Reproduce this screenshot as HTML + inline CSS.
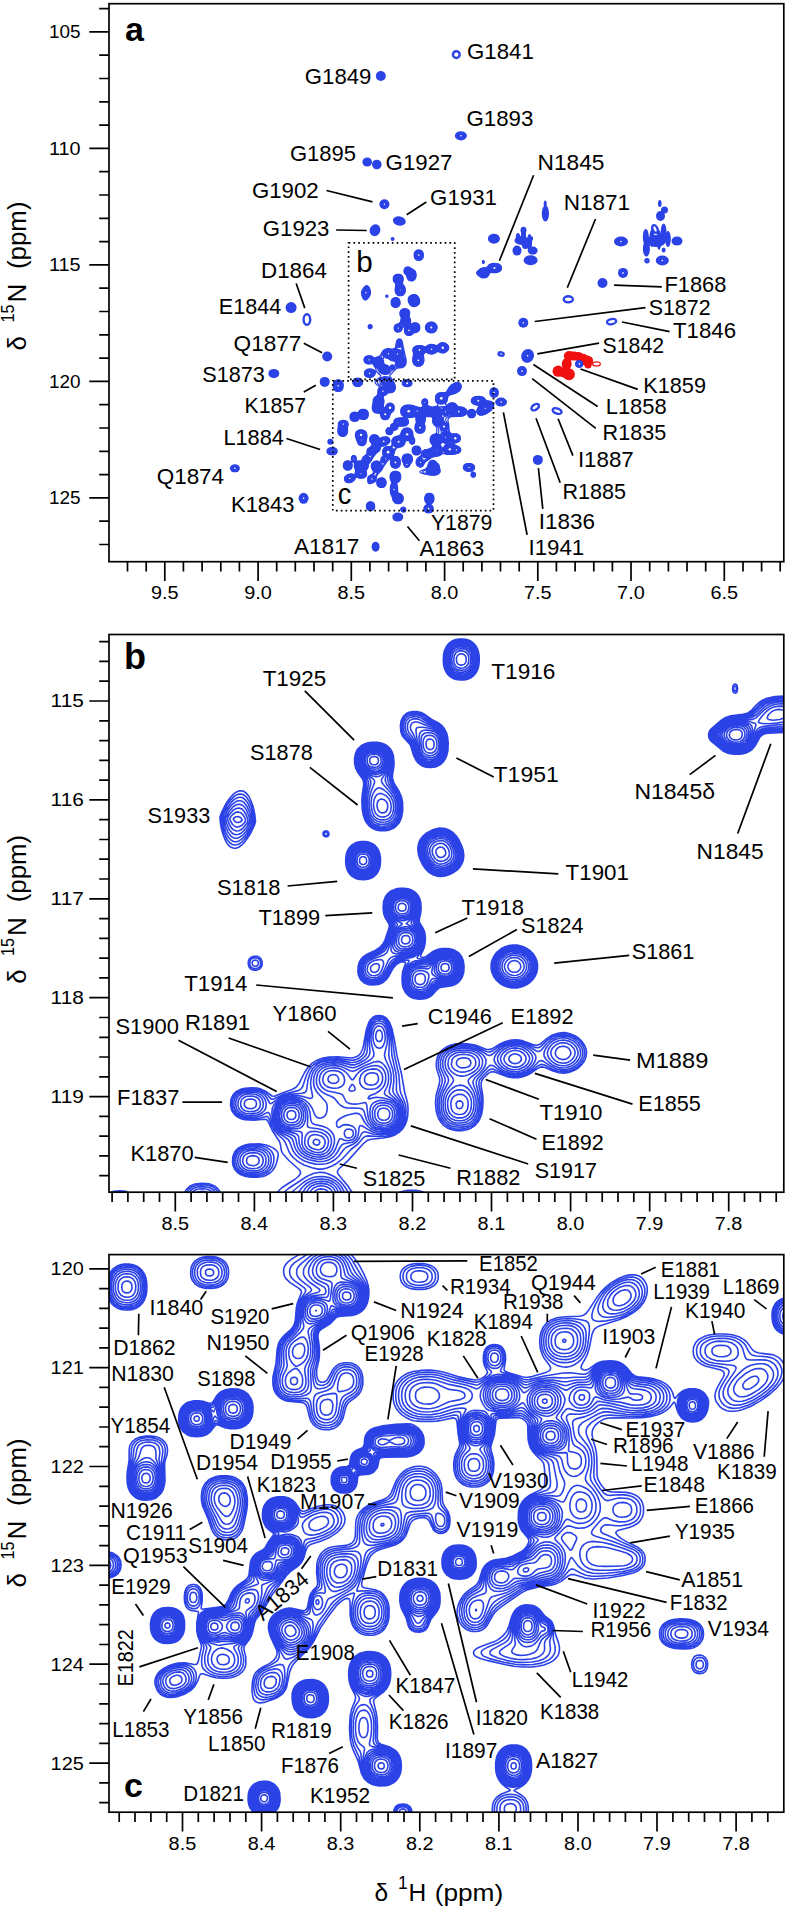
<!DOCTYPE html><html><head><meta charset="utf-8"><title>HSQC</title><style>html,body{margin:0;padding:0;background:#fff}svg{display:block}text{font-family:"Liberation Sans",Arial,sans-serif;fill:#000}.l{font-size:22px}.t{font-size:18.7px}.k{stroke:#000;stroke-width:1.7;fill:none}.ax{font-size:26px}</style></head><body>
<svg width="786" height="1906" viewBox="0 0 786 1906">
<rect width="786" height="1906" fill="#fff"/>
<defs>
<clipPath id="cpa"><rect x="109.0" y="3.7" width="674.8" height="558.0"/></clipPath>
<clipPath id="cpb"><rect x="109.0" y="634.5" width="674.8" height="557.7"/></clipPath>
<clipPath id="cpc"><rect x="109.0" y="1254.6" width="674.8" height="557.6000000000001"/></clipPath>
</defs>
<g clip-path="url(#cpb)"><path fill="none" stroke="#2b42e6" stroke-width="1.6" stroke-linejoin="round" d="M455 639.8l4-0.7 4-0.1 4 0.6 3 1.2 2.7 1.7 2.1 2 2 3 1.3 3 1 5 0.2 5-0.5 5-1.1 4-1.5 3-2.4 3-2.8 2.2-3 1.4-4 0.8-4 0.1-4-0.5-3-1.1-3-1.8-2.2-2.1-2-3-1.3-3-0.9-4-0.3-5 0.3-5 0.9-4 1.9-4 2.4-3 3.2-2.4zM735 684.1l1 0.2 1 1.1 0.6 3.1-0.6 3.4-1 1-1 0.2-1-0.3-1-1.3-0.4-3 0.6-3 0.8-1.1zM406 713.8l3-1.5 4-0.7 4 0 4 0.9 3 1.5 7.7 5.5 7.3 3.8 3 2.4 2.3 2.8 2.1 4 1.3 5 0.5 6-0.3 7-1.2 5-1.2 3-2.5 3.7-3 2.6-3 1.6-3 0.8-4 0.3-4-0.3-3-0.9-2-1.1-3-2.4-1.9-2.3-2.5-5-2.6-8.8-1-2.2-7-7.9-1.2-2.1-1-3-0.4-6 0.8-5 2-4zM785 732.5l-16 0.6-3 0.4-3 1-3 2.3-4.6 8.7-3.4 4-3 2.1-3 1.4-4 1-3 0.3-5 0-4-0.5-3-0.9-4-1.9-11.6-9.5-2.2-3-0.6-3 0.1-2 0.6-2 1.7-2.5 10-8.6 4-2.6 6-2.1 12-1.4 5-1.3 3.4-2.5 4.6-5.2 3.1-2.8 3.9-2.5 4-1.7 8-1.8 10-0.5M368 742.8l4-0.5 5 0.1 4 0.6 3 1 3 1.7 3 2.8 1.9 3 1.5 4 0.7 8-0.4 4-1.2 7 0 4 1.5 4.6 5.1 8.4 2.2 5 1.3 6 0.1 8-1.2 7-1.2 3-1.7 3-2.6 2.8-2 1.6-5 2.2-4 0.6-5 0-4-0.8-4-1.8-3-2.3-2.6-3.3-1.6-3-1.4-4-1.1-6-0.4-8 0.3-6 1.5-11-0.2-3-1.2-3-4.5-6-2-4-1.2-5 0-5 0.9-5 1.3-3 1.4-2 3.8-3.3 3-1.5zM242 790.8l2 0.7 2.6 2 2.3 3 1.5 3 2 5 1.4 5 1.1 6 0.6 6-1.2 4-2.8 6-2.9 5-3.6 5.1-3 3.2-3 2.2-3 1.2-2 0.1-3-1-2-1.6-2-2.5-2-3.7-1.6-4-1.8-6-1.1-6-0.6-6 1.6-5 3-6 2.9-5 2.9-4 2.7-2.9 3-2.4 3-1.3zM440 828.1l5 0.5 4 1.4 3.9 2.5 3 3 2.8 4 2.9 6 1.6 5 0.6 5-0.4 4-0.9 3-2.1 4-2.7 3-3.7 2.7-5 2.5-4 1.3-4 0.5-4-0.4-4-1.3-4-2.5-3-2.8-3.5-5-2.4-5-1.6-5-0.7-5 0.4-4 1.1-4 1.7-3 2.5-3 3.5-2.8 5-2.6 4-1.3zM324 831.4l2-0.6 2.1 0.7 0.9 2-0.4 2-0.6 0.7-1 0.5-2 0-1.6-1.2-0.4-2 0.2-1zM355 843.1l3-1 3-0.5 5 0 3 0.6 3 1.2 3 2.1 1.8 2 1.8 3 1.1 3 0.8 5-0.1 5-0.6 4-1.6 4-2.1 3-2.1 2-3 1.7-3 1-4 0.4-4-0.1-3-0.6-3-1.3-2.9-2.1-1.8-2-1.8-3-1.3-4-0.5-4 0.1-5 0.7-4 1.1-3 1.8-3 2.6-2.6zM396 888.9l4-0.6 4 0 4 0.5 3 1 3 1.6 2 1.7 2 2.4 1.6 3 1.2 4 0.3 6-0.5 5-1.4 6 0 2 0.8 2 2.6 4 1.5 3 0.8 3 0.5 4-0.1 4-0.6 4-1.2 4-2.9 6 0 1 0.4 0.4 2 0.6 3-0.8 7-5.2 5-2.2 4-0.7 6 0 3 0.4 3 1 4 2.4 2 2 1.6 2.1 1.7 4 0.8 6-0.4 6-1.6 5-2.9 4-3.2 2.5-4 1.7-10 1.4-3 1-1.8 1.4-5.5 6-2.7 1.7-3 1.2-3 0.6-4 0.1-3-0.3-3-0.7-2-0.9-2.7-1.7-2-2-1.4-2-1.5-3-0.9-3-0.5-7 0.7-7 2.8-8 0-1-0.5-0.6-2-0.3-2 0.4-2 0.8-2.6 1.7-3.4 3.9-4.5 8.1-2.1 3-3.4 2.9-4 1.8-3 0.6-4 0.2-3-0.3-3-0.9-2.4-1.3-2.2-2-1.5-2-1.3-3-0.7-4 0.3-5 1-4 1.8-3.3 2-2.2 3-2.2 9.2-4.3 4.5-3 3.3-3.7 2-3.8 4-12.1 0.4-2.4-0.6-2-3.7-6-1.4-4-0.6-6 0.5-6 1.9-5 2.5-3.2 3-2.4zM505 946.8l4-1.2 4-0.6 4 0.1 5 1.1 4 1.7 4 2.7 2.9 2.9 2.6 4 1.2 3 0.8 4 0 4-0.8 4-1.2 3-2.6 4-3 3-3.9 2.6-4 1.7-5 1.1-5 0-4-0.7-4-1.4-4-2.3-3.4-3-2.9-4-1.8-4-0.8-4 0.1-5 1.1-4 2-4 2.7-3.4 4-3.3zM251 957.2l3-1 3 0.1 2 0.7 1.8 1.5 1.3 3 0 3-0.5 2-1.6 2.2-3 1.4-3 0.1-3-1-1.7-1.7-1-3 0-3 0.7-2.1zM584.7 1045.5l1.5 4 0.4 3-0.5 4-1.5 4-2.6 3.9-3.2 3.1-3.8 2.6-5 2-6 1.1-5-0.4-6-1.7-8-3.6-3-0.6-2 0.4-2 0.9-7 4.8-4 2.2-5 1.7-4 0.7-5 0.1-5-0.8-14-5.2-3 0.2-3 1.7-4.9 4.9-1.2 2-0.7 2-0.2 3 1.7 10 0.3 6-0.4 7-1.1 6-2 5-1.9 3-2.7 3-3.9 2.7-4 1.6-5 0.8-5 0-5-0.8-4-1.5-4-2.7-2.9-3.1-2.5-4-1.2-3-1.1-4-0.6-5-0.2-5 0.8-7 2.9-10 0.6-4-0.4-3-2.8-9-0.3-3 0.1-4 1.2-5 2.2-4 3.2-3.2 4-2.6 4-1.6 5-1.2 5-0.4 6 0.2 8 1.4 11 4.1 3 0.4 3-0.7 8-4.9 5-2.3 5-1.4 5-0.5 4 0.3 4 0.8 11 4 3 0.4 3-1 7-5.9 5-3.1 6-2.1 5-0.6 4 0.3 3 0.8 6 2.6 3 2.2 2.2 2zM234.4 1152.5l1.4-2 2.2-2.1 2-1.3 3-1.4 3-0.9 4-0.7 9-0.2 7 1.1 4 1.4 3 1.5 2.2 1.6 2 2 0.9 2 0.1 2-1.5 7-1.5 4-2.6 4-2.6 2.5-4 2.4-4 1.3-5 0.6-6-0.1-6-0.9-4-1.5-3.5-2.3-2.7-3-1.8-4-0.5-4 0.4-5zM108.6 1193.5l2.4-1.3 3-0.9 6-0.6 6 0.7 4.8 2.1M184.2 1193.5l2.1-4 3.7-3.4 5-2.1 7-0.8 7 0.6 5 1.9 2 1.3 2 1.9 1.8 2.6 0.8 2M277.1 1193.5l1.9-3 3.1-3 12.6-8 3.7-3 2.1-3-0.1-2-1.4-2-10.1-9-6.2-7-1.4-3-0.9-6-0.9-3-7.2-11-4.2-9-1.1-1.5-1-0.6-2-0.2-10 1-9-0.6-3-0.7-3-1.2-3-1.9-2-1.9-2.2-3.4-1.2-5 0.2-5 0.9-3 1-2 1.5-2 1.8-1.7 4-2.2 5-1.4 7-0.5 5 0.4 4 1 4.9 2.4 6.1 4.5 1 0.3 2-0.2 8-3.3 9.1-3.3 3.9-2.2 3-3.6 5.6-11.2 3.3-5 4.1-4.1 5-3.2 6-2.1 6-1 9-0.3 13 1.2 3-0.4 3-1.1 2-1.4 1.5-1.6 2-4 1-4 2.9-16 2.4-7 1.9-3 2.3-2.2 3-1.5 3-0.3 4 0.6 2 1 2 1.7 2.6 3.7 2.3 6 2.4 11 2.7 16.4 4.4 17.6 3.1 18 3.1 12 0.5 6-0.5 7-1.1 5-1.7 4-2.7 4-3.1 2.9-4 2.5-5 1.8-7 1.3-12 1.2-4 1.4-4 3.4-15 16.6-9.7 8.9-0.9 2 0 1 1 2 9.1 11 5.4 8M398 1193.5l3-1.6 3-0.9 4-0.7 4-0.1 4 0.1 4 0.7 3 1 2.9 1.5M455 640.9l4-0.8 4 0 3 0.4 3 1 3 1.8 2 1.9 1.6 2.3 1.4 3 0.9 3 0.5 5-0.2 5-0.8 4-1.2 3-2.2 3.3-3 2.6-3 1.5-3 0.8-4 0.2-4-0.3-3-0.9-3-1.7-2-1.8-2-2.7-1.4-3-1-4-0.4-5 0.4-5 1-4 1.4-3 2.3-3 2.7-2.2zM735 686l1 0.5 0.5 2-0.3 2-1.2 0.7-1-0.7-0.3-2 0.3-1.7zM407 715l3-1.4 3-0.5 4 0 4 1 3 1.6 6.8 4.8 8.2 4.1 2.3 1.9 2.5 3 1.9 4 1.2 5 0.4 6-0.4 6-1.2 5-1.4 3-2.3 3.2-3 2.5-3 1.4-3 0.6-4 0.2-3-0.4-3-1-2-1.1-2-1.6-2.3-2.8-2.4-5-2.3-8.2-1-2.5-1.6-2.3-4.7-5-1.3-2-1.1-3-0.5-5 0.6-5 1.9-4zM785 731.1l-16 0.8-4 0.7-2.7 0.9-1.6 1-1.7 1.8-4.6 9.2-3.4 3.8-2 1.4-3 1.4-3 0.9-4 0.5-5 0-4-0.6-3-0.9-4-2-11.2-9.5-1.4-2-0.7-3 0.4-3 1.7-3 9.2-8.1 4-2.7 3-1.3 3-0.8 14-1.6 4-1.1 3.5-2.4 7.9-8 3.6-2.3 3-1.4 3-1 5-1 10-0.5M367 743.8l4-0.7 5-0.1 5 0.8 3 1.1 3 1.8 2.8 2.8 1.7 3 1 3 0.6 4 0.1 5-0.5 4-1.6 7 0 4 1.5 4 5.6 9 2.1 5 1.1 6 0.1 7-1 6-1.2 3-1.7 3-1.7 2-2.9 2.3-2 1.1-3 1-4 0.4-4-0.1-4-0.8-3-1.3-3-2.3-2.7-3.3-1.6-3-1.3-4-1-6-0.3-7 0.4-6 1.6-11-0.1-3-1.3-3-4.9-6-2.2-4-1.1-4-0.2-5 0.3-3 0.7-3 2.2-4 3.5-3.4 2-1.1zM241 794l2 0.5 2 1.2 2 2.1 2.3 3.7 1.7 4 1.5 5 1.3 6 0.5 5-1 3-2.9 6-3 5-3.1 4-2.3 2.3-3 2.2-3 1-2 0-2-0.7-2.4-1.8-2.4-3-1.6-3-1.5-4-1.5-5-1-5-0.5-5 1.4-4 3-6 2.5-4 3-3.9 3-3 2-1.4 3-1.1zM440 829.3l4 0.3 4 1.2 4 2.4 2.5 2.3 3 4 3 6 1.3 4 0.8 5-0.2 4-1.2 4-1.6 3-2.6 3-3 2.4-5 2.5-4 1.4-4 0.5-4-0.4-4-1.4-3-1.8-3.4-3.2-2.8-4-2.9-6-1.5-5-0.4-4 0.3-4 0.9-3 1.5-3 2.4-3 2.9-2.4 4-2.2 5-1.9zM325 832.3l1-0.2 1.2 0.4 0.5 1-0.1 1-0.6 0.7-1.2 0.3-0.8-0.3-0.6-0.7-0.1-1zM357 843.1l4-0.7 4 0 3 0.4 3 1 2.8 1.7 2 2 1.5 2 1.4 3 0.9 4 0.2 4-0.2 4-0.9 4-1.3 3-2.3 3-2.1 1.7-3 1.6-4 0.9-3 0.2-3-0.2-4-1-3-1.6-2-1.7-2.2-2.9-1.3-3-0.9-4-0.2-4 0.2-4 1-4 1.4-3 2.3-3 2.7-2zM395 890l4-0.8 5-0.1 4 0.6 3 1 3 1.7 2.2 2.1 2.1 3 1.2 3 0.7 4 0.1 5-0.5 4-1.7 6-0.1 2 0.7 2 2.8 4 2 4 0.9 4 0.1 4-0.3 4-1 4-1.9 4-3.7 5-0.5 1 0.7 1 3.2 0.6 4-0.4 2-1.1 5-4.3 4-2.4 5-1.4 6-0.2 5 0.8 3 1.3 2 1.2 2 1.8 1.6 2.1 1.9 4 0.8 6-0.4 6-1.2 4-2.7 4.1-3 2.5-4 1.8-4 0.8-7 0.6-3 1.1-7 7.3-2 1.3-3 1.3-3 0.6-4 0.2-3-0.3-3-0.8-3-1.6-2-1.6-1.9-2.3-1.1-2-1.2-3-0.6-3-0.1-8 0.4-3 1.3-4 4.2-7 0-1-1-0.4-3-0.2-3.8 0.6-2.6 1-2.6 1.7-2 1.9-2 2.7-4.2 7.7-2 3-2.8 2.5-4 2-3 0.6-4 0.2-5-0.9-2.6-1.4-2.2-2-1.4-2-1.3-3-0.4-4 0.2-4 1.1-4 1.8-3 3.8-3.4 9.6-4.6 4.4-2.8 3-3 2.4-4.2 4.8-14 0.3-2-0.5-2-4.4-7-1.1-3-0.6-5 0.3-6 1.2-4 2.6-4 3-2.6zM507 947.3l4-0.9 4-0.3 4 0.5 4 1.2 4 2 3 2.4 2.9 3.3 1.7 3 1.1 3 0.7 4-0.3 4-1.1 4-1.5 3-2.5 3.3-3 2.7-4 2.3-4 1.4-4 0.6-4 0-5-1.1-4-1.7-4-2.8-2.5-2.7-2.5-4-1.4-4-0.4-4 0.4-4 1.4-4 2.5-4 2.5-2.7 4-2.8zM251 959.4l2-1.3 2-0.3 2 0.2 2 1 1.1 1.5 0.5 3-0.3 2-1.3 1.9-2 1-2 0.2-2-0.3-2-1.3-0.9-1.5-0.3-2 0.1-2zM388 1022.5l2.2 5 1.6 7 2.7 21 4.3 19 1.3 16 0.9 3 3.8 9 0.8 3 0.5 4-0.4 8-0.9 4-1.2 3-1.8 3-1.7 2-4.1 3.3-5 2.1-5 1.1-8 0.5-10-0.6-3 0.6-2 1.6-5 5.9-7.1 5.5-8.2 9-5.7 4.7-5 2.8-5 2-5 1.1-4 0-6-1.3-8-2.8-6-3.4-4.8-4.1-2.5-3-1.8-3-4-10-1.6-2-6.3-5.8-3.3-4.2-2.1-4-2.6-6.9-1-1.4-1-0.7-1-0.1-7 1.8-5 0.6-5-0.1-4-0.5-3-0.8-3-1.3-3-2.2-1.9-2.4-1-2-0.8-3-0.1-4 0.4-3 1.3-3 1.4-2 2.2-2 2.5-1.4 4-1.4 4-0.5 5-0.1 5 0.7 3 0.9 3 1.6 2.8 2.2 4.2 4.4 2 0.3 11-5 13-3.3 3.3-1.4 1.1-1 1.3-2 4-12 2.6-5 2.3-3 2.2-2 5.2-3.2 5-1.7 6-0.9 9-0.1 13 1.6 4-0.6 3-1.4 3.3-2.7 1.3-2 0.8-2 0.7-3 1.3-12 1.3-7 1.6-5 2.4-4 2.3-2.1 2-0.9 2-0.4 3 0.1 2 0.6 2 1.2zM582.8 1045.5l1.5 4 0.5 3-0.5 4-1.7 4-2.6 3.6-3 2.8-4 2.4-4 1.5-6 0.8-5-0.6-5-1.6-9-4.6-3-0.4-3 1.3-7 5.6-5 2.8-6 1.9-5 0.5-4-0.3-5-1.3-12-5.5-2-0.4-2 0.5-3 2.2-4.7 4.8-2.4 3-0.9 2-0.1 4 1.8 8 0.7 5-0.2 9-0.8 5-1.3 4-2.1 4-2.4 3-3.6 2.8-5 2-5 0.7-6-0.3-4-1-4.3-2.2-3.4-3-2.8-4-1.6-4-1-4-0.5-5 0-5 1.1-7 3.4-10 0.4-3-0.4-3-3.2-9-0.4-3 0.1-4 0.8-4 2.1-4 2.9-3 3.8-2.5 5-1.9 4-0.8 5-0.3 6 0.2 4 0.6 4 1.1 11 4.8 3 0.3 3-1.3 7-5 4-2.1 5-1.7 6-0.8 4 0.3 4 0.9 4 1.4 8 3.7 3 0.4 3-1.4 6.1-5.9 4.9-3.4 5-2 6-0.9 6 0.8 5 2 5 3.7 2 2.2zM236.3 1152.5l1.7-2.1 3-2.2 3-1.4 3-0.8 5-0.6 5-0.1 4 0.4 4 1.1 3 1.5 2 1.4 1.7 1.8 1.6 3 0.5 2 0.1 3-0.3 3-0.8 3-1.6 3-2.6 3-3 2-3.6 1.5-4 0.8-5 0.1-5-0.4-4-1-3-1.3-3-2.3-2-2.4-1.3-3-0.6-3 0.1-4 0.6-3zM112.2 1193.5l3.8-1 4-0.2 4 0.3 3.3 0.9M186.2 1193.5l1-2 1.5-2 3.3-2.5 5-1.8 5-0.4 6 0.5 5 1.8 3.1 2.4 1.5 2 1 2M283.5 1193.5l2.5-3 2.4-2 17.6-11.5 4-2.1 4-1.6 6-1.1 4 0.4 4 1.1 5 2.3 3 1.8 4 3.3 3 3.4 2.9 4 2.9 5M402.7 1193.5l4.3-1.1 5-0.4 5 0.4 4.2 1.1M456 641.8l3-0.5 4 0 3 0.4 3 1.1 2.7 1.7 1.9 2 1.4 2 1.3 3 0.8 4 0.3 4-0.3 4-0.8 4-1.3 3-2.3 3-2.7 2.2-3 1.3-3 0.7-4 0.1-3-0.4-3-1-3-1.9-2-2-1.4-2-1.3-3-0.9-4-0.2-5 0.4-4 1.1-4 1.6-3 1.7-2.1 3-2.3zM408 716.4l3-1.3 3-0.4 4 0.2 3 0.9 8.7 5.7 8.3 3.8 2.8 2.2 2.2 2.8 1.7 3.2 1.3 5 0.4 5-0.3 6-0.8 4-1.6 4-2.1 3-2.6 2.3-3 1.5-3 0.8-4 0.1-3-0.4-3-1.1-2-1.2-2-1.8-1.7-2.2-2-4-3.3-11.5-1.5-2.5-5.2-6-1.6-4-0.3-5 0.7-4 1.6-3zM785 729.7l-16 1-4 0.6-3 0.9-2 1.3-1.8 2-3.7 8-1.5 2.4-2 2.2-2 1.5-3 1.6-3 0.9-4 0.6-5 0-4-0.6-3-1-3-1.5-3-2.2-7.9-6.9-1.4-2-0.8-3 0.4-3 1.8-3 8.9-7.8 4-2.6 3-1.2 4-0.9 12-0.9 4-0.8 3.5-1.8 8.1-8 5.4-3.6 4-1.5 5-1.2 5-0.5 5 0M368 744.4l4-0.6 5 0.1 4 0.7 3 1.2 2.6 1.7 2.1 2 1.9 3 1.1 3 0.6 4 0 5-0.6 4-2 7-0.2 4 1.5 4.4 5.6 8.6 1.9 4 1.5 6 0.2 7-0.9 6-1.1 3-1.7 3-3.5 3.5-2 1.2-3 1.1-4 0.5-4-0.1-4-0.9-3-1.5-2.2-1.8-2.4-3-1.6-3-1.3-4-0.9-7-0.2-6 0.4-5 1.8-11 0-3-1.3-3-5.4-6-2.4-4-1.1-4-0.3-5 0.3-3 0.8-3 2.3-4 3.5-3 3-1.5zM241 797.3l2 0.7 2 1.5 2 2.4 1.5 2.6 3 8 1 5 0.5 4-1.6 4-2.1 4-2.6 4-2.7 3.4-2 1.9-3 2.1-2 0.7-2 0.1-2-0.5-2-1.2-2-2-2-3.2-1.5-3.3-1.5-5-1.6-9 1.1-3 2.5-4.8 5-7.1 3-2.9 2-1.3 3-1.1zM439 830.7l4 0 4 1 3 1.5 3 2.5 3.1 3.8 2.3 4 2 5 1 5-0.1 4-0.6 3-1.3 3-2.4 3.3-3 2.6-3 1.8-5 2-4 0.8-4-0.2-3-0.7-4-2.1-3-2.7-2.9-3.8-2.6-5-1.7-5-0.6-4 0.2-4 0.7-3 1.5-3 2.3-3 3.1-2.6 3-1.7 4-1.6zM357 844l3-0.7 4-0.2 3 0.3 3 0.9 3 1.6 1.7 1.6 1.6 2 1.5 3 0.9 3 0.3 4-0.2 5-0.6 3-1.2 3-2 2.9-2 1.8-3 1.7-3 0.8-4 0.4-4-0.4-3-0.9-3-1.7-1.7-1.6-1.5-2-1.5-3-1-4-0.2-4 0.3-4 1-4 1.5-3 2.1-2.5 2-1.6zM411 891.6l3 1.9 2.7 3 1.6 3 0.8 3 0.5 4-0.3 5-0.6 3-1.8 5-0.2 2 0.6 2 4.3 6 1.7 5 0.3 4-0.2 4-0.6 3-1.1 3-1.7 2.9-2 2.4-4 3-3 1-6.4 0.7-4.5 1-2.5 1-2.6 1.7-2 2-2 2.8-5.2 9.5-1.8 2.1-2.4 1.9-3.6 1.5-3 0.5-4 0-4-1.1-2-1.1-1.9-1.8-1.4-2-0.8-2-0.6-3 0-3 0.4-3 1.1-3 2-3 2.2-2 3-1.7 9.2-4.3 2.8-1.9 2.2-2.1 2.8-4.6 3.3-10.4 2.4-6 0-2-0.4-1-4.3-6-1.9-5-0.4-4 0.1-4 0.5-3 1-3 1.7-2.7 2-2.1 3-2 3-1.1 4-0.7 4 0 3 0.4zM509 947.9l4-0.5 4 0.1 3 0.5 4 1.5 3 1.8 3 2.6 2.7 3.6 1.3 3 0.8 3 0.2 4-0.6 4-1.2 3-1.9 3-2.8 3-3.5 2.4-3 1.4-4 1.1-4 0.3-4-0.4-4-1.2-4-2.1-3-2.5-2.4-3-2-4-1-4 0-4 1-4 1.4-3 2.1-3 3.3-3 3.6-2.1zM458.8 955.5l2 3 1.1 3 0.6 4-0.1 5-0.8 4-1.4 3-2.2 2.9-2 1.7-2 1.1-3 1.1-3 0.6-8 0.6-2 0.6-2 1.3-3.3 4.1-2.7 2.6-3 1.6-3 0.9-5 0.3-5-0.8-4-2.1-3.3-3.5-1.5-3-1-4-0.3-5 0.5-5 0.8-3 1.8-3.5 2-2.5 3-2.5 3-1.1 7-0.3 3-0.5 2-1 7-6.2 4-1.9 3-0.7 6-0.2 5 0.9 4 1.9zM253 960.8l2-0.7 2 0.4 1 1 0.3 1-0.2 2-0.6 1-1.5 0.7-1 0.1-2.1-0.8-0.8-2 0-1zM387 1023.7l1.7 3.8 1.4 6 0.9 7 0.9 15 4.1 18 0.5 6-0.1 11 1 3 5.3 9 1.2 4 0.6 4-0.4 7-0.6 3-1.1 3-1.7 3-1.6 2-4.1 3.2-3 1.4-3 0.9-8 0.8-7-0.6-9-2.4-2 0.4-1.3 1.3-2.6 5-2.2 3-2.9 2.2-8.1 3.8-2.1 2-5.3 7-4.5 3.8-4 2.2-4 1.2-5 0.6-5-0.2-6-1.2-6-2.2-4-2.3-4-3.5-3.1-4.4-2.9-8-1.8-3-9.2-6.4-4.1-4.6-2.5-5-2.4-8.6-1-1.9-1-0.5-1 0.1-5.5 2.9-4.5 1.4-4 0.4-5-0.1-4-0.7-4-1.6-3-2.3-1.6-2.1-1.2-3-0.3-3 0.1-3 0.8-3 1.2-2.2 2-2.2 3-1.9 3-1 4-0.6 5-0.1 4 0.6 3 0.9 2.7 1.5 2.3 2 1.6 2 2.7 5 0.7 0.9 1 0.2 1-0.4 7-5.1 5-2.4 6-1.4 12-1 2.9-0.8 1.1-1.1 0.7-1.9 1.2-9 2-7 2.8-5 3-3 2.3-1.7 3-1.5 4-1.2 3-0.6 5-0.3 5 0.1 5 0.6 7 1.5 3 0.1 4-0.8 4-2 3.9-3.2 1.3-2 0.7-2 0.4-3 0.4-11 0.7-6 1.5-6 2.1-4 3-2.7 2-0.7 3-0.2 2 0.4 2 1 1.4 1.2zM581.1 1046.5l1.5 4 0.2 3-0.5 3-1.8 4-2.4 3-3.1 2.6-4 2.2-4 1.2-5 0.4-6-1.2-5-2.4-8-5.2-2-0.5-2 0.7-7.1 7.2-4.9 3.4-6 2.4-4 0.7-3 0.1-5-0.8-4-1.4-4.8-2.4-7.2-4.8-2-0.5-1 0.2-2 1.7-9.4 10.4-1.5 2-0.8 2 0 3 3.1 12 0.4 8-0.5 5-1.2 5-1.8 4-2.3 3-3 2.6-4 2-5 1-6-0.1-4-0.9-4-1.9-3.2-2.7-2.8-4-1.6-4-0.9-4-0.4-5 0.2-5 1.2-6 4.1-10 0.6-3-0.5-3-3.8-9-0.5-3 0.1-4 0.9-4 1.5-3 2.9-3 3.2-2.1 4-1.6 5-1 6-0.2 6 0.4 7 2 4 1.9 6 3.8 2 0.8 1 0 2-0.9 8-7 4-2.4 6-2.1 6-0.6 4 0.5 5 1.6 4 1.9 7 4.3 2 0.7 1 0 2-1.1 5.7-6.9 4.7-4 5.6-2.7 3-0.7 3-0.2 3 0.2 3 0.7 5 2.2 4.3 3.5zM237.7 1153.5l1.6-2 1.7-1.4 3-1.6 3-1 4-0.6 5-0.1 4 0.5 3 0.9 4.1 2.3 2 2 1.2 2 0.6 2 0.3 3-0.2 3-0.8 3-1.6 3-1.9 2-2.7 1.8-3 1.2-4 0.8-5 0.1-4-0.4-4-1.1-3-1.6-2-1.7-1.6-2.1-0.9-2-0.6-3 0-4 0.7-3zM188.5 1193.5l2.2-3 3.3-2.3 4-1.3 4-0.3 5 0.4 4 1.3 3.1 2.2 2.1 3M291 1193.5l2.7-3 9.7-8 3.6-2.4 4-1.9 3-0.9 3-0.6 4-0.1 4 0.2 4 0.8 4 1.6 3 1.9 2.8 2.4 2.5 3 3.8 7M457 642.9l3-0.4 4 0.1 3 0.7 2 0.8 2 1.4 1.9 2 1.3 2 1.2 3 0.8 4 0 5-0.5 4-1 3-1.7 2.9-2 2.1-2 1.4-3 1.1-3 0.5-4 0-3-0.6-2-0.8-2.4-1.6-1.9-2-1.3-2-1.2-3-0.8-4-0.1-4 0.4-4 0.8-3 1.5-3 2-2.4 3-2.2zM409 718.1l2-1 3-0.5 3 0.1 3 0.7 8.4 5.1 8.6 3.7 3 2.2 2 2.4 1.9 3.7 1.1 4 0.4 5-0.3 6-0.9 4-1.8 4-2.4 3-2 1.5-2 1-3 0.8-4 0.1-3-0.4-2-0.7-2.3-1.3-2.3-2-1.4-1.9-2.3-5.1-2.7-10.6-2-3.4-4-4.7-1.4-3.3-0.4-4 0.5-4 1.3-2.5zM785 728.1l-17.8 1.4-3.2 0.6-3 1-2 1.4-1.6 2-3.9 9-2.5 3.3-2 1.7-3 1.7-3 1-3 0.5-4 0.2-4-0.3-3-0.7-4-1.7-3-2.1-7.5-6.6-1.9-3-0.4-2 0.4-3 1.9-3 7.5-6.7 4-2.7 3-1.3 4-0.9 14-0.9 3-0.5 3.8-2 8.3-8 2.9-2.1 3-1.6 4-1.4 4-0.8 9-0.4M368 745.2l3-0.5 5-0.1 4 0.6 3 1 3 1.9 2 2 1.6 2.4 1.1 3 0.7 4 0 5-0.8 4-2.8 8-0.3 2 0.2 2 1.6 4 5.5 8 2.5 5 1.3 5 0.2 7-1 6-1.3 3-1.2 2-3.3 3.2-2 1.1-3 1-3 0.4-4-0.2-3-0.6-3-1.4-2-1.6-2.5-2.9-1.5-3-1.2-4-0.9-7-0.1-5 0.6-6 2.1-10 0-3-1.4-3-6-6-2.6-4-1.2-4-0.3-5 0.8-5 2.1-4 1.8-2 2.3-1.7zM240 800.7l2 0.5 2 1.3 3.1 4 2.9 7 1.2 5 0.3 3-3.5 7-2.1 3-2.9 3.3-4 2.8-2 0.6-2 0.1-2-0.7-2-1.4-3-4.1-2.6-6.6-1-4-0.5-4 3.5-7 4.6-5.9 4-3 2-0.8zM439 832l4 0 3 0.7 3 1.4 3.1 2.4 2.9 3.5 2.5 4.5 1.9 5 0.7 4 0 3-0.8 4-1.4 3-1.9 2.4-3 2.6-3 1.7-4 1.7-4 0.8-3-0.1-4-0.9-3-1.6-3.1-2.6-3-4-2.5-5-1.4-4-0.6-4 0.3-4 0.8-3 1.6-3 1.7-2 3.2-2.7 3-1.6 3-1.3zM357 844.9l3-0.7 3-0.2 3 0.1 3 0.7 3 1.5 2 1.7 1.3 1.5 1.6 3 0.9 3 0.5 4-0.1 4-0.8 4-1.3 3-1.4 2-2.2 2-2.5 1.5-3 0.9-3 0.3-4-0.2-3-0.7-2-0.9-2.5-1.9-1.7-2-1.6-3-0.9-3-0.4-4 0.3-5 0.7-3 1.3-3 1.8-2.3 2-1.7zM410 892.1l3 1.7 2.6 2.7 1.8 3 0.9 3 0.4 4-0.3 5-0.7 3-2.5 7 0.5 2 4.7 6 1 2 0.9 3 0.3 4-0.2 4-0.6 3-1.2 3-2.6 3.6-4 3-3 1.1-12 2.3-2.6 1-2.4 1.6-2 2-2 2.8-5.1 9.6-1.9 2.2-2 1.6-3 1.3-4 0.6-4-0.3-3-1.1-3-2.5-1.9-3.8-0.4-5 0.4-3 0.7-2 1.9-3 2.3-2 3-1.8 9.3-4.2 3-2 2-2 1.7-2.7 1-2.3 3.3-11 2.8-6 0.2-2-0.5-1-3.8-4.6-1.5-2.4-1.7-5-0.2-7 0.6-3 1.1-3 1.7-2.6 2-1.9 2-1.3 3-1.2 3-0.6 5-0.1 3 0.3zM504 951.3l3-1.4 4-1 4-0.3 3 0.3 3 0.8 3 1.3 3 2 2.6 2.5 2.1 3 1.2 3 0.7 3 0 4-0.7 3-1.2 3-2.1 3-2.6 2.5-3 2-4 1.6-4 0.7-4 0-3-0.6-4-1.5-3-1.9-3-2.8-2-3-1.6-4-0.5-4 0.3-3 1.2-4 1.8-3 2.8-3zM458.5 956.5l1.8 3 1.1 4 0.3 4-0.3 4-0.7 3-1.5 3-1.6 2-2.6 2.2-3 1.4-3 0.8-9.5 0.6-2.5 0.6-1.8 1.4-4.1 5-2.1 1.8-3 1.5-3 0.8-5 0.1-4-0.9-4-2.3-2.5-3-1.4-3-0.8-3-0.3-5 0.3-4 0.8-3 1.4-3 2.5-3 2-1.6 4-1.5 8-0.6 2-0.6 2-1.3 6-5.9 3-1.7 4-1.1 6-0.3 5 1 4 2.1zM383 1021.9l2 1.8 1.7 2.8 1.1 3 0.9 5 0.6 7-0.5 14 0.8 4 3.2 10 0.9 6 0.1 6-0.9 7 0.1 3 0.8 2 4.9 6 1.9 3 1.3 3 0.7 3 0.3 4-0.3 5-0.9 4-1.4 3-3.2 4-4.1 2.7-5 1.6-6 0.5-5-0.3-4-1.1-4-1.8-7-4.4-2-0.1-1 1.9-0.4 5-0.7 3-0.7 2-1.3 2-1.9 1.7-2 1-8 1.6-2 0.9-1.5 1.8-2.8 5-2 3-2.7 2.7-3 2-3 1.3-3 0.7-3 0.3-4-0.1-8-1.7-6-2.7-4-3.2-2.6-3.3-1.8-4-1.6-6-1.1-2-2.6-2-5.3-2.3-4-2.5-2.4-2.2-2.3-3-2.1-5-1.3-8 0.3-5 1.4-3 2.3-3 4.1-3.4 4-1.9 4-1 5-0.6 5 0 4 0.6 8 2.2 1 0 1-0.5 0.6-1.4-0.1-1-1.6-8-0.3-4 0.4-4 0.8-4 1.6-4 2.1-3 2.5-2.3 3-1.8 3-1.2 3-0.8 8-0.5 6 0.5 10 2.5 3 0 5-1.6 6.7-3.8 2.9-3 1.2-3 0.1-3-0.6-8 0-5 1-7 1.2-4 1.8-3 2.7-2 2-0.6 2 0zM550.7 1042.5l2.3-1.7 3-1.5 3-1 3-0.5 3 0.1 3 0.6 5 2.2 2.4 1.8 1.9 2 1.4 2 1.4 3 0.5 3-0.1 2-0.9 3-1 2-2.4 3-3.2 2.6-3 1.5-4 1.2-3 0.2-4-0.5-4-1.3-3-1.6-2.8-2.1-3-3-1.9-3-0.4-2 0.5-3 1.3-3 2.1-3zM494.8 1056.5l1.8-3 1.7-2 2.7-2.4 3-2 6-2.4 6-0.6 4 0.5 3 0.9 4 1.9 3 2 2.5 2.1 2.5 3 0.8 2 0.1 2-1 3-1.9 3-2.7 3-2.5 2-2.8 1.6-4 1.6-4 0.7-3 0.1-4-0.6-4-1.3-3-1.5-3.7-2.6-3-3-1.8-3-0.4-2zM467 1048.3l4 0.6 4 1.1 3.3 1.5 3 2 2.2 2 2 3 0.5 2-0.2 3-1 3-1.8 3-2.5 3-6.2 6-1.3 3 0.3 3 3.5 9 1.1 6 0.2 4-0.4 5-0.8 4-1.1 3-1.8 3-1.6 2-2.4 2-2 1.1-5 1.4-7 0.1-5-1.5-2-1.1-2.5-2-2.9-4-1.2-3-0.8-3-0.6-8 0.7-6 1.7-5 4.3-8 0.9-3-0.6-3-3.4-6-1.3-3-0.7-4 0.3-4 0.8-3 1.3-2.3 2-2.2 3-2.1 3-1.3 4-1 5-0.4zM236.8 1098.5l1.3-2 1.9-1.7 2-1.2 3-1 3-0.5 4-0.1 3 0.3 3 0.8 4 2.3 2.6 3.1 0.8 2 0.7 3 0 3-0.5 2-1.1 2-2.1 2-2.4 1.5-3 1.1-6 0.6-4-0.2-3-0.7-2-0.7-2.5-1.6-1.9-2-1.1-2-0.5-2-0.3-3 0.4-3zM240.9 1152.5l2.1-1.6 2-1 5-1.2 7-0.1 3 0.6 3 1.2 3 2.2 1.4 1.9 0.9 2 0.4 2 0 3-0.6 3-0.9 2-1.5 2-2.5 2-2.2 1.1-3 0.8-4 0.4-4-0.2-3-0.5-3-1.1-2.4-1.5-1.6-1.6-1.4-2.4-0.6-2-0.2-3 0.3-3 1.2-3zM191.4 1193.5l1.7-2 2.9-1.7 3-0.8 3-0.3 4 0.3 3 0.9 2.6 1.6 1.8 2M297.6 1193.5l4.5-6 3.2-3 2.7-2 3-1.6 3-1.1 3-0.6 4-0.2 4 0.2 3 0.6 3 1 3 1.7 2.5 2 1.8 2 1.9 3 1.7 4M456 644.5l3-0.6 3-0.1 3 0.3 2 0.6 2 1 2.2 1.8 1.6 2 1.4 3 0.7 3 0.2 4-0.2 4-0.7 3-1.4 3-1.6 2-2.2 1.8-2 1-3 0.8-3 0.2-3-0.3-3-0.9-2-1.2-2-1.8-1.7-2.6-0.9-2-0.7-3-0.2-4 0.2-4 0.7-3 1.4-3 1.6-2 1.6-1.4zM410 720.4l2-1.1 2-0.4 3 0 2 0.5 7.5 4.1 9.5 3.6 3 2.1 2 2.3 1.7 3 1.2 4 0.5 5-0.2 5-0.8 4-1.2 3-2 3-2.2 1.9-2 1.2-3 0.8-3 0.2-3-0.3-4-1.5-2-1.5-1.6-1.8-1.7-3-1.1-3-2.6-11.2-1.4-2.8-3.8-5-1.2-3-0.2-3 0.4-3 1.1-2zM785 726.3l-19 1.8-3 0.5-3 1.2-2 1.6-1 1.3-4.1 9.8-2.9 3.9-4 2.8-3 1.1-3 0.5-4 0.2-4-0.3-3-0.8-4-1.8-3-2.2-6-5.4-1.6-2-0.8-3 0.4-3 2-3 7-6.3 4-2.5 4-1.5 3-0.5 6-0.4 8 0 4-0.8 4-2.4 8-7.7 5-3.1 3-1.1 4-0.9 4-0.4 5 0M369 745.9l4-0.4 4 0.1 3 0.5 3 1.1 3 2.1 1.9 2.2 1.5 3 0.6 2 0.5 5-0.2 4-1.1 4-3.7 8-0.3 3 1.6 4 6.7 9 2.1 4 1.4 5 0.3 6-0.9 6-1.8 4-1.6 2-2 1.7-4 1.7-3 0.4-4-0.1-3-0.8-2-1-2-1.5-2.1-2.4-1.6-3-0.9-3-1-7 0-6 0.9-6 2.4-9 0.1-3-0.7-2-0.7-1-6.4-5.4-2.9-3.6-1.7-4-0.5-5 0.6-5 1.8-4 1.7-2 2-1.6 2-1.1zM240 804.3l3 1.4 1.8 1.8 1.4 2 2.5 6 1 4 0.1 2-2.8 5.2-4 4.8-2 1.7-2 1-3 0.6-2-0.5-2-1.3-2.8-3.5-2.5-6-1-4-0.1-2 3.4-6 4-4.6 2-1.4 2-1zM440 833.3l3 0.1 3 0.8 3 1.5 3.2 2.8 2.3 3 2.5 5 1.3 4 0.6 4-0.3 3-0.8 3-1.6 3-2.2 2.4-3 2.2-4 1.9-3 1-3 0.3-3-0.2-3-0.9-3-1.8-3-2.8-2.2-3.1-2.5-5-0.9-3-0.6-4 0.1-3 0.7-3 1.6-3 1.8-2.2 3-2.4 3-1.6 4-1.5zM357 845.9l3-0.8 3-0.2 3 0.2 3 0.7 2 1 2 1.4 1.9 2.3 1.1 2 0.7 2 0.7 4 0 4-0.6 4-1.2 3-1.3 2-2 2-2.3 1.5-2 0.7-3 0.5-4 0-3-0.6-3-1.3-2-1.5-1.8-2.3-1.1-2-0.9-3-0.4-3 0-4 0.6-4 1.3-3 1.3-2 2-1.9zM410 893.1l3 1.9 2.2 2.5 1.6 3 0.7 3 0.3 5-0.5 4-0.9 3-2.6 5-0.4 2 1.2 2 4.5 5 1.1 2 1 3 0.4 3-0.1 4-0.5 3-1.1 3-1.2 2-1.7 2-4 2.7-3 1-12.8 2.3-4.2 2-2 1.9-1.5 2.1-5.7 11-1.8 2.1-2 1.5-3 1.2-3 0.4-3-0.2-3-1-1.5-1-1.5-1.7-1.5-3.3-0.2-5 1.2-4 1.5-2.2 3-2.4 12-5.4 4-3 1.4-2 1.3-3 3.7-13 3.7-7-0.4-2-5.5-6-2-4-0.7-4-0.1-4 0.5-3 1-3 1.9-3 2.1-2 2.1-1.3 3-1.1 3-0.4 4 0 3 0.4zM506 951.9l3-1.2 3-0.6 4-0.1 3 0.6 3 1 3 1.7 2.6 2.2 1.7 2 1.7 3 0.9 3 0.3 3-0.3 3-0.9 3-1.7 3-1.7 2-2.6 2.2-3 1.7-4 1.3-3 0.3-4-0.3-4-1.1-3-1.6-3-2.5-1.7-2-1.7-3-0.9-3-0.3-4 0.5-3 1.2-3 2-3 2.9-2.8zM458 957.4l1.7 3.1 0.8 3 0.3 4-0.3 4-0.8 3-1.6 3-1.8 2-2.3 1.7-2 0.9-3 0.8-11 0.6-2 0.6-1.8 1.4-3 4-2.2 2.2-3 1.7-3 0.9-5 0.1-4-1-3.2-1.9-2.5-3-1.3-3-0.7-3 0.1-7 0.7-3 1.3-3 1.6-2.1 2-1.7 4-1.8 8-0.7 2.8-0.7 2.2-1.8 5-5.5 3-1.8 4-1.3 6-0.3 4 0.8 4 1.9zM382 1023.8l2 1.7 1.2 2 1.1 3 0.9 5 0.2 4-0.3 4-2.4 10-0.2 2 1.1 4 4.1 9 1.4 6 0 7-1.9 9 0.1 2 1.2 2 5.5 4.8 2 2.4 2.1 3.8 1.1 4 0.2 4-0.3 4-1 4-1.4 3-1.7 2.1-2 1.8-2 1.3-3 1.2-6 0.9-6-0.3-5-1.6-2.5-1.4-2.4-2-3.3-4-3.8-7-2-1.6-2-0.5-3 0-7 1.8-5.3 2.3-4.1 3-1.1 2 0.2 3 0.4 1 1.2 1 0.7 0 4-2.5 2-0.4 4 0.3 4 1.6 2 2 1 3-0.4 4-1.6 3-2 1.4-4 0.8-3-0.3-4-1.6-1 0-1 1-3.3 8.7-2.2 4-3.5 3.6-4 2.1-5 1-5-0.2-6-1.4-5-2.2-3.8-2.9-2.9-4-1.1-3-1.5-7-1.2-2-2.5-1.5-6-1.9-4-1.9-3-2.3-2.6-3.4-2-5-0.8-6 0.4-5 1.7-4 2.3-3 2-1.7 5-2.5 3-0.7 4-0.4 4 0 3 0.5 3 0.9 3 1.5 4 3.4 3.3 5 2.7 6.7 2 2.3 2 0.6 2-0.1 1.6-0.5 1.7-1 1.6-2 0.7-2 0.7-4-0.2-3-0.5-2-1-2-8.4-9-2.8-5-0.8-4 0-4 0.8-4 1.6-4 1.5-2 2.5-2.2 3-1.7 4-1.3 6-0.6 6 0.3 4 0.9 7 2.5 3 0.3 2-0.3 3-1.2 9.5-4.7 3.2-2 2-2 0.7-1 0.5-2-0.1-2-2.2-8-0.6-4 0.1-5 1.1-6 1.8-3.8 2-1.8 3-0.7zM554 1042.8l5-2.3 5-0.5 5 1.1 4 2.4 2.1 2 1.4 2 1.5 4 0.1 2-0.4 2-2 4-1.7 2-3 2.2-3 1.3-3 0.7-3 0.1-3-0.5-3-1.1-3-1.8-2.2-1.9-2.3-3-1-3-0.1-2 0.9-3 1.1-2 2.5-3zM497.9 1056.5l2.4-4 2.1-2 2.6-1.8 5-2.2 3-0.6 3-0.1 3 0.4 3 0.9 3.1 1.4 2.9 2 2.1 2 1.5 2 0.8 2 0.3 2-0.3 2-1.5 3-2.5 3-2.4 1.9-3 1.7-3 1-3 0.6-3 0.1-4-0.7-3-1.1-3-1.6-2.5-1.9-1.9-2-1.7-3-0.4-3zM467 1050.1l4 0.6 3 0.9 3 1.5 2 1.5 1.8 1.9 1.5 3 0.3 2-0.2 3-1 3-2.2 3-3.2 3-5.4 4-1.9 2-0.4 1-0.1 1 0.6 2 3.8 6 1.5 3 1.7 6 0.4 4-0.3 5-0.8 4-1.1 3-1.1 2-1.9 2.4-4 2.8-5 1.3-6-0.1-3-0.7-2-1-3.5-2.7-2.6-4-1.5-5-0.4-8 1.2-6 2.3-5 6.2-8 0.8-2-0.1-1-1-2-4.4-5.4-2.1-3.6-0.7-3 0-4 0.7-3 1.1-2.1 2-2.3 3-2 3-1.1 4-0.8zM238.7 1099.5l2.4-3 1.9-1.2 2-0.8 3-0.6 3-0.1 5.1 0.7 3.9 2 2.4 3 0.9 4-0.4 4-1.9 3-2 1.6-2 0.9-5 0.9-4-0.1-3-0.6-3.5-1.7-1.5-1.4-1.1-1.6-0.7-2-0.3-2 0.2-3zM241.2 1155.5l2.8-2.9 4-1.7 3-0.5 4 0 5 1 3.4 2.1 2.1 3 0.6 4-0.7 4-1.1 2-2 2-2.3 1.3-2 0.7-3 0.4-4 0-5-1.1-3.5-2.3-1.9-3-0.5-2-0.1-3 0.4-2zM195.5 1193.5l2.5-1.5 4-0.6 4 0.4 3.3 1.7M302.3 1193.5l2.9-5 1.8-2 3-2.4 5-2.2 6-0.7 4 0.2 3 0.7 3 1.2 1.9 1.2 2.3 2 1.5 2 2.2 5M457 645.7l5-0.5 3 0.4 2 0.6 2 1.2 2 2 2.1 4.1 0.6 3 0.2 4-0.3 3-0.8 3-1 2-1.8 2.2-2 1.5-2 1-5 0.6-3-0.3-2-0.6-2-1-2-1.8-1.7-2.6-0.8-2-0.6-3-0.2-4 0.3-3 0.8-3 1.2-2.2 2-2.4 2-1.4zM412 723.2l1.1-0.7 1.9-0.5 2 0 2 0.5 6 2.6 10 3.2 3 1.9 2.1 2.3 1.7 3 1.1 4 0.3 4-0.2 5-0.6 3-1.4 3.5-1.7 2.5-2.3 1.9-4 1.5-3 0.3-3-0.3-4-1.7-3-3.1-1.4-2.6-1-3-2.6-12.5-1-2.5-3.3-6-0.3-2 0.2-2zM785 724.2l-21 2.2-3 0.6-2 0.9-1.8 1.6-1.2 1.8-3.3 9.2-2.4 4-2 2-2.3 1.6-5 1.6-4 0.3-4-0.2-3-0.6-3-1.1-4-2.7-5.5-4.9-2.1-3-0.4-2 0.4-3 2.1-3 6.5-5.8 4-2.4 4-1.3 5-0.6 5-0.1 8 0.5 3-0.4 3-1.5 8.7-8.4 5.3-3.4 3-1.2 4-0.9 4-0.2 4 0.2M369 746.8l3-0.4 4 0 3 0.4 3 1 2.7 1.7 2 2 1.2 2 1.1 3 0.5 6-0.8 5-1.8 4-4.9 7-0.6 2 0.6 2 1.3 2 7.7 8.8 2.7 4.2 1.6 5 0.3 6-0.8 5-1.9 4-2.9 2.9-4 1.6-5 0.3-4-1.1-3-2-2.7-3.7-1.1-3-0.6-3-0.5-5 0-4 0.6-4 1-4 3.9-10-0.2-2-1.6-2-6.8-4.4-3.1-2.6-2.2-3-1.5-4-0.3-3 0.2-4 0.7-3 1-2 1.5-2 1.7-1.4 2-1.2zM239 808l3 1.1 2.3 2.4 2.2 4 1.5 5-0.2 1-1.1 2-3.7 4.6-2 1.6-2 1-3 0.3-3-1.4-2-2.2-2.1-3.9-1.5-5 0.2-1 1.8-3 3.6-4.1 3-1.9zM439 834.9l4 0.1 3 0.8 3 1.7 2 1.8 2.4 3.2 2.1 4 1.1 3 0.8 4-0.1 3-0.7 3-1 2-1.6 2.3-2 1.8-3 1.9-4 1.6-3 0.6-3 0-3-0.8-3-1.5-2.2-1.9-2.4-3-1.7-3-1.6-4-0.8-4 0-3 0.6-3 1.4-3 1.6-2 2.1-1.8 3-1.8 3-1.2zM357 846.9l2-0.6 3-0.4 3 0 3 0.6 2 0.8 2 1.3 1.8 1.9 1.2 2 1.1 3 0.5 3 0 4-0.5 3-1 3-1.2 2-1.9 2-2 1.4-2 0.8-3 0.6-6-0.4-3-1.1-1.8-1.3-1.9-2-1.2-2-1-3-0.5-3 0-4 0.8-4 1.3-3 1.3-1.7 2-1.8zM410 894.2l3 2.2 1.7 2.1 1 2 0.9 3 0.2 5-0.5 4-1.6 4-3.3 5-0.3 1 0.2 1 0.8 1 3.9 3.2 1.7 1.8 2.1 4 0.6 3 0.1 4-0.4 3-0.9 3-1.2 2-1.7 2-2.3 1.8-2 1-4 1.1-13 1.7-4 1.4-1.2 1-1.5 2-4.7 11-1.2 2-1.8 2-2.6 1.7-3 0.7-3-0.1-3-0.9-2.6-2.4-1.2-3-0.1-4 0.9-3.1 1.3-1.9 2.7-2.2 4-1.8 10-3.6 2.9-2.4 1.7-4 2.7-12 0.9-3 1.5-3 3.6-5 0.2-1-0.4-1-6.1-5.3-1.3-1.7-1.5-3-0.8-4 0-4 0.4-3 1.2-3 1.2-2 1.8-1.8 2-1.4 3-1.2 3-0.5 4 0 3 0.5zM513 951.5l3 0.1 3 0.5 3 1.2 3 1.9 2 1.9 1.7 2.4 1.3 3 0.5 3-0.1 3-0.8 3-1.5 3-1.7 2-2.3 2-2.1 1.2-3 1.2-3 0.5-3 0.1-3-0.5-3-1.1-3-1.8-2-1.8-2.1-2.8-1.3-3-0.5-3 0.1-3 0.8-3 1.5-3 1.5-1.8 2-1.8 3-1.8 3-1.1zM457.6 958.5l1.4 3 0.7 3 0.1 4-0.3 3-0.9 3-1 2-1.6 1.9-2 1.6-3 1.4-3 0.7-11 0.1-2 0.5-2 1.8-2.8 4-2 2-2.2 1.4-3 0.9-4 0.3-4-0.8-3.2-1.8-2.5-3-0.9-2-0.8-3-0.2-4 0.3-3 0.7-3 1-2 1.6-2.1 2-1.6 4-1.5 8-0.5 2-0.5 2-1.5 3.2-4.3 2.8-2.8 3-1.7 3-0.9 6-0.3 4 0.8 4 2.1zM379 1026l2.3 0.5 2 2 1.4 4 0.6 5-0.4 4-1.5 4-1.4 1.8-1 0.6-2 0.4-2-0.7-2-2.1-1.6-4-0.5-4 0.5-5 1.4-4 2.2-2.1zM553 1047.5l3-2.7 4-1.8 3-0.4 4 0.6 4 2.2 2.8 3.1 0.9 2 0.4 2-0.5 3-1 2-1.6 2-2 1.6-2 1.1-2 0.7-3 0.3-4.1-0.7-2.9-1.4-2-1.5-1.7-2.1-1-2-0.5-2 0.2-2 0.7-2zM501 1056.5l1-2 1.6-2 3.4-2.5 5-1.9 5-0.2 5 1.4 2.2 1.2 2.5 2 2.2 3 0.6 2 0.1 2-0.6 2-1.1 2-1.8 2-2.1 1.6-5 2.2-5 0.4-3-0.5-3-1-2.8-1.7-2.2-2-1.5-2-0.8-2-0.2-2zM448.5 1059.5l1-2 1.5-1.8 4-2.4 3-0.9 3-0.4 7 0.2 5 1.4 2 1 2.2 1.9 1.4 2 0.7 2 0 4-0.6 2-1.7 2.6-2 1.9-3 2-4 1.9-3 0.9-2 0.3-3 0-3-0.8-3-1.7-2.6-2.1-1.7-2-1.1-2-0.7-3zM319.8 1070.5l3.2-2.6 3-1.3 4-0.8 5-0.2 4 0.5 3 0.8 8 3.8 3 0.6 3-1 9-4.9 9-3.4 4-0.6 2 0.5 2 1.1 2.6 2.5 2 3 1.2 3 0.8 4 0 4-0.5 4-1 3-2.4 5-0.3 2 0.6 1 1.2 1 5.8 3.2 3 2.3 2.8 3.5 1.6 4 0.5 4-0.3 5-1 4-1.6 2.8-2 2.2-2 1.5-2 1-3 0.9-7 0.4-5-1-4-2.1-3.6-3.7-2-4-2.4-8.4-1-1.5-1-0.7-3-0.7-12-0.3-3-0.7-3.3-1.7-2.1-2-3.9-5-2.7-1.7-6-2.5-3-1.7-3-2.5-2-2.6-1.5-4-0.1-4 1-5 0.9-2zM460 1085.1l3 0.4 3 1.5 2 1.5 2.6 3 1.7 3 1 3 0.6 3 0.1 4-0.4 4-0.8 3-1.3 3-1.5 2.1-2.2 1.9-2.8 1.5-3 0.7-4 0.1-3-0.5-3-1.2-2-1.5-1.9-2.1-1.6-3-0.9-3-0.5-7 0.6-4 1-3 1.3-2.5 1.9-2.5 2.1-2 3-2 2-0.8zM241.7 1099.5l2.3-2.1 3-1.1 5-0.3 4 0.9 2.3 1.6 1.8 3 0.3 3-0.7 3-1.6 2-1.1 0.8-3 1.1-5 0.3-4-0.9-2-1.3-1-1-1.1-2-0.3-4zM280 1102.6l3-2 3-1.1 3-0.6 5-0.3 4 0.6 3 1 2.3 1.3 2.3 2 2.2 3 1.3 3 0.8 3 1 8 1.1 2.5 1 0.8 1.8 0.7 7.2 1.6 5 1.9 4 3.2 2.3 3.3 1.2 4-0.2 5-2.1 6-3 4-2.2 1.6-2 1-5 1-3-0.1-4-0.8-6-2.2-4-3-2.4-3.5-1.3-4-0.7-7-1.4-2-2.2-1.1-10-2.5-3-1.5-2.3-1.9-2.3-3-1.3-3-0.8-4-0.2-4 0.3-3 1-3 1.6-2.7zM346 1129.7l1-0.5 2-0.1 2 0.4 1.4 1 0.7 1 0.3 2-0.4 2-1 1.4-2 1-2 0.1-1.7-0.5-1.1-1-0.8-2-0.1-2 0.7-1.8zM243.3 1157.5l1.2-2 1.2-1 3.3-1.5 5-0.4 4 0.7 3 1.7 1.7 2.5 0.5 3-0.5 3-1.1 2-1 1-1.6 1.1-2 0.7-5 0.4-4-0.7-2.8-1.5-1.6-2-0.9-3 0.1-2zM306 1193.5l2-4 1.7-2 2.3-1.8 4-1.7 5-0.6 6 0.7 4 1.9 1.7 1.5 1.6 2 1.7 4M457 647.4l2-0.5 3-0.1 4 0.8 3 1.9 1.6 2 1 2 0.9 5-0.1 3-0.5 3-0.8 2-1.2 2-1.9 1.8-2 1.1-4 0.8-3-0.1-2-0.5-3.4-2.1-1.6-2-1-2-0.9-5 0.1-3 0.5-3 0.8-2 1.5-2.4 2-1.7zM755.5 723.5l0.4 1-0.1 1-4.4 15-1.7 3-1.7 1.9-4 2.4-4 1-4 0.2-4-0.4-3-0.8-3-1.5-3.7-2.8-4.1-4-1.2-2-0.4-2 0.1-2 1.5-3 5.8-5.5 5-3.1 5-1.2 8-0.3 6.8 1.1zM785 721.6l-8 1.5-8 0.6-7.4-0.2-3.1-1 0-1 1-2 3-4 3.8-4 3.7-2.8 3-1.4 4-0.9 4-0.3 4 0.4M417 727.8l2-0.6 4 0.1 5 0.7 5 1.2 4 2.1 2.8 3.2 1.3 3 0.7 3 0.2 4-0.3 4-0.6 3-1.4 3-1.7 2.2-2 1.5-2 0.9-2 0.4-5-0.3-3.7-1.7-2.6-3-1.5-3-0.8-3-2.3-16-0.1-3 0.3-1zM367 748.5l3-0.9 3-0.3 4 0.2 3 0.6 2 0.8 2.3 1.6 1.8 2 1.1 2 0.9 3 0.4 4-0.2 3-0.8 3-1.5 2.9-2 2.5-2 1.8-2 1.2-2 0.6-2 0.1-3-0.6-3-1.1-5-2.9-2-2-1.7-2.5-1.1-3-0.3-3 0.1-3 0.6-3 0.8-2 1.6-2.2 2-1.7zM378 788l1-0.2 2 0.4 3 1.8 3 2.5 4 4.6 2 4.4 0.5 3 0.1 3-0.2 3-0.8 3-1 2-1.6 2-2 1.4-2 0.7-5 0.3-2-0.4-2-0.9-2-1.6-1.2-1.5-1.8-4.2-1-7.8 0.7-6 1-3 1.5-3 1.8-2.3zM238 811.9l3 0.9 1.8 1.7 1.9 3 1 3-1.7 2.7-2 2-3 1.6-2 0.3-2-0.6-2.4-2-1.9-3-1-3 1.3-2.2 2-2.1 3-1.9zM441 836.5l3 0.4 2 0.7 2.9 1.9 2 2 2 3 1.8 4 0.8 3 0.3 3-0.3 3-0.7 2-1.1 2-1.8 2-2.7 2-3.2 1.5-3 0.9-3 0.2-3-0.6-2-0.8-3-2.2-1.7-2-1.9-3-1.7-4-0.7-3-0.2-3 0.5-3 0.8-2 1.3-2 1.6-1.7 3-2 3-1.4 2-0.6zM358 847.6l2-0.5 3-0.2 3 0.2 2 0.5 2 0.9 2 1.5 2.4 3.5 1.2 5 0 4-0.4 3-0.7 2-1.5 2.5-2 2-2 1.2-2 0.7-3 0.4-3-0.1-3-0.6-2-1-2-1.6-2.3-3.5-0.9-3-0.3-3 0.2-4 0.7-3 0.9-2 1.7-2.3 2-1.6zM398 893.9l6-0.3 4 0.9 2 0.9 2 1.5 2.6 3.6 0.9 3 0.3 3-0.1 4-0.8 3-1.5 3-1.4 1.8-5.7 5.2 1.4 1 5.3 2.5 3 2.5 1.5 2 1 2 0.8 4 0 4-0.7 3-1.4 3-1.6 2-1.6 1.3-3 1.5-3 0.8-6 0.8-6-0.1-3-0.8-1.5-1.5-0.6-3 0.5-7 1.1-5 1-3 2.5-4 3-2.8 2.9-2.2 0.2-1-7.1-3.4-2-1.5-2-2.1-1.2-2-1-3-0.4-3 0.1-4 1.1-4 2-3 3.4-2.5zM508 954.5l5-1.3 3 0.1 3 0.6 3 1.3 1.9 1.3 3.1 3.6 1.6 4.4 0.1 3-0.3 2-1.2 3-1.2 1.8-2 2.1-2 1.4-3 1.3-3 0.6-3 0.1-3-0.6-3-1.2-2-1.3-2-1.9-1.6-2.3-0.9-2-0.6-3 0-2 0.6-3 1.5-3 1.6-2 2.4-1.9zM456.3 958.5l1.2 2 1 3 0.3 3-0.1 4-0.8 3-1 2-1.5 2-2.4 1.9-3 1.3-3 0.5-5 0.1-6-0.6-2 0.3-1.7 1.5-2.5 4-1.8 2.2-2 1.4-3 1.1-4 0.3-4-0.9-3-2-1.5-2.1-0.9-2-0.7-3 0.2-6 0.5-2 1.4-2.7 3-2.8 4-1.3 8-0.1 2-0.5 2-2 2.8-4.6 2.2-2.4 3-2 3-1 5-0.3 4 0.5 4 2zM382 960l1.4 1.5 0.2 3-1.5 5-2.1 3.6-2 1.7-3 0.9-3.1-0.2-1.9-0.8-1-0.8-1.5-2.4-0.3-3 0.7-3 1.4-2 2.7-1.9 4-1.5 4-0.6zM379 1030.2l1 0.2 1.3 1.1 0.8 2 0.4 3-0.5 2.8-0.7 1.2-1.3 0.9-1 0.2-1-0.3-1.1-0.8-0.9-1.8-0.3-2.2 0.3-2.8 0.8-2.2 1.2-1.1zM557.3 1048.5l1.7-1.3 3-1 3 0.2 2 0.8 2 1.4 1.7 2.9 0.2 2-0.7 2-2.2 2.5-3 1.4-3 0.2-3-1-2.5-2.1-1.3-3 0.6-3zM505 1055.5l2-2.3 3-1.8 4-1.1 3 0.1 3.5 1.1 3.1 2 2.2 3 0.4 3-1.3 3-1.9 2-1.4 1-2.2 1-2.4 0.6-4 0-4.4-1.6-1.6-1.1-1.8-1.9-1-2-0.3-2zM452.2 1059.5l1.4-2 1.2-1 3.2-1.5 5-0.7 5 0.4 4 1.4 2.7 2.4 1.1 3-0.1 3-0.8 2-0.9 1.2-2 1.7-2 1.2-5 1.4-3 0.1-3-0.4-4-1.7-2.5-2.5-0.9-2-0.2-2zM322 1072l3-2.4 4-1.4 5-0.4 5 0.6 3 1.2 3 1.9 3 3 3 4.4 1 0.9 1-0.1 3.7-5.2 2.9-3 2.6-2 2.8-1.5 5-1.7 5-0.8 3 0.3 3 1.4 1.5 1.3 1.5 1.9 1.6 4.1 0.2 5-1.1 5-1.8 3-2.9 3-4 2.7-5.6 2.3-1.4 1-0.6 1-0.2 1 0.8 0.4 7-1.7 6 0.5 7 1.8 3 1.5 2 1.5 1.7 2 1.2 2 0.8 2 0.6 3 0 4-0.4 3-1 3-1.2 2-1.7 1.8-2 1.5-3 1.3-3 0.6-4 0.1-3-0.4-3-0.9-2-1.1-3.1-2.9-2.1-4-0.9-4-1.1-10-0.8-2.6-1-0.4-6 1.2-4 0.4-3-0.1-3-0.6-1.9-0.9-1.1-1-3-6-1-1.1-2.3-0.9-11.7-2.5-3-1.3-2.8-2.2-2-3-0.9-4 0.7-5zM352 1084.5l-2 2.5-0.9 2.5 0.3 1 1.6 0.7 3-0.4 1.2-1.3-0.2-1.5-1-2.1-1-1.2zM457 1090.1l2-0.3 3 0.1 2 0.6 2 1.1 2 1.7 1.5 2.2 1 2 0.8 3 0.2 3-0.3 4-0.7 3-0.9 2-1.6 2.3-2 1.6-4 1.5-5 0-4-1.5-3-2.9-1.1-2-0.9-3-0.4-4 0.1-3 0.7-3 0.8-2 1.3-2 1.9-2 2.6-1.7zM244.8 1101.5l1.2-1.3 2-1 3-0.2 2 0.3 2 1 1 1.2 0.5 2-0.2 2-1.3 1.9-2 1-2 0.3-3-0.3-2-0.9-1.5-2-0.2-2zM281 1103.7l2-1.4 3-1.3 3-0.7 4-0.2 3 0.3 3 0.8 2.5 1.3 2.4 2 2 3 1.4 4 0.5 6-0.4 8 0.6 1.4 2 0.9 8 0.9 5 1.4 4.2 2.4 2 2 1.3 2 0.9 3 0 4-1.6 5-2.2 3-1.6 1.4-2 1-4 1-5-0.4-6.1-2-1.9-1.1-2.2-1.9-1.5-2-0.9-2-0.6-3 0.4-8-0.5-2-1.8-1-7.9-0.7-5-0.9-3-1.2-3.1-2.2-1.7-2-1.6-3-0.8-3-0.2-4 0.2-3 0.8-3 1.4-2.5zM246.9 1158.5l1.1-1.4 2-1 3-0.5 3 0.5 2 1.3 0.8 1.1 0.4 2-0.3 2-0.9 1.4-2 1.3-3 0.5-3-0.4-2-1.1-1.2-1.7-0.3-2zM309.6 1193.5l1.4-3 3-2.8 3-1.3 4-0.6 4 0.4 4 1.7 2.6 2.6 1.3 3M458 649l4-0.4 2 0.3 2 0.7 2.4 1.9 1.7 3 0.5 2 0.3 3-0.3 3-0.5 2-0.9 2-1.2 1.4-3 1.9-4 0.6-4-0.8-2.8-2.1-1.7-3-0.8-5 0.8-5 0.9-2 1.6-1.8zM785 717.6l-5.2 1.9-6.8 0.8-4.5-0.8-1-1-0.2-1 0.7-2 1.6-2 2.4-2 2-1.1 3-0.8 2-0.2 3 0.3 3 1M750.4 724.5l1.5 2 0.6 3-0.2 3-1.4 6-1.3 3-1.6 2.2-2.1 1.8-2.9 1.5-3 0.7-4 0.2-4-0.4-3-0.9-3-1.6-3-2.4-3-3.1-1.3-2-0.5-3 1-3 1.6-2 3.2-3.1 2-1.6 3-1.7 5-1.3 7-0.3 5.3 1zM422 730.9l2-0.7 3-0.2 6 1.1 2 0.9 1.9 1.5 2.2 3 1.4 5-0.2 7-0.8 3-1 2-1.5 1.8-2 1.5-2 0.7-2 0.3-4-0.4-3-1.5-1.4-1.4-1.3-2-1.1-3-0.6-3-0.6-9 0.7-4 1.3-1.9zM367 749.7l2-0.8 3-0.5 6 0.3 4 1.5 2 1.6 1.4 1.7 1 2 0.7 3 0.2 4-0.5 3-1.8 4-2 2.2-2 1.4-2 0.9-3 0.4-5-0.7-2-0.8-3-1.7-1.9-1.7-1.5-2-0.9-2-0.6-3-0.1-3 0.4-3 0.8-2 1.3-2 1.5-1.5zM379 793.6l3 0 4 2.1 3 3.1 1.7 3.7 0.5 5-0.4 3-0.6 2-2.2 2.9-3 1.5-4 0.1-3-1.2-2.3-2.3-1.6-4-0.6-5 0.6-5 1.9-3.8 1.2-1.2zM233.4 818.5l2.6-1.8 2.1-0.2 1.9 0.7 1 0.9 1 1.4 0 1-2 1.5-2 0.5-1 0-2-1-1.6-2zM440 838.4l3 0.2 2 0.6 2 1.1 2 1.7 1.9 2.5 1.6 3 1 3 0.5 3-0.2 3-0.6 2-2.2 3.3-2 1.6-3 1.6-3 1-2 0.2-3-0.3-2-0.7-2-1.3-2-2-1.7-2.4-1.8-4-1-5 0.7-4 1-2 1.7-2 4.1-2.7 3-1.1zM358 848.8l4-0.8 5 0.4 2 0.8 1.9 1.3 2.3 3 0.8 2 0.6 3-0.3 6-1.5 4-1.8 2.1-2 1.4-4 1.2-3 0-3-0.5-2-0.8-1.9-1.4-2.2-3-0.8-2-0.5-3 0-4 0.6-3 0.8-2 1.3-2 1.7-1.6zM396 895.7l4-1 6 0.3 4 1.7 2 1.8 1.3 2 0.8 2 0.6 3 0 3-0.4 3-1.1 3-1.2 1.8-2 2-2 1.3-4 1.2-3-0.1-3-0.7-2-0.8-2.5-1.7-1.8-2-1.1-2-0.7-2-0.4-3 0-3 0.6-3 0.8-2 1.3-2 1.8-1.6zM401 927.6l4-0.9 3 0.2 2 0.5 4 2.1 1.9 2 1.1 2 0.7 2 0.4 3-0.1 3-0.7 3-1 2-1.3 1.7-2 1.7-2 1-6 1.3-6 0-3-0.9-1.1-0.8-1.5-2-0.6-2-0.1-3 0.7-5 0.7-3 1.4-3 1.5-2 2-1.7zM455.6 959.5l1.1 2 0.8 3 0 6-0.8 3-1.1 2-1.6 1.8-1.7 1.2-3.3 1.3-5 0.4-3-0.2-6-1.4-2-0.1-1 0.5-1 1.2-2 4.3-2 2.7-2 1.4-3 1-3 0.1-3-0.6-2.5-1.6-1.6-2-1.3-4-0.2-3 0.4-3 1.2-3 1-1.3 2-1.6 2-0.8 2-0.4 3-0.1 5 0.6 2-0.4 1.1-1 2.9-6 2-2.8 3-2.3 3-1.1 5-0.4 4 0.6 3 1.4zM508 956.7l4-1.4 3-0.2 2 0.3 3 1 1.9 1.1 2.9 3 1.7 4 0 4-1.7 4-2.8 2.9-2 1.2-3 1-2 0.3-3-0.2-3-0.9-2-1.1-3-2.9-1.3-2.3-0.6-2-0.2-2 0.5-3 0.8-2 1.3-2zM377 963.6l1.7 0.9 0.6 1 0 2-1.2 3-1.1 1.1-2 0.8-2-0.2-1-0.4-1-1.1-0.4-1.2 0-2 0.4-1 2.2-2 1.8-0.7zM509 1057.5l1-1.5 2-1.4 2-0.6 2 0 2 0.5 2 1.3 1.2 1.7 0.2 2-1.1 2-1.3 1.1-2.2 0.9-2.8 0.1-2-0.6-2.1-1.5-1.1-2zM456.4 1062.5l0.7-2 1.9-1.8 3-0.8 3-0.1 3 0.7 1.5 1 1.2 2 0.2 2-0.9 2-2 1.5-3 0.8-3 0.1-2-0.4-2-1.1-1.4-1.9zM364 1071.8l4-2 5-0.9 4 0.4 3 1.8 2 2.9 0.7 3.5-0.2 3-0.5 2-1.8 3-3.2 2.5-2 0.7-3 0.6-5-0.1-2-0.6-2-1.2-1.8-1.9-1.1-2-0.4-2 0-2 1.1-4 1.3-2zM324.2 1074.5l1.8-2 2-1.1 2-0.6 5-0.2 4 0.9 3 2 1.9 3 0.8 4-0.7 3-1 1.6-1.5 1.4-3.5 1.5-5 0.2-5-1.1-3-2-1.7-2.6-0.5-2 0.1-2 0.4-2zM457 1094.6l4-0.3 3 1 2.5 2.2 1.4 3 0.4 4-0.9 5-2.1 3-1.3 1-2 0.8-4 0.2-3-1-2.3-2-1.4-3-0.5-5 0.8-4 1.2-2 1.2-1.3zM374 1102.5l4-1.8 3-0.3 3 0.1 5 1.2 2 0.9 2.3 1.9 1.6 2 0.9 2 0.8 3 0.1 3-0.8 5-0.9 2-2 2.5-2 1.4-2 0.9-3 0.7-3 0.2-5-0.8-2-1-2.5-1.9-1.5-2-1.3-3-0.6-3-0.2-4 0.3-3 0.8-2.5 1-1.7zM282.5 1104.5l2.5-1.5 2-0.7 6-0.6 3 0.3 2 0.6 2 1.1 2.2 1.8 1.5 2 1 2 0.7 3 0.3 4-0.2 3-0.8 3-0.9 2-1.8 2.3-2 1.2-3 0.8-6 0.1-3-0.5-3-1-2-1.2-1.9-1.7-1.4-2-1.1-3-0.5-6 0.5-3 0.7-2 1.2-2zM307.4 1133.5l1.6-1.2 2-0.7 4-0.3 6 1.2 4 2.1 2.5 2.9 0.8 2 0.3 2-0.7 4-0.8 2-1.3 2-1.8 1.5-2 1-4 0.6-3-0.4-3-0.9-4-2.2-2.2-2.6-0.8-2-0.4-2 0.6-5 0.8-2.1zM313.7 1193.5l1.2-2 1.1-1.1 2-1 3-0.5 3 0.3 2 0.7 1.9 1.6 1.2 2M458 651.4l2-0.5 2-0.1 2.8 0.7 2.2 1.7 1.3 2.3 0.6 4-0.6 4-1.9 3-2.4 1.3-3 0.4-3-0.6-2-1.3-1.7-2.8-0.6-4 0.6-4 1.7-2.8zM720.5 732.5l3-4 4.5-3.5 4-1.6 4-0.6 6 0.1 4.8 1.6 1.4 1 1.6 2 0.9 3-0.2 3-0.7 4-1.2 3-1.3 2-2.2 2-2.1 1.1-5 1.1-4 0-3-0.6-3-1.3-3-2.1-3.2-3.2-1.3-2-0.5-2zM425 733l3-0.5 5 0.8 3 2 2.1 3.2 0.9 5-0.1 3-0.5 3-0.9 2-1.4 2-3.1 1.9-4 0.3-3-0.9-2.6-2.3-1.5-3-0.9-6 0.1-5 0.5-2 1.2-2zM368 750.6l4-1 6 0.2 4 1.9 2.6 2.8 1.3 4 0.2 3-0.3 3-1.8 3.9-3 2.8-2 0.9-3 0.6-5-0.6-4-1.8-3-2.9-1.6-3.9-0.2-3 0.3-3 0.6-2 1.1-2 1.8-1.8zM380 799.3l2-0.2 2 0.6 2 1.5 1.4 2.3 0.4 3-0.5 3-1.3 2.3-2 1-2 0.1-2-0.6-1.7-1.8-0.8-2-0.5-3 0.4-3 1.1-2zM439 840.7l4 0.1 2 0.7 2 1.4 1.5 1.6 1.5 2.4 1.2 2.6 0.7 3-0.3 4-1.6 3.2-3 2.5-3 1.3-2 0.5-2 0.1-2-0.4-2-1-1.6-1.2-2.9-4-1.8-5 0.2-4 1.3-3 2.8-2.7 3-1.5zM359 849.7l4-0.6 4 0.6 3.2 1.8 2.2 3 1.1 4 0.1 3-0.4 3-0.7 2-1.2 2-1.3 1.4-2 1.2-4 0.9-3-0.1-2-0.5-3-1.7-2.3-3.2-0.7-2-0.4-3 0.1-3 0.7-3 0.9-2 1.7-2zM395 897.7l4-1.6 3-0.3 3 0.3 4 1.5 2.9 2.9 1.5 4 0.2 3-0.3 3-1.6 4-2.7 2.8-2 1.1-2 0.6-5 0-4-1.4-2-1.4-1.5-1.7-1-2-0.6-2-0.3-3 0.2-3 1.5-4zM400 930l2-0.9 2-0.5 5 0.2 3.7 1.7 2.3 2.4 1.2 2.6 0.4 2-0.2 5-0.7 2-1.2 2-2.5 2.3-4 1.5-6 0.5-4-1-2.4-2.3-0.9-2-0.3-2 0.7-6 0.6-2 1.3-2.6zM438 957.8l4-1.5 5-0.2 4 1.1 3 2.3 1.3 2 0.8 2 0.4 5-0.4 3-0.8 2-2.3 3-2 1.3-3 1-6 0.1-5-1.5-4.3-2.9-0.6-1-0.4-2 1.5-7 2-4zM512 957.6l4-0.1 3 1 3 2.3 1.2 1.7 0.7 2 0.3 2-0.3 2-1.4 3-2.5 2.4-3 1.4-4 0.2-4-1.3-2.9-2.7-1.4-3-0.3-2 0.3-2 1.4-3 2.9-2.7zM416 971.5l3-0.9 4 0.1 2.4 0.8 1.8 1 1.6 2 0 3-1.3 5-1.5 2.6-2 1.6-3 0.8-4-0.4-2-1.1-1.8-2.5-0.8-3 0.2-4 1.2-3zM365.7 1075.5l2.3-1.8 2-0.7 3-0.3 3 0.8 1.3 1 1 2 0.2 3-0.5 2-1.6 2-2.4 1.3-3 0.3-3.3-0.6-1.7-1-0.8-1-0.7-2 0.2-3zM328.3 1077.5l0.7-1.2 2-1.3 2-0.3 2 0.1 1.6 0.7 1.1 1 0.9 2 0 2-0.6 1.2-2 1.3-2 0.4-3-0.4-2-1.2-0.8-1.3-0.2-1zM458 1101.2l2-0.3 1 0.2 1.5 1.4 0.4 1-0.1 2-0.8 2-1 0.8-1 0.3-2-0.3-1-0.8-0.5-1-0.4-3 0.9-1.6zM285 1104.8l4-1.3 3-0.2 3 0.3 4 1.6 2.4 2.3 1.2 2 0.6 2 0.4 6-1 4-1.1 2-1.5 1.5-2 1.2-2 0.6-3 0.4-3-0.2-3-0.6-2-0.9-2-1.5-1.3-1.5-1.1-2-0.6-2-0.3-3 0.2-3 0.8-3 1.2-2zM376 1104.5l2-1 2-0.6 5 0 4 1 2 1.2 1.4 1.4 1.3 2 0.7 2 0.4 5-0.9 4-1.2 2-1.7 1.7-2 1.1-2 0.7-5 0.3-4-1-2-1.3-1.5-1.5-1.2-2-0.6-2-0.4-6 1.1-4zM311 1135.5l3-1 3 0.2 4 1.2 2.3 1.6 1.4 2 0.5 3-0.8 3-1.4 2.2-1 0.9-2 0.9-3 0.2-4.6-1.2-2.8-2-1.3-2-0.4-3 1.1-3.8zM459 654.3l2-0.5 2 0.2 2 1.3 0.7 1.2 0.5 2-0.1 3-1 2-1.1 1-2 0.6-2 0-2-1-1.1-1.6-0.5-2 0.1-3 1-2zM723 731.5l3.6-4 4.4-2.5 4-0.9 6 0.1 4 1.3 1.4 1 1.6 2 0.9 3-0.4 5-1 3-1.2 2-1.3 1.3-2 1.3-4 1.2-6-0.1-3-0.9-2-1-2.4-1.8-1.9-2-1.3-2-0.5-2 0.1-2zM427 735.5l3-0.2 3 0.8 2 1.5 1.5 2.9 0.5 4-0.5 4-1.8 3-2.7 1.5-3 0.1-2-0.6-2.2-2-1.3-3-0.5-4 0.4-4 1.6-2.8zM367 752.7l3-1.5 5-0.5 4 0.8 3.1 2 1.9 3 0.5 2 0.2 3-0.8 4-2 3-1.9 1.4-2 0.8-4 0.3-3-0.4-2-0.8-3-2.1-1.9-3.2-0.5-2 0-3 1-4zM440 843.2l3 0.3 3.1 2 2.5 4 0.9 4-0.6 3-1.9 2.5-3 1.7-3 0.7-3-0.5-3-2.4-2.2-4-0.7-3 0.5-3 1.4-2.3 3-2.1zM361 850.6l4 0 3 1 2.3 1.9 1.5 3 0.5 5-0.7 4-2.1 3-1.5 1.1-2 0.8-4 0.3-3-0.7-3-2.2-1.7-3.3-0.4-5 0.8-4 2.3-3.1 2-1.2zM397 898.2l4-1 4 0.2 3 1.2 1.2 0.9 1.7 2 0.8 2 0.4 2-0.2 5-1.2 3-2.7 2.7-3 1.2-5 0.1-2-0.5-2-1-2.4-2.5-1-2-0.5-2 0.1-5 0.6-2 1.2-2zM409 930.7l2 0.8 1.4 1 2 3 0.5 2 0.1 3-0.4 2-0.8 2-1.6 2-1.2 0.9-3 1.2-5 0.4-3-0.7-2.3-1.8-1.3-3 0-4 1.1-4 2.1-3 2.4-1.5 3-0.6zM440 958.3l4-0.9 4 0.2 3 1.2 2.7 2.7 1 2 0.4 2-0.2 5-1.2 3-2.7 2.7-2 0.9-2 0.4-5 0-4-1.5-2.7-2.5-0.9-2-0.2-2 0.7-5 0.8-2 1.3-2zM509 963.1l1.8-1.6 2.2-0.8 2-0.1 2.8 0.9 2.1 2 0.8 2 0 2-0.8 2-1.9 1.9-2 0.8-3 0.1-2-0.7-2-1.7-1.1-2.4 0-2zM419 973.6l2-0.1 2 0.5 1.7 1.5 0.6 2-0.1 3-0.8 2-1.4 1.4-2 0.7-2 0-2-0.8-1.2-1.3-0.7-2 0-3 0.8-2 1.1-1.1zM285 1107.1l3-1.5 5-0.4 3 0.7 3 2 1.2 1.6 0.9 2 0.5 4-0.6 4-1 2-1 1.2-3 1.9-4 0.5-3-0.2-2-0.6-3-2-1.3-1.8-0.8-2-0.3-5 0.4-2 0.8-2zM378 1106.5l3-1.2 4 0 3.8 1.2 2.2 1.9 1.4 3.1 0.2 4-0.7 3-0.9 1.5-1.5 1.5-1.5 0.9-2 0.6-4 0.1-3-0.9-2.2-1.7-1.7-3-0.4-5 0.4-2 0.9-2zM314 1140.1l1-0.7 2.2 0.1 1.8 0.9 0.7 1.1 0.1 1-0.8 1.8-1 0.6-1 0.2-2-0.4-1-0.7-0.8-1.5 0.1-1zM724.5 732.5l2.5-3.3 2-1.6 2-1 4-1 5 0.1 2 0.5 2 0.9 2 2.1 0.9 2.3 0 4-1.2 4-2.7 2.8-2 1-2 0.5-5 0.1-4.4-1.4-3.7-3-1.7-3-0.2-2zM428 739.4l2-0.4 1.9 0.5 1.1 0.9 0.7 1.1 0.4 2-0.1 3-1 1.9-1 0.8-1 0.3-2-0.1-1-0.4-1.3-1.5-0.6-2-0.1-3 0.8-2zM368 753.9l3-1.4 4-0.3 3 0.6 2.8 1.7 1.8 3 0.5 3-0.6 4-1.5 2.4-3 1.9-4 0.5-4-0.8-2.9-2-1.7-3-0.3-4 0.8-3zM440 847.1l2 0.1 2 1.3 1.2 2 0.6 2-0.3 2-0.5 1-2 1.5-2 0.6-2-0.5-1-0.6-1.4-2-0.7-2 0-2 0.5-1 1.6-1.6zM360 852.5l3-0.5 3.2 0.5 2.8 1.9 1.3 2.1 0.6 4-0.5 4-1.4 2.3-1 1-2 1-3 0.4-3-0.5-2.1-1.2-1-1-1.1-2-0.5-4 0.6-4 1.1-1.9 1-1zM397 900l3-1.1 4-0.1 3 1.1 2 1.7 1.4 2.9 0.2 4-0.7 3-0.9 1.5-1.5 1.5-1.5 0.8-2 0.6-4-0.1-3-1.1-2-2-1.3-3.2-0.1-4 1-3zM409 932.9l2 1.3 1.5 2.3 0.4 4-0.9 3-1.9 2-2.2 1-3.9 0.4-3-0.9-1.6-1.5-0.9-3 0.2-3 1.1-3 2-2 2.2-0.9 3-0.1zM439.5 960.5l2.5-1.2 4-0.4 3 0.7 2.7 1.9 1.6 3 0.3 4-0.6 3-2 2.7-3 1.6-4 0.3-3.1-0.6-3-2-1.6-3-0.1-4 0.8-3 1-1.6zM288 1108l3-0.5 3 0.2 2 0.8 2 2 1.1 3-0.1 4-1 2.4-2 1.9-3 1-4-0.3-2.3-1-1.9-2-1-3 0.3-4 1.6-3zM380 1109.1l2-0.8 3 0 2 0.7 1.8 1.5 0.9 2 0 3-0.6 2-1.1 1.4-2 1.1-3 0.3-2-0.4-2-1.5-1-1.9-0.3-3 0.9-3zM727.5 731.5l2.5-2.4 3-1.4 4-0.5 4 0.7 2.4 1.6 1.2 2 0.4 3-0.6 3-1.4 2.3-3 1.9-4 0.6-4-0.6-3-1.7-2-2.5-0.6-3zM369 755.5l2-1.1 3-0.5 3 0.4 2.1 1.2 1.5 2 0.6 3-0.4 3-1.3 2-2.5 1.5-3 0.4-3-0.5-2.2-1.4-1.3-2-0.5-3 0.5-3zM360 854.6l2-0.6 3 0.1 2 1 1.2 1.4 1 3-0.1 3-1.1 2.6-2 1.6-2 0.5-3-0.2-2-1.1-1.2-1.4-0.8-3 0.2-3 0.8-2.1zM398 901.7l2-0.9 3-0.1 2 0.4 2.2 1.4 1.2 2 0.4 3-0.6 3-1.4 2-1.8 1.1-3 0.4-3-0.5-2-1.4-1.3-2.6-0.3-3 0.9-3zM404 935.7l3-0.2 2 1 0.6 1 0.4 3-0.9 2-1.1 0.8-2 0.6-2-0.1-1-0.5-1-1.1-0.5-1.7 0.2-2 1.1-2zM441 961.8l2-0.8 3-0.2 2 0.5 2 1.2 1.3 2 0.5 3-0.5 3-1.3 2-2 1.2-3 0.5-3-0.4-2.1-1.3-0.9-1.2-0.7-1.8 0-3 1-3zM288 1111.9l1-0.7 2-0.6 2 0.2 1.4 0.7 0.9 1 0.6 2-0.1 2-1.2 2-1.6 0.9-2 0.1-2-0.5-1-0.8-0.9-1.7 0-3zM740 730.3l1 0.7 1 1.4 0.3 2.1-0.7 3-1.6 1.6-3 0.9-3-0.1-2-0.7-1.9-1.7-0.8-2 0.2-2 1.2-2 1.3-1 2-0.8 2-0.2 2 0.1zM371 757.3l1-0.6 2-0.3 2 0.3 1.4 0.8 0.7 1 0.4 2-0.3 2-0.6 1-1.6 1.1-2 0.2-2-0.3-1.4-1-0.7-1-0.3-2 0.4-2zM361 857.2l1-0.4 2-0.1 1.6 0.8 0.7 1 0.4 3-0.7 1.8-1 0.8-1 0.4-2 0-1-0.5-1-1.1-0.5-1.4 0.1-2 0.4-1.2zM400 903.8l1-0.4 2 0 2.2 1.1 0.6 1 0.3 2-0.5 2-0.9 1-2.7 0.8-2-0.5-1-0.8-0.8-1.5 0-2 0.8-2zM442.2 964.5l0.8-0.6 2-0.4 2 0.4 1 0.6 0.7 1 0.4 2-0.4 2-0.7 1-1 0.6-2 0.4-2-0.4-1-0.6-0.6-1-0.4-2 0.4-2z"/></g>
<g clip-path="url(#cpc)"><path fill="none" stroke="#2b42e6" stroke-width="1.6" stroke-linejoin="round" d="M349.7 1252.6l5.7 7 4.1 6 4.2 8 3 7 1.5 5 0.7 5-0.2 6-1 5-1.5 4-1.9 3-2.3 2.4-3 2.1-3 1.4-4 1-11 0.6-3 0.5-2 1.2-6 6.1-8 4.8-2 1.7-1 1.2-0.8 2-0.3 3 1.5 11 0 8-0.6 5-2.1 9-0.1 5 0.8 4 1.6 2.7 2 1 3-0.2 2-1.1 1.4-1.4 5.4-10 2.2-2.6 2-1.7 3-1.5 4-1 4-0.1 4 0.6 3 1.2 2 1.3 2 2 1.9 2.8 1.1 3 0.7 3 0.2 5-0.2 4-1.5 5-2.2 3.5-3 2.9-6.5 4.6-2.5 3-1.3 3-2.5 10-1.3 3-1.9 3-3 3-3 1.8-4 1.2-4 0.2-4-0.3-3-0.9-3-1.7-3-2.8-1.7-2.5-1.4-3-2.9-11.6-1-2.1-1-1.1-2-1-2-0.4-13-1.1-3-0.8-3-1.4-3.5-2.5-2.6-3-1.9-4-0.9-4-0.3-5 0.2-4 3-13 1.1-14 1.1-5 1.2-3 2-3 2.6-2.9 6.8-6.1 2.2-2.9 1-1.8 1.3-4.3 1.1-13 0.8-4 4.3-11-0.3-2-1.8-2-9.2-6-4.3-4-1.2-2-0.7-2-0.4-3 0.2-3 0.7-2 1.1-2 2.7-3 3.7-2.7 10.2-6.3M195 1261.1l2-1.5 3-1.6 3-0.9 4-0.5 5 0 4 0.5 3 0.9 3.2 1.6 2.5 2 1.6 2 1.1 2 0.9 3 0.3 3-0.2 4-0.7 3-1.6 3-2.1 2.4-3 2.1-3 1.3-4 0.9-5 0.2-5-0.4-4-1.1-3-1.6-2.3-1.8-2.3-3-1.2-3-0.5-3 0-4 0.7-4 1.5-3zM401.1 1271.6l1.2-2 1.9-2 2.8-1.8 3-1.2 4-0.8 4-0.3 5 0.1 4 0.6 5 1.9 2.3 1.5 1.9 2 1.2 2 0.6 2 0.3 3-0.3 3-1.2 3-1.6 2-2.6 2-3.6 1.6-4 0.9-4 0.4-5-0.1-4-0.5-3-0.9-3-1.4-2.6-2-1.6-2-0.9-2-0.6-3 0-3zM639 1276l3 1.9 2.4 2.7 1.7 3 0.9 3 0.3 4-0.5 4-1.2 4-2 4-3.1 4-3.1 3-4.4 3.2-5 3.1-9 3.9-19 5.9-3 1.4-2 1.5-1.5 2-1.5 3.8-2.6 13.2-1.8 6-1.8 4-4.5 8-0.2 2 0.4 1 1.3 1 1.2 0.4 3-0.1 2-1.1 7-5 4-1.8 3-0.8 7-0.5 4 0.3 3 0.6 4 1.5 3 1.9 2.8 2.6 5.2 6.3 3 2 3 0.8 10 1.1 6 1.1 6 1.9 5 2.6 2.8 2.2 2.7 3 2.1 4 1.4 4.7 1 1.2 4.3-4.9 2.4-2 2.3-1.4 5-1.4 6 0 5 1.3 2.5 1.5 2.3 2 2.7 4 0.9 3 0.2 2-0.9 7-2 5-1.4 2-2.3 2.4-2 1.3-3 1.1-4 0.5-5-0.5-3-1.1-2.5-1.7-1.9-2-2-3-1.3-3-2.3-7.6-1-0.9-3.6 4.5-3.4 3.3-5 3.1-5 2-7 1.6-8 1-11 0.4-17-0.4-7 0.7-4 1.3-5 3-3 3-2 3.3-0.8 2.7-0.1 3 0.6 4 2.9 10 0.9 5 0.4 6 0.1 16 1.1 4 2.9 5.2 4 4.7 2 1.3 2 0.7 3 0.4 14 0.5 4 0.7 4 1.3 3 1.6 2 1.7 2 2.3 1.4 2.6 1.2 5-0.2 6-1.2 4-2.7 4-2.5 2.2-4 2.2-4 1.5-11.2 3.1-1.5 1-0.5 1 0.3 1 1.6 2 3.7 3 4.9 3 11.7 5.7 4 3.3 2 3 1 3 0.1 4-0.9 4-2.2 3.3-4 3-5 2-10 2.6-15 2.5-15 1-8-0.9-11-3.5-3-0.1-3 1.5-7 5.4-5 2.5-5 1.2-11.4 1.5-11.8 3-6 3-18.9 13-5.2 4-2.7 2.7-2 2.7-6 10.6-2 2.3-2 1.6-3 1.4-4 0.6-4-0.1-4-1.2-3-1.7-3.1-2.9-2.6-4-1.5-4-0.7-4 0.1-4 0.9-4 1.5-4 2.2-4 3.2-4 3-2.7 7-4.9 2.4-2.4 1.7-3 3.3-11 1.8-3 2.8-3 3-2 4-1.5 12-1.8 5.4-1.7 10.6-5.3 3-2.7 2.1-3 1.5-3 0.3-2-0.2-1-1.2-2-5.1-6-1.8-3-1.2-3-0.8-3-0.4-4 0.4-8 0.8-3 1.2-3 1.8-3 2.6-2.9 5-3.7 11-5.4 1.3-1 1.6-2 0.7-2 0.3-4-0.4-12-0.6-4-0.7-2-1.4-2-5.8-5.5-3-3.3-2.1-3.2-1.3-3-1.1-4-0.4-3-0.4-13-0.5-2-1.2-2.1-2-1.7-2-1.2-3.5-1-19.5 0.7-2 0.9-1 1.4-1.6 14-3.6 12 0.1 3 2.3 8 0.7 6-0.5 8-0.8 3-1.3 3-2 3-2.3 2.3-3 2-4 1.5-4 0.6-5-0.1-4-0.7-4-1.7-3.8-2.9-2.4-3-1.8-4-1.1-5-0.1-7 0.7-5 1.3-4 3.4-7 0.6-3-1.7-10-1.1-11.5-1-3-1-0.8-2-0.4-11 2.4-5 0.8-6 0.3-10 0-7-0.6-3-0.9-4-1.8-5-3.3-3-2.7-2.7-3.5-1.9-4-1.2-5-0.1-6 0.7-5 1.5-4 1.8-3 2.6-3 2.3-2 3.1-2 3.9-1.8 4-1.3 9-1.3 8-0.1 7 0.7 7 1.5 13.8 4.3 8.9 2 8.3 1.4 3-0.2 2-0.7 2.8-1.5 2.7-2 1.7-2 0.3-1-0.5-2-2.5-5-1.1-4 0-6 0.8-4 1.5-3 1.8-2 2.5-1.4 3-0.7 4 0.2 3 1 2.4 1.9 1.9 3 1.1 4 0.2 5-1.6 10 0.4 1 1.2 1 2.4 1 14 4.2 4 0.7 6.1-0.9 13.6-4 3.7-2 0.9-1 0.3-2-1-2-5.2-7-2.2-4-1.9-6-0.6-6 0.3-6 1.2-5 1.8-4 3-3.9 2-1.8 3-1.9 6-2.2 8-1.1 14-0.5 3-0.5 2-0.8 2-1.4 2-2.4 8.8-13.5 4.6-6 4.6-4.7 5-4 8-4.7 7-2.6 4-0.7 3-0.1 3 0.3zM107 1283.7l0.5-4.1 1.2-4 2.1-4 2.6-3 3.6-2.5 3-1.2 4-0.8 5-0.1 4 0.7 4 1.5 3 2.1 2.2 2.3 2 3 1.6 4 0.8 4 0.3 5-0.2 5-0.7 4-1.4 4-1.8 3-2.8 3.1-3 2.1-3 1.3-4 0.8-5 0.1-4-0.6-4-1.5-3-2-2.3-2.3-2.5-4-1.6-5-0.6-4.3M785 1334.2l-3-0.7-3-1.5-2-1.6-1.6-1.8-1.7-3-1-3-0.7-6 0.1-4 0.5-3 1.1-3 1.7-3 1.8-2 2.8-1.9 2-0.9 3-0.6M785 1374l-1.2 3.6-1.5 3-2.7 4-2.6 3-7 6.4-10 7.1-9 5.1-9 3.5-4 1-4 0.5-4 0-3-0.5-4-1.6-3.2-2.5-3.7-5-1.1-4 0-3 1-4 1.8-4 5.7-10 0.7-2-0.2-2-1-1.3-2-1.2-15-3.9-4-1.7-3-1.9-2.3-2-2.1-3-1.1-3-0.3-4 0.5-4 2-4 3.3-3.3 5-2.7 5-1.6 7-1 9 0 7 0.7 7 2.1 5 2.8 3.2 3 5.1 7 2.7 2.1 4 1.3 13 1.6 3 1 3 1.5 2 1.6 2 2.2 2 3.4 1 2.7M251 1398.6l1.4 4 0.6 4-0.2 6-0.8 4-1.8 4-2.2 2.8-3 2.4-3 1.6-3 0.9-3 0.4-6 0-5-1-6-2.5-2-0.4-1 0.2-1 0.8-4.5 5.8-3.5 2.8-5 1.9-5 0.4-6-0.5-4-1.5-4-3-2.7-4.1-1-3-0.6-4 0.1-5 0.8-4 1.3-3 2.1-2.8 2-1.8 3-1.8 5-1.3 6-0.2 4 0.6 6 1.9 2 0.2 1-0.5 1-1.1 3.8-6.2 3.2-3.2 2-1.2 3-1.3 6-1.1 7 0.3 3 0.8 3 1.3 4 3zM421.3 1431.6l1.6 3 0.9 3 0.3 4-0.2 3-0.6 2-1.5 3-1.7 2-2.1 1.7-5 2.4-6 1.2-22 0.3-4 0.5-1.3 0.9-0.7 1.1-1.1 5.9-1.2 3-2.7 3.2-2 1.3-3 1.1-9 0.7-1.6 0.7-0.8 2-0.5 5-0.7 3-1.7 3-2.7 2.5-2 1.1-3 0.8-6 0-4-1.4-2-1.4-1.4-1.6-1.9-4-0.5-3 0.2-5 1.4-4 2.2-2.7 3-2 3-0.8 6-0.6 2.1-0.9 0.7-2 0.8-6 1.2-3 1.5-2 1.7-1.5 2-1.2 5-2 1.5-1.3 0.7-2 0.5-6 0.8-3 1.8-3 2.7-2.6 4-2 9-2.1 13-1.7 11-0.5 4 0.4 3 1.1 4 2.7zM146 1436.1l5 0 4 0.5 4 1.2 3 1.6 2.5 2.2 1.9 3 0.9 3 0.2 3-0.4 4-2.1 6.7-0.4 2.3 0.4 17-0.7 5-1.2 4-1.6 3-1.5 1.9-4 3.4-5 1.9-5 0.4-4-0.2-4-1.1-3-1.7-3-2.7-2.1-2.9-1.7-4-0.9-4-0.3-6 0.3-6 1.8-11 0.1-11 0.4-3 0.7-2 2-3 3.7-2.9 4-1.6zM431 1469.9l4 3.5 2.6 3.2 1.8 3 1.6 4 0.9 5 0.5 11 0.4 3 1.3 3 4 6 1.6 5 0.3 4-0.3 4-0.8 3-1 2-1.9 2.2-2 1.1-3 0.5-3-0.3-2.9-1.5-1.8-2-4.2-9-2.1-2-3-0.9-3 0.1-4 0.6-3 1.2-2 1.5-1.7 2.5-4 11-1.7 3-1.7 2-3.4 3-4.5 2.4-15 4.4-3 1.3-3.1 1.9-2.9 2.9-1.9 3.1-2.1 5.1-2 6.3-3.2 12.6-0.2 2 0.5 2 1.9 1.2 11 1.9 5 2 2.5 1.9 1.9 2 2 3 1.3 3 0.9 3 0.5 4-0.1 8-0.6 4-0.9 3-2.8 5-1.8 2-2.9 2.2-3 1.4-4 1-4 0.1-4-0.4-4-1.2-3-1.8-2-1.8-2-2.5-1.7-3-1-3-1.1-6-0.2-14-0.5-2-0.5-0.8-1-0.4-2 0.2-2.2 1-3.1 2-3.7 3.5-8 10.3-8.4 12.2-7 14-3.3 5-4.3 4.8-10.4 10.2-3.1 4-1.6 3-1.1 3-3.1 15-1.2 3-1.9 3-2.6 2.6-3 2-4 1.9-10 3.3-4 0.5-2-0.2-2.4-1.1-1.6-1.7-1-2.2-1-6.1 0-4 0.5-6 1.4-6 1.8-3 3.1-3 3.2-2.1 7.3-3.9 4.2-3 2.5-3 1-3 0.1-2-0.6-3-6-13-1.8-6-0.3-4 0.4-3 0.9-3 1.6-3 2.7-3 3-2.2 5-2.7 4-1.2 3-0.4 3 0.1 11 2.5 2-0.3 1-0.7 1-1.4 0.6-1.7 1.7-9 1.4-4 2.1-3 4-4 0.7-2 0.1-3-1-9 0.2-8 0.8-4 1.1-3 1.7-3 1.6-2.1 3-2.7 4-2 4-1 13-1.4 4-1.3 2.4-1.5 1.6-2 1.3-4 0.4-13 0.5-4 1.5-4 1.9-3 3.7-4 4.7-3.3 5-2.3 10.2-3.4 2.8-1.4 2.3-1.6 1.7-1.8 1.3-2.2 4-10 2.1-4 2.9-4 3.7-3.4 3-1.9 3-1.4 3-1 4-0.6 4 0 4 0.7 3 1.1zM215 1476.9l5-1 7-0.1 5 0.8 4 1.5 3.9 2.5 2.9 3 1.8 3 1.5 4 1.2 7 0.1 7-0.9 7-3.1 15-1.9 5-2.5 3.5-3 2.6-4 1.8-5 0.5-5-0.6-4-1.8-3-2.7-1.7-2.3-1.6-3-3.7-11-5.5-13-1-5-0.1-5 0.6-5 1.3-4 1.8-3 2.9-3.1 3-2zM340 1508.7l3 3.9 1.3 3 0.7 3-0.4 4-1.3 3-1.4 2-5 5-6.9 4.6-8 3.6-11 3.4-3 2-1.8 3.4-2.7 9-2.2 4-3.3 3.6-7.7 5.4-3 3-15.3 20.3-9.5 16.7-6.5 7.7-1.4 3.3-1.9 9-1.3 4-2.1 4-4.6 6-0.8 2 0.1 2 1.7 7 0.2 7-0.6 3-0.7 2-2.6 3.6-3 2.4-4 2-4 1.1-5 0.6-5 0-5-0.5-5-1.3-8-2.8-2 0.1-1 0.9-2.6 6.9-2.9 5-4 4-5.5 3.3-8 2.8-3 0.6-4 0.2-3-0.3-3-0.9-2-1-2.2-1.7-1.7-2-1.6-3-1.3-4-0.3-3 0.4-3 1.2-3 2-3 2.1-2 3.4-2.5 4-2 5-1.8 5-1.3 7-0.3 9 1.8 2 0 1.3-0.9 1.2-3 3-14-0.6-3-3.2-8-0.9-5 0-8 1.7-10-0.5-1.1-7-1.1-2-0.8-2-1.7-1-1.5-1.3-3.8-0.4-5 0.4-5 1.4-4 1.5-2 1.2-1 3.2-1.1 3 0 2 0.7 2.8 2.4 1.6 3 0.8 4 0 6-1 7 0 1 0.8 0.6 19-2.3 3-1.2 2-1.7 2-3.3 3.5-8.1 2.5-3.7 4-3.7 8-5.6 2-2.3 1-2.8 1.4-11.9 0.9-3 1.7-3 3-3.1 7.1-3.9 1.9-1.7 3.5-6.3 5.1-7-0.1-1-0.8-1-4.7-3.6-2.2-2.4-2.1-4-0.9-3-0.4-5 0.5-5 1.3-4 2.7-4 3.1-2.5 4-1.6 4-0.7 6 0 5 1.3 4 2.4 3 3.1 4 6 2 1.6 1 0.2 2-0.4 7-2.8 6-2 8-1.5 4 0.1 4 0.7 3 1.2zM449 1547.3l3-1.4 3-0.7 4-0.2 4 0.2 3 0.8 3 1.4 2 1.5 2.4 2.7 1.5 3 0.8 3 0.5 5-0.2 4-0.4 2-1.2 3-2.2 3-2.2 1.8-3 1.6-3 0.8-4 0.3-4-0.1-3-0.6-3-1.2-3-2-2.2-2.6-1.6-3-0.9-3-0.3-4 0.3-5 0.8-3 1.5-3 2.4-2.8zM107 1551.4l6 1.7 4 2.5 1.8 2 1.2 2 0.7 2 0.3 3-0.2 3-0.5 2-0.9 2-1.5 2-1.9 1.6-3 1.7-6 1.7M422 1578.4l4 0.5 4 1.4 3.7 2.3 2.8 3 1.7 3 1.4 4 0.5 5-0.1 5-0.7 4-1.2 3-1.8 3-5.6 7-2.8 7-1.2 2-2.2 2-2.5 1.1-3 0.5-3-0.2-2-0.4-2.1-1-1.9-1.7-1.5-2.3-2.5-9-4.5-9-1-3-0.7-5 0.1-5 0.7-4 1.6-4 2.1-3 2.7-2.6 3-1.7 4-1.4 4-0.5zM559.5 1647.6l-0.2 4-0.9 3-1.9 3-3.5 3.3-4 2.2-5 1.9-6 1.3-6 0.6-9 0.1-9-0.7-8-1.5-17-3.9-8-2.2-4-1.6-2.2-1.5-0.8-1-0.5-2 0.7-2 2.4-2 4.3-2 13.6-5 3.6-2 4-3 2.9-3 2-3 2-4.8 2.7-9.2 1.9-4 1.3-2 2.1-2.3 3-2 3-1 3-0.4 6 0.4 3 1 2 1.1 3 2.5 5 6.3 4.8 3.4 1.9 2 1.8 4 2.4 10 2.6 7zM161 1608.4l3-0.7 5-0.2 4 0.5 3 1 2.9 1.6 2.1 1.8 1.6 2.2 0.9 2 0.9 4 0.2 4-0.1 4-0.8 4-1.3 3-2.1 3-2.3 2.1-3 1.6-4 1-4 0.2-4-0.3-3-0.9-3-1.7-2-1.7-1.8-2.3-1.5-3-1-4-0.2-4 0.2-4 0.9-4 1.5-3 2.4-3 2.5-1.9zM660.3 1628.6l1.8-3 1.9-2 3-2 4-1.6 4-0.8 5-0.4 6 0.2 4 0.6 4 1.1 3 1.5 2 1.4 2 2.1 1.2 1.9 1 3 0.3 4-0.4 3-1.1 3-2.1 3-2.9 2.5-4 1.9-4 0.7-5 0.2-6-0.2-5-0.6-4-1.2-2.7-1.3-2.7-2-1.8-2-1.6-3-0.6-3 0-4zM365 1651.9l5-0.4 5 0.5 4 1.1 3 1.6 3 2.4 2.7 3.5 1.8 4 0.9 4 0.3 5-0.3 5-0.8 4-1.2 3-1.8 3-2.6 2.9-9.4 7.1-0.7 1-0.4 2 2.7 11 0.8 5 0.5 8-0.2 13 0.7 3 1 1.3 2 1.3 9 2.9 5 3 2.4 2.5 1.9 3 1.1 3 0.7 3 0.2 5-0.3 4-0.7 3-1.8 4-2.5 3.2-3 2.3-4 1.8-3 0.7-7 0.3-6-1.1-5-2.5-3.8-3.7-2.7-5-3.5-13-5.4-12-1.3-4-1-5-0.8-11 0.6-12 1.4-7 3.6-9 0.6-3-0.8-3-4.1-8-1.5-5-0.7-7 0.5-7 0.8-3 1.3-3 1.8-2.9 2-2.1 2-1.6 3-1.7zM697 1655.3l3-0.2 3 0.7 2.4 1.8 1.8 3 0.5 4-0.6 4-1.8 3-2.3 1.5-4 0.5-3-0.7-2-1.4-1.7-2.9-0.5-2-0.1-3 0.8-4 1.5-2.5 1-0.9zM304 1680.3l3-0.6 5-0.1 3 0.3 3 0.9 3 1.5 2 1.5 1.6 1.8 1.9 3 1.1 3 0.8 5-0.1 5-0.7 4-1.1 3-1.8 3-2.7 2.6-3 1.8-3 1.1-4 0.5-5-0.2-3-0.6-4-1.7-2-1.5-2.6-3-1.6-3-1.1-4-0.6-5 0.1-5 1-4 1.6-3 2.8-3 2.4-1.7zM255.9 1813.6l-1.9-1.2-2-1.8-1.5-2-1.4-3-0.7-3-0.3-3 0.1-4 0.4-3 1.1-3 1.1-2 3.2-3.5 4-2 3-0.6 3-0.2 3 0.1 3 0.6 4 2 3.4 3.6 1.1 2 1.1 3 0.5 7-0.3 3-0.7 3-1.4 3-1.5 2-3.9 3M393.9 1813.6l0.1-4 1.6-3 1.4-1.2 2-0.9 4-0.5 4 0.6 3 2 1.6 3 0.1 4M492.8 1813.6l-0.5-4 0.4-5 0.9-3 1.9-3 2.5-2.4 3-1.9 9.2-3.7-0.4-1-3.8-2.3-4-3.4-2.7-3.3-2-4-1.2-4-0.5-5 0.1-5 0.8-5 1.1-3 1.7-3 3.7-3.7 3-1.7 2-0.7 3-0.5 6 0.1 3 0.7 3 1.3 2.1 1.5 2 2 2 3 1.3 3 0.7 3 0.5 5-0.2 6-1.1 5-1.9 4-2.4 3.2-3 2.7-4 2.4-3.9 1.7-1.1 1 8 4.9 2.3 2.1 1.7 2.2 1.4 2.8 0.7 3 0.2 4-0.5 4M345.2 1252.6l3.8 3.7 3.4 4.3 13 22 1.4 4 0.8 5-0.2 5-0.8 5-1.1 3-1.8 3-1.7 2-3 2.4-3 1.4-4 1.1-4 0.5-8 0.1-3 0.5-2 1.4-3.9 4.6-2.1 1.8-8.9 5.2-2 2-1 2-0.5 3 1.3 12 0 8-0.7 5-2.3 9-0.3 3 0.2 4 1.2 5.3 1 1.7 1 1 3 0.9 3-0.4 3-1.5 1.9-2 4.9-10 1.4-2 2-2 2.8-1.7 3-1 3-0.3 4 0.2 3 0.9 2 1.1 2 1.6 1.7 2.2 1.4 3 0.8 3 0.2 7-1.1 5-2.2 4-2.8 2.7-7 4.7-2.3 2.6-1.7 4-2.4 10-1.2 3-2 3-2.4 2.3-3 1.7-3 0.9-4 0.3-4-0.4-3-1.1-3-1.9-2.5-2.8-2.4-5-2.3-11-0.8-2.1-1-1.4-2-1.1-1.9-0.4-10.1-0.2-4-0.5-3-0.7-3-1.2-3.3-2.4-2.5-3-1.9-4-0.8-4 0.1-8 3.1-13 0.8-13 0.9-5 1.2-3 1.9-3 2.5-2.8 7-6.6 3-4.4 1.3-4.2 1.1-13 1-5 1.7-4 5-7 0.6-2-0.2-1-1.5-2-9-6.4-3.6-3.6-1.1-2-0.5-2-0.2-3 0.4-2 1.6-3 3-3 15.2-10M195.2 1263.6l2.1-2 2.7-1.7 3-1.1 3-0.5 4-0.2 4 0.3 3 0.6 3 1.3 2 1.3 2 2 1.3 2 1 3 0.3 6-0.6 3-0.9 2-2.1 2.9-2 1.6-3 1.5-3 0.8-4 0.5-5-0.2-4-0.8-2.9-1.3-2.8-2-1.6-2-1.1-2-0.9-3-0.2-4 0.4-3 1.1-3zM123 1265.8l4-0.2 4 0.3 3 0.7 3 1.4 3 2.4 1.8 2.2 1.7 3 1.3 4 0.7 5-0.1 6-0.6 4-1.4 4-1.7 3-2.8 3-2.9 1.9-4 1.4-4 0.5-4-0.1-4-0.9-3-1.3-3-2.3-2.5-3.2-1.5-3-1.2-4-0.5-5 0.2-6 0.7-4 1.6-4 2.2-3.3 3-2.7 3-1.7zM403.6 1272.6l1.1-2 2-2 4.3-2.2 6-1 4 0 4 0.4 3 0.8 2.3 1 1.7 1.2 1.8 1.8 1.1 2 0.6 2-0.1 4-0.6 2-1.1 2-2.2 2-2.5 1.4-3 1-3 0.5-5 0.1-4-0.3-5.3-1.7-1.7-1-2.1-2-1.2-2-0.5-2-0.2-3zM642 1282.3l1.8 3.3 0.9 3 0.2 4-0.8 4-1.5 4-1.9 3-2.6 3-3.5 3-4.6 3.2-5 2.7-5 2-6 1.7-8 1.7-6 0.5-4-0.3-1.7-0.5-1.4-1-1-2 0-3 1.3-5 2.2-5 3.4-6 3.4-5 3.8-4.3 4.2-3.7 4.8-3.2 5-2.7 5-1.8 4-0.8 4 0 4 1.1 2.4 1.4zM586 1321l2.2 1.6 1.1 3 0.1 5-0.8 8-1 7-1.3 5-2.3 4.9-3 4.1-3 2.8-4 2.6-4 1.5-4 0.6-4-0.3-5-1.4-4-2.1-4-3.1-3.1-3.6-2.3-4-1.3-4-0.7-5 0.1-5 0.8-5 1.6-4 2.9-4.2 3-2.5 3-1.8 4-1.4 4-0.7 7-0.5 6 0.2 7 1zM785 1332.6l-3-0.7-2-1-2-1.5-2-2.4-1.3-2.4-1-3-0.5-6 0.8-6 1.1-3 1.2-2 1.7-1.8 2-1.5 2-1 3-0.7M697.5 1345.6l2-3 2.5-2.2 4-2.1 5-1.5 6-0.8 8 0 6 0.7 5 1.4 4 2 3.2 2.5 2.4 3 3.4 6.5 1.3 1.5 1.7 1.3 4 1.1 10 0.7 4 0.7 3.5 1.2 3.1 2 3.3 4 1.7 4 0.3 4-1.2 5-3.4 6-5.4 6-6.9 5.7-10 6.4-7 3.5-8 2.6-4 0.5-3 0.1-5-1-3.4-1.8-2.9-3-2.2-4-0.6-4 0.3-3 1-3 2-4 6.1-10 0.7-2-0.1-2-0.9-1.1-2-1.2-3-0.9-14-2.7-4-1.5-4-2.5-2.8-3.1-1.3-3-0.4-5zM664.3 1385.6l3 3 1.7 3 1 4 0 4-0.7 3-1.6 3-2.8 3-3.9 2.7-4 1.8-4 1.2-5 1-6 0.7-13 0.3-19-1.3-6 0.6-3 1-3 1.4-6.8 4.6-3.6 4-1 2-0.4 2-0.1 2 0.7 3 5.1 11 1.9 7 0.6 8-0.6 12 0.3 4 1.9 4.8 4 6.1 4 4.7 3 1.8 3 0.4 8-0.6 6 0.1 5 0.7 4 1.4 2.6 1.6 2.4 2.4 1.5 2.6 0.9 3 0.2 5-0.9 4-2.4 4-3.3 2.7-5 2.1-8 1.3-5 0-8-1-3 0.2-2 1.1-1.6 1.6-0.8 2 0.3 2 2.3 2 8.8 3.7 13 6.3 9 3.8 5.1 3.2 2.5 3 1.2 4-0.2 5-0.8 2-1.4 2-2.4 2.1-3 1.6-9 2.6-13 2.3-15 1.1-6-0.1-6-1-5-1.9-7-3.9-2-0.4-1 0.1-2 1.4-4.5 5.1-3.1 3-2.4 1.7-3 1.6-4 1.2-10 1.5-12.7 3-5.3 1.8-4 2.2-18.1 12-5.9 4.6-4 4.8-6 10.9-2.4 2.7-2.6 1.7-3 1-5 0.2-4-0.9-3.2-2-2-2-1.5-2-2-5-0.8-4-0.1-3 1-6 2.2-5 3.4-4.6 3-2.7 7.2-4.7 2.8-2.9 1.4-3.1 3-11 2.2-4 2.4-2.4 4-2.3 5-1.4 8-0.9 4-0.8 12-5.4 3-1.8 2-1.9 4.3-6.1 0.9-3-0.7-2-6.7-7-1.9-3-1.3-3-0.8-3-0.5-4 0-4 0.5-4 0.8-3 1.9-4 2.3-3 2.2-2 2-1.4 4-2.1 13-4.5 1.7-1 1.8-2 0.8-2 0.2-4-1.7-17-0.8-2-1.5-2-7.5-5.2-3-2.4-2.9-3.4-1.8-3-1.4-4-0.7-4 0.1-15-0.7-2-1.6-2-4-3-2-0.8-2-0.4-11 1-10 0.3-2.4 0.9-1 2-1.1 15-1.1 4-2.9 7-0.5 2 0.3 3 2.5 8 0.5 5-0.4 7-0.7 3-1.3 3-1.9 2.8-2 2.1-3 1.9-3 1.1-4 0.7-5-0.1-4-0.8-3-1.3-3.2-2.4-2.5-3-1.8-4-1-5 0-6 0.7-5 1.5-4 3.2-6 0.5-2-0.2-3-1.8-7-0.5-4-0.5-13-0.4-2.2-1-1.1-3-0.3-16 3.7-6 0.6-8 0-5-0.4-5-0.9-4-1.3-4-2-4-3.1-2.7-3-2.2-4-1.1-4-0.4-6 0.6-5 1.4-4 2.6-4 1.8-2 3-2.3 6-3 7-1.7 9-0.6 6 0.3 6 0.9 18.7 5.4 15.3 3.3 3 0.4 3-0.6 3-1.5 6.6-4.6 2.3-2 0.6-1-0.1-1-4.4-4.7-1.6-3.3-0.8-4 0.2-5 1.2-3.8 2-2.6 3-1.7 4-0.5 3 0.5 3 1.8 1.7 2.3 1.2 3 0.4 4-0.3 4-1 3.7-2.2 4.3-0.3 1 0.4 1 1.6 1 10.5 2.8 11 4.1 2 0.3 3-0.2 14-3.4 20-3.2 8-0.2 11 1.4 3 0 3-1.2 6.5-6.4 4.5-2.9 5-1.6 7-0.4 4 0.4 3 0.8 5 2.5 3.5 3.2 5.4 7 2.1 1.6 3 0.9 11 1.2 6 1.3 6 2.3zM688 1389.9l3-0.3 4 0.1 2 0.4 3 1.1 2 1.4 2 2 2.3 4 0.6 3 0.1 3-0.3 4-1.1 4-1.7 3-1.7 2-2.2 1.7-2 0.9-3 0.7-3 0.1-3-0.3-3-0.9-2.1-1.2-2.2-2-2-3-1.2-3-0.9-4-0.2-3 0.2-3 0.9-3 1.9-3 2-2 2.6-1.6zM250.4 1399.6l1 3 0.6 4-0.1 5-0.7 4-1.6 4-1.6 2.3-3 2.7-3 1.7-3 1-3 0.4-7-0.1-5-1.3-6-3-2-0.3-1 0.7-4.7 6.9-3.3 2.8-4 1.7-6 0.8-6-0.6-4-1.6-2-1.3-1.8-1.8-2.4-4-1.1-4-0.2-3 0.1-4 0.9-4 1.4-3 2.1-2.6 2-1.7 3-1.6 5-1.1 6 0.1 5 1.1 5 2.1 2 0.2 1.4-1.5 3.9-7 2.7-2.9 2-1.4 3-1.4 3-0.8 3-0.3 7 0.3 5 1.7 4 2.8 1.7 2zM420.4 1432.6l1.1 2 0.9 3 0.4 4-0.3 3-1.1 3-1.3 2-2 2-2.1 1.5-5 2.1-5 0.9-22 0.3-4 0.6-1 0.7-0.9 1.9-0.7 5-1 3-1.2 2-2 2-2.2 1.3-3 0.9-9 0.4-1.3 0.4-0.7 1.2-0.5 6.8-0.8 3-1.7 2.8-2 1.9-2 1.1-3 0.9-6 0-4-1.5-2-1.6-1.3-1.6-1.3-3-0.6-4 0.5-5 1.3-3 2.4-2.7 3-1.6 3-0.7 6-0.4 2-0.8 0.5-1.8 0.8-7 1.3-3 1.4-1.7 2-1.7 2-1 4.6-1.6 1.5-1 0.9-2 0.3-6 1.1-4 1.9-3 2.7-2.3 5-2.1 7-1.4 12-1.5 10-0.3 5 0.7 4 1.4 3.7 2.5zM147 1437.8l4 0 4 0.6 3 1 3 1.7 2 2 1.5 2.5 0.7 3 0.1 3-0.3 3-1.9 8 0.9 11 0.1 5-0.5 6-1.2 4-1.5 3-1.4 2-3.5 3-3 1.5-2 0.5-6 0.5-4-0.5-4-1.4-3-2.1-2.2-2.5-2.2-4-1-3-0.6-4-0.1-6 0.7-6 2.2-10 0.7-11 1.2-4 2.3-2.8 3-2.1 4-1.4zM431 1472.6l3 2.7 2 2.5 1.7 2.8 1.5 4 0.9 5 0.3 12 0.6 3 1 2 4.8 6 1.5 4 0.3 3-0.1 4-0.5 2.2-1 2.3-2 2.3-2 0.9-3 0.3-3-0.8-1.6-1.2-1.5-2-3.9-9.4-1-1.2-2-1.1-3-0.3-5 0.3-4 0.7-3 1.2-2 1.8-1.2 2-3.1 10-1.3 3-2 3-2.4 2.5-3 2.2-4 1.8-12.6 3.5-5.4 2-3.4 2-2.1 2-1.5 2.3-1.6 3.7-5.2 18-4.5 13 0.3 0.5 11-0.4 5 0.5 3 0.7 4 2 2 1.7 2 2.4 1.5 2.6 1.4 4 0.6 4 0.2 5-0.4 4-0.9 4-1.2 3-1.9 3-1.9 2-2.4 1.7-3 1.3-3 0.7-4 0.2-4-0.4-3-1-3-1.7-2.9-2.8-1.9-3-1.5-4-0.8-4-0.3-6 0.3-5 0.6-4 2-8-0.5-0.6-3 0.6-7 3.1-5 3.5-4.5 4.4-3.5 4.4-9 12.6-4 6.6-5.3 12.4-3.7 5.6-5 5.2-11.8 10.2-2.4 3-1 2-0.9 3-1.3 10-1.3 6-1.6 4-1.7 2.4-2 2-3 2-3 1.4-5 1.6-6 0.9-3-0.5-2-1-1.9-1.8-1.1-1.9-1.2-5.1 0-4 0.4-4 0.7-3 1.2-3 2-3 2.9-2.5 3-1.8 7.4-3.7 4.7-3 1.9-2 1.3-3 0-3-0.9-3-6.9-14-1.7-6-0.3-4 0.5-3 1-3 1.9-3 3-3 3.1-2.1 4-2 4-1.1 3-0.2 3 0.3 11 3.1 2-0.3 1-0.6 1-1.3 0.6-1.8 1.2-9 1.5-5 1.7-2.5 5.5-4.5 0.9-2 0.1-3-1.3-10 0.2-7 1.5-6 1.5-3 1.6-2.1 3-2.7 4-2 4-1.1 15-2 3.3-1.1 2.7-1.9 1.4-2.1 0.8-3 0.5-12 0.7-6 1.2-4 1.7-3 3.7-4.2 5-3.4 5-2.1 10.5-3.3 2.5-1.2 2.6-1.8 1.4-1.7 1.3-2.3 3.1-9 1.9-4 2.7-4 4-3.7 3-1.9 3-1.3 3-0.7 4-0.4 4 0.2 3 0.7 3 1.2zM217 1477.9l5-0.6 5 0.1 4 0.6 4 1.4 3.6 2.2 2.9 3 1.8 3 1.4 4 1.1 7 0 7-1.1 7-2.8 13-1.9 4.7-2.3 3.3-2.7 2.2-4 1.6-5 0.4-4-0.7-3.1-1.5-3.3-3-2.8-5-3.1-9-4.5-10-1.6-5-0.6-5 0.2-5 0.8-4 1.2-3 2-3 2.8-2.6 3-1.7zM336.6 1509.6l2.1 2 1.3 2 1.6 5-0.3 4-0.7 2-1.9 3-4.7 4.4-6 3.6-8 3.4-11 3.1-2 1.3-1 1.4-0.7 1.8-2.5 11-2.1 4-3.7 4.1-7.8 4.9-2.2 1.9-5.2 7.1-7.1 8-5.7 8.5-6.9 13.5-7.1 8.7-1.3 3.3-1.9 10-1.3 4-2.4 4-5.7 6-1 2 0.1 2 1.9 7 0.3 5-0.9 5-2.4 4-2.4 2.1-4 2.2-4 1.1-5 0.5-5 0-5-0.8-5-1.8-3.8-2.3-2.9-3-1.1-2-0.4-2-0.2-3 0.3-5 1.9-8 0-2-0.5-2-3.8-7-1.8-6-0.2-8 1.1-6 1.3-3 1.1-1.7 3-2.1 6-1.6 12-1.3 3-1.2 2-1.6 2-3 3.4-8.5 2.6-3.8 4-3.7 8-5.1 2.3-2.4 1-3 0.2-8 0.7-5 1-3 1-2 1.6-2 2.2-1.9 8-4.4 1.4-1.7 3.8-7 5.4-6 0.1-1-0.9-1-4.8-3-3-2.8-1.6-2.2-1.3-3-0.8-4 0-6 0.9-4 2.1-4 2.7-2.8 4-2.2 5-1.1 5 0 3 0.4 3 1 4 2.6 3.4 4.1 3.6 6.8 1 1.1 1 0.4 2-0.2 12-4.9 8-1.8 4-0.2 3 0.4 3 0.9zM449 1548.2l3-1.5 3-0.8 4-0.2 4 0.2 3 0.8 3 1.5 3.5 3.4 1.6 3 0.9 3 0.4 4-0.1 4-0.6 3-1.3 3-1.5 2-1.9 1.8-3 1.7-3 0.9-4 0.4-4-0.2-4-0.9-2-0.9-2.5-1.8-1.9-2-1.6-3-0.9-3-0.4-4 0.2-4 0.6-3 1.4-3 2.1-2.8zM107 1552.5l5 1.5 4 2.6 1.7 2 1 2 0.7 4-0.4 4-0.8 2-1.4 2-1.8 1.7-2.2 1.3-2.8 1.1-3 0.8M422 1579.3l4 0.6 4 1.4 3 1.9 2.3 2.4 1.9 3 1.4 4 0.5 4 0 5-0.6 4-1.6 4-2.1 3-5.1 6-1.5 3-1.5 4-1.2 2-1.5 1.5-2 1-2 0.5-3 0.1-2-0.3-2-0.9-2-1.7-1.3-2.2-2.7-8.8-3.9-7.2-1.5-4-0.8-5 0.1-5 0.7-4 1.2-3 1.9-3 2.3-2.4 3-1.9 3-1.2 4-0.7zM192 1586.5l3 0 2 0.8 1 0.8 1.7 2.5 1.1 4 0 6-1 4-1.8 2.8-1 0.7-2 0.5-3-0.1-3-1.3-2-2.6-1.2-4 0-6 1.1-4 2.1-2.8zM551.6 1623.6l1.1 3 0.5 3 0.2 10 1.7 7 0.1 4-0.8 3-1.8 3-3.3 3-3.8 2-5.5 1.8-7 1.1-9 0.4-9-0.6-11-2-14.5-3.7-5.1-2-1.6-1-1.5-2 0.1-2 1.7-2 3.8-2 12.1-5.2 4.4-2.8 2.6-2.4 1.8-2.6 1.2-3.2 2.6-10.8 2.1-6 1.9-3 1.4-1.7 2-1.6 2-1.1 4-1.1 4 0 4 0.6 3 1.3 3.2 2.6 4.8 6.3 5.4 3.7zM161 1609.2l3-0.7 3-0.2 4 0.2 3 0.7 3 1.3 2 1.4 1.6 1.7 1.8 3 0.9 3 0.5 4-0.2 5-0.8 4-1.3 3-1.5 2.1-2 1.9-3 1.8-3 0.9-4 0.4-4-0.2-3-0.7-3-1.5-2-1.6-1.8-2.1-1.6-3-1.1-4-0.3-4 0.3-4 1-4 1.6-3 1.9-2.3 2-1.6zM661.8 1629.6l1.6-3 1.8-2 2.8-1.9 3-1.3 4-1 4-0.4 5 0 4 0.4 6 1.8 3 1.8 2 1.8 1.3 1.8 1.2 3 0.3 3-0.3 3-0.9 3-2.1 3-2.5 2.1-3 1.5-3 0.9-4 0.5-6 0-5-0.4-4-1-3-1.3-2.1-1.3-2.1-2-1.3-2-1-3-0.2-4zM365 1652.9l4-0.3 5 0.3 4 1 3 1.4 3 2.3 2.5 3 1.9 4 1 4 0.4 5-0.3 5-1 4-1.8 4-2.3 3-2.4 2.2-3 2.1-6.9 3.7-1.3 1-0.8 1-0.2 1 0.4 2 3.5 8 1.4 6 0.7 9-0.3 14 0.8 3 0.7 1 2 1.2 10 2.9 3 1.4 2 1.4 2 1.9 1.7 2.2 1.4 3 0.9 3 0.4 4-0.2 5-0.9 4-1.9 4-2.4 2.8-3 2.2-3 1.4-4 0.8-7 0.1-5-1.1-3-1.4-2-1.3-3.2-3.5-1.7-3-1.5-4-2.7-14-5.2-11-1.9-8-0.6-6 0-7 0.3-5 0.7-5 2.3-7 1.5-2.8 2.9-4.2 0.6-2-0.8-2-5.6-8-2.3-5-1.2-7 0.3-8 0.7-3 1.2-3 3.2-4.6 4-3 3-1.3zM697 1657.8l2-0.4 3 0.3 2 1.3 1.6 2.6 0.3 3-0.4 3-1.5 2.5-2 1.2-3 0.3-2-0.5-2-1.4-1.1-2.1-0.5-3 0.4-3 1.2-2.3zM193.8 1668.6l1.8 3 0.7 3 0 3-0.6 3-1.1 3-2 3-1.9 2-2.7 2.2-4 2.2-5 1.8-4 1-4 0.4-4-0.5-3-1.1-2.9-2-1.7-2-1.5-3-1-3-0.3-3 0.2-2 0.9-3 1.3-2.2 2.5-2.8 2.6-2 2.9-1.6 5-2.1 4-1.1 5-0.7 4 0.3 3 0.7 3.3 1.5zM303 1681.5l3-0.8 4-0.4 3 0.2 4 0.7 2 0.8 3 2 2 2.1 1.7 2.5 1.1 3 0.8 4 0.1 5-0.6 4-1 3-1.7 3-2.4 2.6-3 2-3 1-4 0.6-4 0-4-0.8-3-1.3-2.9-2.1-1.7-2-1.7-3-1-3-0.6-4-0.1-5 0.6-4 1.1-3 2.1-3 3.2-2.7zM510 1746.1l4-0.3 4 0.4 3 0.9 3 1.8 2 1.8 2.1 2.9 1.4 3 1 4 0.3 5-0.3 5-0.8 4-1.2 3-2.5 3.7-3 2.8-4 2.1-3 0.8-4 0.1-3-0.5-3-1.2-3-2.1-2.5-2.7-1.8-3-1.2-3-0.8-4-0.3-5 0.4-5 0.9-4 1.4-3 2.2-3 2.7-2.3 3-1.5zM257.6 1813.6l-2.6-1.3-2-1.7-1.7-2-1.1-2-1-3-0.4-3 0-4 0.8-5 1.4-3 3-3.6 4-2.2 3-0.7 3-0.1 3 0.1 3 0.7 4 2.1 1.8 1.7 1.4 2 1.4 3 0.9 5-0.1 4-1 5-1.5 3-1.7 2-2.2 1.8-2.4 1.2M395.3 1813.6l0-3 1.3-3 2.4-1.7 4-0.7 2 0.2 2 0.6 2 1.6 1.3 3 0 3M495 1813.6l-0.6-4 0.3-4 0.9-3 1.8-3 2.6-2.3 3-1.6 4-1.1 4-0.3 4 0.4 3 1 3 1.8 2.2 2.1 1.9 3 0.8 3 0.3 4-0.6 4M340.4 1252.6l4.4 3 3.6 4 2.4 4 4.5 9 6 7 2.6 4 1.6 4 0.8 4 0 4-0.6 5-1 3-1.6 3-2.1 2.5-3 2.3-3 1.4-4 0.9-5 0.4-7-0.2-3 0.6-2 1.7-2.6 3.4-2.4 2.5-3 2.1-6.6 3.4-1.4 1-1.7 2-0.9 2-0.4 3 1.4 12 0 7-0.8 5-2.3 8-0.6 3 0 4 0.5 6 1.2 5 1.6 2.4 2 0.7 2 0 3-0.4 3-0.9 2.9-1.8 1.8-2 1.3-2.4 3.1-7.6 2.9-3.8 2-1.4 2-0.9 3-0.6 3 0 3 0.5 2 0.8 2 1.3 1.8 2.1 1.1 2 0.9 3 0.4 3-0.1 4-1 4-2.3 4-2.8 2.4-6.1 3.6-2.9 3.1-1.6 3.9-2.5 11-1.3 3-1.3 2-2.3 2.2-3 1.7-3 0.8-3 0.2-4-0.5-3-1.2-2-1.5-2.3-2.7-2.2-5-1.9-12-0.6-2-1-1.4-1-0.7-2-0.3-8 0.6-6-0.1-4-0.6-3-1-3.9-2.5-2.6-3-1.7-4-0.7-4 0.1-7 3.2-12 0.7-14 0.5-3 0.9-3 2.9-5 8.3-8 3-4 1.3-2.9 0.5-2.1 1-14 1.5-6 1.7-3 1.5-2 2.8-2.6 4.6-3.4 0.7-1 0.2-1-1.2-2-9-7-2.9-3-1.2-2-0.6-2 0.2-4 1.5-3 2.9-3 8.8-7.3 5.8-3.7M197 1264.8l2-2 2-1.2 5-1.5 7 0 3 0.6 2.2 0.9 1.8 1.1 2.1 1.9 1.3 2 0.7 2 0.4 3 0 3-1.2 4-1.4 2-1.9 1.7-2 1.2-3 1-4 0.6-4-0.1-3-0.5-3-1.1-2-1.2-2-2-1.5-2.6-0.6-2-0.3-3 0.3-3 0.9-3zM121 1268.1l4-0.8 4 0.1 3 0.4 3 1.1 2.7 1.7 2 2 2 3 1.2 3 0.9 4 0.2 6-0.4 4-1.1 4-1.5 3-2.4 3-2.6 1.9-3 1.4-4 0.7-4 0-3-0.4-3-1-3-1.9-2-2-1.8-2.7-1.3-3-0.9-4-0.2-5 0.4-5 1-4 1.4-3 2.4-3 3-2.3zM406.5 1274.6l0.7-2 0.8-1.2 2-1.7 2-1 5-1 6 0.1 4 1.1 3 1.9 1.8 2.8 0.4 4-0.4 2-1.2 2-1.6 1.4-2 1.1-5 1.2-6-0.1-5-1.4-3-2.2-1.5-3zM639.1 1283.6l1.9 3 1 3 0.3 3-0.3 3-0.9 3-1.5 3-2.3 3-3.3 3.1-5 3.5-4 2.2-5 1.9-5 1.3-6 0.7-4-0.1-3-0.8-2.3-1.8-1.2-2-0.6-3 0.4-3 1.4-4 1.9-4 2.5-4 3.3-4 3.6-3.2 3-2.2 5-2.9 4-1.7 4-1 4-0.1 3 0.6 3 1.5zM580 1323.1l3 2.4 1.5 2.1 1.2 3 0.5 4-0.5 8-0.9 5-1.5 4-2.5 4-2.8 2.8-3 2-4 1.5-3 0.6-5 0.1-4-0.5-4-1.3-4-2.5-2.8-2.7-2.1-3-1.6-4-0.7-4-0.1-5 0.7-5 1.5-4 1.9-3 2.2-2.2 3-2 4-1.6 4-0.8 6-0.4 5 0.2 5 1.1zM785 1331l-3-0.8-2-1.2-3-3.1-1.8-4.3-0.6-6 0.2-3 0.6-3 2-4 1.6-1.7 2-1.4 4-1.4M701.6 1345.6l1.5-2 2.9-2.2 4-1.8 4-0.9 5-0.4 7 0.1 5 0.8 4 1.4 3.3 2 2.9 3 1.5 3 2.3 8.1 1 1.9 1 0.8 3 0.6 11-0.2 5 0.3 4 1.1 3.8 2.4 2.3 3 1.7 4 0.2 4-1.1 4-1.6 3-2.1 3-4.8 5-6.4 5-9 5.6-7 3.1-6 1.6-5 0.3-3-0.5-2-0.7-3-2.1-2.5-3.3-1.2-3-0.2-4 0.8-3 1.8-4 9.6-14 0.7-2 0-1-0.4-1-1.6-0.9-2-0.4-18-2-4-1-4-1.8-3.5-2.9-1.7-3-0.4-2 0-3 0.3-2zM492 1348l4-0.1 2.4 0.7 2.4 2 1.4 3 0.6 5-0.7 4-0.8 2-1.3 1.7-1 0.9-2 1.1-4 0.1-3-1.3-2.3-2.5-1.2-3-0.4-5 0.8-4 2.1-3zM661.8 1386.6l2.9 3 1.5 3 0.7 3-0.1 4-0.8 3-1.7 3-3.2 3-3.1 1.9-4 1.6-5 1.3-5 0.7-7 0.4-11-0.2-18-2.4-3 0-3 0.5-4 1.6-15.6 8.6-2.9 3-1 3 0.2 4 1.1 3 8.2 10.5 1.8 3.5 1.2 4 0.6 4 0.2 5-0.4 5-1.1 8 0.4 4 1.5 3 9.8 14.2 3 3.2 2 0.6 2-0.2 6-1.7 4-0.7 6 0.2 4 0.7 3 1.4 2.7 2.3 1.2 2 0.9 3 0 4-0.7 3-1.9 3-2.5 2-2.7 1.2-3 0.8-7 0.3-5-1-7-3-2-0.1-1 0.2-2 1.3-2 1.8-6.5 7.5-1.8 3-0.1 2 1.4 1.4 3.3 1.6 16.7 4.8 19 7.5 4 2.2 1.8 1.5 1.2 1.6 1.2 3.4-0.2 4.4-0.6 1.6-1.3 2-2.1 1.7-3 1.6-5 1.5-6 1.3-15 1.5-9 0.3-5-0.2-6-1.4-5-2.5-4.2-3.8-5.8-8-1 0.1-1 1.6-3.3 8.3-2.1 4-3 4-3.6 3.1-3 1.6-3 1-12.7 2.3-13.3 3.4-4.5 1.6-10.5 6.7-10.7 6.3-5.2 4-2.1 2.2-2 2.9-5.6 10.9-1.5 2-2.3 2-3.6 1.6-4 0.3-4-0.8-3-1.8-2-2.2-1.3-2.1-1.6-5-0.5-6 1.2-6 1.9-4 3.3-4 3-2.4 7-4.2 2.3-2.4 1.6-4 2.4-11 1.4-3 1.3-1.8 3-2.6 3-1.5 5-1.3 11-1.4 14.5-6.4 3.7-3 6.1-8 0.8-2-0.8-2-7.9-7-2.2-3-1.4-3-1.1-4-0.3-3 0.1-5 0.7-4 1.5-4 2-3 2.3-2.4 3-2.1 4-1.9 3-0.9 15-2.8 2.2-0.9 1.8-1.8 1.1-3.2 0-4-3.7-19-0.8-2-1.8-2-11.8-6.1-3.4-2.9-2.9-4-1.6-4-0.8-5 0-5 0.9-8-0.1-2-1.1-2.5-3-3.1-4-2.9-3-0.9-3 0.2-9 1.5-12 0.3-2 0.7-1 1.7 0.2 10-0.7 7-1.1 4-4 8-0.5 2 0.2 2 2.6 7 0.8 5-0.2 7-1.5 5-1.8 3-2 2.2-3 1.9-3 1.1-4 0.5-4-0.1-3-0.6-3-1.3-3-2.2-2.6-3.5-1.5-4-0.6-4 0-6 0.8-4 1.7-4 3-5 0.5-2-0.3-3-2.5-8-0.7-5-0.2-7 1.3-9-0.5-2-1.4-0.8-1-0.2-3 0.2-15 4.2-5 0.8-5 0.3-7-0.1-5-0.5-5-1.3-4-1.7-4-2.7-3-3.1-1.8-3.1-1.3-4-0.4-5 0.4-5 1.3-4 2.6-4 4.2-3.7 5-2.5 6-1.6 7-0.6 7 0.2 6 0.8 16 4.7 22 5.1 2-0.3 2-0.9 7-5.1 4-2.4 3-1.2 4-0.8 7 0.6 6 1.2 5 1.8 7 3.6 3 0.7 3-0.4 10-2.7 9-1.3 6-0.2 11 0.4 10-0.8 10 0 2-0.5 2-1.4 5.4-6.7 2.2-2 2.4-1.6 5-1.9 6-0.5 6 0.7 3 0.9 3 1.7 4 3.7 5 7.1 3 2.3 3 0.8 10 1.1 5 1 6 2.3zM688 1390.9l3-0.4 3 0.1 3 0.5 2 0.7 2 1.3 2 2 1.6 2.5 0.8 2 0.5 3 0 4-0.4 3-0.9 3-1.1 2-1.6 2-1.9 1.6-2 1.1-2 0.6-3 0.3-3-0.2-3-0.7-2-1-2.1-1.7-1.6-2-1.4-3-0.8-3-0.4-4 0.2-3 0.7-3 1.6-3 1.8-2 2-1.5zM249.2 1399.6l1.1 3 0.6 4 0 5-0.8 4-1.2 3-2.1 3-2.8 2.4-3 1.5-3 0.9-3 0.4-7-0.4-5-1.7-6-3.9-1-0.3-1 0.3-3.6 6.8-3.5 4-1.9 1.3-3 1.3-3 0.7-3 0.2-6-0.7-4-1.7-3.5-3.1-2.1-4-0.8-3-0.3-4 0.4-4 0.7-3 1.6-3 1.6-2 2.4-1.9 3-1.4 5-0.9 6 0.3 5 1.5 6 3.3 1-0.2 1-1.2 3.2-7.5 2.8-3.4 2-1.6 3-1.5 3-0.9 3-0.4 6 0.2 5 1.5 2 1.1 2.4 2zM419.5 1433.6l1 2 0.7 3 0.2 3-0.4 3-0.6 2-1.2 2-1.8 2-2.4 1.7-4 1.8-5 1-24 0.6-3 0.6-1 0.8-0.6 1.5-0.8 6-0.6 2-1 2-2 2.2-2 1.3-3 1-4 0.3-6-0.2-1.4 0.4-0.5 1-0.2 7-0.6 3-1.6 3-2 2-3.7 1.7-3 0.4-3-0.1-4-1.1-2-1.4-1.4-1.5-1.5-3-0.6-4 0.3-4 0.5-2 1.1-2 2.6-2.6 3-1.3 3-0.5 7-0.2 1-0.4 0.4-2 0.3-6 1.2-4 1.4-2 2.7-2.1 6-2.1 2-1.1 0.8-1.7 0.4-7 0.7-3 2.1-3.4 3-2.5 4-1.7 9-1.7 11-1.1 8-0.1 5 0.7 4 1.3 3.8 2.5zM147 1439.7l6 0.3 4 1.2 3.3 2.4 1.8 3 0.6 3 0.1 3-1.5 9 1.6 11 0.2 7-0.4 4-1 4-1.4 3-2.3 2.9-3 2.4-3 1.3-3 0.7-4 0.1-4-0.5-3-1.1-3-1.9-2.6-2.9-1.7-3-1.3-4-0.5-4 0-5 0.8-6 3.2-11 0.9-9 1.2-4 2-2.5 3-2 3-0.9zM430 1474.7l2.2 1.9 2.4 3 1.7 3 1.1 3 0.8 6-0.2 12 0.4 3 1.3 2 5.3 4.8 1.5 3.2 0.5 3-0.1 3-0.7 3-1.2 2-2 1.4-2 0.4-2-0.1-2-1-1.6-1.7-1-2-2.7-9-0.7-1-2-1.2-4-0.2-10 1-4 0.9-2 1.2-1.1 1.3-1 2-2.5 10-1.1 3-2.4 4-2.9 2.9-3 1.9-4 1.7-13.5 3.5-6.1 2-2.4 1.1-2.3 1.9-1.7 3.6-2.5 11.4-2.8 10-2 5-2.7 4.5-4 3.8-9.6 5.7-4.4 3-3.5 3-2.7 3-6.1 9-6.8 9-1.9 4.3-2.7 8.7-1.7 4-2.3 4-3.3 3.9-7 6-6 3.8-5 1.8-2 0-1-0.5-1-1-8.3-15-3-6-1.2-3-0.8-4 0.1-4 1.1-4 1.7-3 2.4-2.6 4-2.7 4-1.9 4-0.9 3-0.1 3 0.4 11 4 2 0 2-1 1-2.2 0.5-10 0.8-4 0.7-2 2-2.7 6.2-3.3 1-1 0.5-1 0.1-3-1.7-11 0-6 1.1-6 1.4-3 1.4-2.1 2-2 2-1.5 4-1.7 4-0.9 16-2 4-1.3 2-1.5 1-1.6 0.6-2.4 0-13 0.7-7 1.2-4 2.1-4 3.4-3.6 5-3.1 5-1.9 11.9-3.4 3.7-2 1.4-1.6 1-1.8 2.9-9.6 2.2-5 2.8-4 3.1-2.9 3-1.8 3-1.1 3-0.6 3-0.2 4 0.3 3 0.8zM217 1479.7l4-0.7 5 0 4 0.5 4 1.3 3 1.8 3 3 1.8 3 1.4 4 1 6 0 6-0.8 6-2.9 13-1.4 4-2.1 3.4-3 2.6-3 1.3-4 0.4-4-0.4-3-1.4-3-2.7-2.4-4.2-3.3-9-4.7-10-1.3-4-0.5-4 0.1-5 0.7-4 1.1-3 2.1-3 2.2-2.1 3-1.8zM334 1511.6l2.6 3 1.2 3 0.4 2-0.1 2-0.5 2-2.5 4-2.1 2.1-3 2.1-7 3.5-7 2.3-9 1.6-2 1-1 2.4-0.7 7-1 6-1.1 3-1.7 3-3.5 3.5-7.9 4.5-2.1 1.6-5.4 7.4-8.1 8-2.9 4-2.6 4.8-5.5 12.2-2.5 3.7-4 4.4-1.7 2.9-2.4 13-1.9 5-3 3.9-6.5 5.1-0.8 1-0.4 2 2.4 7 0.5 4-0.5 5-1.9 4-1.9 2-3.1 2-3.8 1.3-4 0.6-5 0-4-0.5-4-1.3-3.6-2.1-2-2-1.4-2-1.2-4-0.1-6 2-8 0-2-1.1-2-3.1-4-1.9-3-1.3-3-0.7-3-0.3-7 1.1-6 1.3-3 1.3-1.7 2-1.6 2-1.1 5-1.2 12-1.1 3.3-1.3 2.4-2 1.8-3 3.1-8 2.6-4 3.8-3.4 9-5.3 2.2-2.3 0.7-3-0.5-7 0.4-5 0.9-4 1.6-3 1.7-2 2-1.5 6-2.9 2-1.4 1-1.2 2.4-5 2-3 2.6-2.7 4.4-3.3 0.5-1-0.9-1-6-2.8-3.1-2.2-2.5-3-1.4-3-0.9-4 0-6 1.3-5 1.9-3 1.7-1.8 2-1.4 3-1.4 5-0.8 4 0.1 5 1.1 3.9 2.2 2.8 3 1.8 3 2.5 6.8 1 1.8 1 0.9 1 0.2 2-0.6 9-4.6 8-2.4 4-0.5 3 0.1 3 0.7zM567 1532.5l-2 0.9-2 1.7-1.1 1.5-0.4 2 1.5 2.9 7 8.4 1 0.2 1-1 4.5-9.5 0.2-2-1.2-2-3.1-2-2.6-1zM451 1547.9l3-1 3-0.5 4 0.1 3 0.4 3 1 2 1.2 3.3 3.5 1.4 3 0.7 3 0.1 7-0.7 3-1.5 3-3.3 3.4-2 1.2-4 1.2-4 0.2-4-0.3-3-0.8-2-1-2.5-1.9-1.6-2-1.5-3-0.8-3-0.2-4 0.4-4 0.9-3 1.7-3 2-2zM107 1553.8l4 1.3 3.8 2.5 2.1 3 0.8 4-0.5 4-0.9 2-1.3 1.6-3.3 2.4-4.7 1.6M422 1580.3l4 0.6 3 1 3 1.8 2.8 2.9 1.8 3 1 3 0.6 4-0.1 5-0.7 4-1.8 4-2.2 3-5.4 6-4 8-1 1-2 1-4 0.4-3-0.9-2.4-2.5-3.2-9-5-9-1-3-0.5-3 0-6 0.8-4 1.2-3 2.1-3 2-1.9 3-1.8 3-1 4-0.6zM192 1588.9l3 0.1 2 1.2 1.5 2.4 0.7 3-0.2 5-1 2.9-2 2-2 0.6-3-0.5-1.4-1-1.4-2-0.7-3-0.1-4 0.7-3 1.9-2.7zM362 1593.8l3-0.7 4-0.2 4 0.4 3 0.8 2.9 1.5 2.1 1.7 1.8 2.3 1.6 3 1.1 4 0.4 4-0.2 6-0.8 4-1.2 3-2.1 3-2.6 2.4-3 1.5-3 0.8-4 0.2-3-0.3-3-0.9-3-1.6-2-1.8-1.7-2.3-1.4-3-1.1-4-0.4-4 0.1-5 0.8-5 1-3 1.7-3 2-2.1zM550.5 1623.6l1.1 3 0.4 5-0.3 3-2.1 7 0.8 7-0.1 2-1 3-1.4 2-2.2 2-2.7 1.6-5 1.8-6 1-8 0.5-8-0.4-9-1.5-9-2.5-6.1-2.5-1.2-1-0.7-1 0-2 1.9-2 12.1-6.5 2.3-1.5 2-2 1.7-3.5 2.5-14.5 1.5-5 1.5-3 1.5-2 2-1.9 2-1.2 3-1 4-0.3 4 0.4 3 1.2 3.7 2.8 5.3 6.9 4.8 3.1zM161 1610.2l3-0.8 3-0.2 4 0.2 3 0.7 2 0.9 2.3 1.6 1.8 2 1.2 2 1.1 3 0.5 4-0.1 5-0.6 3-0.7 2-1.7 3-2 2-2.8 1.8-3 1-3 0.4-4-0.1-3-0.5-3-1.3-2-1.4-1.8-1.9-1.7-3-1-3-0.4-4 0.2-5 0.7-3 1.4-3 1.6-2.1 2-1.7zM663.8 1629.6l1-2 1.8-2 2.4-1.7 3-1.3 3-0.8 4-0.5 5 0 4 0.5 5.5 1.8 2.5 1.7 1.4 1.3 1.3 2 0.8 2 0.3 3-0.2 3-1.1 3-1.5 2-2 1.7-3 1.6-3 0.8-4 0.6-6 0-4-0.5-3-0.8-3-1.3-2-1.4-2-2.1-1.3-2.6-0.5-2 0-3zM374 1654l4 1 3 1.6 3 2.5 2.4 3.5 1.3 3 0.9 4 0.1 6-0.4 4-0.9 3-2 4-2.4 2.9-3 2.4-4 2.1-6 1.9-3 0.5-3-0.3-4-1.9-3-2.6-2.4-3-2.2-4-1.2-4-0.6-4 0-5 0.8-5 1.1-3 1.7-3 1.8-2.1 3-2.3 3-1.4 3-0.8 4-0.3zM698 1660.6l3-0.1 1 0.6 1.1 1.5 0.3 2-0.3 2-1.1 1.5-1 0.5-2 0.1-1-0.2-1-0.8-0.7-1.1-0.3-2 0.3-2 0.7-1.2zM283 1665.3l1 1.7 0.6 2.6 0.3 8-1.5 8-1.2 3-1.3 2-1.9 2-3 2-3 1.3-4 1.1-3 0.4-3-0.3-2-0.6-2-1.3-1.4-1.6-1-2-0.9-5 0.9-7 1.1-3 1.3-2.1 2-2.1 3-2.1 9-3.9 4-1.4 3-0.6 2 0.3zM190 1668.6l1.8 2 1.1 2 0.9 3 0.1 3-0.5 3-1.4 3-1.5 2-2.5 2.3-4 2.5-4 1.6-4 1.2-4 0.5-3-0.2-3.2-0.9-2.8-1.7-2-2.2-1.1-2.1-1.1-3-0.4-3 0.2-2 1.5-4 1.6-2 2.3-2.1 3-1.9 3-1.4 4-1.4 4-0.9 4-0.2 3 0.5 3 1.1zM302 1682.8l3-1.1 3-0.5 4 0 4 0.6 3 1.2 2 1.2 2 1.9 1.7 2.5 1 2 1 4 0.2 5-0.4 4-0.8 3-1.6 3-2.1 2.5-3 2.1-3 1.2-3 0.5-4 0.1-4-0.6-3-1.1-2-1.2-2-1.8-1.9-2.7-1.3-3-0.8-4-0.2-5 0.5-4 1-3 1.9-3 2-2zM361 1705.1l3-0.5 3 0.9 3 3.2 2 4.2 1.2 4.7 0.6 5 0.1 8-0.7 10 0.7 3 0.8 1 1.7 1 10.6 2.5 5 2.2 3.7 3.3 1.4 2 1.4 3 0.8 4 0.2 4-0.4 4-0.8 3-1.4 3-1.9 2.4-3 2.5-3 1.4-4 1-4 0.2-4-0.3-4-1-3-1.5-3-2.6-2.3-3.1-1.3-3-0.8-3-0.8-5-0.9-11-0.9-2.4-3-4.6-2-4.4-1.3-5.6-0.6-6 0.3-10 1.4-7 2.3-5 1.9-2.2zM509 1747.3l3-0.4 4 0 3 0.6 3 1.3 2 1.3 2.3 2.5 1.8 3 1.3 4 0.5 4 0 5-0.6 4-0.9 3-1.6 3-2.8 3.3-3 2-3 1.2-3 0.4-4 0-3-0.7-3-1.5-2.2-1.7-2.4-3-1.6-3-0.9-3-0.6-4 0.1-6 0.7-4 1-3 1.8-3 2.1-2.3 3-2zM260.4 1813.6l-2.4-0.6-3-1.6-2-1.8-1.5-2-0.9-2-0.9-3-0.3-3 0.1-4 1.2-5 1.8-3 1.5-1.6 3-2 2-0.7 5-0.6 5 0.5 3 1.3 2 1.3 1.7 1.8 1.3 2 1.6 5 0 7-1 4-1 2-1.6 2.2-2 1.7-3 1.6-2.2 0.5M397 1813.6l0-3 0.9-2 2.1-1.4 3-0.5 3 0.6 1.7 1.3 0.9 2 0 3M497.6 1813.6l-0.7-3 0.1-4 0.8-3 1.2-2 2-2.1 3-1.6 3-0.8 4-0.3 3 0.3 3 0.9 2.7 1.6 1.9 2 1.2 2 0.8 3 0.1 4-0.7 3M332.6 1252.6l3.4 0.7 3 1.2 3 1.8 2.5 2.3 3.3 5 3.1 8 1.2 2 1.8 2 5.1 4.3 3.1 3.7 1.6 3 1.1 4 0.3 5-0.6 5-1 3-1.7 3-1.8 2-3 2.1-3 1.3-4 0.9-5 0.2-7-0.5-3 0.6-1.6 1.4-2.7 4-2.8 3-3.9 2.5-6 2.8-3.1 2.7-1 2-0.5 3 1.3 13-0.2 8-0.7 4-2.7 8-0.6 3 0.8 16-0.5 4-0.8 1.6-1 1.1-3 1.7-5 1.5-6 0.5-6-0.5-3-1-2-1-3.2-2.9-1.3-2-1.1-3-0.6-4 0.2-5 0.8-4 2.7-9 0.2-11 0.4-5 1.2-4 1.8-3 2.5-3 7.3-7 2.1-2.8 1.1-2.2 1-4 0.1-9 0.6-6 1.2-4 1.6-3 2.4-2.6 3-2.2 4-1.7 5.2-1.5 2.1-1 0.6-1-0.3-1-0.9-1-8.7-6.1-3.2-2.9-1.7-2-1.5-3-0.2-2 0.3-3 0.7-2 3.4-5 5.2-5.2 5-3.1 3-1.1 2.9-0.6M198.7 1266.6l1.3-1.5 2-1.4 4-1.4 6-0.2 3 0.6 2 0.8 3 2.5 1 1.6 0.8 2 0.2 4-0.3 2-0.8 2-1.4 2-1.5 1.3-4 1.6-6 0.4-3-0.4-2.5-0.9-1.7-1-1.8-1.8-1.5-3.2-0.2-5 0.4-2zM121 1270l3-0.7 4-0.1 3 0.4 3 0.9 2 1.2 2.2 1.9 1.5 2 1.4 3 1 4 0.3 4-0.2 4-0.8 4-1.3 3-2.1 3-2 1.7-3 1.6-3 0.7-4 0.2-3-0.3-3-0.9-2-1.1-2.2-1.9-1.6-2-1.5-3-0.8-3-0.5-4 0.1-5 0.8-4 1.2-3 2.1-3 2.4-2.1zM411.1 1274.6l1.4-2 2.5-1.3 3-0.6 4 0.2 3 1 2 1.7 0.7 2 0 2-0.8 2-1 1-1.9 1-4 0.7-4-0.3-2-0.7-2.3-1.7-0.8-2zM636.4 1285.6l1.4 2 1.2 3 0.4 3-0.4 3-1.1 3-1.2 2-2.5 3-2.3 2-3.9 2.7-4 2.1-4 1.4-4 0.9-4 0.2-3.1-0.3-2.6-1-2.1-2-1-2-0.4-2 0.2-3 0.9-3 1.9-4 2.1-3 2.7-3 2.4-2.1 7-4.2 4-1.5 3-0.6 3 0.1 2 0.4 2 0.9zM553 1326l3-1.6 4-1.1 5-0.5 4 0.1 6 1.3 3 1.5 2.2 1.9 2 3 1 3 0.4 4-0.3 5-0.7 4-1.1 3-1.7 3-2.8 3.1-3 1.9-4 1.5-4 0.5-4-0.1-4-0.7-3-1.1-3-1.9-2.2-2.2-2-3-1.4-4-0.5-4 0.2-5 0.9-4 1.5-3 2.4-3zM785 1329.3l-2-0.6-2-1.1-2.9-3-1.6-4-0.4-5 0.6-5 2-4 1.3-1.4 2-1.3 3-1.1M705.3 1348.6l0.8-2 1.8-2 4.1-2.2 3-0.8 4-0.5 8 0.4 5 1.5 3.7 2.6 1.4 2 0.7 2 0.4 3-0.1 2-0.8 2-1.3 1.6-2 1.3-2 0.8-3 0.6-4 0.3-9-0.6-5-1.5-3.8-2.5-1.8-3-0.4-2zM492 1350.3l3-0.3 2.5 0.6 1.5 1.1 1.5 2.9 0.4 4-0.6 3-1.3 2.3-2 1.4-2 0.4-3-0.4-2-1.3-1.5-2.4-0.6-3 0.4-4 1.7-3zM659.1 1387.6l2.8 3 1.4 3 0.4 3-0.3 4-1.3 3-1.5 2-2.6 2.2-4 2.1-4 1.3-5 0.9-12 0.6-10-0.9-15-3.2-6-0.2-3 1-6 3.7-4 2-5 1.8-8 2-1.6 0.7-1.1 1-0.7 2 0.1 2 1.3 9.3 1 3.8 2 3.3 6 4.8 2 2.1 2 3.1 1.3 3.6 0.7 5-0.2 6-0.9 4-2.3 7-0.2 3 1.5 3 5.1 5.4 3 3.9 2.2 3.7 1.7 4 1.1 4 0.4 4-0.5 4-1.5 4-1.8 3-2.6 3.2-3 2.8-3 1.9-4 1.4-5 0.4-3-0.4-6-1.8-3 0-3 2.1-7.2 7.4-1.6 2-0.3 1 0.3 1 5.8 5.9 2.1 3.1 1.7 4 0.6 4-0.5 7-1.4 5-2.2 4-3.3 3.6-3 2-3 1.2-11.2 2.2-8.8 2.5-8 1.7-4.7 1.8-9.3 5.8-12 5.9-4 2.9-2 2.3-2 3.1-5.7 12-1.4 2-1.9 1.7-3 1.5-3 0.4-3-0.3-3-1.4-2.6-2.9-1.1-2-0.9-3-0.5-6 0.8-5 1.8-4 2.5-3.1 3-2.3 8-4.2 2.4-2.4 1.1-3 0.9-8 1-5 1.2-3 1.4-2 3-2.6 3-1.5 4-0.9 9-0.8 3-0.6 14.6-6.6 3.9-3 9.5-11 0.1-1-0.7-1-7.4-4.7-3-2.5-2.3-2.8-2-4-1-5 0-6 1.1-5 2-4 2.2-2.6 2-1.7 3-1.8 4-1.5 9-1.3 5-0.1 7 0.6 3-0.7 2-2.4 1.8-4.5 0.9-4-0.3-3-4.5-10-2.1-9-1.4-3-2.6-2-8.8-2.9-4-1.7-4-2.9-2.8-3.5-1.8-4-0.9-5 0.1-6 1.5-8-0.4-3-1.7-2.4-6-5.5-2-1.4-2-0.6-2 0.1-10 2.5-5 0.3-10-0.1-2 0.3-0.9 0.8-0.1 2 1.2 9-0.1 5-0.6 4-1.7 5-4.7 7-0.8 2 0.2 2 2.7 6 1.3 5 0 6-1 5-1.6 3-1.9 2.2-2 1.5-3 1.3-3 0.5-4 0-3-0.5-3-1.2-3-2.4-2.3-3.4-1.2-4-0.3-4 0.1-4 0.9-4 1.8-3.6 3.1-4.4 0.8-2-0.3-2-2.7-6-1.4-4-0.8-8 0.1-4 0.7-4 1.5-4 3-6-0.5-1-3.5-0.6-6 0.6-5 1.2-11 3.5-8 1.3-5 0.1-6-0.3-4-0.7-4-1.3-4-2.1-3-2.5-2.4-3.2-1.2-3-0.8-5 0.3-5 1.2-4 1.9-3 3-3 5-2.8 6-1.7 7-0.5 6 0.2 6 1 13 3.9 16 3.6 9 3.5 1 0 2-0.8 5.6-5.4 4.4-3.3 4-2 5-1.1 7 0.2 7 1.4 4 1.8 7 4.4 2 0.8 3-0.3 10-3.4 8-1 7 0 10 1.6 4 0.1 9-1.8 9-0.2 3-0.7 2-1.7 4.4-6.8 3.6-3.6 3-1.7 3-1.1 6-0.6 6 0.7 3 1 3 1.8 3.5 3.5 5.2 8 2.3 2 3.4 1 8.6 0.9 5 0.9 5 1.7zM770.8 1367.6l1.9 3 0.7 2 0.1 3-0.7 3-1.4 3-3 4-3 3-3.8 3-5.6 3.8-5 2.8-5 2-4 1-4 0.3-3-0.5-2.9-1.4-2-2-1.8-3-0.5-3 0.3-3 1.2-3 2.4-4 3.3-4.1 5-5.1 4-3.5 3-1.9 4-1.8 4-1 4-0.5 4 0 3 0.7 2.6 1.2zM352 1370.7l2 1.5 1 1.3 1 2.1 0.6 2 0.1 6-0.7 2.7-1 2.1-3 3.1-7 3.7-1.8 1.4-1.2 1.4-1.5 3.6-2.5 12.5-1.6 3.5-1.6 2-2.8 2.1-4 1.1-4-0.1-4-1.4-2-1.5-1.8-2.2-1-2-0.9-3-0.7-6-0.1-5 0.5-3.9 0.9-2.1 1.1-1.2 2-1.2 9-2.7 4-2.2 1.5-1.7 1.1-2 3.8-10 1.6-2.1 2-1.6 2-1 3-0.4 3 0.1zM688 1392l5-0.5 3 0.3 2 0.7 2 1.1 2 1.9 1.4 2.1 0.8 2 0.6 3 0.1 3-0.2 3-0.8 3-1.5 3-1.4 1.6-2 1.5-2 0.9-2 0.5-3 0.2-3-0.4-2-0.6-2-1.1-2-1.9-1.2-1.7-1.3-3-0.5-3-0.2-4 1-5 1-2 1.7-2 2.5-1.8zM248.4 1400.6l1 3 0.5 4-0.1 4-0.8 4-1.4 3-1.6 2.2-2 1.8-3 1.7-3 1-3 0.4-4 0-4-0.7-3-1.1-3-1.9-6-5.8-1 0.8-2.7 8.6-1.8 3-1.5 1.7-2 1.5-3 1.4-3 0.7-3 0.2-5-0.4-4-1.5-3.2-2.6-2.4-4-0.9-3-0.2-4 0.3-4 0.8-3 1.1-2 1.5-2 2-1.7 3-1.6 3-0.8 3-0.2 4 0.2 3 0.6 4 1.9 2.2 1.6 3.8 3.8 1 0.2 1-2.3 2.1-7.7 1.5-3 1.4-1.8 2-1.8 3-1.7 3-1 3-0.4 6 0.2 5 1.6 3.8 2.9zM417.8 1433.6l1.9 4 0.3 3-0.2 3-0.5 2-1 2-3.3 3.3-4 2-6 1.4-24 0.5-3 0.6-1 0.8-0.5 1.4-0.5 6-0.8 3-1.2 2.1-2 1.9-3 1.5-4 0.6-4-0.1-6-0.9-0.3 0.9 0.6 7-0.5 4-1.3 3-2.5 2.6-2 1-2 0.6-5 0.1-4-1.3-2-1.5-1.2-1.5-1.2-3-0.4-4 0.6-4 1.2-2.5 2.5-2.5 3.5-1.4 5-0.4 6.2 0.8 0.6-1-0.5-5 0.1-4 1.4-4 1.6-2 1.6-1.2 3-1.4 5-1.3 1.5-1.1 0.5-2 0-6 0.5-3 1.5-3 3-2.9 4-1.8 8-1.6 11-1.1 8-0.1 5 0.7 4 1.2 3 1.8zM149 1442l4 0.5 2.8 1.1 2.2 1.8 1.2 2.2 0.7 5-0.8 6 0 2 2.7 12 0.3 4-0.2 5-0.7 4-1.1 3-1.9 3-2 2-2.2 1.5-3 1.1-3 0.5-4 0-4-0.8-3-1.4-2.3-1.9-2.3-3-1.3-3-0.9-4-0.3-5 0.2-4 1.3-6 4-10 1.4-8 1.1-3 1.6-2 2.5-1.5 3-0.9zM430.7 1478.6l1.7 2 1.8 3 1.1 3 0.6 4 0.1 5-0.5 5-1 4-1.5 3-2 1.4-4 1.2-5 0.7-12 1-3 1-1 0.9-1 1.9-2.5 12.9-1.4 4-2.8 4-4.3 3.3-6 2.3-14 2.9-3 0.3-3-0.2-3-1.5-1.5-2.1-1.1-4-0.7-5 0-5 0.6-5 1-4 1.4-3 2.3-3 3.7-3 4.3-2.1 5-1.5 13-2.6 2-0.8 1-0.8 1-1.4 0.7-1.8 2.1-10 1.8-5 1.4-2.4 2-2.5 4-3 5-1.8 3-0.2 4 0.1 5 1.5 2.3 1.3zM218 1481.3l4-0.5 5 0.1 4 0.8 3 1.3 3 2.2 2 2.4 1.5 3 1 3 0.9 6-0.1 6-1 6-2.8 11-1.5 3.8-2 2.9-2 1.7-3 1.2-4 0.3-3-0.6-2.4-1.3-2.1-2-2.3-4-3.2-8-4.4-9-1.3-4-0.7-4 0.1-4 0.6-4 1.2-3 1.5-2.4 2-2 3-1.8zM270 1502.1l2-1.3 3-1.2 3-0.5 6 0.1 3 0.7 3 1.4 1.7 1.3 1.9 2 1.8 3 1.9 6 0.9 5 0.2 3-0.5 2-1.2 2-2.7 2.5-3 1.9-3 1.3-3 0.7-5-0.6-4-0.9-3-1.2-3-1.9-2.6-2.8-1.6-3-0.7-3-0.3-4 0.3-4 0.8-3 1.7-3zM613.5 1506.6l0.7-1 1.8-1.6 3-1.3 4-0.3 4 0.7 2.6 1.5 1.5 2 0.6 3-0.4 3-1.3 2.1-3.1 1.9-4.9 0.7-4-0.6-3-1.8-1.6-2.3-0.5-3zM332.4 1515.6l1.6 4 0.1 2-0.5 2-1 2-1.8 2-4.2 3-7.6 3.3-4 0.9-3 0.3-3-0.2-2-0.6-2-1.2-1.1-1.5-1.6-5 0.4-3 1.3-2 1.8-2 4.2-3.1 3-1.5 4-1.5 4-1 3-0.3 3 0.2 2 0.6 2 1.1zM437 1513.5l2-0.2 3 1.2 1.3 1.1 1.1 2 0.4 3-0.4 3-1.3 2-1.1 0.7-2 0.2-1-0.3-1-0.6-1.4-2-0.8-3-0.3-3 0.5-3zM298 1536.9l2.5 2.7 0.8 2 0.6 3 0.1 4-0.3 4-0.6 3-1.1 3-2 3.2-3 2.7-3 1.8-5.1 2.3-1.9 1.4-6 8.1-3 2.7-6.6 4.8-2.3 3-7 18-2.1 3.3-5 5.6-1 2.1-1.6 12-0.7 3-1.3 3-2 3-2.4 2.2-2 1.3-6.9 3.5-1 1-0.2 1 0.2 1 2.9 5 1.2 4-0.1 5-0.5 2-0.9 2-1.7 2-2 1.5-3 1.3-3 0.6-4 0.2-4-0.3-3-0.8-3-1.4-2.4-2.1-1.4-2-0.9-2-0.5-3 0.2-5 2.7-7-0.1-2-1.8-2-3.8-3.1-2.5-2.9-1.7-3-1.3-4-0.4-4 0.3-5 0.7-3 1.3-3 2.6-2.9 3-1.7 5-1.2 12-0.8 3.6-1.4 2.6-2 1.8-3 2.8-8 2.6-4 3.6-3.1 9.7-4.9 2.5-2 0.6-1 0.2-2-1.4-7-0.2-4 0.4-4 1.3-4 1.9-2.7 2-1.8 7.4-3.5 1.6-1.3 1.2-1.7 2.9-6 2.9-3.4 5-3.1 3-1.1 4-0.8 3 0 4 0.7 3 1zM580 1551.6l0.9-3 1.1-2 2-2.2 3-1.8 3-0.9 3-0.3 10 1.1 10 2.4 12 4 7 2.9 2.6 1.8 1.7 2 0.7 2 0 3-1.2 3-2.1 2-3.7 1.7-5 1.4-6 0.9-10 0.6-10 0.1-5-0.4-4-0.9-3-1.4-2.7-2-1.7-2-1.2-2-1-3-0.6-4zM451 1548.8l2-0.8 3-0.7 4-0.2 3 0.4 3 0.9 2 1 3.3 3.2 1.6 3 0.8 3 0 7-0.8 3-1 2-1.4 2-2.5 2.1-3 1.4-3 0.6-4 0.2-3-0.4-2-0.5-3-1.4-2-1.6-1.8-2.4-1.3-3-0.6-3-0.1-4 0.3-3 1-3 1.2-2 1.8-2zM358 1552.1l1.6 1.5 1 2 0.5 3-0.1 4-0.8 5-1.7 7-1.6 4-2.2 4-2.7 3.3-4 3.2-5 2.8-9 4.6-5 2.1-1 0.7-1 1.9-2.2 6.4-2.8 4.4-2 1.8-2 1-2 0.3-1-0.4-1-1.1-1-2.1-1.2-4.9-0.1-5 0.5-3 0.8-2 1.5-2 2.5-1.4 3-0.5 4 0.6 1-0.7 0.2-1-0.2-4-2.4-10-0.6-6 0.5-7 1-3 1.5-2.8 1.9-2.2 2.1-1.6 3-1.5 3-0.8 7-1 8-0.5 5 0.1zM107 1555.3l3.6 1.3 2.7 2 1.9 3 0.5 3-0.2 3-1.5 3-3 2.6-4 1.5M422 1581.3l4 0.6 3 1.2 3 2 2.3 2.5 1.6 3 0.9 3 0.4 4-0.1 4-0.9 4-1.9 4-2.3 2.8-5.4 5.2-1.3 2-2.5 5-0.9 1-1.9 1-3 0.2-2-0.7-1.5-1.5-3.3-8-5.6-9-1.5-5-0.2-7 0.6-3 1.1-3 1.9-3 2.5-2.3 2-1.2 3-1.2 4-0.6zM193 1592.3l2 0.4 0.9 0.9 0.9 3 0 2-0.5 2-1.3 1.5-1 0.4-2-0.2-1-0.7-0.6-1-0.6-2 0.4-4 0.8-1.4 1-0.7zM364 1595.9l3-0.6 3 0 3 0.3 3 0.9 2 1.1 2.2 2 1.4 2 1.4 3 0.7 3 0.4 4-0.2 4-0.8 4-1.3 3-1.8 2.6-2 1.7-3 1.6-3 0.6-4 0.1-3-0.5-2-0.8-2.1-1.3-2-2-1.4-2-1.2-3-0.8-4-0.2-4 0.3-4 0.6-3 1.2-3 1.6-2.3 2-1.9zM536 1610.7l2.9 2.9 4.1 5.7 5 3.1 1 1 1.2 2.2 0.5 2 0.2 3-0.5 3-1.4 2.8-2.9 3.2-1.2 2-0.4 2 0.1 6-0.6 2-1.2 2-2.8 2.4-4 1.9-5 1.1-7 0.6-6-0.1-7-1.1-6.3-1.8-3.8-2-1-1-0.4-1 0.1-1 0.7-1 2.3-2 6.4-4.2 1.8-1.8 1-2 0.5-3 0.3-9 1-7 1.5-5 2.5-4 3.4-2.8 2-0.8 3-0.6 3 0 3 0.4zM161 1611.2l3-0.9 3-0.2 3 0.1 3 0.6 4 2 1.9 1.8 1.3 2 1.2 3 0.6 3 0.1 4-0.5 4-1.1 3-1.1 2-1.8 2-2.6 1.8-3 1.1-3 0.4-4-0.1-3-0.6-2-0.8-2.6-1.8-1.8-2-1.1-2-1.1-3-0.4-3 0.1-5 0.5-3 1.3-3 1.4-2 2.1-2zM290 1611.6l3 0.3 3 0.8 10 4.9 5.3 2 1.4 2 0.4 4-0.4 5-1.1 5-2.1 5-2.5 3.6-4 4.1-5 3.6-4 2-4 0.7-3-0.5-2-1.2-3-3.1-3-4.1-2.6-4.1-3-6-1.2-4-0.4-4 0.4-3 1.1-3 1.7-2.7 2-2.1 3-2.1 4-2 3-0.9zM665.7 1630.6l0.9-2 1.7-2 1.7-1.3 3-1.4 6-1.1 8 0.4 5 1.6 2 1.2 1.7 1.6 1.2 2 0.6 2 0.1 4-1 3-1.4 2-2.2 1.8-2 1-3 0.9-4 0.5-8-0.4-3-0.7-2.4-1.1-1.6-1-2-2-1.1-2-0.5-2-0.1-3zM364 1655.4l4-0.6 4 0.1 3 0.4 4 1.5 3 2 2.5 2.8 1.6 3 1 3 0.6 4-0.2 6-0.9 4-1.3 3-2.3 3.2-3 2.6-3 1.7-4 1.3-4 0.7-3 0-3-0.7-3-1.4-3-2.5-2-2.6-1.8-3.3-0.9-3-0.6-4 0-5 0.6-4 1.4-4 1.9-3 2.4-2.3 3-1.8zM188.6 1670.6l1.5 2 0.8 2 0.7 3 0 2-0.8 3-1 2-1.7 2-2.1 1.8-3 1.7-4 1.6-4 1.1-3 0.2-3-0.3-2-0.6-2.4-1.5-1.9-2-1.1-2-0.9-3-0.1-4 0.6-2 1.1-2 1.8-2 1.9-1.6 6-2.9 4-1.2 3-0.4 5 0.4 3 1.4zM279 1669.7l1.2 0.9 1.4 2 0.7 2 0.4 3-0.2 3-0.8 4-1.2 3-1.3 2-2.1 2-2.1 1.3-5 1.6-3 0.4-2-0.2-2-0.6-2-1.2-1.3-1.3-1.1-2-0.7-4 0.8-6 2.1-4 3.3-3 2.9-1.5 3-1.1 5-1.1 2 0.1zM303 1683.3l3-0.9 3-0.4 4 0.1 3 0.6 3 1.3 2 1.4 2 2.1 1.3 2.1 1.2 3 0.5 3 0.1 4-0.4 4-0.9 3-1.7 3-1.8 2-2.3 1.6-3 1.3-3 0.6-4 0.1-3-0.4-3-1-3-1.8-2-2-1.5-2.4-1.2-3-0.6-4-0.1-4 0.6-4 1.1-3 1.7-2.5 2-2zM361 1710.7l3-0.6 2 0.5 1 0.7 2 2.4 1.5 3.9 0.9 5 0.2 6-0.4 6-1.8 9 0.1 1 0.6 1 2 1 12.9 2.1 5 1.7 2.1 1.2 2.3 2 1.5 2 1.5 3 0.7 3 0.4 4-0.3 4-0.6 3-1.4 3-2.2 2.9-2 1.7-3 1.6-3 0.9-4 0.4-4-0.2-4-0.9-3-1.4-2.6-2-2.4-3-1.4-3-1.2-5-0.4-6 0.3-5 1.3-8-0.6-1.4-4-3.1-2-2.7-1.7-4.8-0.8-6 0-7 1-6 1.6-4 1.6-2zM509 1748.4l3-0.5 4 0.1 3 0.6 3 1.4 2.1 1.6 1.9 2.3 1.5 2.7 0.9 3 0.6 4-0.1 5-0.6 4-1 3-1.7 3-1.8 2-2.8 2-3 1.2-3 0.4-4 0-3-0.8-2-0.9-2-1.3-2.4-2.6-1.7-3-1-3-0.7-4 0-5 0.6-4 0.9-3 1.7-3 1.7-2 2.9-2.1zM259 1784.1l3-0.6 3 0 5 0.9 2 0.9 2 1.6 1.5 1.7 1.5 3 0.8 3 0.3 3-0.2 4-0.7 3-1.4 3-1.7 2-2.1 1.7-2 0.9-3 0.8-3 0.2-3-0.2-3-0.8-2-1.1-2-1.6-1.6-1.9-1-2-0.9-3-0.4-4 0.3-4 0.8-3 1.5-3 1.3-1.5 2-1.6zM399.6 1813.6l-0.3-2 0.7-1.7 1-0.7 2-0.3 2 0.5 1 1.1 0.3 1.1-0.3 2M500.9 1813.6l-0.7-2-0.3-3 0.4-3 1-2 1.7-1.9 2-1.2 2-0.6 3-0.3 3 0.2 2.7 0.8 2.3 1.5 1.3 1.5 1 2 0.4 3-0.3 3-0.7 2M336 1255.6l4 2.1 2.2 1.9 1.6 2 2 4 2.2 7.4 1.7 2.6 8.3 5.8 3.6 4.2 1.6 4 0.6 4-0.2 5-1 4-1.6 3-2 2.3-3 2.1-3 1.2-6 0.8-4-0.1-7-0.8-2 0.4-1.2 1.1-3.7 6-2.1 2.2-3 2-8.4 3.8-2.4 2-1.3 2-0.6 3 0.2 4 1.4 9-0.1 7-0.9 5-3.1 8-0.7 3 0.5 14-0.3 3-0.6 2-1.2 2-1.5 1.5-2 1.3-3 1.1-6 0.5-3-0.2-3-0.7-3-1.5-3-3-1.4-3-0.7-4 0-4 0.5-3 3-8 0.6-2.6-0.4-11.4 0.3-4 0.7-3 1.4-3 1.4-2 9.2-9 2.3-3 1.1-2 0.9-4-0.4-9 0.3-5 0.8-4 2-4 3.4-3.3 4-1.9 4-0.9 9-1 1.3-0.9 0.7-2-0.7-3-1.3-1.5-9-5.1-2.8-2.4-1.7-2-1.2-2-0.8-3 0.1-2 0.6-3 2-4 2.2-3 3.5-3 3.1-1.6 4-1.2 4-0.3 4 0.2zM201.2 1268.6l1.8-2.1 3-1.4 5-0.4 3.6 0.9 2.4 1.7 1.4 2.3 0.5 3-0.5 3-1.4 2.2-3 1.9-2 0.4-3 0.2-4-0.7-3-2-1.2-2-0.4-4zM122 1271.9l3-0.5 3-0.1 3 0.4 2 0.7 2 1.1 2 1.9 1.6 2.2 0.9 2 0.7 3 0.4 4-0.2 4-0.7 3-1.3 3-1.4 2-2 1.9-3 1.5-3 0.6-3 0.1-3-0.4-2.2-0.7-1.8-1-2.2-2-1.4-2-1.3-3-0.7-3-0.2-4 0.4-4 0.7-3 1.6-3 1.6-2 2.5-1.8zM633 1287.7l1.5 1.9 0.9 2 0.5 2-0.2 3-1.7 4-3.8 4-3.2 2.3-3 1.6-3 1.1-3 0.6-5-0.2-2-0.7-2-1.7-1.1-2-0.4-2 0.5-4 2.7-5 3.3-3.5 6-3.9 5-1.6 4 0 2 0.7zM556 1327.1l3-1.1 3-0.5 7-0.1 3 0.7 3 1.3 2 1.6 1.4 1.6 1.6 3 0.6 3 0.1 4-0.4 4-0.9 3-1.4 2.8-1.9 2.2-2.1 1.7-3 1.4-3 0.8-3 0.2-4-0.2-3-0.7-3-1.3-2.4-1.9-1.7-2-1.6-3-0.7-3-0.2-4 0.4-4 0.9-3 1.9-3 2-2zM785 1327.2l-3-1.3-2.3-2.3-1.6-4-0.3-4 0.5-4 1.3-3 2.4-2.5 3-1.3M712 1349.6l1.1-2 2.9-1.7 4-0.6 5 0.2 3.1 1.1 1.9 1.7 0.9 2.3-0.1 2-1.2 2-2.6 1.5-4 0.7-5-0.3-2.9-0.9-2.1-1.5-1-1.9zM493 1353.3l2-0.2 1 0.3 1 0.6 1 1.6 0.2 2-0.2 2-1 1.7-1 0.7-1 0.2-2-0.2-1-0.5-1.2-1.9-0.2-2 0.3-2 1.1-1.7zM660.2 1397.6l-0.8 4-1.1 2-2 2-4.3 2.5-6 1.8-9 0.7-8-0.3-7-1.2-13.5-3.5-7.5-0.9-3 0.9-6 4.8-5 2.4-7 1.4-10-0.1-1.6 0.5-1.3 1-0.5 1-0.2 2 3.8 10 1.8 11.9 1 3.1 2 2.3 5 2.9 3 2.7 1.8 3.1 0.9 4 0.1 4-0.4 3-1 3-1.4 2.5-2 2.3-2 1.5-2 1-3 0.6-2-0.3-2-0.8-2-1.3-2.4-2.5-2.1-4-1.8-8-1.1-2-1.1-1-2.3-1-9.2-1.8-5-1.5-4-2.3-3-3-2.3-4.4-1-6 0.3-6 2.2-8 0-2-1.1-2-10.1-10-1-0.6-2-0.4-9 3.4-7 1.2-8-0.3-8-1.6-2-1-1-0.9-2.7-3.8-2-4-0.9-3-0.1-2 0.3-3 0.7-2 1.5-3 2.3-3 2-2 2.9-2.1 3-1.5 3-0.9 3-0.4 5 0 4 0.5 3 0.8 5 2.3 7 5.9 2 0.7 2-0.3 6-2.9 4-1.5 4-0.8 4-0.4 4-0.1 4 0.4 4 0.9 7 2.3 3 0 7-2.4 3-0.7 9-0.2 3-0.7 2-2 4.2-7.9 2.8-3.1 3-2 3-1.2 3-0.5 3-0.1 6 0.6 3 1.2 3 1.9 3.6 4.2 4.4 7.8 2.6 2.2 3.4 1 12 1.5 4 1.3 3 1.6 3 2.6 1.3 2 0.7 2zM766 1371.6l1.2 2 0.6 2 0 2-0.5 2-0.9 2-2.1 3-5.6 5-7.7 4.7-4 1.6-3 0.8-3 0.1-2-0.3-2-1-1.9-1.9-1.1-2-0.4-2 0.2-2 1.1-3 1.9-3 2.6-3 6.6-5.4 6-3.3 3-1 3-0.4 3 0.1 2 0.6 2 1.3zM351 1374.2l1.9 2.4 0.8 3-0.2 4-1.5 3.3-3 2.3-4 1.5-5 0.9-1 0-1-0.7-0.5-2.3 0.4-5 1.3-5 1.5-3 2.3-1.9 2-0.7 3 0zM405.2 1394.6l0.6-4 1.3-3 2.4-3 2.5-1.9 3-1.5 4-1.2 4-0.6 5-0.1 8 0.9 13 4.2 11.1 2.2 5.9 1.6 2.8 1.4 2.1 2 1.1 2 0.3 2-0.3 2-1 2-2 2-3 1.5-15 3.2-14 4.6-5 0.9-5 0.2-5-0.3-4-0.7-4-1.4-3.3-2-3-3-1.6-3-0.7-3zM689 1392.8l5-0.2 4 1 2 1.3 1.6 1.7 1.9 4 0.4 3 0 3-0.4 3-0.6 2-1 2-1.9 2.2-2 1.4-2 0.7-5 0.4-4-1.1-2-1.3-1.3-1.3-2.2-4-0.6-3-0.1-3 0.8-5 0.9-2 1.5-2 2-1.6zM224 1395.1l3-1.3 3-0.6 4-0.1 3 0.2 3 0.9 2 0.9 2 1.5 1.9 2 1.7 3 0.8 3 0.3 3-0.1 4-0.6 3-1.2 3-1.8 2.5-2 1.7-3 1.6-3 0.9-7 0.1-3-0.6-3-1.3-2.7-1.9-1.8-2-1.8-3-0.9-3 0-3 0.4-4 0.8-3 1.4-3 1.6-2.1zM335.6 1393.6l0.9 1 0.2 1 0.3 7-0.9 8-1.3 4-1.8 2.5-3 2-2 0.5-3 0-3.4-1-1.6-1.1-1.6-1.9-1.5-4-0.5-7 0.5-3 0.8-2 2.3-2.8 3-1.5 8-1.7 3-0.2zM189 1405.8l3-1.1 3-0.4 4 0 3 0.5 3 1.2 2 1.3 2.3 2.3 1.4 2 0.8 2 0.4 2-0.2 4-1.2 5-1.6 3-1.7 2-2.2 1.7-2 0.9-3 0.8-4 0.2-3-0.3-3-0.9-2-1-2-1.6-1.5-1.8-1.4-3-0.7-3-0.2-4 0.4-3 0.9-3 1.2-2 1.7-2zM480 1410.5l4 0.6 2 1.1 2.5 3.4 1.3 3 1 4 0.4 5-0.3 5-1 4-1.9 3.8-3 3.6-4.1 3.6-0.7 1-0.2 1 0.4 1 3.6 5 1.8 4 0.5 3 0 4-1 5-2.3 3.7-3 2.2-4 1.1-4 0.1-4-1.1-2.9-2-2.2-3-1.2-4-0.2-6 1.3-5 1.8-3 5.1-5 0.3-1-0.7-2-4.3-5.6-2-4.4-1.1-5-0.1-7 0.8-4 1.2-3 2-3 2.2-2 2-1.2 2-0.6 3-0.4zM417.4 1435.6l1.1 4 0 3-0.4 2-0.9 2-1.5 2-3.7 2.7-4 1.4-4 0.7-24 0.4-3 0.4-1 0.6-0.5 0.8-0.2 7-1 4-2.3 3-3 1.7-5 0.7-5-0.7-3-1.3-1.9-2.4-0.8-3-0.2-3 0.4-3 0.7-2 1.4-2 2.4-1.9 2-0.8 6-1.3 1.8-1 0.5-2-0.3-7 0.6-3 0.9-2 1.5-1.8 3-2.1 5-1.6 7-1.1 10-0.9 8 0.1 4 0.7 4 1.5 3.2 2.2zM149 1445.3l2.4 0.3 2.1 1 1 1 1 2 0.5 3-0.1 6 3.5 9 1.3 5 0.3 4-0.2 5-0.5 3-1.1 3-1.8 3-2 2-2.4 1.5-3 1.1-6 0.2-3-0.5-3-1.3-2-1.5-2.1-2.5-1.6-3-0.8-3-0.4-4 0-5 0.5-3 1.2-4 1.5-3 4.3-7 2.9-9 0.6-1 1.9-1.5 2-0.7zM338 1471.2l2-1 2-0.4 5 0 4 1.2 1.8 1.6 1 2 0.5 2 0.1 5-1.2 4-2.2 2.6-2 1.2-2 0.6-5 0.1-3-0.9-2-1.3-1.2-1.3-1.1-2-0.5-2-0.1-5 0.5-2 1-2zM411 1477.8l3-0.9 3-0.4 3 0.2 3 0.5 2 0.8 2.6 1.6 2.2 2 1.4 2 1.3 3 0.7 3 0.2 4-0.3 4-0.7 3-0.9 2-1.5 2-2 1.6-3 1.3-3 0.6-8 0.4-4-0.4-4-1.1-2-1.1-1.1-1.3-0.9-3-0.3-4 0.4-6 0.8-4 1.2-3 2-3 2-2zM219 1483.3l4-0.5 4 0.1 3 0.7 3 1.3 2.3 1.7 1.7 2 1.6 3 0.9 3 0.9 6-0.2 5-1.2 6-2.3 8-1.5 4-1.2 2.1-2 1.9-3 1.2-3 0.2-2-0.4-2-1.1-2-1.9-1.8-3-2.6-6-4.7-9-1.7-5-0.4-3 0.1-4 0.5-3 1.1-3 1.5-2.3 2-1.8 2-1.2zM593.9 1496.6l1.2 3 0.8 4 0.1 4-0.5 4-1.1 3-1.8 3-2.6 2.7-3 1.8-4 1.2-5 0.1-4-1.2-5-2.6-2-0.4-1 0.5-1 1.1-4.2 6.8-3.8 4.3-3 2.3-3 1.7-3 1-2 0.3-3-0.1-4-0.8-4-1.4-3-1.4-3-2.1-1.9-1.8-1.5-2-1.5-3-1-4-0.3-4 0.3-4 1-4 1.6-3 2.3-2.7 3-2.3 3-1.4 6-1.4 8-0.3 5 1 8 3.3 2 0.2 1-0.6 1-1.4 3.4-7.4 2.6-3.9 3-2.5 3-0.9 4 0.7 6 2.8 4 3.4zM270 1503.2l2-1.4 3-1.3 3-0.6 3-0.1 3 0.2 3 0.8 2 0.9 2.5 1.9 1.7 2 1.6 3 1 3 0.6 4-0.1 5-1.1 3-1.4 2-1.8 1.7-3 1.8-3 0.9-3 0.3-4-0.2-4-0.9-3-1.5-2-1.5-1.5-1.6-1.7-3-0.9-3-0.3-4 0.2-3 0.7-3 1.5-3zM399 1509l1.2 1.6 0.8 3 0.4 4-0.2 5-0.7 5-0.9 3-1.6 3-2 2.3-3 2.2-4 1.8-4 1.1-7 1.2-4 0.2-3-0.4-2-0.8-2-1.6-1.4-2-1.1-3-0.6-4 0.1-4 0.7-5 0.9-3 1.7-3 1.7-2 3-2.4 3-1.6 4-1.3 5-1 5-0.4 4 0.2 4 0.8zM327.7 1518.6l0.9 3-0.4 2-2.2 2.8-3.6 2.2-4.4 1.6-4 0.4-3-1-1.6-2-0.5-3 0.7-2 1.5-2 2.9-2 4-1.6 4-0.7 3 0.3 1.8 1zM297 1539.1l1.4 1.5 1.2 2 1 4-0.2 7-1.6 5-2.1 3-2.7 2.3-3 1.6-5.4 2.1-1.5 1-1.1 1.2-3.8 5.8-3.2 3.1-4 2.4-9 3.3-1.3 1.2 0.2 8-1.8 8-1.1 3-1.6 3-5.4 6-1.2 2-0.5 2-0.4 8-0.6 5-1.5 4-2 3-2.8 2.5-5 2.3-5 1.1-9 1-4 0.8-3-0.3-6-1.8-3-1.4-3-2.2-2-2.2-1.6-2.8-0.9-3-0.4-3 0-4 0.5-3 1-3 2-3 3.4-2.5 3-1 5-0.5 8-0.1 3-0.6 3-1.3 2.9-2 1.1-1.3 1-2.2 2.3-7.5 1.7-2.9 2-2.2 2-1.4 3-1.6 11.9-3.9 1.5-1-0.3-2-3.5-7-1.1-5 0-4 0.5-3 1.2-3 1.4-2 3.4-2.6 5.8-2.4 1.5-1 1.7-2 3.3-7 2.7-2.8 3-1.9 5-1.5 6-0.3 5 1.2zM559 1547.6l2 3 1.4 4 0.4 4-0.2 4-0.8 4-1.1 3-1.9 3-2.8 2.7-2 1.2-3 1.2-9 1.8-11 3.3-11 2.4-3 1.4-6 3.8-4 2-5 1.7-10 2.7-1.3 0.8-1.2 2-5.1 15-1.5 3-1.9 2.5-3 1.9-4 0.5-3-1-2.1-1.9-1.6-3-1-5 0.1-4 1.2-4 2.4-3.5 3-2.4 4-1.8 7-2.1 1.6-1.2 0.7-2-0.6-10 0.7-6 0.9-3 1-2 2.7-3 3-1.7 3-0.9 11-0.9 2.5-0.5 7.5-3.8 7-2.7 3.9-2.5 5.1-5.6 3-2.6 3-1.8 3-1.2 4-0.6 4 0.6 4 1.8zM586.6 1553.6l0.6-2 1.4-2 1.4-1.2 2-1 5-0.8 7 0.4 5 1 12 3.2 6 2.1 4 2.4 1.3 1.9 0.3 2-0.6 2-2 1.9-3 1.4-3 0.8-8 0.6-11 0.1-8-0.4-5-1.4-3-2.2-1.3-1.8-0.8-2-0.4-3zM451 1549.8l2-1 3-0.7 6 0 3 0.7 2 1 3.3 2.8 1.3 2 1 3 0.4 3 0 4-0.6 3-0.9 2-1.5 2.2-2 1.8-2 1.2-3 0.9-3 0.4-4-0.2-3-0.7-2-1-2.2-1.6-1.6-2-1.1-2-0.9-3-0.2-3 0.2-4 0.4-2 1.4-3 1.6-2zM354 1555.1l1.9 1.5 1.3 2 0.9 3 0.1 3-0.5 4-1.1 5-1.5 4-1.6 3-2.4 3-2.1 1.9-6 3.6-7 2.3-3 0-1.7-0.8-1.9-2-1.7-3-2-5-1.2-5-0.3-4 0.3-5 0.7-3 1.5-3 1.6-2 2.7-2 5-1.8 6-0.9 5-0.1 4 0.3zM107 1557l3 1.4 1.5 1.2 1.3 2 0.7 3-0.4 3-1 2-2.1 2-3 1.4M423 1582.5l3 0.6 3 1.2 3 2.3 1.6 2 1.5 3 0.7 3 0.1 7-1.3 5-2.6 4-8.1 7-3.9 4.9-2 0.7-1-0.2-1-0.8-3.4-5.6-4.6-5.6-2.2-3.4-1.6-5-0.2-7 0.6-3 1.2-3 2.2-3 2-1.6 2-1.2 3-1 4-0.5zM318 1595.5l2 0.5 1.5 1.6 0.7 2 0.4 3-0.5 3-0.9 2-1.2 1.3-2 0.8-2-0.5-1.6-1.6-0.9-2-0.4-3 0.5-3 0.8-2 1.6-1.5zM365 1598.5l2-0.5 3-0.1 3 0.3 2 0.7 2 1.2 1.6 1.5 2.3 4 0.7 3 0.3 3-0.2 4-0.7 3-1.3 3-1.6 2-2.1 1.6-2 0.9-5 0.5-3-0.4-2-0.7-2-1.3-1.6-1.6-2-4-0.7-3-0.2-4 0.2-3 0.7-3 0.8-2 1.8-2.5 2-1.6zM532 1610.1l2 0.8 2.4 1.7 1.8 2 3.8 5.8 1.6 1.2 3.4 1.8 1.3 1.2 0.9 2 0.4 2 0 2-0.4 2-1.2 2-4.2 3-2 2-1.6 3-3 7-1.2 1.6-1.9 1.4-4.1 1.7-5 1-5 0.1-4.3-0.8-2.3-1-1.2-1-0.5-1 0.5-2 2.7-4 0.4-2-1.5-13 0.5-7 1.2-5 1.4-3 1.4-2 1.7-1.7 2-1.2 4-1.1 3 0zM161 1612.2l5-1.1 3 0 3 0.4 2 0.7 2.3 1.4 2.1 2 1.2 2 1.1 3 0.4 3 0 4-0.5 3-1.7 4-1.9 2.2-2 1.5-2 0.9-3 0.6-4 0.1-3-0.4-4-1.9-2-1.9-1.5-2.1-1.1-3-0.5-3 0-4 0.4-3 1.1-3 1.3-2 2-2zM288 1613l4 0 3 0.8 3 1.3 4.1 2.5 4 3 2.1 2 1.6 3 0.7 3-0.1 4-0.9 4-1.3 3-2.2 3.5-3 3.1-4 2.9-4 2-3 0.7-3-0.1-2-0.6-3-2-3-3-3.2-4.5-2.6-5-1.5-4-0.6-3 0.4-5 1.2-3 1.4-2 2.9-2.7 3-1.9 3-1.3zM668.3 1630.6l2.1-3 3.6-2.1 5-1 7 0.3 4 1.2 2 1.1 1.6 1.5 1.4 3 0.1 4-0.6 2-1.4 2-2.1 1.6-2 0.9-5 1-7-0.3-3-0.7-2-1-2.9-2.5-0.9-2-0.4-2zM215 1650.8l3-2.1 3-0.8 2 0.2 4 1.2 4 2.5 2.4 2.8 1.1 3 0.2 2-0.3 3-1.4 3-3 2.4-2 0.7-3 0.5-3 0-3-0.4-2-0.7-2.4-1.5-2.3-3-0.6-2-0.3-3 0.9-4 1.1-2zM363 1657l3-0.8 4-0.2 4 0.3 3 0.9 3 1.6 2 1.6 1.8 2.2 1.5 3 1 4 0.3 4-0.2 4-1 4-1.5 3-1.9 2.5-3 2.4-3 1.6-4 1-4 0.3-3-0.3-3-0.9-3-1.9-1.8-1.7-1.5-2-1.5-3-0.9-3-0.5-4 0.1-5 0.8-4 1.3-3 2.2-3 2.8-2.2zM186 1671.7l2.1 2.9 0.9 3 0.1 2-0.3 2-1 2-2.8 3.1-3 1.9-3 1.2-3 0.9-3 0.4-3-0.3-2-0.7-2-1.3-1.1-1.2-1.8-4-0.3-2 0.1-2 1.3-3 2.9-3 4.9-2.6 6-1.5 4 0.2 2 0.7zM277 1673.3l2.1 2.3 0.7 2 0.2 2-0.9 5-0.8 2-1.3 1.9-3 2.2-4 1.2-4 0-3-1.5-1-1-1-1.8-0.5-3 0.5-4 0.8-2 1.2-1.9 3-2.4 4-1.5 4-0.4zM303 1684.3l5-1.3 4-0.1 3 0.5 3 1.1 2 1.2 1.9 1.9 1.4 2 1.3 3 0.5 3 0.2 4-0.5 4-1 3-1.1 2-1.7 2-3 2.1-5 1.5-4 0.1-3-0.4-3-1.1-2-1.2-2-1.8-1.5-2.2-1.3-3-0.6-3-0.1-4 0.4-4 1-3 1.9-3 2.1-2zM363 1717.5l2 0.3 1.7 1.8 1 3 0.4 3-0.1 5-0.9 4-1.1 1.9-1 0.8-1 0.3-2-0.4-1.6-1.6-1.1-3-0.4-3 0.1-5 0.9-4 1.1-2zM369 1750.7l2-1 3-0.6 4 0 6 0.6 3 0.7 3 1.2 2 1.3 2 2 1.7 2.7 1.1 3 0.5 3 0 4-0.4 3-0.9 3-1.8 3-1.9 2-2.3 1.5-3 1.2-4 0.7-4-0.1-3-0.4-3-1.1-2.9-1.8-2-2-1.8-3-1.1-3-0.7-4-0.1-5 0.3-3 0.9-3 1.4-2.8zM509 1749.6l3-0.5 4 0 3 0.7 2 0.9 2 1.4 2 2.2 1.3 2.3 1.1 3 0.5 3 0.1 5-0.5 4-0.9 3-1.7 3-1.9 2.2-2 1.4-3 1.3-3 0.5-4-0.1-3-0.8-2-1-2-1.5-1.8-2-1.6-3-0.7-2-0.7-4 0-4 0.4-4 0.8-3 1.6-3 2-2.3 2-1.5zM258 1785.3l5-1 3 0 3 0.6 2 0.8 2 1.4 1.5 1.5 1.3 2 1 3 0.5 3-0.1 4-0.5 3-1.9 4-1.8 1.9-2 1.4-3 1.1-2 0.3-3 0-3-0.4-2-0.6-2.7-1.7-1.9-2-1.2-2-0.9-3-0.4-3 0.1-4 0.6-3 0.8-2 1.6-2.3 2-1.8zM507 1813.6l-1.4-1-1.1-2-0.2-2 0.4-2 0.6-1 1.7-1.4 3-0.6 2 0.1 2 0.7 1 0.8 0.9 1.4 0.4 2-0.2 2-1.1 2-1.4 1M335 1257.7l4 2.2 1.7 1.7 1.3 1.9 1.2 3.1 1.8 8 1.2 2 1.8 1.3 8 4.1 3 2.6 1.4 2 1.4 3 0.7 4 0 4-0.8 4-1.5 3-2.2 2.6-3 2-3 1.1-3 0.5-4 0.1-4-0.5-6-1.3-2 0.3-1.3 1.2-2.8 6-2.9 3.3-4 2.5-8.5 3.2-1.9 1-2.5 2-0.9 2 0 2 2.3 12 0.3 7-0.5 4-0.8 3-4.2 8-0.5 2-0.1 2 1.3 9-0.1 4-0.7 3-1 2-1.2 1.3-2 1.4-2 0.8-5 0.6-5-0.8-2.6-1.3-2.1-2-1.4-3-0.6-3 0.1-4 0.6-3 3.5-7 0.8-3-1.3-10 0.2-6 1.2-4 1.9-3 2.7-2.8 8.1-7.2 3.3-4 0.4-3-1.6-8-0.3-4 0.4-5 1.2-4 2.5-3.6 2-1.6 2-1 3-0.9 3-0.4 10 0.4 1-0.4 1-1.1 0.7-2.4 0.2-5-0.9-3-2-1.7-8-3.7-2.9-2.6-1.4-2-0.8-2-0.3-2 0-2 0.7-3 1.4-3 1.5-2 2.2-2 2.6-1.5 3-1 3-0.4 4 0.1zM205.9 1270.6l1.1-1 1-0.4 2-0.2 2 0.5 1.2 1.1 0.4 1 0 2-0.6 1.1-1.2 0.9-1.8 0.4-2.6-0.4-1.3-1-0.5-1 0-2zM122 1274.6l2-0.6 3-0.3 3 0.3 2 0.6 3 2.1 1.5 1.9 1 2 0.7 3 0.2 3-0.1 3-0.6 3-0.8 2-1.3 2-1.6 1.6-2 1.2-2 0.6-3 0.3-3-0.3-2-0.6-3-1.9-1.6-1.9-1-2-0.8-3-0.2-3 0-3 0.6-3 2-4 2-1.9zM629 1291l1.8 2.6 0.3 3-1.1 3-2 2.2-4 2.7-4 1.2-3-0.1-2-0.9-1-1.1-0.9-2 0.1-3 1.5-3 2.3-2.4 4-2.4 3-0.9 3 0.1zM785 1324.8l-2.2-1.2-1.7-2-1.1-3-0.1-3 0.3-3 0.8-2 1.6-2 2.4-1.4M556 1330.5l2-1.1 3-0.9 6-0.3 3 0.5 2 0.8 3 2.3 1.3 1.8 0.8 2 0.5 3 0 3-0.4 3-0.7 2-1.1 2-1.8 2-2.6 1.7-2 0.7-3 0.5-3 0-3-0.4-2-0.6-2-1.1-2-1.8-1.3-2-1.1-3-0.3-3 0.1-3 0.7-3 0.9-1.9zM656.2 1396.6l-0.5 4-1.2 2-1.5 1.5-4 2.3-6 1.5-8 0.4-6-0.5-17.2-4.2-12.8-2.4-2 0.4-6 6.1-2 1.4-3 1.2-3 0.6-4 0.2-4-0.6-6-1.9-2 0.3-1 0.6-3.5 4.1-1.3 3 0.5 2 4.9 7 1.8 5 0.8 9-0.7 11 0.5 0.8 5 0.8 4 1.5 2 1.9 1 2 0.4 2-0.2 4-1.2 2.7-1.3 1.3-1.7 1-3 0.5-3-0.8-1-0.7-1.5-2-0.9-3-0.4-9-0.6-1-11.6 0.3-8-0.9-3-0.8-3-1.5-2-1.5-2-2.2-1.5-2.4-1-3-0.5-6 0.6-5 3.1-8 0-2-1.6-2-4.1-3.3-2.7-2.7-5.3-8-1-0.7-1 0.1-7 4.8-3 1.4-3 0.9-6 0.6-7-0.5-5-1.6-2-1.3-1.9-1.7-1.5-2-1.4-3-0.9-5 0.2-3 0.8-3 1.5-3 2.2-2.6 3-2.3 3-1.5 3-0.8 3-0.3 7 0.3 3 0.7 3.4 1.5 3.9 3 5.7 7.6 1 0.5 2-0.7 5-4 4-2.2 4-1.3 5-0.7 5 0 5 0.9 4 1.5 6 3.4 2 0.5 1-0.1 6-3.5 4-1.6 4-0.4 7 0.2 2-0.5 1-0.7 1-1.5 3.5-8.4 3.1-4 2.4-1.7 3-1.4 3-0.6 3-0.2 4 0.3 3 0.8 3 1.5 1.7 1.3 2.6 3 4.7 9.5 2 2.2 3 1.3 11 1.4 5.1 1.6 1.9 1 2.3 2 1.2 2zM758 1377.5l0.8 2.1-0.3 2-1.5 2.2-3.3 2.8-3.7 2.1-3 0.7-2-0.3-1.7-1.5-0.5-2 0.6-2 1.6-2.2 3.5-2.8 2.5-1.4 3-1 2 0 1 0.4zM409.5 1394.6l0.5-3 0.8-2 1.4-2 2.2-2 2.6-1.4 3-1 4-0.5 4-0.1 4 0.3 4 0.9 13 5.6 9 1.1 3 0.8 3 1.7 0.9 1.6 0.1 1-0.2 1-0.8 1.1-3.7 1.9-11.3 2.1-10 4.7-4 1.4-4 0.7-4 0.2-4-0.3-4-0.7-2.8-1.1-2.2-1.3-2-1.9-1.7-2.8-0.7-3zM690 1393.7l5 0.1 3 1.1 2.9 2.7 1.7 4 0.2 6-1 4-1.2 2-1.6 1.7-2 1.2-2 0.6-5 0-3-1-2.8-2.5-1.9-4-0.4-3 0-3 0.5-3 0.8-2 1.4-2 1.4-1.3 2-1zM225 1396.1l2-0.9 3-0.7 4-0.2 3 0.4 2 0.5 2.9 1.4 3.1 3 1.1 2 1 3 0.4 3-0.2 4-0.6 3-0.9 2-1.8 2.6-2 1.7-2 1.1-3 1-3 0.3-4-0.2-3-0.7-2-0.8-2.7-2-1.7-2-1.6-3-0.6-3 0-4 0.4-3 1-3 1.2-2 1.8-2zM328 1399.3l2 0.4 2 1.9 0.9 3-0.4 5-1.1 3-1.4 1.5-2 0.9-3 0.1-1.5-0.5-1.4-1-1.3-2-0.6-3 0.2-4 0.7-2 1.9-2.1 2-0.8zM189 1407l2-0.9 3-0.7 6 0.1 3 0.8 2 1 1.7 1.3 1.8 2 1.1 2 0.8 3-0.2 6-0.9 3-1 2-1.6 2-1.7 1.4-2 1.1-3 0.8-6 0.1-3-0.7-2-0.9-3.1-2.8-1.3-2-1-3-0.3-3 0.2-4 0.8-3 1-2 1.7-2zM474 1412.5l4-0.1 3 0.4 2 0.6 2 1.2 2 2 1.2 2 1.2 3 0.5 3 0.2 4-0.3 4-0.8 3-1.3 3-1.7 2.3-2 1.9-3 1.8-3 0.9-3 0.1-2-0.3-3-1.3-2-1.6-2-2.4-1.4-2.4-1.1-3-0.5-3-0.2-4 0.4-4 1.7-5 2.1-2.9 2-1.6 2-0.9zM415.7 1435.6l0.9 2 0.3 2 0 3-0.5 2-1.7 3-1.7 1.5-2 1.3-4 1.4-4 0.6-28 0.4-1.3 0.8 0.7 6-0.3 5-1.4 3-1.7 1.6-2 1.1-2 0.6-3 0.2-3-0.2-2-0.6-2-1.1-2.1-2.6-0.8-3 0-3 0.6-3 1.3-2.1 2-1.8 2-0.9 9-1.4 1.2-0.8-1.2-7 0.4-5 1.6-3.2 3-2.5 4-1.5 6-1.1 11-1.1 8 0.1 4 0.6 4 1.4 3 2.1zM471 1454.1l4-0.4 3 0.7 3 2.3 1.3 1.9 0.8 2 0.5 5-0.3 3-0.7 2-2.2 3-1.4 1-2 0.8-4 0.3-2-0.3-2-0.7-2.6-2.1-1.6-3-0.6-5 0.3-3 0.6-2 1.9-3 2-1.6zM148 1457.7l2 0.6 3 2.4 2 2.2 2.3 3.7 1.3 3 0.9 4 0.3 4-0.2 4-0.6 3-1.2 3-1.3 2-2 2-2.5 1.5-2 0.6-3 0.4-3 0-3-0.7-2-0.8-2-1.4-2.2-2.6-1.5-3-0.8-3-0.3-4 0.2-4 0.8-4 1.2-3 1.6-2.7 2-2.4 3-2.5 3-1.7 2-0.6zM339 1471.6l2-0.8 2-0.3 4 0.2 3 1 2.1 1.9 1.3 3 0.2 5-0.5 2-0.9 2-2.2 2.3-3 1.2-5 0.1-3-1-2.8-2.6-0.9-2-0.5-2 0.1-4 0.6-2 1.1-2zM411 1481.7l2-1 3-0.7 5 0.3 4 1.6 3 2.8 1.1 1.9 0.9 3 0.2 6-1.2 4-1.3 2-1.7 1.5-4 1.6-4 0.5-3-0.1-2.5-0.5-2.4-1-1.4-1-1.7-1.9-1-2.1-0.5-3 0.4-6 0.9-3 1.2-2zM220 1485.6l3-0.4 4 0.2 3 0.8 2 1 1.7 1.4 1.6 2 1.3 3 0.8 3 0.6 4 0 3-0.6 4-1.4 5-2 5.1-2 3.9-2 1.9-2 0.7-3-0.2-2-1.2-1.1-1.2-8.3-14-1.3-3-0.9-3-0.2-3 0.2-3 0.6-3 0.9-2 1.5-2 1.6-1.4zM577 1492.3l2-0.4 2 0.1 3 0.7 2 0.9 2 1.5 1.3 1.5 2.1 4 0.6 3 0 3-0.3 3-0.7 2.5-1.4 2.5-1.6 1.7-2 1.3-2 0.7-4 0.4-2-0.3-2.1-0.8-1.9-1.3-1.6-1.7-2-4-0.5-3 0-3 0.4-3 0.8-3 1-2 1.4-2 1.5-1.3zM533 1501.1l3-1.1 4-0.7 5-0.3 4 0.5 3 0.9 3 1.4 2.4 1.8 2.7 3 1.6 3 0.6 3 0 3-0.6 4-1.3 4-1.6 3-2.4 3-2.4 2-3 1.7-4 1.2-4 0.2-4-0.4-4-1.1-3-1.4-2.9-2.2-2.1-2.4-1.4-2.6-1.2-4-0.2-5 0.5-4 0.9-3 1.8-3 2.6-2.6zM271 1503.6l2-1.3 3-1.1 6-0.4 5 1 2 1 2.2 1.8 1.5 2 1.4 3 0.8 3 0.3 4-0.8 5-1 2-1.7 2-1.7 1.4-3 1.4-3 0.6-3 0.1-3-0.3-3-0.7-3-1.5-2-1.7-1.7-2.3-0.9-2-0.7-3-0.2-4 0.4-3 1-3 1.2-2zM395.7 1512.6l1.5 2 1.1 3 0.3 3-0.1 3-1.2 6-1.6 3-1.8 2-2.9 2-3 1.3-4 1-5 0.8-3 0-3-0.5-2-1-2-1.6-1.3-2-1-3-0.3-3 0.1-3 1.3-6 1.7-3 1.8-2 2.7-2 3-1.4 3-0.9 4-0.6 4 0 3 0.4 3 1.2zM296 1540.5l1.7 2.1 1 2 0.7 3 0.1 3-0.3 3-0.7 3-1.6 3-1.8 2-4.1 2.6-6 2-2 1.2-1.1 1.2-3 5-1.6 2-2.3 1.9-3 1.6-4 1-4 0.1-3-0.8-3-2.3-2.3-3.5-1.1-4 0.1-5 1.1-4 1.3-2 2.2-2 2.7-1.4 5-1.9 2-1.6 1-1.5 2.3-5.6 2.3-3 2.4-1.9 3-1.4 6-0.9 3 0.1 3 0.7 2 0.8zM558.6 1551.6l1.2 3 0.5 3 0.1 4-0.6 4-1.1 3-1.1 2-1.7 2-2.9 2.1-3 1.1-9 2-10 3.4-12.8 2.4-2.3 1-6.9 4.4-6 2-5 0.5-4-0.5-3-1.9-2-2.9-1-2.6-0.5-3 0.1-3 0.7-4 1.9-4 1.8-1.9 2-1.2 5-1.4 10-0.4 3-0.8 7-4 9-3.4 2.6-1.9 6.4-6.5 3-1.8 3-1 5-0.3 4 0.8 2 1 2 1.5zM451 1550.8l2-1 3-0.8 6 0 3 0.8 3.1 1.8 1.8 2 1.5 3 0.5 2 0.2 6-0.7 3-0.9 2-2.5 2.9-2 1.3-3 1.1-6 0.2-3-0.5-2-0.8-2-1.4-1.8-1.8-1.1-2-1-3-0.2-6 0.7-3 0.8-2 1.6-2.1zM351 1557.8l2 1.6 0.9 1.2 0.8 2 0.5 3-0.1 3-0.7 4-0.9 3-1.6 3-1.9 2.6-2 1.9-5 2.9-3 0.9-3 0.3-2-0.2-2-0.9-2-1.8-1.8-2.7-1.3-3-0.8-3-0.4-4 0.3-4 0.7-3 1-2 1.6-2 1.7-1.4 2-1.1 3-0.9 4-0.6 4-0.2 3 0.4zM107 1559.3l2 1.3 0.8 1 0.9 3-0.1 2-0.9 2-2.7 2.1M423 1583.7l3 0.6 3 1.4 2 1.6 1.8 2.3 1 2 0.9 3 0.2 3-0.1 4-1.5 5-1.3 2-2 2.2-3 2.3-4 2.2-3 1-2 0.1-3-1.1-3-2.2-3-3-1.8-2.5-1.3-3-0.7-3-0.1-4 0.2-3 0.9-3 1-2 1.8-2.3 2-1.6 2-1 3-0.9 3-0.3zM257 1591.1l1 1.7 0.5 2.8-0.1 3-0.7 3-1.1 3-1.1 2-1.7 2-3.3 3-1.4 2-0.4 2 0.2 8-0.5 6-0.8 3-0.9 2-2.7 3.3-4 2.4-4 1-4 0.3-8-0.3-7 0.8-4-0.3-3-0.8-3-1.5-2.3-1.9-1.5-2-1.4-3-0.6-3 0-6 0.7-3 1.5-3 1.6-1.8 3-1.9 3-0.9 5-0.4 8 0.2 3-0.7 3.7-1.5 2.3-1.2 2.1-1.8 1-2 1.4-6 1.2-3 1.3-2.1 2-1.9 4-2 5-1.2 3.5 0.2 1.5 0.6zM317 1599.7l1 0.2 0.9 1.7 0.1 1-1 1.7-1 0-1.1-1.7 0.1-1.6zM480 1600.1l1.2 0.5 1.2 1 0.6 1 0.5 2-0.2 4-1.2 4-2.1 4-2 1.7-3 0.6-2-0.4-2.2-1.9-1.2-3-0.4-4 0.8-3.9 2-3 2-1.4 3-1.1zM366 1601.6l4-0.5 2 0.2 2 0.6 2 1.4 1 1.1 1.6 3.2 0.6 5-0.8 5-1 2-1.4 1.7-3 1.7-4 0.5-3.7-0.9-2.6-2-1.7-3-0.8-5 0.6-5 0.8-2 1.4-2zM526 1610.9l5 0.2 2 0.7 2 1.2 2.5 2.6 3.4 6 0.9 1 5.2 3.1 0.9 1.9 0.2 2-0.4 2-0.7 1-6 3.7-4 5.2-3 2.9-3 1.7-4 0.7-2-0.2-2-0.7-2-1.4-2-2.4-2.7-5.5-0.8-3-0.4-4 0.6-7 0.7-3 1.2-3 1.4-2 2-1.8 2-1.1zM161 1613.4l4-1.2 3-0.1 3 0.3 4 1.6 1.9 1.6 1.5 2 0.9 2 0.7 3 0.2 4-0.4 3-1 3-1.2 2-1.6 1.7-2 1.3-2 0.8-3 0.5-3 0-3-0.5-2-0.8-2-1.3-1.6-1.7-1.2-2-0.8-2-0.5-3 0-4 0.5-3 1.9-4 1.7-1.9zM288 1614.4l3-0.1 3 0.6 3 1.3 3 1.9 3 2.5 2.8 3 1.7 3 0.8 3 0.2 3-0.5 3-1.1 3-1.9 3-2 2.3-3 2.4-4 2.2-3 0.9-3 0.1-3-0.8-3-1.9-2-1.9-2.6-3.3-1.8-3-1.9-4-1.1-4-0.2-3 0.3-2 1.1-3 1.3-2 2-2 2.9-2 3-1.4zM671.1 1631.6l0.9-1.7 1-1 3-1.7 4-0.7 5 0.3 3 0.8 2.8 2 0.7 1 0.6 2-0.1 3-0.9 2-0.9 1-3.2 1.8-4 0.7-5-0.3-3.8-1.2-2.3-2-1.1-3zM217.7 1656.6l1.3-1.3 2-0.8 2-0.1 3 0.6 2 1.3 0.9 1.3 0.4 2-0.3 2.1-1 1.5-2 1.2-3 0.4-3-0.6-1-0.6-1.5-2-0.5-3zM364 1658l3-0.6 4-0.1 3 0.4 3 0.9 2 1.1 2.3 1.9 1.6 2 1.4 3 0.9 4 0.2 4-0.5 4-0.9 3-1.6 3-1.7 2-2.7 2-3 1.3-3 0.7-4 0.2-5-1-3-1.6-1.8-1.6-1.5-2-1.5-3-0.9-3-0.3-4 0.1-4 1-4 1.4-3 1.6-2 2.9-2.3zM183 1673l2 2.2 1.1 3.4-0.3 3-2 3-3.8 2.5-5 1.5-4-0.2-2-0.8-1.2-1-1.7-3-0.5-3 1-3 1.7-2 3.2-2 4.5-1.5 4-0.2zM273.3 1676.6l1.7 1 1.2 2 0 3-1.2 3-2 1.9-2 0.7-3 0.1-1.8-0.7-1.2-1.1-0.8-1.9 0.1-3 0.8-2 1.9-2 2-0.9 2-0.3zM303 1685.4l3-1.1 2-0.4 6 0.2 3 1 2 1.1 1.6 1.4 1.6 2 1.4 3 0.6 3 0.2 4-0.3 3-0.9 3-1 2-2.2 2.6-2 1.4-2 0.9-3 0.7-6-0.1-3-0.9-2-1-1.8-1.6-1.6-2-1.4-3-0.6-3-0.2-4 0.3-3 0.8-3 1-2 1.6-2zM371 1752.1l2-0.9 3-0.6 3-0.1 5 0.4 5 1.6 2 1.2 2 1.9 1.4 2 1.2 3 0.6 4-0.1 4-0.6 3-0.8 2-1.7 2.6-2 1.9-2 1.2-3 1.1-3 0.4-4 0-3-0.5-3-1.2-2.2-1.5-1.9-2-1.7-3-1-3-0.4-4 0-4 0.6-3 1.2-3 1.5-2zM509 1750.8l3-0.5 3 0 3 0.5 2 0.8 2 1.2 1.8 1.8 1.3 2 1.2 3 0.6 3 0.1 5-0.3 3-0.9 3-0.9 2-1.9 2.5-2 1.7-3 1.3-3 0.6-3-0.1-3-0.5-2-0.8-3.3-2.7-1.4-2-1.3-3-0.6-3-0.2-4 0.3-4 0.7-3 1.5-3 1.6-2 1.7-1.4zM258 1786.3l4-1.1 3-0.1 3 0.4 2 0.7 2 1.2 2.8 3.2 0.9 2 0.7 3-0.1 6-0.8 3-1.1 2-1.4 1.8-2 1.5-2 0.9-3 0.6-3 0.1-3-0.4-2-0.8-2-1.2-1.5-1.5-1.3-2-0.8-2-0.6-3-0.1-4 0.5-3 1.8-4 1.9-2zM334 1260l2 1 1.9 1.6 1.9 3 0.9 4 0.2 6 0.6 2 1.1 1 2.2 1 6.2 1.8 3 1.3 3 2.1 2.3 2.8 1.3 3 0.6 3-0.1 4-0.8 4-1.7 3-2.6 2.6-3 1.5-3 0.7-4 0.3-4-0.4-4-1.1-6-2.5-1 0.4-3.3 9.5-1.4 2-2.2 2-3.1 1.7-7 2-4 0.6-2-0.6-2-1.5-1-1.6-1-2.6-0.6-3 0-3 0.6-4 1.2-3 1.4-2 2.4-1.9 2-1 5-0.9 5 0.3 8 2.1 1-1.1 0.5-2.5 1.5-12 0-2-0.4-1-1.2-1-8.4-2.8-2-1.2-2-2-1.2-2-0.5-3 0.3-3 0.7-2 1.1-2 1.6-1.7 2-1.4 2-0.8 5-0.5zM123 1277.4l3-0.7 4 0.4 3 1.8 1.9 2.7 0.9 4-0.3 5-1.5 3.4-1.5 1.6-1.5 0.9-3 0.7-4-0.3-3-1.6-2-2.7-1-4 0.3-5 0.6-2 1.1-1.9 1.1-1.1zM785 1321.2l-1-0.8-1-1.8-0.3-3 0.7-3 1.6-1.8M558 1333.7l3-1.5 5-0.4 3.3 0.8 2.6 2 1.5 3 0.3 4-0.7 3.1-2 2.9-3 1.7-4 0.5-4-0.8-3-2-1-1.4-0.7-2-0.2-4 0.9-3.4zM303 1337l1 0.3 1.4 1.3 1.2 2 1 3 0.8 5-0.6 6-1.5 4-2.3 3.1-4 3.1-3 1.5-1 0.1-2-1.4-2-2.2-2.4-4.2-0.9-5 0.4-5 1.9-4 3-3.1 6-3.9zM569.2 1398.6l0.5-3 1.4-3 2.6-3 2.3-1.5 2-0.7 3-0.4 4 0.2 5 0.8 1-0.1 1-0.6 1-1.9 2.5-8.8 1.5-3 1.4-2 2.2-2 2.4-1.4 3-1 3-0.3 4 0.1 3 0.7 3 1.3 2.1 1.6 1.8 2 1.8 3 3.3 8.6 1 1.6 2 1.9 3 1 8 0.9 4 1 2 1 2 1.8 0.7 1.2 0.5 2-0.1 2-0.8 2-2.3 2.3-4.3 1.7-6.7 0.7-6-0.4-10-2.5-14-1.9-4-1.1-6-2.3-2 0-1 0.9-3 5.6-2 2.2-3 1.7-5 0.8-4-0.5-2-0.9-2-1.3-2.6-3-1-2zM296 1368.4l1 0.4 2 1.9 2.6 3.9 1.1 4-0.2 5-1.2 3-2.3 2.1-3 0.9-5-0.2-3-1.5-1.8-2.3-0.9-4 0.4-4 1.3-2.9 2-2.4 3-2.3 2-1.1zM489.8 1384.6l4.2-2.7 5-1.2 7 0.1 3 0.6 3 1.3 2 1.3 2 1.9 1.3 1.7 1.5 3 0.7 3 0.2 3-0.2 2-1.2 3-1.4 2-2.9 2.5-3 1.6-3 1-4 0.5-5-0.2-4-0.8-3-1.3-3-2.3-1.5-2-1.4-3-0.5-3 0.1-4 0.7-3 1.6-3zM538 1386.5l4-0.8 5-0.2 4 0.4 4 1.3 3 1.8 3 2.6 2.2 3 1.4 3 0.3 2-0.2 2-1.2 4-2.1 4-4.5 6-0.6 2 0.5 1 5.2 4.4 2.2 2.6 1.9 4 0.8 4 0.1 6-1.2 5-1.9 3-1.9 1.5-2 0.9-3 0.8-4 0.3-4-0.3-4-0.9-3-1.3-2.6-2-1.7-2-1.4-3-0.9-5 0.5-6 1.5-4 3.3-5 0.9-2-0.3-1-1-1-6.3-4-3.8-4-2.4-5-0.7-5 0.7-4 2.4-4 3.4-3zM415.8 1392.6l1.1-2 1-1 3.1-1.7 4-0.8 5 0.1 4 1.1 3.4 2.3 1.8 3 0.3 3-0.6 2-1.5 2-3.4 2.3-2 0.7-3 0.5-6-0.3-4-1.4-2-1.7-0.7-1.1-0.9-3zM688 1395.5l2-0.6 2-0.2 4 0.5 3 1.9 1.8 2.5 1 4 0.1 3-0.5 3-1.4 3-1 1.2-2 1.4-2 0.7-2 0.3-4-0.5-3-1.7-1.2-1.4-1.1-2-0.8-4 0.4-5 1.7-3.7 1.3-1.3zM225 1397.7l4-1.6 6-0.3 3 0.5 2 0.9 3.1 2.4 1.4 2 1.2 3 0.3 6-0.5 3-0.8 2-1.2 2-1.5 1.5-2 1.3-3 1.1-6 0.3-3-0.5-2-0.8-2-1.3-1.6-1.6-1.3-2-1-3-0.3-3 0.1-3 0.7-3 0.8-2 1.6-2.2zM190 1407.8l2-0.8 3-0.5 3-0.1 3 0.5 4 1.9 2.6 2.8 0.9 2 0.5 2 0.2 3-0.3 3-1.4 4-1.5 2-2 1.6-4 1.5-6 0.1-4-1.2-2-1.4-1.4-1.6-1.2-2-0.8-3 0-6 0.9-3 1.2-2 1.3-1.4zM473 1414.4l3-0.4 3 0.2 4 1.2 2 1.5 1.5 1.7 1.1 2 1 3 0.3 3 0 4-0.5 3-1.1 3-1.3 2.2-2 2.1-2 1.3-3 1-5 0.1-2-0.5-2-1-2-1.6-1.3-1.6-1.1-2-1.1-3-0.4-3-0.1-4 0.4-3 1-3 1.1-2 1.9-2 2.6-1.6zM414.8 1437.6l0.4 2 0 3-0.5 2-1.2 2-1.5 1.5-2 1.3-5 1.6-4 0.4-17 0.4-8-0.6-2-0.7-2-1.8-1.1-2.1-0.6-2 0.1-5 0.6-2 1.3-2 1.7-1.4 2-1.1 6-1.4 14-1.4 5 0 4 0.4 3 0.8 3 1.4 2 1.7zM357.2 1455.6l2.8-1.8 3-0.7 5-0.1 3 1.2 1.6 2.4 0.9 4-0.5 4-1.6 3-2.4 1.7-4 0.9-4-0.3-3-1.3-1.1-1-1.3-2-0.6-3 0.4-4zM472 1458.7l3-0.1 2 0.6 1.5 1.4 0.9 2 0.3 3-0.7 2.9-1 1.4-2 1.2-3 0.2-2-0.5-1.5-1.2-1-2-0.4-3 0.6-3 1.3-1.8zM144 1462l3-0.2 2 0.3 2 0.7 2 1.3 2 2 1.5 2.5 1.7 5 0.2 7-0.5 3-1.2 3-1.7 2.5-1.7 1.5-2.3 1.2-2 0.6-3 0.2-3-0.2-4-1.6-2-1.7-1.7-2.5-0.9-2-0.7-3 0-7 0.6-3 1.3-3 1.4-2.2 2-2 2-1.3zM340 1472.1l3-0.7 4 0.2 2.5 1 2 2 1.1 3-0.1 5-1.5 3-2 1.8-3 0.9-4 0-3-1.2-2.3-2.5-0.8-2-0.2-2 0.4-4 1.8-3zM414 1485.3l3-0.8 3 0.3 2.2 0.8 2.3 2 1.3 3 0 4-1.1 3-1.7 1.8-3 1.1-4 0-2.6-0.9-2-2-1.1-3 0-4 1.2-3zM221 1488.5l5-0.2 2 0.5 2 0.9 2.7 2.9 1.9 5 0.4 5-1.1 5-1.2 3-1.7 3-1.9 2-1.1 0.6-2 0.2-1-0.4-3-2.4-5-6.4-1.5-2.6-1-3-0.3-4 0.6-3 0.7-2 2.5-2.8zM579 1499.4l2-0.3 2.1 0.5 1.9 1.2 1.1 1.8 0.5 3-0.5 3-1.1 1.9-2 1.2-2 0.3-2-0.4-1.3-1-1.1-2-0.5-3 0.3-3 1.1-2zM531 1504.1l3-1.7 3-1.1 4-0.5 4-0.1 3 0.4 3 0.9 2.8 1.6 2.2 1.9 1.6 2.1 1.3 3 0.6 3 0.1 3-0.6 4-0.9 3-1.7 3-1.8 2-2.6 2-3 1.4-3 0.6-4 0.2-4-0.5-3-0.8-3-1.5-2.8-2.4-1.4-2-1.4-3-0.7-4 0-4 0.5-3 1.1-3 1.7-2.6zM272 1504.1l4-1.9 3-0.5 3 0 3 0.5 2 0.7 2 1.1 1.7 1.6 1.4 2 1.3 3 0.6 6-0.4 3-0.7 2-1.2 2-1.7 1.8-2 1.2-3 1.1-3 0.3-3-0.1-3-0.5-2-0.8-2-1.2-1.8-1.8-1.3-2-1.1-3-0.2-6 0.6-3 0.8-2 1.4-2zM392.2 1514.6l1.1 1 1.3 2 0.7 2 0.3 3-0.3 3-0.7 3-1 2-1.6 1.9-4 2.6-3 1-4 0.7-5-0.2-2-0.8-2-1.4-2-2.9-0.5-1.9-0.2-3 0.3-3 0.8-3 1.1-2 1.6-2 3.9-2.6 5-1.3 3-0.2 3 0.3 2 0.6zM295 1541.7l1.6 1.9 0.9 2 0.7 5-0.2 3-0.8 3-1.1 2-1.7 2-3.4 2.2-7 2.2-2 1-1.5 1.6-3.5 6.1-2 2-3 1.7-4 0.9-4-0.1-3-1-2.1-1.6-2.2-3-1-4 0.1-4 1.3-4 1.5-2 2.4-1.8 6.1-2.2 2.9-1.9 1-1.6 2.7-6.5 2.3-2.8 2-1.4 3-1.1 5-0.6 5 0.6 2 0.9zM556.7 1553.6l0.7 2 0.5 3 0 4-0.6 3-0.7 2-1.6 2.4-2 1.9-2 1.1-11 2.8-10 4-11 1.2-2.8 0.6-2.2 1.2-5 3.6-5 1.9-4 0.3-4-0.5-3-1.5-2.4-3-0.8-2-0.4-3 0.7-5 1.9-3.5 3-2.2 2-0.8 3-0.5 4-0.1 5 0.2 3-0.5 8-5 10.1-3.6 2.6-2 5.3-5.3 2-1.3 3-1 4-0.3 4 0.7 3.5 2.2zM451 1552l4-1.9 3-0.4 3 0.1 4 1 2 1.2 1.7 1.6 1.3 2 0.8 2 0.5 3 0 3-0.9 4-1 2-1.8 2-2.6 1.6-2 0.7-5 0.4-3-0.4-2-0.7-2-1.2-1.6-1.4-1.3-2-0.8-2-0.6-3 0-3 0.5-3 0.8-2 1.3-2zM347.8 1560.6l2.4 2 1 2 0.5 2-0.1 5-0.9 3-0.9 2-2.8 3.4-4 2.4-4 0.6-2-0.1-2-0.8-1.9-1.5-1.1-1.3-1-1.9-0.9-2.8-0.1-5.3 0.6-2.7 0.8-2 2.6-2.7 4-1.6 5-0.7 3 0.3zM414 1585.7l3-0.8 3-0.2 3 0.2 3 0.8 2 0.9 2 1.6 1.9 2.4 0.9 2 0.7 3 0.2 4-0.4 3-1 3-1.3 2.1-2 2.2-2 1.4-3 1.4-2 0.6-3 0.3-3-0.5-2-0.8-2-1.3-2-1.9-1.8-2.5-0.9-2-0.8-3-0.2-3 0.2-3 0.7-3 0.9-2 1.9-2.4 2-1.6zM254 1594.6l0.9 2 0.2 2-0.4 3-0.7 2-2 2.9-5 3.6-1.1 1.5 0 2 1.8 8-0.1 6-1.2 5-1.4 2.5-2 2.1-3 1.7-4 0.9-4 0.2-7-0.7-7 0.9-3 0.1-3-0.3-3-0.9-2-1.2-2-1.9-1.6-2.4-0.7-2-0.5-3-0.1-3 0.4-3 0.6-2 1-2 1.9-2.1 3-1.7 3-0.8 4-0.2 7 0.5 2-0.2 10.8-3.5 2-1 1.1-1 0.5-1 0.4-5 0.6-3 0.8-2 1.8-2.3 3-1.7 3-0.7 3 0.3zM368 1605.8l3-0.1 2 0.9 1.1 1 0.9 2 0.3 3-0.5 3-1.3 2-2.5 1.3-2 0-2-0.5-1.9-1.8-0.8-2-0.2-3 0.6-3 1.3-1.7zM476 1609.3l0.6 0.3-0.6 1.3-0.4-0.3 0.1-1zM526 1612.3l3 0 2 0.3 2 0.8 1.8 1.2 2.4 3 3.8 8.3 1 0.9 2.4 0.8 0.8 1-0.1 1-0.9 1-2.2 0.5-1 0.7-4 5.8-2 2.3-3 1.9-3 0.6-4-0.2-2-0.7-2-1.3-1.4-1.6-1.6-2.6-0.9-2.4-0.5-3 0.1-7 0.6-3 1.2-3 1.5-2.1 2-1.8 2-0.9zM162 1614.2l2-0.7 3-0.3 5 0.6 3.3 1.8 2.4 3 0.8 2 0.6 3-0.4 6-1.8 4-1.9 2-2 1.2-4 1-5-0.3-2-0.7-2-1.2-2.6-3-0.8-2-0.6-3 0.2-6 1.8-4.1 1.8-1.9zM287 1616.2l3-0.4 3 0.4 3 1.2 2 1.2 3.4 3 2.5 3 1.7 3 0.6 2 0.3 3-0.5 3-1.2 3-1.3 2-1.8 2-2.7 2-3 1.7-3 0.9-3 0.1-2-0.5-3-1.5-2-1.7-3.8-5-2-4-1-3-0.3-3 0.2-2 0.5-2 1.4-2.6 2-2.1 2-1.5zM675.3 1632.6l0.7-1.3 2-1.3 2-0.5 3.5 0.1 2.5 0.9 1 0.8 0.7 1.3 0.1 2-1.1 2-1.7 1-3 0.5-3-0.2-2-0.8-1.5-1.5-0.3-1zM363 1659.8l2-0.6 3-0.5 4 0 3 0.6 2 0.8 2.3 1.5 1.9 2 1.2 2 1.1 3 0.5 3 0 4-0.7 4-1.3 3-1.4 2-2.2 2-2.4 1.4-3 0.9-3 0.3-3-0.1-3-0.6-4-2.3-2-2.2-1.3-2.4-1-3-0.4-3 0.1-4 0.7-4 1.4-3 1.5-1.9 2-1.8zM180 1675.9l1.5 1.7 0.6 2-0.5 2-0.7 1-2.9 1.9-3 0.8-2-0.1-2-1.2-0.9-1.4-0.4-2 0.3-1.3 1.2-1.7 1.8-1.2 3-1.1 2-0.1zM304 1686.1l2-0.7 3-0.5 3 0 3 0.5 2 0.8 2 1.3 2.6 3.1 0.9 2 0.7 3 0.2 4-0.3 3-1 3-1.1 2-1.9 2-2.1 1.4-2 0.8-3 0.5-3 0-3-0.5-2-0.7-2-1.2-2.8-3.3-0.9-2-0.8-3-0.1-4 0.3-3 0.9-3 1.2-2 1.8-2zM511 1751.7l3-0.1 3 0.3 3.9 1.7 2.8 3 1 2 0.9 3 0.2 7-1.3 5-1.1 2-1.7 2-1.7 1.2-3 1.2-3 0.3-3-0.1-4-1.5-2-1.6-1.2-1.5-1.1-2-1-3-0.4-3 0.1-4 0.5-3 1.1-3 1.2-2 1.8-1.8 2-1.2zM371 1754.4l2-1.3 3-0.9 3-0.3 4 0.2 5 1.3 2 1.2 2 1.8 1.5 2.2 1.1 3 0.3 6-0.4 3-0.8 2-1.1 2-1.6 1.8-2 1.4-3 1.3-6 0.5-3-0.4-2-0.6-2-1-2.4-2-1.5-2-1.2-3-0.6-3-0.2-4 1-5 1-2zM259 1786.9l4-0.9 5 0.5 2 0.7 2 1.4 2.3 3 0.8 2 0.5 3 0.1 3-0.5 3-0.7 2-1.2 2-1.3 1.4-2 1.4-4 1.1-3 0.1-3-0.5-2-0.8-2-1.5-2.3-3.2-0.9-3-0.2-5 0.5-3 0.8-2 1.3-2 1.8-1.7zM322.3 1264.6l1.7-1.3 3-1 4 0.1 3 1.3 1.8 1.9 1 3 0 3-1.3 3-1 1-1.5 0.8-3 0.4-4-0.5-3-1.4-2-2.3-0.6-2 0.3-3zM125 1281.3l2-0.2 2 0.3 1.7 1.2 1.1 2 0.2 3-0.3 2-1.2 2-1.5 1-2 0.3-2.2-0.3-1.8-1.3-0.9-1.7-0.3-2 0.2-3 1.1-2zM337 1283.8l2-1.2 2-0.5 6 0.3 3 0.6 3 1.1 2 1.2 2 1.8 1.6 2.5 0.7 2 0.5 5-0.4 3-0.7 2-1.1 2-1.6 1.8-2 1.4-3 1.1-3 0.4-4-0.1-5-1.3-2.3-1.3-2.1-2-1.2-2-0.4-2 0-7 1.3-5 1.1-2zM324.6 1302.6l1.4 1.3 1 1.6 0.5 3.1-0.8 5-1 2-1.6 2-2.1 1.5-2 0.9-6 1.3-2 0.1-2-0.4-2.2-1.4-2-3-0.7-4 0.6-5 0.9-2 1.4-2 3-2 4-1 5 0.2 2 0.5zM563 1339.8l1-0.5 1.4 0.3 0.5 1-0.3 1-0.6 0.5-1 0.1-1-0.5-0.2-1.1zM302 1343.7l1 0.7 0.9 1.2 0.7 2 0.2 3-1 4-1.2 2-1.6 1.3-2 0.6-3-0.3-2-1.4-1.2-2.2-0.3-3 0.5-3 2-2.9 2-1.4 3-0.9zM597.9 1374.6l1.4-2 2.1-2 2.6-1.5 2-0.6 3-0.4 4 0.1 3 0.7 2 1 3 2.4 2.2 3.3 1.2 3 2.6 9.2 2 4.7 1 1 1 0.4 6 0.1 4 0.9 1 0.7 0.6 1-0.4 2-1.2 1-1 0.3-4 0.4-3.1-0.7-2.9-1.8-2-0.7-9 1.9-6 0.2-7-0.9-4.4-1.7-4.1-3-1.4-2-0.7-2-0.2-3 0.6-5 0.8-4zM292 1377.8l1-0.4 2-0.1 1 0.4 1 0.9 0.4 1 0.1 2-0.5 1.6-1 1-1 0.4-2 0-1-0.4-1-1-0.5-1.6 0.1-2 0.5-1zM490.4 1386.6l3.6-2.8 2-0.8 3-0.7 4-0.2 3 0.3 3 0.8 2 0.9 2 1.5 1.8 2 1.8 4 0.4 3-0.1 3-1.5 4-1.6 2-1.8 1.5-3 1.4-3 0.8-7 0-3-0.6-3-1.4-2.2-1.7-1.5-2-1.5-4-0.1-3 0.3-3 1.1-3zM536 1389.4l3-1.3 3-0.6 4-0.2 3 0.2 5 1.6 2.3 1.5 2 2 1.3 2 1.1 3 0.2 3-0.2 3-0.9 3-0.9 2-1.9 2.6-2 1.9-3 2-2 0.7-2 0.4-3-0.2-4-0.9-3-1.2-3-1.9-2.4-2.4-1.3-2-1.2-3-0.5-4 0.3-3 1-3 1.3-2 1.8-1.8zM577 1391.2l3-1.2 4 0 3 1.1 1.7 1.5 0.9 2 0 4-1.1 3-1.5 1.7-3 1.5-3 0.3-3-0.6-2.6-1.9-1.3-3-0.1-3 0.9-3zM689 1396.5l4-0.5 3 0.6 2 1.3 1.9 2.7 0.8 4-0.1 3-0.4 2-1.8 3-2.4 1.7-3 0.6-4-0.5-2.6-1.8-1.8-3-0.6-4 0.5-4 1.6-3zM227 1398.4l4-1.1 5 0.2 4 1.5 2.7 2.6 1 2 0.6 2 0.3 3-0.2 3-1.5 4-1.6 2-1.3 1-4 1.5-3 0.3-3-0.3-4-1.5-1.3-1-1.7-2-1.4-4-0.2-3 0.3-3 1.6-4 1.7-1.8zM190 1409.3l2-1 2-0.5 5 0 4 1.2 2.9 2.6 1.1 2 0.6 2 0.2 5-1.2 4-2.6 3.1-2 1.1-2 0.7-5 0.2-4.1-1.1-1.9-1.3-1.6-1.7-1-2-0.5-2-0.2-5 1.3-4 1.4-2zM472 1416.4l4-0.7 3 0.1 2 0.6 2 1 1.5 1.2 1.5 2 0.9 2 0.7 3 0.1 3-0.2 3-0.8 3-0.9 2-1.8 2.2-2 1.5-2 0.9-5 0.4-2-0.4-2-0.8-3-2.5-1.8-3.3-0.7-3-0.2-3 0.1-3 0.7-3 0.9-2 1.5-2 1.5-1.2zM543 1422.9l3-1.6 2-0.6 5 0.2 3 0.9 3 1.5 3.4 3.3 1.2 2 1.1 3 0.4 3 0 4-0.6 3-0.8 2-1.4 2-1.3 1.2-2 1.2-3 1-3 0.3-4-0.2-5-1.3-2.2-1.2-2.1-2-1.4-2-1-3-0.4-3 0.1-4 0.8-3 1.2-2.4 2-2.6zM413.2 1438.6l0.2 3-0.4 2-1.8 3-3.2 2.1-5 1.3-19 0.6-6-0.5-3-1-1.8-1.5-1.2-2-0.4-2 0-3 0.4-1.9 2-2.9 3-1.7 6-1.3 14-1.2 5 0.1 3 0.4 3 0.9 2.6 1.6 1.7 2zM358 1456.4l2.9-1.8 3.1-0.5 3 0.1 3 1.2 1.7 2.2 0.6 3-0.1 3-1.4 3-2.8 2-3 0.6-4-0.4-2.5-1.2-1.6-2-0.8-3 0.5-4zM144 1464.6l4-0.1 2 0.5 2 1.1 1.7 1.5 1.4 2 0.9 2 0.8 3 0.1 6-0.6 3-0.8 2-1.5 2.1-2 1.7-2 0.9-2 0.5-5-0.2-2-0.6-2-1.3-2.5-3.1-1.2-4-0.2-6 1.3-5 1.6-2.5 2-1.9 2-1.1zM340 1473.3l3-0.9 3 0.1 2 0.6 2.1 1.5 1.4 3 0.2 3-0.7 3-2 2.5-3 1.2-3 0.1-3-0.9-2.1-1.9-1.1-3 0.1-4 1.1-2.5zM222 1493.2l3-0.3 2 0.7 2 2 0.9 2 0.5 3-0.4 2.1-1 1.9-2 1.5-2 0.3-2-0.7-2-1.4-1.8-2.7-0.5-2 0.4-3 1-2zM534 1504.2l5-1.6 4-0.2 3 0.2 3 0.7 2 0.9 2 1.4 1.9 2 1.2 2 1 3 0.3 3-0.3 4-0.8 3-1 2-1.4 2-1.9 1.7-2 1.2-3 1.1-3 0.4-4-0.1-3-0.5-3-1.2-2.4-1.6-1.9-2-1.6-3-0.7-3-0.2-4 0.4-3 1-3 1.2-2 2-2zM273 1504.7l4-1.7 6-0.2 4 1.3 3.1 2.5 1.3 2 0.8 2 0.5 3 0.1 3-0.5 3-0.8 2-2.5 2.9-2 1.2-2 0.8-3 0.4-3-0.1-3-0.6-2-0.8-3-2.5-1.4-2.3-0.7-2-0.4-3 0.1-3 0.7-3 0.9-2zM377.4 1517.6l3.6-1.3 4-0.1 3 0.7 2.2 1.7 1.4 3 0.1 3-0.7 3-2.2 3-1.8 1.2-2 0.8-5 0.7-3.2-0.7-2.5-2-1.2-3 0.2-4 0.6-2 1.1-1.9zM294 1542.8l1.4 1.8 0.9 2 0.5 2 0.1 3-0.4 3-0.8 2-2.2 3-3.5 2.2-7 1.8-2.2 1-1.8 2-3.1 6-1.9 1.9-2 1.1-4 1-4-0.2-3-1.2-1.8-1.6-1.8-3-0.5-3 0.4-4 1.3-3 1.4-1.6 2-1.3 6.3-2.1 2.7-1.7 1.4-2.3 2.1-6 2.5-3 2-1.3 2-0.7 5-0.6 3 0.2 2 0.6zM452 1552.5l4-1.6 5-0.1 4 1.1 3 2.4 1.4 2.3 0.6 2 0.3 5-1 4-2.3 3.1-2 1.4-2 0.8-5 0.4-3-0.4-2-0.8-3-2.5-1.3-2-0.6-2-0.4-3 0.1-3 1.3-4 1.6-2zM554.4 1555.6l0.6 2 0.3 3-0.3 3-0.6 2-1.9 3-1.5 1.2-2 1-10 2.4-6.1 3.4-3.9 1.5-6 0.5-8-0.4-2 1.1-5 4.6-2 1.1-3 0.8-4 0-3-0.8-2.1-1.4-1.9-3-0.4-3 0.8-4 1.6-2.6 3-1.8 3-0.7 3-0.1 8 1.4 2-0.4 6.4-5.8 2.6-1.2 10-3 2.6-1.8 4.4-4.6 2-1.3 2-0.7 4-0.3 3 0.6 3 2.1zM343 1564.3l2.6 1.3 1.2 2 0.3 3-0.6 3-1.5 2.2-2 1.5-2 0.5-3-0.4-2-1.4-1.4-2.4-0.3-2 0.6-3 1.1-2 2-1.5 3-0.9zM414 1587.2l4-1 3-0.1 3 0.4 2 0.7 2 1.2 1.4 1.2 1.4 2 0.9 2 0.5 3 0.1 3-0.4 3-1.9 4-1.9 2-2.1 1.4-2 0.9-3 0.6-5-0.4-2-0.9-2-1.3-2.7-3.3-0.9-2-0.6-3-0.1-3 0.4-3 0.6-2 1.3-2.3 2-1.9zM249 1599.1l0.4 1.5-0.4 1.4-1 0.8-1 0.2-1.2-0.4-0.5-1 0.7-2.2 2-0.8zM245.5 1618.6l0.8 3 0.3 3-0.3 4-0.8 3-1 2-1.5 1.8-2 1.5-2 0.9-3 0.6-3 0.1-9-1.1-7 1.2-5-0.2-3-0.9-2-1.3-2-2.4-1-2.2-0.7-5 0.2-3 0.5-2 2-3.3 2-1.6 2-1 3-0.5 3-0.2 7 0.9 2-0.1 8-2.3 6-0.7 2 0.4 2 1.3 1.6 2.1zM163 1615.1l4-0.7 3 0.2 2 0.5 3 2 1.8 2.5 1.1 4 0 3-0.4 3-1.5 3.1-1 1.2-2 1.5-4 1.1-5-0.3-3.2-1.6-2.5-3-1.2-4 0-3 0.4-3 0.7-2 1.3-2 1.5-1.4zM525 1614.1l2-0.3 3 0.1 2 0.7 1.7 1 2.4 3 1.8 5 0.6 5-0.3 2-1.1 3-1.2 2-1.9 2.1-2 1.3-2 0.6-3 0.2-2-0.3-3-1.5-2.1-2.4-1.7-4-0.4-3 0.4-6 0.9-3 1.1-2 1.8-2zM289 1617.6l3 0.1 2 0.6 2.4 1.3 2.5 2 3.9 5 0.9 2 0.6 3-0.2 3-0.5 2-1.1 2-1.5 1.9-2 1.7-3 1.7-4 1.2-3-0.2-2-0.7-3.6-2.6-1.7-2-1.8-3-1.4-3-0.8-3 0.1-4 0.7-2 1.5-2.3 1.8-1.7 2.2-1.4 3-1.3zM364 1661.1l5-0.9 3 0.1 3 0.7 2 0.9 2 1.5 2.3 3.2 0.7 2 0.6 3 0 4-0.5 3-0.7 2-1.4 2.3-2 2.1-2 1.2-2 0.8-3 0.5-3 0-3-0.5-2-0.8-2-1.3-2.6-3.3-1.2-3-0.4-3 0-4 0.6-3 1.3-3 1.3-1.8 2-1.7zM304 1687.3l4-1.2 3-0.1 3 0.3 2 0.7 2 1.1 1.6 1.5 1.3 2 0.8 2 0.6 3 0.1 3-0.4 3-1.7 4-1.3 1.6-2 1.5-4 1.4-3 0.2-3-0.4-2-0.6-2-1.1-1.8-1.6-1.2-1.8-0.9-2.2-0.6-3 0.3-6 1.6-4 1.6-1.8zM373 1755.1l2-1 2-0.5 6-0.1 3 0.6 2 0.9 3.1 2.6 1.3 2 0.7 2 0.5 3 0 3-0.6 3-0.8 2-2.5 3-1.7 1.2-3 1.1-5 0.3-3-0.4-2-0.8-3.3-2.4-1.5-2-1.1-3-0.5-6 0.5-3 0.8-2 1.4-2zM509 1753.8l4-0.8 3 0.1 2 0.6 3.1 1.9 1.6 2 1 2 0.8 3 0.2 3-0.2 3-0.6 3-0.8 2-1.4 2-1.7 1.5-2 1.1-2 0.5-3 0.2-4-0.8-2-1.1-1.5-1.4-1.4-2-0.8-2-0.8-5 0.1-3 0.6-3 2-4 1.8-1.7zM259 1787.9l4-0.9 4 0.2 2 0.7 2 1.1 2.2 2.6 1.4 4-0.1 6-1.7 4-2.8 2.6-2 0.9-2 0.4-5-0.2-2-0.6-1.7-1.1-2.5-3-1.2-4-0.2-3 0.4-3 0.7-2 1.2-2 1.3-1.4zM339 1285.8l2-0.9 2-0.5 6 0.3 4 1.4 3 2.5 1.2 2 0.7 2 0.3 4-0.8 4-1 2-1.4 1.6-2 1.4-2 0.8-3 0.4-3 0-3-0.5-1.9-0.7-3.1-2.4-1.1-1.6-0.8-2-0.3-6 0.7-3 0.9-2zM322 1303.7l2.1 1.9 1 3-0.3 4-0.8 2-1 1.3-3 2.1-5 1.1-3-0.2-2-0.9-1-0.8-1.5-2.6-0.3-4 0.8-3.4 1.9-2.6 2.1-1.3 3-0.7 4 0.1zM603 1371.2l4-1.5 3-0.3 3 0.2 4 1.3 3.4 2.7 1.3 2 1.2 3 1.6 8-0.1 3-0.5 2-0.9 1.7-1.3 1.3-1.7 1.1-3 1.1-3 0.4-4-0.1-3-0.5-3-0.9-2-1.1-2.3-2-1.4-2-1-3-0.2-3 0.4-4 0.7-3 1.4-3 1.6-2zM492.3 1387.6l1.7-1.5 2-1.1 4-1 6 0.2 4 1.6 2.9 2.8 1.3 3 0.4 5-0.4 2-0.9 2-1.6 2-1.7 1.2-2 1-3 0.7-6-0.1-3-0.8-1.9-1-1.2-1-1.7-2-0.8-2-0.5-2 0.3-5 0.7-2zM536.4 1391.6l2.6-1.4 2-0.5 6-0.4 4 0.8 2 1 2 1.5 1.6 2 1 2 0.6 4-0.7 5-0.9 2-1.6 2.1-2 1.7-2 1.1-2 0.6-3 0.3-3-0.2-3-0.7-3-1.5-1.7-1.4-1.6-2-1-2-0.6-3-0.1-3 0.6-3 0.9-2zM581 1394.7l2 0.1 1 0.6 0.5 1.2-0.1 2-1.4 1.4-2 0.1-1.1-0.5-0.6-1-0.1-2 0.8-1.4zM690 1397.7l3-0.2 3 0.7 1.7 1.4 1.2 2 0.6 3-0.4 4-1.7 3-2.4 1.5-3 0.4-3-0.7-2-1.7-1.3-2.5-0.4-4 0.6-3 1.1-1.9 1-0.9zM227 1400.6l3-1.3 5-0.2 3 0.9 2 1.4 1 1.1 1.4 3.1 0.3 5-0.8 3-0.9 1.5-1.4 1.5-1.6 1-2 0.7-5 0.1-3-0.8-1.6-1-1.4-1.5-1.5-3.5-0.1-5 0.9-3 1.5-2zM191 1410.4l3-1.2 5 0 3 0.9 2.8 2.5 1.3 3 0.2 5-0.8 3-1.4 2-1.1 1-3 1.4-5 0.3-2-0.4-2-0.9-2.5-2.4-1.2-3-0.2-5 0.5-2 1.1-2zM473 1417.9l4-0.5 4 0.8 3 2.4 1.6 3 0.7 5-0.8 5-0.9 2-1.6 1.9-3 1.8-4 0.5-4-0.8-3-2.4-1.6-3-0.7-5 0.7-5 0.9-2 1.6-2zM544 1424.9l2-0.9 3-0.6 5 0.2 4 1.6 3 2.8 1.4 2.6 0.5 2 0.1 6-1.3 4-2.7 3-2 1.1-3 0.7-6-0.1-2-0.5-2.6-1.2-1.4-1-1.7-2-1.5-4-0.3-3 0.2-3 1.5-4 1.8-2.2zM373.1 1440.6l1.3-3 1.6-1.4 2-0.9 5-1.1 15-1.2 5 0.2 4.4 1.4 1.6 1.1 1.5 1.9 0.7 3-0.4 3-1.3 2-1.5 1.2-3 1.3-4 0.6-10 0-8 0.5-5-0.6-3-1.6-1.6-2.4zM359.6 1456.6l2.4-1.1 3-0.2 2 0.2 2.1 1.1 1.5 2 0.5 3-0.6 3-1.5 2-2 1.1-3 0.4-3-0.5-2-1.3-1.5-2.7-0.1-3 0.6-2.1zM143 1467.3l4-0.4 3 0.7 1.6 1 1.4 1.4 1.8 3.6 0.5 5-0.3 3-0.6 2-1.1 2-1.3 1.4-3 1.6-4 0.3-3-0.7-3-2.2-1.7-3.4-0.6-5 0.3-3 0.6-2 1-2 1.4-1.6zM341 1474.2l2-0.6 3 0.1 2.2 0.9 1.7 2 0.6 2-0.1 3-0.7 2-1.7 1.7-2 0.8-3 0.1-2.1-0.6-2.2-2-0.8-3 0.2-3 1.1-2zM273.8 1505.6l2.2-1.1 2-0.5 5 0 4 1.4 2.4 2.2 1.2 2 0.6 2 0.3 5-1 4-2.5 3-2 1.2-2 0.6-5 0.2-4-1.1-3-2.3-1.1-1.6-0.8-2-0.4-3 0.1-3 1.2-4 1-1.4zM534 1506.3l2-1.1 3-0.8 6-0.1 4.3 1.3 1.7 1.1 1.9 1.9 1.2 2 0.7 2 0.4 3-0.1 3-0.7 3-0.9 2-2.5 2.9-2 1.3-3 1-3 0.4-3-0.1-3-0.6-2-0.8-2-1.3-1.7-1.8-1.2-2-0.9-3 0-6 1.5-4 1.6-2zM381.6 1523.6l1.9 0 0.5 1-0.5 1-1.5 0.5-0.9-0.5-0.1-1zM293 1544l1.2 1.6 0.8 2 0.4 4-0.8 4-1.2 2-1.4 1.4-3 1.6-8 1.6-2 0.9-1.2 1.5-2 5-1.2 2-1.6 1.6-2 1.1-3 0.6-3-0.1-3-1-2-1.7-1.3-2.5-0.4-2 0.2-3 1.1-3 1.4-1.6 2-1.3 7-1.9 2.1-1.2 1.3-2 2.2-7 2.4-3 3-1.6 5-0.6 4 0.7zM452.4 1553.6l3.6-1.6 5-0.1 3 0.8 3 2.2 1.1 1.7 0.8 2 0.3 5-1.2 4-2 2.5-2 1.2-2 0.7-4 0.2-4-0.9-3-2.2-1.8-3.5-0.4-5 1.1-4 1.1-1.7zM551 1557.6l0.6 3-0.4 3-1.2 2.1-2 1.5-3 0.8-7 1-2 1.2-4.8 4.4-3.2 1.3-3 0.2-3-0.2-2-0.8-1.8-1.5-0.6-2 0.8-3 1.3-2 2.3-1.7 5-1.4 6-0.5 2-0.5 2-1.4 4-4.9 3-1.5 2-0.1 2 0.3 2 1.2zM495.5 1573.6l1.5-1.5 2-0.9 3-0.3 3 0.5 2.1 1.2 1.4 2 0.3 2-0.5 2-1.3 2-3 1.9-3 0.4-3-0.6-2-1.2-1.4-2.5 0.1-3zM413 1589.6l2-1.1 2-0.6 5-0.2 4 1.3 2.9 2.6 1.1 2 0.5 2 0.2 5-1.3 4-2.4 2.8-2 1.2-2 0.7-5 0.2-2-0.4-2-0.9-2.8-2.6-1.1-2-0.6-2-0.2-5 1.2-4zM244.5 1620.6l0.7 5-0.3 3-0.9 3-2.2 3-1.8 1.2-2 0.8-3 0.4-3-0.1-7-1.7-2 0.2-6 1.6-5-0.2-2-0.6-2.5-1.6-1.6-2-1.1-3-0.2-4 0.9-4 2.2-3 3.3-1.7 5-0.5 7 1.4 2 0 8-2.5 5-0.3 2 0.5 2 1.2 1.6 1.9zM527 1615.6l4 0.5 2.4 1.5 1.9 3 1.1 5-0.1 4-1.5 4-0.8 1.1-2 1.7-3 0.9-4-0.3-2.4-1.4-2.2-3-1-4 0.2-5 1.4-4.3 1-1.4 1.6-1.3 1.4-0.7zM163 1616.7l2-0.7 2-0.2 4 0.5 3 1.8 1.8 2.5 0.8 4-0.3 4-1.3 3.1-1 1.2-2 1.4-2 0.7-2 0.2-4-0.5-3-1.8-1.7-2.3-0.9-4 0-3 0.5-2 1.6-3zM289 1619.5l2 0 2 0.5 2 1 2 1.5 1.9 2.1 2 3 1.2 4-0.1 2-0.5 2-1.8 3-3.7 2.8-4 1.4-2 0-2-0.5-2-1.1-1.9-1.6-2.8-4-1.3-3-0.5-2-0.1-2 0.4-2 1.7-3 3.5-2.7zM364 1663l4-1.1 5 0.3 2 0.6 2 1.2 2.3 2.6 1.5 4 0 6-0.8 2.9-1 1.9-3 2.8-4 1.4-3 0.2-3-0.4-2-0.7-1.7-1.1-2.5-3-0.8-2-0.6-3 0-3 0.4-3 0.7-2 1.3-2 1.2-1.3zM305 1688.2l4-1 5 0.4 2 0.7 1.9 1.3 2.1 2.8 1.2 4.2 0 3-0.4 3-1.8 3.8-3 2.5-4 1.1-5-0.3-2-0.7-2-1.3-2.3-3.1-1.1-4 0-3 0.4-3 0.7-2 1.3-2zM374 1756.7l2-1 2-0.6 5 0 4 1.2 2.9 2.3 1.2 2 0.6 2 0.3 5-1.1 4-2.5 3-2.4 1.3-2 0.6-5 0.1-4-1.4-2.9-2.6-1-2-0.6-2-0.2-5 1.1-4zM510 1755.1l4-0.5 4 0.9 2.8 2.1 1.7 3 0.8 5-0.6 5-0.8 2-1.5 2-1.4 1.2-2 1-4 0.4-2-0.2-2-0.7-2-1.4-1-1.2-1.5-3.1-0.6-5 0.8-5 1-2 1.3-1.6zM260 1788.7l4-0.7 4 0.6 3 1.9 1.6 2.1 1.1 4-0.3 5-1.4 3.3-1.6 1.7-1.4 0.9-3 0.9-5-0.2-3.2-1.6-2.4-3-0.9-4 0.4-5 0.7-2 1.4-1.9zM340 1288.1l3-1.4 4-0.2 4 0.8 3 1.9 1.6 2.4 0.8 4-0.6 4-1.8 3-3 1.9-4 0.7-4.5-0.6-1.5-0.6-1.8-1.4-1.9-3-0.4-2-0.1-3 0.3-2 0.7-2zM311 1307.2l1.9-1.6 2.1-0.6 3 0 2 0.7 1.2 0.9 1.1 2 0 3-0.7 2-1.6 1.6-2 0.9-3 0.4-3-0.7-1.3-1.2-0.8-2 0.1-3zM603.7 1372.6l2.3-1.1 2-0.5 5 0.1 3 0.9 3.2 2.6 2.2 4 1 7-0.3 3-0.7 2-2.4 2.8-2 1-3 0.8-6-0.2-4-1.4-2-1.4-1.4-1.6-1-2-0.7-3 0.3-6 1.6-4 1.2-1.6zM494 1389.3l1-1.1 2-1.2 3-0.8 5 0.1 3 1 2.5 2.3 1.3 3 0.1 4-1.1 3-0.8 1.1-2 1.5-3 1.1-5 0-2-0.4-2-0.9-2.4-2.4-1.1-3 0-4zM539 1392.7l3-1 5-0.1 3.7 1 2.6 2 1.4 2 0.6 2 0.1 4-0.4 2-0.9 2-2.1 2.4-2 1.1-2 0.7-4 0.1-4-0.9-2-1.1-1.4-1.3-1.3-2-0.7-2-0.2-3 0.2-2 1.4-3.3 1.6-1.7zM690 1399.6l3-0.4 2 0.5 1.2 0.9 1.3 2 0.4 2-0.2 3-0.9 2-1.8 1.6-2 0.5-3-0.4-1.1-0.7-1.5-2-0.5-3 0.4-3 1.3-2zM228.1 1402.6l2.9-1.2 3-0.1 3 0.8 2 1.6 1.4 2.9 0.1 3-0.7 3-1.8 2.3-3 1.3-3 0.1-3-0.8-2-1.6-1.2-2.3-0.3-4 0.9-3zM191 1412.5l3-1.6 3-0.2 3 0.4 2.5 1.5 0.9 1 1 2 0.4 3-0.4 3-1.7 3-2.7 1.7-3 0.5-4-0.7-2.3-1.5-1.7-3-0.4-3 0.5-3 0.9-2zM474 1419.6l3-0.3 3 0.6 2.4 1.7 1.7 3 0.6 4-0.7 4.2-0.9 1.8-1.1 1.3-3 1.7-3 0.2-3-0.5-2.4-1.7-1.7-3-0.6-4 0.7-4.4 0.8-1.6 1.2-1.4zM545 1426.8l3-1 5-0.1 3 0.9 3 2.4 1 1.6 0.8 2 0.2 5-1 3.5-2.1 2.5-1.9 1.2-2 0.6-5 0.1-4-1.2-2-1.5-1-1.2-1-2-0.5-2 0.2-5 1.3-3 1-1.3zM375 1441.6l0.5-2 0.7-1 1.2-1 2.4-1 3.2-0.6 6-0.2 9-1.1 5 0.4 3 1.2 2 2 0.6 2.3-0.7 3-1.9 1.9-3 1.2-4 0.4-8-0.4-8 0.8-3-0.3-2-0.6-2-1.5-0.8-1.5zM360 1458.4l1-0.9 2-0.7 3 0.1 1.7 0.7 1 1 0.8 2 0 2-0.8 2-1.7 1.5-2 0.5-2-0.1-2.4-0.9-0.9-1-0.7-2 0-2.1zM145 1469.6l3 0.2 2 0.8 1 0.8 1.4 2.2 0.7 3-0.1 4-1.1 3-1.9 1.9-3 1-3-0.2-1.8-0.7-1.2-0.9-1.4-2.1-0.7-3 0.1-4 1.1-3 1.9-2zM341 1475.9l2-0.8 2-0.1 2 0.6 1 0.8 1 2.2 0.1 2-0.6 2-0.7 1-1.8 1-2 0.2-2-0.3-1.4-0.9-1.1-2-0.2-2 0.4-2zM274.7 1506.6l3.3-1.3 5 0 3 1.1 2.5 2.2 1.4 3 0.3 5-0.8 3-1.3 2-1.1 1-3 1.4-5 0.3-3-0.7-3-2.2-1.1-1.8-0.7-2-0.2-5 1-3 1-1.5zM535 1508.1l2-1 2-0.6 5-0.2 4 1.2 2.7 2.1 1.7 3 0.4 2 0.1 3-1 4-2.2 3-1.7 1.2-2 0.8-5 0.5-3-0.5-2-0.8-2.8-2.2-1.3-2-0.6-2-0.2-5 0.5-2 1-2zM292 1545.5l1.5 3.1 0.2 4-1 3-1.7 2.1-2 1.2-2 0.6-4 0.5-6 0-0.9 0.6-1.6 7-0.8 2-1.7 2-1.8 1-2.2 0.5-3-0.2-2-0.7-1.8-1.6-1-2-0.2-2 0.2-2 0.8-2.1 1.9-1.9 2.1-0.9 4-0.8 5-0.3 1-0.9 1.5-9.1 1-2 1.5-1.7 3-1.6 4-0.4 3.3 0.7zM453.1 1554.6l2.9-1.3 4-0.3 3 0.6 3 2 1.6 3 0.4 2 0 3-0.8 3-2.2 2.7-3 1.4-4 0.3-3-0.6-3-2-1.2-1.8-0.6-2-0.2-4 1-3.5zM523.4 1569.6l0.6-1 3-0.9 1.6 0.9 0.2 1-0.8 1.6-2 0.8-2-0.4-0.7-1zM416 1590.1l3-0.6 4 0.3 3 1.4 1.9 2.4 0.8 2 0.2 2-0.3 4-1.5 3-2.1 1.8-2 0.8-2 0.4-4-0.3-3-1.6-1.8-2.1-0.8-2-0.3-2 0.2-4 0.8-2 0.9-1.4zM164 1618.1l3-0.6 3 0.2 2 0.9 1 0.8 1.4 2.2 0.7 3-0.4 4-1.7 3-2 1.3-3 0.6-3-0.2-3-1.7-1.4-2-0.7-3 0.3-4 1.6-3zM243.3 1622.6l0.3 4-0.8 4-0.8 1.4-1.5 1.6-1.5 0.9-2 0.6-5 0-7-2.6-2 0.3-4 1.8-2 0.5-5-0.1-2-0.7-2-1.6-1.3-2.1-0.5-2 0.1-4 1-3 0.7-1 2-1.6 3-0.8 4 0 6 2.1 2 0.1 7-3 5-0.4 2 0.4 2 1.2 1.6 2zM526 1617.9l3-0.2 2.3 0.9 1.9 2 1.1 3 0.2 5-1 3-1.8 2-2.7 1.1-3-0.1-2-0.9-1.8-2.1-1-3 0-4 0.7-3 1.1-1.8 1-1zM287 1622.5l3-0.6 3.1 0.7 2.9 2.2 2.6 3.8 0.9 3-0.4 3-2.1 3-3 1.8-2 0.6-2 0.1-3-1.1-2.5-2.4-2.2-4-0.6-3 0.7-3 1.6-2.2zM365 1664.8l4-0.9 4 0.3 3 1.6 2 2.5 1 3.3-0.1 5-1.1 3-1.7 2-1.1 0.8-2 0.9-2 0.4-4-0.2-3-1.3-2.4-2.6-0.9-2-0.4-2 0.3-5 1.4-3.3 1-1.1zM307 1688.9l4-0.4 4 0.9 2 1.3 2.1 2.9 0.9 4-0.5 5-1.6 3-2.9 2.2-4 0.9-4-0.4-3.1-1.7-2.2-3-0.9-4 0.5-5 0.9-2 1.7-2zM512 1756.6l3 0 3 1 2 2 1.3 3 0.3 4-0.7 4-1.9 2.8-3 1.6-4 0.2-3-1.1-2.2-2.5-1.1-3 0-5 0.9-3 1.4-2 1-0.9zM375 1758.5l3-1.4 4-0.3 3.4 0.8 2.8 2 1.7 3 0.3 4-0.5 3-1.9 3-2.8 1.7-2 0.5-3 0-3-0.7-2-1.2-1-1-1.6-3.3-0.3-4 0.9-3.6zM260 1790l3-0.7 4 0.3 2.2 1 2 2 1.2 3 0.1 5-1.1 3-2.4 2.5-3 1.1-4 0-3-1.2-2.2-2.4-0.8-2-0.4-2 0.2-4 1.2-3 1-1.2zM341 1290.6l2-1.3 3-0.5 3 0.3 3 1.4 1.5 2.1 0.6 2-0.1 3.1-1.2 2.9-1.8 1.5-3 0.9-4-0.2-2.5-1.2-1.6-2-0.7-3 0.1-3 0.7-1.7zM315.8 1310.6l0.6 0-0.4 0.3zM606 1373.3l4-0.7 4 0.5 2.8 1.5 1.8 2 1.5 4 0.4 5-0.4 2-0.9 2-2.2 2.3-2 0.9-2 0.4-5-0.2-2-0.6-2-1.2-2.2-2.6-1.2-4 0.1-3 0.6-3 1.7-3.1zM497 1390.6l2-1.3 3-0.5 3 0.4 2 1.2 1.4 2.2 0.3 2-0.2 2-1 2-1.5 1.2-3 0.8-3-0.2-2-0.8-1.9-2-0.5-2 0.2-3zM539.8 1395.6l2.2-1 4-0.4 3 0.8 2 1.6 1.1 2 0.3 3-0.7 3-1.6 2-3.1 1.4-3 0.1-3-0.7-2-1.4-1.3-2.4-0.4-3 0.8-3zM691 1402l2-0.3 1 0.4 1.4 1.5 0.2 3-0.6 1.4-1 0.9-1 0.3-2-0.2-1.5-1.4-0.4-3 0.9-2zM231 1404.8l2-0.4 2 0.4 1.2 0.8 0.7 1 0.4 2-0.2 2-0.5 1-1.2 1-2.4 0.5-2-0.3-1-0.6-1-1.4-0.3-2.2 0.3-1.8 0.8-1.2zM193 1413.7l2-0.8 3-0.1 2 0.6 1.4 1.2 1.1 2 0.2 3-0.7 2.4-1.4 1.6-1.6 0.8-3 0.3-2-0.4-2.2-1.7-0.9-2-0.1-3 0.5-2zM473 1422.6l2-0.8 3 0 2 0.8 1.8 2 0.8 3-0.2 3-0.7 2-1.8 2-1.9 0.7-3 0.1-2-0.8-1.8-2-0.8-3 0.1-3 0.7-2zM545 1429.8l3-1.5 3-0.3 3 0.5 2.1 1.1 1.6 2 0.9 3-0.3 4-1.3 2.3-2 1.6-3 0.8-4-0.3-3-1.5-1-1.2-0.9-1.7-0.4-3 0.5-3zM404.8 1440.6l-0.5 2-1.1 1-2.2 0.8-2 0.2-4-0.4-5-2.2-1-0.1-2.6 1.7-2.3 1-3.1 0.1-2.1-1.1-0.6-1 0-1 0.3-1 1.1-1 2.3-0.8 3 0.3 4 1.4 1-0.2 4-2.2 4-0.8 3 0.1 2 0.7 1 0.7zM361.9 1459.6l2.1-0.7 1 0 1.5 0.7 0.6 1 0.2 1-0.7 2-1.6 0.9-1 0-2-0.7-0.7-1.2-0.1-1zM144 1473.7l2-0.5 1.9 0.4 1.1 0.8 0.7 1.2 0.5 2-0.1 2-0.9 2-1.2 1-2 0.4-2-0.4-1-0.8-0.7-1.2-0.5-2 0.2-2 0.9-2zM342.4 1477.6l1.6-0.5 2.1 0.5 0.7 1 0.2 2-1 1.6-2 0.5-1-0.1-1-0.7-0.6-2.3 0.2-1zM277 1507.1l3-0.5 4 0.5 2.4 1.5 1.5 2 0.8 3-0.3 4-1.4 2.8-2 1.6-3 0.9-4-0.3-2.4-1-2-2-0.9-2-0.3-2 0.4-4 1.8-3zM536 1510.6l3-1.5 3-0.3 3 0.3 3 1.7 1.7 2.8 0.4 3-0.4 3-1.7 2.9-3 1.7-3 0.4-3-0.4-3.1-1.6-0.9-1-1-1.9-0.4-3.1 0.4-3 1-1.9zM280 1546.6l2-1.2 3-0.6 3 0.4 2 1.2 1.4 2.2 0.3 2-0.3 3-1.2 2-2.2 1.5-3 0.7-3-0.1-2.5-1.1-1.3-2-0.2-2 0.7-4zM454.2 1555.6l2.8-1.1 3-0.1 3 0.7 2 1.6 1.4 2.9 0.2 4-1.1 3-1.5 1.6-3 1.3-3 0.1-3-0.7-2-1.6-1.4-2.7-0.2-4 1-3zM265 1561.9l4-0.5 1.2 0.2 1.4 1 0.8 2-0.2 2-0.6 2-1.6 1.6-2 0.6-2 0-2-0.7-1.3-1.5-0.5-2 0.3-2 1.3-2zM416 1592.7l3-0.9 3 0.1 2 0.8 1.8 1.9 0.8 3-0.2 3-0.8 2-1.6 1.6-3 0.9-3-0.1-2-0.8-1.6-1.6-1-3 0.1-3 0.7-2zM165 1619.9l2-0.4 3 0.4 1.2 0.7 1.5 2 0.4 2-0.2 3-0.9 2-2 1.5-3 0.4-2-0.4-2-1.5-0.6-1-0.5-2 0.1-3 1-2.2zM230.2 1620.6l2.8-1.2 3-0.2 2 0.3 2 1.3 1.2 1.8 0.6 3-0.7 4-1.3 2-2.8 1.5-3 0.2-3-0.7-2.6-2-1.7-3-0.1-2 1.4-3zM209.9 1621.6l2.1-1.2 3-0.3 2.8 0.5 1.8 1 1.9 2 0.9 2-0.1 2-0.8 2-2.5 2.4-3 1.1-4-0.2-2-1.1-1.5-2.2-0.5-3 0.5-3zM528 1620.6l2 0.6 1 0.9 0.8 1.5 0.3 3-0.3 2-0.8 1.6-1 0.8-2 0.5-2-0.3-1-0.6-1.2-2-0.3-2 0.4-3 1.1-2 1-0.6zM289 1625.4l2-0.1 2 1 2 2.3 0.9 2 0 2-0.9 1.9-1.4 1.1-1.6 0.7-2 0.2-2-0.7-1.9-2.2-0.9-2-0.2-2 0.7-2 1.3-1.3zM366 1667.1l3-0.7 3 0.2 2.1 1 1.7 2 0.9 3-0.3 4-1.4 2.5-2 1.4-3 0.7-3-0.4-2.2-1.2-1.4-2-0.7-3 0.1-3 1.2-2.7zM306 1691l3-0.9 4 0.2 2.7 1.3 1.7 2 1 3 0 4-1 3-2.4 2.5-3 1-4-0.2-2.9-1.3-1.7-2-1-3 0.2-5 1.4-2.9zM377 1760.1l3-1 3 0.2 2 0.7 1.8 1.6 0.9 2 0.3 3-0.8 3-1.2 1.5-2 1.1-3 0.4-3-0.6-2-1.4-1.4-3-0.1-3 1-3zM511 1759.4l2-0.5 3 0.4 1.9 1.3 1.2 2 0.5 3-0.3 3-1.3 2.5-2 1.4-3 0.4-2-0.5-1.3-0.8-1.4-2-0.7-3 0.2-3 1.2-2.7zM260 1791.6l3-0.9 3 0.1 2.1 0.8 2.1 2 1 3-0.1 4-1.1 2.7-2 1.8-3 0.8-3-0.1-2.5-1.2-1.7-2-0.9-3 0.3-4 0.8-2zM343 1293.6l1.1-1 1.9-0.6 2 0.2 1.2 0.4 1.1 1 0.6 2-0.2 2-0.5 1-1.2 1-1 0.3-2 0.1-2-0.7-1-1.1-0.5-1.6 0.1-2zM607 1375.2l3-0.6 3 0.3 3 1.7 1.4 2 0.8 3 0 4-1.2 2.8-2 1.7-3 0.9-4-0.3-2.4-1.1-1.8-2-1.1-3 0-3 0.4-2 1.7-3zM543 1399.6l2-0.6 1.6 0.6 0.5 1-0.4 2-1.7 0.8-2-0.6-0.5-1.2 0-1zM194.9 1416.6l2.1-0.5 1.5 0.5 0.7 1 0.2 1-0.7 2-1.7 0.7-1 0-1.3-0.7-0.7-2 0.2-1zM475 1425.7l2-0.3 1 0.3 0.9 0.9 0.4 1-0.1 2-0.3 1-0.9 0.8-1 0.4-1.6-0.2-1.4-1.2-0.3-2.8 0.4-1zM548 1431.9l3-0.6 2 0.5 1.1 0.8 0.6 1 0.4 2-0.3 2-0.8 1.3-2 1-2 0.1-1.6-0.4-1.4-1-0.9-2 0-2 0.9-1.9zM276.3 1509.6l2.7-1.1 3 0 2 0.6 1.7 1.5 1 2 0.2 3-0.4 2-1.5 2.1-2 1.1-3 0.3-2-0.4-2-1.1-1.4-2-0.4-3 0.5-3zM539 1513.3l1-0.5 2-0.3 2 0.4 1 0.7 0.7 1 0.4 2-0.3 2-0.8 1.2-1 0.6-2 0.4-2-0.2-1.5-1-0.7-1-0.3-2 0.4-2zM283 1548l3-0.4 2 1.1 0.6 0.9 0.2 2-0.7 2-1.1 0.9-3 0.4-1.3-0.3-1.1-1-0.5-1 0-2 0.9-1.9zM455 1557.2l2-1 3-0.1 2 0.5 1.4 1 1.2 2 0.4 3-0.4 2-1.6 2.2-2 1-3 0.1-2-0.5-2-1.7-0.8-2.1-0.1-3 0.7-2zM418 1596.1l1-0.6 2 0 1.5 1.1 0.5 2-0.2 1-0.8 1.2-2 0.6-1-0.1-1.2-0.7-0.8-2 0.1-1zM232 1623.2l1-0.7 2-0.4 2 0.3 1 0.6 1 1.6 0.1 1-0.1 2-1 1.8-1 0.7-2 0.4-2-0.4-1-0.6-0.7-0.9-0.5-2 0.3-2zM166 1623.3l2-0.4 1.4 0.7 0.6 2-0.1 1-0.9 1.2-2 0.3-1.2-0.5-0.7-1 0-2zM212 1623.8l1-0.5 2-0.3 2 0.9 0.9 1.7 0 2-0.9 1.7-2 0.8-2-0.2-1-0.5-1-1.5-0.2-1.3 0.2-1.3zM368 1670.7l1-0.3 2 0.2 1.3 1 0.5 1 0 2-0.3 1-0.9 1-2.6 0.4-1.2-0.4-0.9-1-0.3-1 0-2 0.4-1zM307 1692.7l2-0.7 3 0.1 2 0.7 1.8 1.8 0.9 3-0.2 3-0.7 2-1.8 1.8-2 0.7-3 0.1-2-0.7-2-1.9-0.9-3 0.2-3 0.7-2zM378.9 1763.6l2.1-0.8 1 0.1 1.5 0.7 0.6 1 0.2 1-0.3 2-1 1-1 0.3-2-0.1-1-0.6-0.8-1.6-0.1-1zM512 1763.3l2-0.5 1 0.3 1 1.2 0.2 2.3-0.2 1-1 1.1-2 0.3-1-0.4-0.7-1-0.3-2.5zM261 1793.1l2-0.7 3 0.1 2 1.1 0.8 1 0.8 2 0 3-0.6 2.1-2 2-2 0.5-3-0.2-2-1.2-0.8-1.2-0.6-2 0-3 0.8-2zM608 1377.8l2-0.4 2 0.1 2 1.1 0.8 1 0.6 2 0 3-1 2-1.3 1-2.1 0.5-2-0.2-2-1-1.1-1.3-0.5-2 0.3-3 1.1-2zM278 1511.6l1-0.5 2-0.2 2 0.7 0.9 1 0.3 1 0.1 2-0.3 1-1 1.2-1 0.5-2 0.2-2.2-0.9-0.7-1-0.4-2 0.5-2zM457 1558.9l1-0.4 2 0 1 0.4 1 1 0.5 2.7-0.5 1.5-1 1-1 0.4-2 0-1-0.4-1-1-0.5-1.5 0.2-2zM308 1695.3l1-0.5 2-0.1 2.1 0.9 0.7 1 0.4 2-0.4 2-0.8 1.1-1 0.6-2 0.3-2.3-1-0.7-1-0.3-2 0.3-2zM262 1795.4l1-0.5 2-0.1 1 0.4 1 1.1 0.4 1.3-0.1 2-1.3 1.8-1 0.4-2-0.1-1.6-1.1-0.5-1-0.1-2 0.2-1z"/></g>
<g clip-path="url(#cpa)"><path fill="#2b42e6" stroke="#2b42e6" stroke-width="1.9" stroke-linejoin="round" d="M417 250.6l1.5-0.3 2 0.3 1.1 0.6 1 1.5 0.4 2-0.2 2.5-0.9 1.5-1.4 1-2 0.3-1.5-0.3-1.4-1-0.8-1.5-0.3-2 0.2-2 0.8-1.5zM483.5 260.9l0.4 0.8 0 0.5-0.4 0.8-0.5-0.1-0.2-0.7 0.1-1zM500.9 266.7l0.2 1-0.1 1.5-0.5 1-1 0.9-2 0.9-2 0.3-2.5-0.1-3.5-0.6-0.5 0.8-0.4 1.8-0.7 1.5-0.9 0.9-1.5 0.7-2.5 0.2-2-0.5-2.9-2.3-0.9-1-0.1-1 0.4-1 3-2.6 2-0.7 2-0.1 2.5 0.1 0.5-0.2 1.2-2.5 0.8-0.7 1.5-0.7 3-0.5 2 0.1 1.5 0.2 1 0.3 1.3 0.8 0.5 0.5zM406 267.7l1.5-0.3 1 0 1 0.3 4.5 2.8 1 1.2 0.4 1 0.3 1.5-0.1 2.5-0.7 2-1.4 1.4-1.5 0.5-2-0.2-1-0.5-1-1.2-1.3-3.5-1.8-2-0.5-1.5 0-1.5 0.3-1 0.7-1zM395.5 275.2l1.5-0.5 2.5 0 1.5 0.6 1 0.9 0.7 1.5 0 2-0.4 1.5-1.3 1.4-1.5 0.7-1.5 0-2-0.5-1.5-1.1-0.8-1.5 0-2.5 0.7-1.5zM399.5 284.5l2 0.2 1.5 0.7 1.2 1.3 0.7 2 0 2.5-0.6 2-1.3 1.5-1 0.5-1 0.2-2 0-1.5-0.7-1.3-1.5-0.6-2 0.1-2.5 0.6-2 1.2-1.3 1-0.6zM367 286l1 0.6 1.1 1.6 0.7 2 0.4 3-0.9 2.5-1.7 2.5-1.6 1.3-1 0.1-1-0.6-1.1-1.8-0.8-2.5-0.3-2.5 1.1-2.5 1.6-2.3 1.5-1.2zM413 294.9l2 0 1 0.4 1 0.7 1.3 1.7 0.7 1.5 0.3 1.5-0.2 2-0.8 1.5-1.8 1.4-2 0.6-2-0.2-1.5-0.8-1.2-1.5-1-2-0.2-1 0-2 0.7-1.5 1.2-1.2zM386.3 295.7l0.7-0.2 0.4 0.2 0.2 0.5-0.3 0.5-0.3 0.2-0.7-0.2-0.1-0.5zM394 298.2l2-0.2 1.5 0.3 1 0.7 0.8 1.2 0.4 2 0 1.5-0.3 1-0.9 1.3-1.5 0.8-2 0.2-1.5-0.4-1-0.9-0.8-1.5-0.2-2 0.2-1.5 0.8-1.5zM403 309.3l2-0.3 2 0.4 1.1 0.8 0.8 1 0.3 1 0.1 1.5-0.5 3 0.1 0.5 0.9 1.5 0.5 2-0.1 1.5-1 2.5 0.1 0.5 0.7 0.1 0.5-0.2 1.5-1.1 1-0.5 1.5-0.3 1.5 0.1 1 0.2 1.1 0.7 0.8 1 0.4 1 0.1 1.5-0.1 1.5-0.4 1-0.9 1-1.5 0.8-3 0.6-1.6 1.6-1.4 0.8-1.5 0.1-1.5-0.1-1-0.5-0.8-0.8-0.7-1.5-0.3-2 0.4-2 0.9-2-0.7-0.5-1.3-0.3-1.3-0.7-0.9-1-0.4-1-0.2-2 0.6-3-1.3-2.5-0.2-1 0-1.5 0.3-1 0.5-1 0.9-0.9zM428 323.4l2-0.9 2-0.1 2 0.6 1.5 1.2 0.9 1.5 0.4 2-0.6 2-1.2 1.5-1 0.7-1 0.4-2 0.2-2-0.4-1-0.6-1-0.8-0.7-1-0.4-1-0.1-2 0.8-2zM396.5 324.8l1.5-0.3 1.5 0.2 1 0.5 0.8 1 0.4 1.5-0.2 1.5-0.5 1.2-1 0.8-1.5 0.4-1.5-0.1-1-0.4-0.9-0.9-0.5-1.5 0.1-2 0.8-1.3zM369 325.4l0.5-0.3 1-0.1 1 0.6 0.3 1.1-0.3 1-1 0.6-1-0.1-0.5-0.2-0.4-0.8-0.1-1zM399 339.5l1 0.1 0.9 0.6 0.5 1 0.3 1.5 0 1.5-0.4 1.5-0.8 1-1 0.4-1-0.2-0.5-0.3-0.6-0.9-0.4-1.5 0-1.5 0.3-1.5 0.7-1.2zM447.7 345.7l0.5 1 0.1 1-0.1 1-0.4 1-1.3 1.5-2 1.1-1 0.2-1.5 0-1.5-0.4-2-0.9-1-0.1-3.5 2.1-1 0.3-1.5 0.2-2-0.3-3-1.3-1-0.1-4.6 2.2-0.2 0.5 1.7 2 0.5 1 0.4 2.5-0.1 1.5-0.5 1.5-0.7 1.1-1 0.8-1 0.4-1 0.2-2.5-0.2-1.5-0.9-1.1-1.4-0.3-1-0.2-1.5 0.2-2.5 0.9-1.8 1.9-1.7 0.2-0.5-2.3-2-0.7-1.5 0-1 0.1-1 0.7-1 1.1-0.8 2-0.6 2.5-0.1 2 0.2 2.5 0.8 1 0 3-1.8 1.5-0.5 1-0.2 2 0.2 3.5 1.1 1-0.3 2.5-2 1-0.4 1.5-0.3 1.5 0.2 1.5 0.5 1.4 1zM384.1 351.2l1.4-1.1 2.5-0.6 2 0.1 3 0.9 1-0.1 2.5-0.5 1.5-0.1 1.5 0.3 1 0.4 1 1 0.6 1.2 0.1 1.5-0.5 2.5 0.2 0.5 2.1 1.6 0.7 0.9 0.4 1 0.1 2.5-0.7 2-0.5 0.6-1 0.8-1.5 0.4-2.5-0.1-1.5-0.7-1.3-1.5-0.6-3-0.3-0.5-0.8-0.4-3-0.4-1-0.6-1.5-1.3-3-0.8-1.6-1-0.7-1-0.4-1.5 0.1-1.5zM364.7 358.2l0.7-1 1.1-0.7 2.5-0.4 2 0.2 1 0.5 1 0.9 1 1.3 0.5 0 2-1 1.5-0.3 2 0.1 1.5 0.6 1 0.9 0.7 1.4 0.3 2.9 0.3 0.6 0.7 0.5 3 1.1 1.1 0.9 0.6 1 0.2 1.5-0.6 2-1.3 1.3-1.5 0.5-2-0.1-2-0.7-1-0.7-0.7-0.8-1-3-2.8-0.9-1-0.6-0.9-1-1.2-2.5-0.4-0.2-2.5 0.9-2 0.1-1.5-0.2-1.5-0.8-0.7-0.8-0.4-1 0-1.5zM391.2 365.7l0.8-0.4 0.5 0 1.1 0.4 0.5 1-0.1 1-0.4 0.5-1.1 0.4-1-0.1-0.5-0.3-0.3-0.5-0.1-0.5 0.2-1zM365.3 371.2l1.2-1.1 1.5-0.6 2-0.1 2 0.4 1.3 0.9 0.7 1 0.3 1.5-0.3 1.5-1 1.3-1.5 0.7-2.5 0.3-2-0.4-1.3-0.9-0.8-1.5-0.1-1.5zM388 377.8l1 0.7 0.6 0.7 0.4 1 0.4 2.5 0.7 0.5 1.9 0.9 0.7 0.6 0.7 1 0.3 1 0.1 1.5-0.5 2-0.8 1-1.5 0.9-1.5 0.3-2 0-0.9 0.3-1.4 1.5-1.2 0.7-2.5 0.5-1 0-1-0.3-1.1-0.9-0.8-1.5-0.2-2 0.4-1.5 0.7-0.9 1-0.7 1-0.3 3-0.4 0.4-0.2 0.2-0.5-0.1-0.5-0.4-0.5-1.6-0.9-1-1.1-0.4-1.5 0.2-2 0.7-1 1.5-1 2-0.2zM353.7 380.2l1.3-1.1 1.5-0.5 2-0.1 2 0.6 1 0.9 0.6 1.2 0.1 1.5-0.5 1.5-1.2 1.2-1.5 0.6-2.5 0-1.5-0.5-1-0.8-0.7-1.5-0.1-1.5zM402.8 382.2l0.7-1 1.5-0.8 1.5-0.2 2 0 1.5 0.5 1 0.7 0.5 0.8 0.1 1.5-0.4 1-0.4 0.5-1.3 0.8-2 0.3-2-0.2-1.5-0.5-1-0.9-0.3-1zM336.5 380.5l2-0.2 1 0.1 1 0.3 1.2 1 0.9 1.5 0.3 2.5-0.4 2.5-1 1.7-1.5 1-2 0.2-2-0.4-1.3-1-0.9-1.5-0.3-2.5 0.3-2.5 0.5-1 0.7-0.8zM460.2 384.2l0.7 1.5-0.1 1.5-0.4 1.5-1 1.5-1.4 1.3-2.5 1.4-3 1-3.9 0.8-0.6 0.3-0.5 1.1-0.9 4.1-0.6 1.2-1 1.1-1 0.5-1 0.4-2.5 0.1-2-0.5-1-0.6-0.7-0.7-0.7-1.5-0.2-2.5 0.5-2 1.2-1.5 1.4-0.8 1.5-0.3 2-0.1 3 0.1 1-0.3 0.5-0.6 1.8-3.5 1.4-2 1.8-1.7 2.5-1.5 2-0.6 1.5-0.1 1.1 0.4zM492.5 388.5l1.5-0.2 1.5 0.2 1.2 0.7 0.9 1.5 0.3 1.5-0.2 2-0.8 1.5-1.4 0.9-1.5 0.3-1.5-0.3-1-0.7-0.8-1.2-0.4-2 0.2-2 1-1.5zM376 396.9l1.5-0.5 2.5 0 1.5 0.6 1.3 1.2 0.6 1.5 0.2 1.5-0.1 1.5-0.6 2.5 0.1 1.5 0.3 1 0.7 0.5 0.5 0 0.8-0.5 1.7-2.9 1.5-1 1.5-0.3 1.5 0.2 1 0.6 0.8 0.9 0.4 1 0.1 1.5-0.1 1.5-0.3 1-0.9 1.1-2.3 1.9-1.3 4-0.9 1.2-1 0.6-2 0.4-1-0.2-1-0.4-0.8-0.6-0.6-1-1.1-3.5-0.4-0.5-0.6-0.3-4-0.4-1.4-0.8-0.8-1-0.6-1.5-0.1-2 0.7-3.5 0.4-4 0.8-1.6zM471.9 399.7l0.5-1 0.6-0.6 1-0.6 1.5-0.5 3.5-0.3 3 0.5 1.8 1 2.1 2.5 0.6 0.3 4 0.7 1.5 0.7 0.7 0.8 0.6 1 0.2 1-0.3 1.5-0.8 1.5-1.4 1.7-2 1.6-2.5 1.6-2 1-2 0.6-1.5 0.2-1.5-0.3-1.3-0.9-0.7-1-0.3-1 0-1 0.3-1 1.5-3 0-1-0.8-0.5-3.7-1-1.8-1-0.9-1.5-0.1-1zM402.3 407.7l1.2-1.1 2-0.9 2-0.3 2.5 0 2.5 0.5 8 3 0.5 0 3.1-2.7-0.1-0.5-1-1-0.6-1-0.1-2 0.2-1 0.5-0.7 1-0.7 1-0.1 1 0.2 0.5 0.4 0.5 0.6 0.3 0.8 0.1 2-0.9 2.5 3 1.2 1 0.6 1.5 1.6 0.5 0 2.5-1 2.5-0.2 2 0.6 2 1.6 0.5 0 1-1 1-0.7 2.5-0.5 0.5-0.2 1.1-2.5 1.4-1.4 1-0.4 1.5-0.2 1.5 0.1 1.5 0.6 0.9 0.8 1.6 2.2 0.5 0.3 4.5 0.6 2 1 0.9 0.9 0.4 1 0 2-0.9 1.5-0.9 0.6-1.5 0.7-2.5 0.4-3.5-0.1-2-0.5-3.3-1.6-1.7-0.4-0.5 0.2-1.5 1.3-1.5 0.4-1.5-0.1-2-1-0.5 0-0.5 0.7-0.3 0.9 0.2 1 1.3 2 0.8 3.5 0.5 0.5 2.1 1 0.5 0.5 0.5 1 0.2 1 0 1.5-0.5 1.5-0.9 1.5 0 0.5 2.1 1.3 2.5 2.1 1 0.2 2.5-0.5 2.5 0 1 0.2 1 0.5 1.1 1.2 0.4 1.5-0.2 2-0.5 1-1.2 1-1.6 0.6-2.5 0.3-1-0.1-2.5-0.9-1 0.4-1.4 1.2 0.4 0.5 3.5 0.3 1 0.3 6 3 0.9 0.9 0.5 1-0.1 1.5-0.5 1-0.8 0.7-1 0.5-2.5 0.7-2.5 0.4-4 0-1.5-0.3-1.3-0.5-1.3-1-0.8-1-0.4-1-0.1-1 0.2-1 0.6-1.5 2.5-3-3.9-1.6-1-0.1-1 0.9-1.3 1.8 0 0.5 2.1 2.5 0.4 1 0.2 1-0.1 1-0.5 1.5-0.9 1.5-0.9 0.9-2 0.8-4 0.6-3.1 0.2-2.9 1.2-1 0.2-2.5-0.2-1.5-0.7-0.7-1-0.3-1.5 0.2-2 0.7-1 1.6-1 4-0.4 2.5-1.1 1.4-1 1.2-2 0-0.5-2.1-2-0.9-2-0.1-1.5 0.2-1.5 0.4-1 0.6-1 0.8-0.7 1-0.5 2-0.4 2.5 0.2 2.5 0.8 0.5-0.2 2.6-3.7 0-0.5-2.2-2-0.5-1-0.4-1.5-0.5-0.7-0.7-0.3-2.3-0.3-1.5-0.4-1-0.7-0.6-0.6-0.5-1-0.3-1.5 0-1.5 0.5-2.5-1.6-2.2-0.5-0.5-0.5 0-2.5 1.1-3 0.3-0.7 0.3 0.1 4-0.9 3.5 0.6 2.5 0.1 2-0.2 1.5-0.8 1.5-1.2 1.1-1.5 0.5-2 0-1.5-0.5-1-0.8-0.6-0.8-0.4-1-0.2-1.5 0.2-2.5 1.2-3-0.4-3.5 0.1-3.5-0.4-0.2-0.5 0-3.5 1.3-2.5 0.4-3.5-0.1-2-0.8-1.8-1.6-0.6-1-0.3-1-0.2-1.5 0.2-1.5 0.3-1zM367.3 411.7l0.5 1 0.1 1-0.2 2.5-0.8 1.5-1.4 1-1 0.3-2 0.1-1-0.2-2-0.7-0.5 0.2-1 1.3-1 0.8-1 0.4-1.5 0.1-1.5-0.2-1-0.5-0.7-0.6-0.6-1-0.3-1.5 0.2-2 0.8-1.5 1.1-0.8 1-0.3 1.5-0.1 3 0.6 0.5-0.4 0.6-1 0.9-1.1 1-0.6 1.5-0.3 2 0.1 1 0.3 1 0.6zM469.5 410.3l1-0.4 2-0.1 1.5 0.8 0.9 1.1 0.3 1.5-0.3 2-0.6 1-0.8 0.8-1.5 0.4-1.5-0.1-1-0.5-0.9-1.1-0.5-1.5 0-2 0.5-1zM407.5 419.7l0.6 1.5 0 1.5-0.4 1-1.2 1.2-2 0.7-5.5 0.2-1 0.2-0.4 0.7-0.3 1.5-0.8 1-1.5 0.7-2.2 0.3-0.6 2.5-1.2 1.3-1.5 0.3-1-0.1-1-0.4-0.6-0.6-0.4-1-0.2-1 0.1-1 0.5-1 1.1-0.9 2-0.3 0.6-0.3 0.6-2.5 0.8-0.9 1.4-0.6 0.6-0.4 0.5-2.6 1-1.3 1-0.5 2-0.5 5.5-0.5 1 0.1 1 0.4zM342.5 420.8l2.5 0.2 1.5 0.6 0.9 1.1 0.4 1.5-0.1 1-0.6 2 0.1 4-0.4 2-0.5 1-0.8 0.9-1 0.6-1.5 0.3-2-0.3-1.5-1-0.9-1.5-0.4-2 0.1-2 0.4-2.5 0-3 0.4-1 0.4-0.6 1-0.8zM411.2 430.2l0.7 1 0.4 1 0.5 4.5 1.2 2 0.3 1 0 2-0.3 1-0.5 0.6-1 0.5-1-0.1-0.5-0.3-0.7-0.7-0.8-1.8-0.5-0.6-1.5-0.2-1 0.1-1 0.5-0.5 0.7-0.8 2.3-0.5 1-1 1-1.2 0.7-2 0.5-2.5-0.1-2-0.6-1.3-1-0.9-1.5-0.5-2 0-1 0.6-1.5 1.1-1.3 1.5-0.9 1.5-0.4 3-0.4 0.9-0.5 0.5-1 0.6-3 0.6-1 0.9-1 1.5-0.8 2.5-0.3 2 0.4zM359.5 430.3l2.5-0.1 2 0.6 1.5 1.2 0.8 1.7 0.3 2 0 1.5-0.9 5-0.4 1-0.7 1-0.6 0.5-1 0.5-1.5 0.1-1-0.2-1.5-0.9-0.9-1.5-2.2-6-0.1-2 0.4-2 1.3-1.5 1-0.6zM388.6 438.2l0.7 1 0.3 1.5-0.3 1-0.7 1-1.6 1.4-1.5 0.8-2 0.6-3 0.3-0.4 0.9-0.4 2.5-0.5 1-0.7 0.8-1 0.6-2 0.7-1.5 1.8-1.5 0.8-2.5 0.1-1-0.4-1-0.9-0.5-1-0.1-1 0.3-2 0.8-1 2-1 0.5-0.5 0.7-1.5 1.2-1.5-0.1-0.5-1.3-1-0.9-1-0.4-1.5-0.1-1.5 0.2-1 0.5-1 0.7-0.7 1-0.6 1.5-0.3 1 0 1.5 0.4 1.1 0.7 1.4 2.1 0.5 0.4 0.5 0 3.5-1.3 2-0.3 2 0.3zM414 447.1l1.5-0.6 1.5 0 1.5 0.3 1.1 0.9 0.8 1.5 0.1 2-0.4 1.5-1.1 1.2-1.5 0.6-2 0-1.5-0.6-0.7-0.7-0.7-1.5-0.1-2 0.5-1.5zM385 447.6l1.5-0.6 1.5-0.1 2 0.3 1.5 0.7 1.2 1.3 0.5 1.5 0.1 2.5-0.4 2.5 0.1 0.7 0.5 0.3 3.5 0.4 1.1 0.6 1 1 0.8 2 0.1 3-0.7 2-1.3 1.4-1.5 0.6-2 0-1.5-0.5-1.1-1-0.8-1.5-0.2-1.5 0-2 0.5-3-0.1-0.5-0.8-0.2-4-0.2-1.7-0.6-0.8-0.7-0.9-2.3-0.1-2.5 0.6-2 0.7-1zM327.5 450.2l0.6-1 1.4-0.9 1.5-0.4 2.5 0.1 1.5 0.4 1.1 0.8 0.6 1 0.1 1.5-0.7 1.5-1.1 0.8-2 0.5-2.5-0.1-1.5-0.5-1.3-1.2-0.3-1zM406.5 454.4l2 0 1 0.3 1 0.6 1.1 1.4 0.4 2 0 1.5-0.3 1-0.5 1-1.5 2-0.7 1.7-0.8 0.8-1.2 0.3-1-0.1-1.1-0.7-0.5-1-0.4-1.6-1.2-2.4-0.3-1.5 0.2-2 0.6-1.5 1.2-1.2zM353 455.9l1.5 0 1 0.8 0.4 1.5 0 1.5-0.2 1.5 0.3 0.5 2-0.3 3 0.1 1.3-0.3 0.7-0.9 0.2-1.6 0.4-1 0.9-0.9 1-0.4 1.5-0.1 1 0.2 1 0.7 0.3 0.5 0.5 1.5-0.1 1.5-0.4 1-1.3 1.5-0.3 4-0.4 1-1.5 2-0.2 0.5 0.6 2.5-0.1 2-0.5 1-1.3 1-0.8 0.4-1.5 0.3-2.5-0.1-2.5-0.9-1.1-0.7-0.4-0.5 0.2-2.5 0.8-2.5 0-0.5-1.3-2-0.5-1.5 0-2 0.4-2.5-1.6-0.2-1-0.5-0.5-0.8-0.2-1-0.1-1.5 0.3-1 0.5-0.9zM383.5 457.1l0.5 0.3 0.3 0.8 0 2-0.3 0.9-0.5 0.5-1 0.1-0.5-0.3-0.4-0.7-0.1-2 0.5-1 0.5-0.4zM420 458.4l1-0.1 1 0.5 0.7 0.9 0.5 1.5 0.1 2-0.3 1.5-0.5 0.9-0.5 0.5-1 0.4-1.5-0.2-0.9-0.6-0.6-1-0.4-1.5 0-2 0.5-1.5 0.9-1zM431 461.1l1-0.3 1-0.1 1.5 0.4 1 0.7 1.1 1.4 1.4 1.1 0.6 0.9 0.7 4 0 2-0.6 1.5-0.7 0.7-1 0.6-2.5 0.7-3.5-0.1-1.5-0.4-1-0.5-0.7-0.5-0.8-1-0.4-1.5 0.3-2 1.1-2.3 1.3-3.7 0.7-0.9zM346 461.5l1.5-0.3 2 0.3 1.3 0.7 0.7 1 0.3 2-0.2 2-0.9 1.5-1.2 0.8-2 0.2-1.5-0.2-1-0.7-0.8-1.1-0.5-1.5 0.1-2 0.7-1.5 0.5-0.6zM376 461.4l1.5 0.1 1 0.4 1 0.8 1.2 1.5 0.5 1 0.4 1.5 0.1 1-0.3 1-0.9 1.5-2 1.3-1.5 0.4-1 0-1-0.4-1.5-1.1-1.4-2.2-0.5-2 0.2-1.5 0.8-1.5 1.9-1.3zM463.8 466.7l0.4-1 0.4-0.5 1.4-0.9 1.5-0.3 2.5-0.1 2 0.5 1.3 0.8 0.7 1 0.2 1.5-0.5 1.5-1.2 1.2-1.5 0.5-3 0.1-2-0.5-1.3-0.8-0.4-0.5-0.5-1zM394.5 471.7l2.5 0.1 1.5 0.6 1.2 1.3 0.7 2-0.1 2.5-0.5 1.5-0.8 1.2-2.4 1.8-0.3 0.5 0.9 4 0.1 5 0.4 1 2.8 1 1.3 1 0.9 1.5 0.2 2.5-0.2 1-0.4 1-0.8 1-1 0.7-1.5 0.4-1.5 0-1.5-0.3-1-0.6-0.7-0.7-0.9-1.5-0.9-3.4-1.2-2.6-0.5-2-0.1-3 0.1-2.5 0.4-1.5 0.9-2.5-0.2-1-0.8-1.5-0.5-1.5-0.1-1.5 0.1-2 0.6-1.5 0.8-0.9 1-0.7zM472.5 472.5l1.5 0.1 0.5 0.3 0.5 0.8 0.2 1-0.2 1-0.5 0.7-0.5 0.3-1.5 0-0.5-0.3-0.5-0.7-0.1-1 0.1-1 0.5-0.9zM354.8 475.7l0.3 1.5-0.6 2-1 1.3-1.5 1-2.5 0.9-1.5 0-1.5-0.5-1.2-1.2-0.5-1.5 0.2-1.5 0.5-1 1.5-1.2 2.5-1 2-0.2 1.7 0.4zM369.5 476.3l1-0.5 1.5-0.1 1.5 0.2 1 0.6 0.8 1.2 0.2 1-0.1 1.5-0.6 1-0.8 0.6-1.5 0.5-2-0.2-1-0.5-0.9-1.4-0.3-1.5 0.3-1.5zM379 478.8l1.5-0.5 2.5 0.1 1.4 0.8 0.8 1 0.5 1.5 0 2-0.5 1.5-1.2 1.3-1.5 0.6-2.5-0.1-1.5-0.8-0.8-1-0.5-1.5 0-2.5 0.7-1.5zM429.5 493.6l2 0.5 1.3 1.1 0.6 1.5 0.2 2.5-0.2 1.5-0.9 1.6-1.5 1.3-1.4 0.6 0.4 0.5 1.5 0.9 0.9 1.1 0.4 1.5-0.2 2-0.6 1-1 0.8-1.5 0.4-1.5 0.1-1-0.2-1.3-0.6-0.9-1-0.4-1 0-2 0.8-1.5 0.8-0.7 2.6-1.3-0.6-0.2-1-0.8-1.2-1.5-0.6-1.5-0.1-2.5 0.6-2 0.8-1.1 1-0.7zM369 502.4l2-0.2 1.5 0.4 1 0.8 0.7 1.3 0.1 2-0.3 1.5-0.7 1-1.3 0.8-1.5 0.2-1.5-0.2-1-0.6-0.9-1.2-0.4-1.5 0.2-2 0.9-1.5zM401.5 508.2l0.5-0.4 1-0.3 1.5 0.3 0.5 0.4 0.4 1-0.1 1-0.3 0.4-0.5 0.4-1 0.3-1.5-0.3-0.5-0.4-0.4-0.9 0.1-1z"/>
<path fill="none" stroke="#2b42e6" stroke-width="1.2" stroke-linejoin="round" d="M417 250.6l1.5-0.3 2 0.3 1.1 0.6 1 1.5 0.4 2-0.2 2.5-0.9 1.5-1.4 1-2 0.3-1.5-0.3-1.4-1-0.8-1.5-0.3-2 0.2-2 0.8-1.5zM483.5 260.9l0.4 0.8 0 0.5-0.4 0.8-0.5-0.1-0.2-0.7 0.1-1zM500.9 266.7l0.2 1-0.1 1.5-0.5 1-1 0.9-1 0.6-1.5 0.4-5.5 0.4-1.5 0.3-1 0.9-0.7 1.5-0.8 1-1 0.7-1 0.4-2.5 0.2-2-0.5-3-2.3-0.8-1-0.1-1 0.4-1 3-2.6 1.5-0.7 4.4-0.7 2.7-2.5 0.9-0.6 1.5-0.5 3-0.4 3 0.3 1.5 0.6 0.9 0.6zM406 267.7l1.5-0.3 1 0 1 0.3 4.5 2.8 1 1.2 0.4 1 0.3 1.5-0.1 2.5-0.7 2-1.4 1.4-1.5 0.5-2-0.2-1-0.5-1-1.2-1.3-3.5-1.8-2-0.5-1.5 0-1.5 0.3-1 0.7-1zM396.5 274.8l2-0.2 2 0.4 1.5 1.2 0.8 1.5 0.1 2-0.4 3.5 0.4 1 1.2 2 0.6 1.5 0.2 3-0.2 1.5-0.7 1.5-1 1-1.5 0.7-2.5 0-1.5-0.7-1.3-1.5-0.6-1.5-0.3-3 0.4-4.5-0.3-1-1.1-1.5-0.5-1-0.2-2 0.2-1.5 0.5-1 0.7-0.7zM367 286l1 0.6 1.1 1.6 0.7 2 0.4 3-0.9 2.5-1.7 2.5-1.6 1.3-1 0.1-1-0.6-1.1-1.8-0.8-2.5-0.3-2.5 1.1-2.5 1.6-2.3 1.5-1.2zM413 294.9l2 0 1 0.4 1 0.7 1.3 1.7 0.7 1.5 0.3 1.5-0.2 2-0.8 1.5-1.8 1.4-2 0.6-2-0.2-1.5-0.8-1.2-1.5-1-2-0.2-1 0-2 0.7-1.5 1.2-1.2zM386.3 295.7l0.7-0.2 0.4 0.2 0.2 0.5-0.3 0.5-0.3 0.2-0.7-0.2-0.1-0.5zM394 298.2l2-0.2 1.5 0.3 1 0.7 0.8 1.2 0.4 2 0 1.5-0.3 1-0.9 1.3-1.5 0.8-2 0.2-1.5-0.4-1-0.9-0.8-1.5-0.2-2 0.2-1.5 0.8-1.5zM403 309.3l2-0.3 2 0.4 1.1 0.8 0.8 1 0.3 1 0.1 1.5-0.5 3 1.3 2.5 0.2 1.5-0.1 1.5-1 2.5 0.1 0.5 0.7 0.1 0.5-0.2 1.5-1.1 1-0.5 1.5-0.3 1.5 0.1 1 0.2 1.1 0.7 0.8 1 0.4 1 0.1 1.5-0.1 1.5-0.4 1-0.9 1-1.5 0.8-3 0.6-1.6 1.6-1.4 0.8-1.5 0.1-1.5-0.1-1.3-0.8-0.8-1-0.6-1.5-0.1-1.5 0.2-1.5 0.7-2-0.1-0.2-0.5-0.2-0.5 0.1-1 0.6-1 1.1-1.5 2.5-1.5 1-1.5 0.2-1.5-0.2-1-0.5-0.9-1.4-0.2-2 0.2-1 0.5-1 0.9-0.8 2.4-1.2 1.1-0.7 0.7-0.8 0.5-1 1.1-3.5-1.1-2-0.3-1 0-2.5 0.3-1 0.8-1zM428 323.4l2-0.9 2-0.1 2 0.6 1.5 1.2 0.9 1.5 0.4 2-0.6 2-1.2 1.5-1 0.7-1 0.4-2 0.2-2-0.4-1-0.6-1-0.8-0.7-1-0.4-1-0.1-2 0.8-2zM369 325.4l0.5-0.3 1-0.1 1 0.6 0.3 1.1-0.3 1-1 0.6-1-0.1-0.5-0.2-0.4-0.8-0.1-1zM400 339l1 0.5 0.5 0.6 0.9 2.1 1.1 6 2.6 11.5 0.2 1.5-0.2 1.5-0.3 1.5-0.5 1-1.3 1.4-2 1-4.5 0.5-1 0.4-1 0.8-3.5 3.9-2.2 2-0.3 0.5 0.5 1 2.8 3.5 1.5 3 0.6 1.5 0.4 1.5-0.2 2.5-0.3 1-0.6 1-1.2 1.1-1.5 0.6-3.6 0.3-1.9 1.8-2.1 1.2-0.4 0.5-0.2 1 0.3 4.5-0.7 3.5 0.1 1.5 0.5 1.2 0.5 0.3 0.5 0 1-0.7 1.2-2.3 1-1 1.3-0.6 2 0 1.4 0.6 0.9 1 0.5 1.5 0 2-0.2 1-0.6 1.1-2.3 1.9-0.7 0.9-0.9 3.1-0.9 1.5-0.7 0.6-1 0.4-1 0.2-1.5-0.2-1.2-0.5-1-1-0.6-1.5-0.7-2.5-0.4-0.5-0.6-0.3-3.5-0.3-1.5-0.6-1.2-1.3-0.5-1-0.2-1 0-2 0.7-3 0.3-3.5 0.3-1 0.8-1.5 2.1-2 0.7-1 0.4-1.5 0.4-3.5 1-2.5 0-0.5-0.3-0.5-2.3-1.5-1-1-0.5-1 0-1.5 1.1-1.5 3.1-2 1.2-1 0.2-0.5 0-0.5-4.1-4-0.5-1-0.3-2-1.7-2.5-1.2-2.5-0.5-0.3-2.5 0.3-2-0.1-2-0.7-0.8-0.7-0.6-1-0.2-2 0.2-1 0.8-1 1.1-0.7 1-0.3 2-0.2 2 0.3 1 0.5 1.5 1.1 0.5 0.1 4.8-1.8 1.1-1 2.2-4 1.4-1.3 1.5-0.7 2.5-0.5 4.5 0.3 1.6-0.3 0.9-0.8 0.5-1 0.9-4.7 0.8-2 0.8-0.8 0.5-0.3zM447.7 345.7l0.5 1 0.1 1-0.1 1-0.4 1-1.3 1.5-2 1.1-1.5 0.3-1.5-0.1-3.5-1.4-1 0.2-2.5 1.6-2 0.7-2.5-0.1-3.5-1.3-0.5 0-1 0.5-1 1-0.5 1-0.1 1 0.5 3.5-0.1 2-0.4 1.5-0.9 1.7-1.5 1.2-2 0.5-2.5-0.2-1-0.4-1-0.7-1.1-1.6-0.6-2-0.1-2 0.1-1.5 0.9-3.5-0.8-3 0-1.5 0.2-1 0.6-1 0.8-0.8 1-0.6 2-0.6 2.5-0.1 2 0.3 2.5 1 1 0.1 3.5-1.8 1-0.3 1.5-0.2 1.5 0.2 3.5 1.1 1-0.3 2.5-2 1-0.4 1.5-0.3 1.5 0.2 1.5 0.5 1.4 1zM365 371.7l0.7-1 1.3-0.9 1.5-0.5 2-0.1 2 0.2 1.5 0.6 1 0.7 0.6 1-0.4 2-0.4 1-0.7 1-1.1 0.8-1 0.4-2 0.2-2.5-0.3-1-0.4-0.8-0.7-0.7-1-0.2-1 0-1zM353.7 380.2l1.3-1.1 1.5-0.5 2-0.1 2 0.6 1 0.9 0.6 1.2 0.1 1.5-0.5 1.5-1.2 1.2-1.5 0.6-2.5 0-1.5-0.5-1-0.8-0.7-1.5-0.1-1.5zM402.8 382.2l0.7-1 1.5-0.8 1.5-0.2 2 0 1.5 0.5 1 0.7 0.5 0.8 0.1 1.5-0.4 1-0.4 0.5-1.3 0.8-2 0.3-2-0.2-1.5-0.5-1-0.9-0.3-1zM336.5 380.5l2-0.2 1 0.1 1 0.3 1.2 1 0.9 1.5 0.3 2.5-0.4 2.5-1 1.7-1.5 1-2 0.2-2-0.4-1.3-1-0.9-1.5-0.3-2.5 0.3-2.5 0.5-1 0.7-0.8zM459 383.1l1.2 1.1 0.7 1.5-0.2 2-0.6 1.5-1.2 1.5-2.4 1.7-2.5 1.1-4.5 1.4-1 0.7-0.6 1.1-1 4.5-1.6 3 0 0.5 0.5 0.5 0.7 0.1 2-1.3 1.5-0.7 2-0.3 2 0.3 1.5 0.8 2 2.2 0.5 0.3 4.5 0.7 2.5 1.1 1.4 1.3 1.1 2.3 1.1-1.3 0.9-0.7 1-0.3 1.5 0 1 0.1 1.4 0.9 0.7 1 0.3 1-0.1 1.5-0.6 1.5-1.2 1.3-1 0.4-2 0-1.3-0.7-1.1-1.5-0.6-2-0.5-0.2-1.5 1.7-1 0.6-1.5 0.6-3.5 0.6-8 0.1-1.5 0.6-0.8 0.5-1.1 1.5-0.2 1.5 1 4.5 0.2 5 0.3 1 0.6 1.1 1 1.2 1 0.4 4 0.2 2 0.6 1.3 1 0.5 1 0.2 1 0 1.5-0.4 1-0.6 0.8-1.5 1-3.7 1.2-0.3 0.5 0.3 0.5 1.3 1 3.4 1.7 1.1 0.8 0.4 0.5 0.4 1 0 1-0.3 1-0.8 1-1.3 0.7-2.5 0.7-3.5 0.6-4.5 0.3-1.5-0.2-2.5-0.9-0.5 0-3.5 2.2-4 0.7-3 0.8-1.2 0.6-5.8 4.1-1 1.2-1.5 2.6-1 0.9-1 0.4-1 0-1.5-0.4-1.6-1.3-0.7-1.5-0.1-2 0.6-2 1.3-1.8 2.2-1.7 0.8-0.8 1.1-3.2 0.9-1.2 1-0.7 1-0.3 2.5-0.4 1.4-0.4 2.6-1.3 1-1.2 0.5-1-0.1-0.5-1.6-2-0.6-1.5-0.2-1.5 0.1-2 0.6-1.5 0.8-1.1 1.5-1 1.9-0.9 0.8-0.5 0.3-0.5 0.3-1.5-0.2-3.5-0.5-1-2-2-0.9-1.5-0.4-1.5-0.1-3.5-0.6-1-0.8-0.5-0.8-0.2-4.5 0.1-0.5 0.2-0.2 0.4-0.5 3.5-0.8 2.5 0.1 1 0.5 2 0.2 1.5-0.2 1.5-0.5 1.5-1.1 1.3-1.5 0.7-2 0.1-2-0.5-1-0.8-0.6-0.8-0.6-2 0.1-2.5 1.3-3.5-0.7-5.3-0.4-0.7-0.6-0.1-4 0.7-3.5 0.1-2-0.3-1.5-0.6-1.6-1.3-0.8-1-0.4-1-0.2-2.5 0.5-2 0.6-1 1.4-1.2 2-0.8 2-0.4 3.5 0.1 6.9 1.8 2.6 0.4 1-0.2 1.1-0.7 0.5-0.5 0.1-0.5-1-2.5 0-1.5 0.3-1 0.8-1 1.2-0.5 1.5 0.2 0.5 0.4 0.7 0.9 0.3 2-0.4 2.5 0.5 0.5 3.9 1.2 1 0.1 1.6-0.3 3.2-1 0.7-0.5 0.1-0.5-2-3-0.3-1-0.3-1.5 0.1-1.5 0.3-1.5 0.4-1 0.7-0.8 1-0.8 1.5-0.6 5.5-0.4 1-0.3 1-1 2.7-4.1 2.3-2.2 2-1.3 2-0.7 1.5-0.2zM492.5 388.5l1.5-0.2 1.5 0.2 1.2 0.7 0.9 1.5 0.3 1.5-0.2 2-0.8 1.5-1.4 0.9-1.5 0.3-1.5-0.3-1-0.7-0.8-1.2-0.4-2 0.2-2 1-1.5zM471.9 399.7l0.5-1 0.6-0.6 1-0.6 1.5-0.5 3.5-0.3 3 0.5 1.8 1 2.1 2.5 0.6 0.3 4 0.7 1.5 0.7 0.7 0.8 0.6 1 0.2 1-0.3 1.5-0.7 1.5-1.3 1.5-1.7 1.5-2.5 1.7-2 1.1-2 0.7-2 0.3-1.5-0.2-1-0.5-0.7-0.6-0.7-1-0.3-1 0.5-2 1.6-3 0.1-0.5-0.1-0.5-0.8-0.5-3.6-0.9-1.8-1.1-0.9-1.5zM367.3 411.7l0.5 1 0.1 1-0.2 2.5-0.8 1.5-1.4 1-1 0.3-2 0.1-1-0.2-2-0.7-0.5 0.2-1 1.3-1 0.8-1 0.4-1.5 0.1-1.5-0.2-1-0.5-0.7-0.6-0.6-1-0.3-1.5 0.2-2 0.8-1.5 1.1-0.8 1-0.3 1.5-0.1 3 0.6 0.5-0.4 0.6-1 0.9-1.1 1-0.6 1.5-0.3 2 0.1 1 0.3 1 0.6zM407.6 419.7l0.6 1.5 0.1 1.5-0.7 1.5-1.1 0.9-1 0.4-1.5 0.3-5 0-1 0.2-0.4 0.7-0.3 1.5-0.8 1-1.5 0.7-2.2 0.3-0.6 2.5-1.2 1.3-2 0.3-1-0.2-1.1-0.9-0.4-1-0.2-1 0.1-1 0.5-1 1.1-0.9 2-0.3 0.6-0.3 0.6-2.5 0.8-0.9 1.4-0.6 0.6-0.4 0.5-2.6 1-1.3 1-0.5 2-0.5 3.5-0.4 2.5-0.2 1.5 0.5 1 0.7zM342.5 420.8l2.5 0.2 1.5 0.6 0.9 1.1 0.4 1.5-0.1 1-0.6 2 0.1 4-0.4 2-0.5 1-0.8 0.9-1 0.6-1.5 0.3-2-0.3-1.5-1-0.9-1.5-0.4-2 0.1-2 0.4-2.5 0-3 0.4-1 0.4-0.6 1-0.8zM410 428.9l1.3 1.3 1 2 0.5 4.5 1.2 2 0.3 1 0.1 1.5-0.4 1.5-0.5 0.6-0.5 0.3-1.5 0.1-1-0.7-1-2.1-0.5-0.6-1.5-0.2-1.5 0.4-0.5 0.3-0.5 0.7-0.8 2.2-0.5 1-0.7 0.8-1.5 1-3.5 1-1.5 0.7-1 1.1-1 2.5-0.9 3.4 0 1 0.4 0.3 2.5 0.5 1.5 0.6 1.1 1.1 0.7 1.5 0.2 1.5 0 2-0.4 1.5-0.6 1-1.5 1.2-1.5 0.4-2-0.2-1.5-0.8-0.9-1.1-0.5-1-0.3-1.5-0.1-3.5-0.1-0.5-0.6-0.1-0.5 0.2-1.3 0.9-1.2 1.3-3 4.3-2.4 4.4-4.2 4.5-0.7 1.5-0.9 4-0.6 1-1.2 1.1-2.5 1-2 0.4-1-0.3-0.5-0.7-0.3-1.5 0.1-2.5 0.4-1.5 0.7-1 3.9-2.5 0.4-0.5 0.4-1-0.1-1-1.4-3-0.5-1.5 0-1.5 0.6-1.5 1.3-1.3 2-0.9 1.5-0.1 2.5 0.6 0.5 0 0.5-0.3 0.9-3.5 0.6-0.9 1-1.1 0.2-0.5-0.3-3 0.1-1.5 0.3-1.5 0.5-1 1.2-1.2 1-0.4 4-0.6 1-0.3 0.5-0.4 0.5-1.1 0.2-4 0.6-1.5 0.8-1 1.4-1 3.8-1.5 1.2-0.8 0.5-0.7 1.3-3 1.2-1.6 1.5-1.1 2-0.6 2 0.2zM359.5 430.3l2.5-0.1 2 0.6 1.5 1.2 0.8 1.7 0.3 2 0 1.5-0.9 5-0.4 1-0.7 1-0.6 0.5-1 0.5-1.5 0.1-1-0.2-1.5-0.9-0.9-1.5-2.2-6-0.1-2 0.4-2 1.3-1.5 1-0.6zM388.5 438l0.8 1.2 0.3 1-0.1 1-0.5 1-1 1.1-1.5 1.1-2 1-2.6 0.8-0.9 0.5-0.5 0.8-0.6 2.2-0.6 1-0.8 0.8-1.7 1.2-0.8 0.8-3.5 4.6-2.3 4.1-1.7 2-0.9 3.5-1.8 3 0.4 2 0.1 1.5-0.2 1-0.6 1.1-1.5 1.1-2.5 0.5-2.5-0.1-3-1-0.5 0.2-0.9 2.2-0.7 1-1.9 1.4-2 0.7-1.5 0.2-1.5-0.3-1-0.6-0.9-1.4-0.3-1.5 0.4-1.5 0.8-1 1.5-1 2-0.7 2-0.3 3 0.5 0.5-0.7 0.7-3.8-0.9-2.5-0.2-1 0-2 0.4-2.5-2-0.4-0.5-0.3-0.5-0.8-0.3-2 0.1-1 0.4-1 0.8-0.8 1-0.1 1 0.3 0.5 0.6 0.4 1.5-0.2 3 0.3 0.4 4-0.4 1-0.4 0.5-0.4 1.3-2.7 0.7-0.9 3.2-2.6 0.3-0.9 0.3-2.6 0.6-1.5 0.6-0.6 2.2-1.4 0.9-1.5 1.1-1.5 0-0.5-1.7-1.5-0.8-1.5 0-2.5 0.4-1 0.7-1 1.2-0.8 1.5-0.3 1 0 1.5 0.4 1 0.6 1.5 2.1 0.5 0.3 0.5 0 3-1.1 2-0.4 2 0.2zM414 447.1l1.5-0.6 1.5 0 1.5 0.3 1.1 0.9 0.8 1.5 0.2 2-0.4 1.5-1.2 1.3-1.5 0.5-2 0-1.5-0.6-0.7-0.7-0.7-1.5-0.1-2 0.5-1.5zM327.5 450.2l0.6-1 1.4-0.9 1.5-0.4 2.5 0.1 1.5 0.4 1.1 0.8 0.6 1 0.1 1.5-0.7 1.5-1.1 0.8-2 0.5-2.5-0.1-1.5-0.5-1.3-1.2-0.3-1zM406.5 454.4l2 0 1 0.3 1 0.6 0.8 0.9 0.5 1 0.3 2-0.2 1.5-0.3 1-1.6 2.1-1 2.2-1 0.9-1 0.1-1-0.1-1.1-0.7-0.9-2.6-1.2-2.4-0.3-1.5 0.2-2 0.6-1.5 1.2-1.2zM440.2 470.7l-0.1 1-0.4 1-1.2 1.2-2 0.9-3 0.4-4.5-0.2-5.9-1.3-1.7-0.5-1-0.5-0.4-0.5-0.1-0.5 0.3-0.5 0.9-0.5 3.9-1.5 1.5-1 1-1 0.5-0.9 1.2-3.6 0.7-1 1.1-0.8 1.5-0.3 1.5 0.2 1 0.5 1.7 1.9 1.3 0.9 0.5 0.6 0.4 1zM345.5 461.8l1.5-0.5 2 0 1.5 0.7 0.7 0.7 0.6 1.5-0.1 2.5-0.6 1.5-1.1 1-1.5 0.5-2-0.1-1.5-0.8-0.8-1.1-0.5-1.5 0.1-2 0.7-1.5zM463.8 466.7l0.4-1 0.4-0.5 1.4-0.9 1.5-0.3 2.5-0.1 2 0.5 1.3 0.8 0.7 1 0.2 1.5-0.5 1.5-1.2 1.2-1.5 0.5-3 0.1-2-0.5-1.3-0.8-0.4-0.5-0.5-1zM394.5 471.7l2.5 0.1 1.5 0.6 1.2 1.3 0.7 2-0.1 2.5-0.5 1.5-0.8 1.2-2.4 1.8-0.3 0.5 0.9 4 0.1 5 0.4 1 2.8 1 1.3 1 0.9 1.5 0.2 2.5-0.2 1-0.4 1-0.8 1-1 0.7-1.5 0.4-1.5 0-1.5-0.3-1-0.6-0.7-0.7-0.9-1.5-0.9-3.4-1.2-2.6-0.5-2-0.1-3 0.1-2.5 0.4-1.5 0.9-2.5-0.2-1-0.8-1.5-0.5-1.5-0.1-1.5 0.1-2 0.6-1.5 0.8-0.9 1-0.7zM472.5 472.5l1.5 0.1 0.5 0.3 0.5 0.8 0.2 1-0.2 1-0.5 0.7-0.5 0.3-1.5 0-0.5-0.3-0.5-0.7-0.1-1 0.1-1 0.5-0.9zM378.5 479.1l1.5-0.8 2-0.1 1.5 0.4 1.4 1.1 0.5 1 0.3 1 0 2-0.5 1.5-1.2 1.3-1.5 0.6-2 0-1.5-0.5-1-0.9-0.7-1.5-0.2-2.5 0.5-1.5zM429.5 493.6l2 0.5 1.3 1.1 0.6 1.5 0.2 2.5-0.2 1.5-0.9 1.6-1.5 1.3-1.4 0.6 0.4 0.5 1.5 0.9 0.9 1.1 0.4 1.5-0.2 2-0.6 1-1 0.8-1.5 0.4-1.5 0.1-1-0.2-1.3-0.6-0.9-1-0.4-1 0-2 0.8-1.5 0.8-0.7 2.6-1.3-0.6-0.2-1-0.8-1.2-1.5-0.6-1.5-0.1-2.5 0.6-2 0.8-1.1 1-0.7zM369 502.4l2-0.2 1.5 0.4 1 0.8 0.7 1.3 0.1 2-0.3 1.5-0.7 1-1.3 0.8-1.5 0.2-1.5-0.2-1-0.6-0.9-1.2-0.4-1.5 0.2-2 0.9-1.5zM401.5 508.2l0.5-0.4 1-0.3 1.5 0.3 0.5 0.4 0.4 1-0.1 1-0.3 0.4-0.5 0.4-1 0.3-1.5-0.3-0.5-0.4-0.4-0.9 0.1-1zM417.5 250.8l1.5-0.1 1.5 0.3 1 0.7 0.9 1.5 0.3 2-0.3 2-0.9 1.4-1.5 0.8-1.5 0.2-1.5-0.4-1-0.6-0.8-1.4-0.4-2 0.3-2 0.9-1.5zM500.3 267.2l-0.1 2-0.6 1-0.6 0.5-1 0.6-1.5 0.4-5 0.3-1.5 0.3-1 0.7-1.5 2.7-1 0.9-1 0.4-2 0.2-2-0.3-1.5-0.9-2.4-2.3-0.1-1 0.4-1 2.6-2.2 1-0.6 1-0.3 4-0.4 1-0.6 2-2 2-1 3-0.4 1.5 0 1.5 0.3 1 0.5 1 0.7zM406 268.4l1.5-0.5 1.5 0.2 2.5 1.5 2 1 1 1.1 0.8 2 0 2.5-0.5 2-1.3 1.4-1 0.5-2 0-1-0.4-1.1-1-0.6-1-0.8-2.8-1.4-1.7-0.5-1-0.2-1 0.2-1.5 0.4-0.8zM397 274.9l2 0 1.5 0.4 1.2 0.9 0.7 1.5 0.2 2-0.6 3.5 0.3 1 1.5 2.5 0.4 1 0.3 1.5 0 1.5-0.3 1.5-0.4 1-1 1-1.3 0.6-2 0.1-1.5-0.5-1.3-1.2-0.6-1.5-0.4-3 0.5-4 0-1-1.8-2.5-0.5-1.5-0.1-1 0.3-1.5 0.6-1 0.8-0.7zM367 287.2l1 0.7 0.8 1.3 0.5 1.5 0.5 2.5-0.9 2-1.4 2.1-1.5 1.1-1 0-1-0.7-0.9-1.5-0.6-2-0.2-2 0.9-2 1.3-1.8 1.5-1.1zM413 295.4l2 0 1.5 0.8 1 1 0.6 1 0.6 1.5 0.2 1 0 1.5-0.9 1.7-1.5 1.2-2 0.7-1 0-1-0.2-1.5-1-1.3-1.9-0.5-1-0.3-1.5 0.2-1.5 0.7-1.5 1.7-1.3zM394 298.5l1.5-0.2 1.5 0.1 1.3 0.8 0.9 1.5 0.3 1.5-0.2 2-0.8 1.4-1 0.7-1.5 0.4-2-0.2-1-0.6-0.9-1.2-0.4-1.5 0.1-2 0.7-1.5 0.5-0.6zM406.5 309.5l1.5 1 0.9 1.7 0 2.5-0.5 2 0.1 0.5 1 1.5 0.4 1 0.1 2-0.4 1.5-0.6 1-1.5 1.4-2.5 0.2-1.2 0.4-0.7 0.5-0.8 1-1.3 2.3-1 0.9-1.5 0.5-1 0-1-0.3-1-0.7-0.6-1.2-0.1-1.5 0.2-1 1-1.3 3.2-1.7 1.2-1 0.6-1.2 1.1-3.3 0.1-0.5-0.2-0.5-0.7-1-0.6-1.5-0.1-1.5 0.2-1.5 0.7-1.1 1.5-1.1 1.5-0.2zM428 323.9l1.5-0.8 2-0.3 2 0.5 1.4 0.9 1.1 1.5 0.3 1.5 0 1-0.3 1-1 1.4-1.5 1-2 0.5-2-0.3-1.9-1.1-1-1.5-0.3-1-0.1-1 0.2-1 0.4-1zM418.2 324.7l0.8 1.5 0.2 2-0.4 1.5-0.6 1-0.7 0.6-1.5 0.5-2.7 0.4-1.8 1.8-1.5 0.7-1.5 0-1-0.2-1-0.5-0.7-0.8-0.6-1.5 0-2.5 0.5-1.5 1.3-1.7 0.5-0.2 2 0.1 0.8-0.2 2.2-1.7 1.5-0.5 1.5 0 1 0.2 1 0.4zM369.5 325.8l1-0.1 0.5 0.3 0.2 0.7-0.2 0.6-0.5 0.4-1-0.2-0.4-0.8 0.1-0.5zM401.3 340.7l0.5 1 0.5 2 0.4 4.5 1.1 5 0.1 3.5 1.4 3 0.2 1.5-0.1 2-0.5 1.5-0.6 1-1.3 0.9-1 0.4-2 0.3-4-0.4-0.5 0.4-1.5 1.9-2 1.2-2 2.3-1 0.8-2 0.8-2.5 0.2-3-0.9-2-1.4-0.7-1-1.3-2.8-2-1.7-0.9-1-1.1-2.8-0.5-0.5-2.5 0.7-2.5 0-1-0.3-1-0.5-0.8-1.1-0.3-1.5 0.4-1.5 0.7-0.9 1-0.5 2-0.3 2 0.2 1.5 0.9 1 1.2 0.5 0.4 3.5-1.7 3.9-0.8 0.3-0.5 0.8-3 0.7-1.5 0.9-1 1.4-0.8 1.5-0.5 2-0.1 4 0.5 1-0.2 0.9-0.4 0.7-0.5 0.6-1 0.5-5 0.8-2.1 1-0.9 1-0.1 1 0.3zM447.3 346.2l0.4 1.5-0.2 1-0.4 1-1.1 1.2-2 1-1 0.1-1.5-0.1-1-0.4-2.5-1.3-0.5-0.1-3 2.3-1.5 0.6-1.5 0.2-2-0.3-3-1.5-0.5-0.2-0.5 0.1-2.4 2.4-0.5 1 0.7 3.5 0 2-0.5 2.5-1 1.5-0.8 0.7-1 0.4-2.5 0.2-1-0.2-1-0.5-0.7-0.6-0.7-1-0.7-2-0.1-2 0.4-2 0.7-2 0.2-1-1-3 0-1.5 0.5-1.5 1.4-1.3 2-0.7 2.5-0.1 2 0.4 3 1.4 0.5 0.1 3.5-2.3 1-0.3 1.5-0.2 2 0.3 2.5 1.2 1 0.3 0.5-0.3 2.5-2.3 1-0.5 1.5-0.3 1.5 0.1 1.5 0.7 1 0.8zM365.7 371.7l0.8-1 1.5-0.7 2-0.3 1.5 0.2 1.5 0.6 0.8 0.7 0.4 1 0 1.5-0.7 1.5-1.5 1.1-1.5 0.3-2.5-0.2-1.5-0.7-0.8-1-0.3-1.5zM385.5 376.5l2.5 0.5 1.5 0.8 0.9 0.9 0.7 1 1.3 2.5 1.8 2.5 0.5 1.5 0.1 1-0.1 1.5-0.3 1-0.6 1-0.8 0.7-1.5 0.6-3.5 0.2-0.5 0.2-1.5 1.6-2.5 1.5-0.6 0.7-0.2 1 0.4 3 0 1.5-0.8 3.5-0.1 1 0.3 2 0.5 0.8 1 0.3 1.5-0.5 0.5-0.6 1.6-3 0.9-0.7 1-0.2 1.5 0 1 0.5 0.8 0.9 0.4 1.5 0 1.5-0.3 1-0.9 1.2-2 1.3-0.4 0.5-0.4 1-0.6 2.5-0.5 1-1.1 1-1 0.4-1 0-1.5-0.4-1.2-1-0.6-1.5-0.5-2.5-0.2-0.5-0.5-0.4-4-0.2-1-0.2-1.1-0.7-1-1.5-0.3-2 0.2-1.5 0.7-2.5 0.1-3 0.4-1.5 0.5-1 2-2 1-1.3 0.3-1.2 0.4-4 0.8-1.5 1.4-1.5 0-0.5-0.4-0.5-2-1.5-0.9-1-0.3-1 0.2-1 0.9-1 3.6-2.6 1.5-0.7zM354.5 380.3l1-0.8 1.5-0.4 1.5 0 1.5 0.5 0.8 0.6 0.5 1 0.2 1.5-0.3 1-0.8 1-1.4 0.6-2 0.1-1.5-0.4-1-0.8-0.5-1-0.1-1.5zM336.5 381.1l2-0.3 1.5 0.4 1.4 1 0.8 1.5 0.2 2.5-0.4 2-1 1.4-1.5 0.8-2 0.1-1.5-0.5-1-0.8-0.8-1.5-0.2-2 0.2-2 0.8-1.5zM403.7 382.7l0.6-1 0.7-0.5 1.5-0.3 1.5 0 1 0.2 1 0.6 0.6 1 0 1-0.6 1-1 0.6-1.5 0.3-1.5-0.1-1-0.3-0.8-0.5-0.5-1zM459.3 384.7l0.7 1.5-0.1 1.5-0.6 1.5-1.3 1.5-2.5 1.5-2.5 0.8-2.5 0.3-1-0.2-0.5-0.4-0.3-0.5 0-1 0.7-2 1.2-2 1.9-1.8 2-1.2 2-0.6 1.5 0.2zM492.5 389.1l1.5-0.3 1.5 0.2 1 0.7 0.6 1 0.3 1.5-0.2 2-0.7 1.2-1 0.7-1 0.2-1.5-0.1-1-0.5-0.8-1-0.4-1.5 0.1-2 0.6-1.3zM438.5 394.1l2-0.6 2.5-0.1 2 0.4 0.9 0.4 0.5 0.5 0.4 1 0 1-0.4 3.5-0.9 1.8-1.5 1.3-2 0.7-2-0.2-1.5-0.7-1.5-1.5-0.7-1.9 0-2.5 0.3-1 0.6-1zM473.1 399.7l0.9-1.1 2-0.9 3-0.2 2.5 0.4 1 0.5 0.9 0.8 1.1 2.3 0.5 0.6 1 0.3 3.5 0.2 1.5 0.7 0.7 0.9 0.5 1 0 1-0.3 1-0.9 1.5-1 1.1-1.5 1.2-2.5 1.6-3 1.2-1.5 0.1-1.3-0.2-0.7-0.4-0.6-0.6-0.5-1-0.1-1 0.4-1.5 1.9-3 0.3-1-0.4-0.5-4.5-0.8-2-0.9-0.9-1.3-0.2-1zM424.5 399.8l1 0.1 0.5 0.2 0.6 0.6 0.4 1-0.2 2-0.3 0.7-1 1-1-0.1-1-0.7-0.7-1.4-0.1-1.5 0.3-0.8 0.5-0.7zM464.5 408.9l1.1 1.3 0.3 1 0 1-0.6 1.5-1.3 1.1-2 0.7-2.5 0.4-3 0.1-4.5-0.5-1.5 0.1-1.4 0.6-2.4 1.5-0.5 0.5-0.6 1 0.3 1.5 1.5 2.5 0.5 1.5 0.2 2-0.2 3 0.1 1.2 0.3 0.8 1.7 2.4 1 1 0.5 0.2 3-0.3 2.5 0.4 1.3 0.8 0.6 1.5 0 1-0.3 1-1.1 1.2-1.5 0.5-1.5 0.1-1 0-2-0.5-1 0.1-0.7 0.6-0.8 1-0.1 0.5 0.2 0.5 0.7 0.5 3.2 1.1 5.5 2.5 0.5 0.4 0.5 1 0.1 1-0.4 1-1.2 1-2 0.6-3.5 0.6-3.5 0.2-1.5-0.1-1.5-0.5-2.5-1.7-0.5 0-0.5 0.3-1.5 2.1-1.5 1.2-7.6 1.8-5.6 3.5-1.8 1.6-1.6 2.9-0.9 1-1 0.4-1 0.1-1.5-0.5-1-1-0.4-1-0.2-2 0.3-1.5 0.5-1 0.8-1 2.8-2 0.4-1 0.6-2.5 0.6-1 0.6-0.6 1-0.6 4-0.7 2.5-1.1 1.5-1 1.3-2 0-0.5-1.9-2-0.8-1.5-0.3-1.5 0.2-2 0.7-1.5 1.3-1.3 1-0.5 4-1.2 0.6-0.5 0.2-1.5-0.5-4-0.5-1-2.8-1.8-1.3-1.7-0.5-2 0.1-3.5-0.7-1-1.6-1-5.5 0.4-0.5 0.2-0.3 0.4-0.1 3.5-1.3 3.5 0.9 3.5-0.1 1.5-0.5 1.5-0.7 1-1.4 0.8-2 0.2-1.5-0.4-1-0.7-0.6-0.9-0.5-2 0.2-2.5 1.2-2.5-0.7-3-0.1-4.5-0.5-0.2-0.5 0-3.5 0.9-2.5 0.2-3-0.2-2-0.7-1.5-1.1-0.6-0.9-0.4-1 0-2.5 0.3-1 0.5-1 1.1-1 1.1-0.6 1.5-0.4 1.5-0.2 3.5 0.2 4.5 1.3 4.5 0.9 1-0.2 3.5-2.3 0.5-0.1 3.5 0.8 2.5 1 1 0.2 3.5-0.8 2-0.2 5.5-0.3 2.5 0.1 1-0.3 1.4-1.6 1.1-0.8 1-0.4 1.5-0.1 1.5 0.1 1.5 0.7 1.1 1 0.9 1.3 0.9 0.7 4.1 0.6 1.5 0.6zM367.2 412.2l0.4 2-0.3 2-0.8 1.4-1.5 0.9-1.5 0.3-1.5-0.1-1-0.3-1.5-0.9-0.5 0.1-1 1.6-1 0.9-1 0.5-1.5 0.1-1.5-0.2-1-0.6-0.7-0.7-0.4-1-0.2-2 0.4-1.5 0.7-1 1.2-0.7 1-0.2 1.5 0 1 0.2 1.5 0.8 0.5-0.1 0.7-1.5 0.8-1.1 1-0.7 2-0.4 1.5 0.1 1 0.4 1 0.7zM470 410.2l1-0.2 1.5 0.1 1.3 0.6 0.7 1 0.4 1-0.1 2-0.8 1.5-1 0.7-1 0.3-1.5-0.1-1-0.5-0.8-0.9-0.5-1.5 0.1-2 0.4-1zM407.3 420.2l0.4 1 0.1 1.5-0.4 1-1.1 1-0.8 0.4-1.5 0.4-6.2 0.2-0.4 0.5-0.4 2-0.9 1-1.1 0.5-2.5 0.1-0.2 1.9-0.3 1-0.5 0.6-1 0.6-2 0.1-1-0.5-0.6-0.8-0.3-1 0-1 0.2-1 0.4-0.5 1.3-0.8 2.2-0.2 0.3-0.4 0.1-1.6 0.4-1 1-0.9 1.6-0.6 0.3-0.5 0.4-2.5 1.2-1.3 1.5-0.5 2.5-0.4 4-0.2 2 0.6zM343 421.4l1.5 0.1 1 0.4 0.6 0.3 0.7 1 0.2 1.5-0.5 2.5 0.4 4-0.5 2-0.9 1.4-1.5 0.8-1.5 0.2-1.5-0.3-1.5-1.1-0.7-1.5-0.3-2.5 0.2-1.5 0.6-2.5 0.4-3 0.8-1 0.5-0.3zM410 429.9l1.1 1.3 0.6 1.5 0.3 4.5 1.2 1.5 0.6 1 0.1 1.5-0.4 1.2-0.5 0.5-0.5 0.2-1-0.1-0.8-0.8-1-2.5-0.7-0.4-2 0.1-1.5 0.3-0.5 0.3-0.5 0.6-0.9 3.1-1.2 1.5-1.4 0.9-4 1.1-1.1 0.5-0.7 0.5-0.7 1.4-1.3 4.6-1.2 2.5-1 0.8-2.5 1.4-1.5 1.3-3.5 4.8-1.5 3.7-1 1.5-1.5 1.5-3.2 2.5-0.4 1-0.5 4-0.5 1.5-1.4 1.2-1.5 0.6-1.5 0.2-1.3-0.5-0.7-1-0.2-1 0.1-1.5 0.5-1.5 1.1-1.1 3.8-1.9 0.5-0.5 0.2-0.5-0.2-1.5-2.2-4.5-0.1-2 0.7-1.5 1.3-1.1 2-0.8 1.5 0 2.5 0.9 0.5-0.1 0.5-0.3 0.5-3.1 0.3-1 0.7-0.8 1.1-0.7 0.3-0.5-0.4-4.5 0.3-1.5 0.7-1.2 1.5-1.1 5-0.9 0.9-0.3 0.5-0.5 0.4-1 0.2-4 0.2-1 0.5-1 0.8-1 1-0.7 3.9-1.3 1.1-0.6 0.7-0.9 1.3-3.5 1.5-1.6 1.5-0.7 1.5-0.1 1.5 0.2zM359.5 430.9l2.5-0.1 1 0.2 1 0.4 1.3 1.3 0.5 1.5 0.2 3-0.8 4.5-0.4 1-0.7 1-0.6 0.4-1 0.4-1 0-1-0.2-1.4-1.1-2.6-6.5-0.2-2 0.6-2 1.1-1.2zM387.5 438.5l0.6 0.7 0.3 1 0 1-0.5 1-1 1-1.4 0.8-2 0.9-3 0.8-0.4 1-0.5 2.5-0.4 1-1.2 1.3-2 1.2-4 4.8-1.8 3.7-1.9 2.5-0.3 0.6-0.4 2.4-0.6 1.5-0.5 0.8-1.4 1.2-0.2 0.5 0.5 3-0.1 1-0.4 1-1.4 1.1-2 0.5-2.5-0.2-1.7-0.9-0.6-0.5-0.5-1 0-2 0.5-2-0.1-0.5-1.2-2-0.4-1-0.1-2 0.3-1.5 0.5-1 0.8-0.6 1-0.3 3.5-0.5 1-0.6 1.8-3.5 0.7-0.7 2.6-1.8 0.4-1 0.1-3 0.7-1.5 0.7-0.6 2-1.2 1-1.8 1.4-1.4 0.1-0.5-2-1.3-0.8-1.2-0.3-1.5 0-1 0.2-1 0.6-1 0.8-0.8 1-0.4 1.5-0.2 1.5 0.3 1 0.5 0.7 0.6 1.3 2.5 0.5 0.3 3-1.2 2-0.5 1.5 0zM414 447.4l1-0.5 2-0.2 1.5 0.4 1 0.8 0.6 1.3 0.2 2-0.5 1.5-0.8 0.9-1 0.5-2 0.2-1.5-0.4-1-0.8-0.7-1.4-0.1-2 0.6-1.5zM328.1 450.2l0.7-1 1.2-0.6 1.5-0.3 2 0.1 1.5 0.6 0.8 0.7 0.4 1 0 1-0.4 1-1.3 1-1.5 0.4-2.5-0.1-1.5-0.7-0.6-0.6-0.4-1zM408 454.7l1.5 0.4 1.4 1.1 0.5 1 0.3 1 0 2-0.5 1.5-1.7 2-1 2.1-1 0.6-1 0.1-0.8-0.3-0.5-0.5-0.7-2.1-1.3-2.4-0.3-1.5 0-1.5 0.5-1.5 1.1-1.3 1.5-0.6zM353.5 456.5l1.1 0.2 0.5 0.5 0.3 1-0.1 2-0.3 0.5-0.5 0.4-1 0.1-0.7-0.5-0.4-0.5-0.2-1 0.3-1.8 0.5-0.6zM393 457.9l2-0.4 2 0.3 1 0.6 1 1.3 0.5 2-0.2 2.5-0.7 1.5-1.1 1-1.5 0.4-2-0.2-1-0.5-1-1.2-0.6-2 0.1-2.5 0.5-1.7zM438.3 465.2l0.3 1.5-0.2 2.5 0.2 1.5 0 1-0.6 1-1.4 1-2.6 0.7-4 0-2.5-0.4-2.9-0.8-1.2-0.5-0.6-0.5-0.1-0.5 0.4-0.5 3.4-1.7 1.5-1.2 0.5-1.3 0.9-3.8 0.6-1 1-0.9 1-0.3 1 0 1.5 0.4 1 0.8 1 1.4 1.5 1.1zM346 461.8l1.5-0.3 1.5 0.1 1.2 0.6 0.9 1 0.4 1.5-0.2 2.5-0.8 1.2-1 0.7-1 0.3-1 0-1.5-0.3-1-0.7-0.7-1.2-0.3-2 0.3-1.5 0.7-1.2zM464.5 466.7l0.5-1 1.5-1 1.5-0.4 2.5 0.1 1.5 0.5 1 0.8 0.5 1-0.1 1.5-0.4 1-1.5 1-1.5 0.3-2.5-0.1-1.5-0.4-1-0.8-0.5-1zM396.5 472l1 0.3 1 0.6 1 1.3 0.5 2 0 2-0.6 1.5-0.9 1.1-1 0.7-3 1.3-0.5-0.2-1-0.7-1-1.1-0.7-1.1-0.5-2 0.1-2 0.2-1 0.5-1 1.4-1.2 1.5-0.5zM472.5 473.5l1-0.2 0.7 0.4 0.3 1-0.1 0.5-0.4 0.6-1 0.2-0.6-0.3-0.3-1 0-0.5zM353 475.3l0.9 0.9 0.4 1.5-0.4 1.5-0.9 1.1-2 1.2-2 0.5-1.7-0.3-0.8-0.5-0.5-0.5-0.6-1.5 0-1 0.4-1 1-1 1.2-0.7 2-0.7 1.5 0zM379.5 478.8l1.5-0.3 1.5 0.1 1.5 0.6 0.9 1 0.5 1.5-0.1 2.5-0.8 1.5-1 0.8-1.5 0.4-2-0.2-1.5-0.9-0.7-1.1-0.4-2 0.3-2 0.6-1zM394 483.3l0.5 0 1 1 0.8 1.9 0.3 2 0 4 0.1 1 0.7 0.5 2.6 0.7 1 0.5 0.8 0.8 0.5 1 0.3 2-0.4 2-1.2 1.5-1.5 0.6-1.5 0.2-1.5-0.2-1.2-0.6-1-1-0.6-1.5-0.7-4-1-1.8-0.4-1.2-0.3-3.5 0.3-3 0.9-1.8 1-0.9zM428.5 494l1.5 0 1.5 0.4 1.2 1.3 0.6 1.5 0 2.5-0.5 1.5-0.7 1-0.6 0.5-1.5 0.7-1.5-0.1-1-0.3-1.3-1.3-0.6-1.5-0.2-2 0.4-2 0.6-1 0.6-0.6zM368.5 502.9l1.5-0.5 1.5 0.1 1.4 0.7 0.8 1 0.4 1.5-0.2 2-0.5 1-0.9 0.8-1.5 0.5-1.5-0.1-1-0.4-0.8-0.8-0.6-1.5 0-2 0.6-1.5zM425.8 506.7l0.7-0.6 1.5-0.5 1.5 0 1 0.3 0.9 0.8 0.6 1 0 1.5-0.2 1-0.9 1-1.4 0.5-1.5 0.1-1.5-0.5-1-1-0.3-1.1 0-1.5zM401.8 508.7l0.5-0.5 0.7-0.2 1.2 0.2 0.5 0.5 0.2 0.5-0.2 1-0.7 0.5-1 0.2-0.6-0.2-0.6-0.5-0.1-0.5zM417.5 251.3l1.5-0.2 1.5 0.3 1 0.9 0.7 1.4 0.1 2-0.4 1.5-0.9 1.3-1 0.5-1.5 0.1-1.5-0.3-1-0.9-0.6-1.2-0.2-2 0.3-1.5 1-1.4zM499.4 267.2l0 1.5-0.5 1-0.4 0.5-2 0.9-5.5 0.5-1.5 0.4-0.5 0.3-0.5 0.7-0.7 1.7-0.7 1-1.6 1-2 0.2-2-0.4-1.5-0.9-1.9-1.9-0.1-1 0.4-1 2.6-2.2 1.5-0.6 4.5-0.4 1-0.6 2-1.9 2-1 2.5-0.3 2.5 0.3 1.5 0.8 0.5 0.6zM406.5 268.9l1-0.3 1.5 0.2 2 1.1 2 0.9 1.1 0.9 0.7 1.5 0.2 2.5-0.4 2-1.1 1.4-1 0.5-2 0-1-0.4-1-1-0.4-1-0.7-2.5-0.4-0.8-1-1.2-0.4-1 0-1.5 0.4-0.9zM397 275.3l2-0.1 1.5 0.5 1.2 1 0.5 1.5 0.1 2-0.9 2.5 0 1 2.3 4 0.3 1.5 0 1.5-0.3 1.5-0.6 1-1.1 0.9-1 0.3-1.5 0-1.5-0.6-1-1.1-0.5-1.5-0.3-3 0.6-3.5 0-1-0.2-0.5-1.9-2-0.4-1-0.2-1.5 0.2-1 0.7-1.3 1-0.8zM366.5 288.4l1 0.4 0.7 0.9 0.7 1.5 0.4 2-0.7 1.5-1.1 1.5-1 0.8-1 0.3-1-0.5-0.8-1.1-0.7-2-0.2-1.5 0.7-1.4 1-1.3 1-0.8zM413 295.8l1-0.1 1 0.2 1.5 0.8 1.1 1.5 0.8 2 0 2-0.8 1.5-1.1 0.9-2 0.7-1.5 0-1.5-0.8-1.4-1.8-0.7-2 0-1.5 0.6-1.5 1.5-1.3zM394 298.9l1.5-0.3 1.5 0.2 1 0.5 0.7 0.9 0.5 1.5-0.1 2-0.7 1.5-0.9 0.8-1.5 0.4-1.5-0.1-1-0.4-1-1.2-0.5-1.5 0.1-2 0.8-1.5zM406.5 309.8l1 0.6 0.5 0.6 0.7 1.7-0.1 2-0.7 2 0.1 0.5 1.4 2 0.2 1 0 1.5-0.4 1.5-0.7 0.9-1 0.7-3.5 0.8-1 0.5-1 1.1-1.4 2.5-0.6 0.6-1.5 0.6-1 0-1-0.3-0.5-0.4-0.6-1-0.1-1.5 0.3-1 0.9-1.1 2.8-1.4 1.3-1 0.6-1 1.5-4.5-1.6-2.5-0.2-2 0.3-1.5 0.6-1 1.2-0.8 1.5-0.3zM428 324.5l1.5-1 1.5-0.3 1.5 0.2 1.5 0.7 1.1 1.1 0.7 1.5 0 1.5-0.7 1.5-1.1 1.1-1 0.6-1 0.2-2-0.1-1.5-0.7-0.7-0.6-0.7-1-0.4-1.5 0.2-1.5 0.5-1zM418.2 325.2l0.6 1.5 0 2-0.6 1.5-0.7 0.7-1.5 0.6-3 0.4-2 2-1.5 0.4-2-0.2-1-0.7-0.5-0.7-0.5-1.5 0.1-2 0.6-1.5 0.8-0.8 1-0.4 2.5-0.3 2-1.8 1.5-0.6 1.5 0 1 0.2 1 0.5zM400.5 340.6l0.7 1.1 0.5 2 0 5 0.9 3 0.2 1.5-0.2 3.5 0.5 1 1.2 1.5 0.6 1.5 0 2.5-0.5 1.5-0.9 1-1 0.6-1 0.3-1.5 0.2-2-0.3-3-1.6-0.3 0.3-0.3 2-0.5 1-0.9 0.6-2 0.4-0.5 0.4-1.3 2.1-1.2 1-1.5 0.6-1.5 0.1-2-0.4-1.5-0.6-0.9-0.7-0.8-1-0.8-2.4-0.5-0.6-2.5-1.3-1.1-1.2-0.6-1.5-0.2-1.5 0-1 0.4-1 0.8-1 0.7-0.5 2-0.7 2-0.2 3 0.7 0.5-0.1 0.2-0.7-0.5-2.5 0.3-2 0.7-1.5 1.3-1.1 1.5-0.5 2-0.2 1.5 0.2 2 0.5 1 0 1.2-0.4 1.7-1 0.5-0.5 0.3-1-0.1-3.5 0.4-2.5 0.5-0.8 0.5-0.4 1-0.2zM438.7 346.7l0.8-1 1.5-1.1 1-0.3 1.5 0 1.5 0.6 1 0.8 0.7 1 0.2 1.5-0.7 1.5-1.2 1-1.5 0.6-1.5 0-2-0.9-1.3-1.2-0.5-1zM426.5 349.2l0.4-1 1.1-1.2 1.5-0.9 1.5-0.4 1.5 0.1 1.5 0.6 1.8 1.3 0.6 1-0.2 1-1.2 1.6-1.5 0.9-2 0.5-1.5-0.2-1.6-0.8-1.6-1.5zM420.5 346.8l2 0.5 1.3 0.9 0.7 1 0.1 1-0.7 1.5-1.9 2-0.5 1 0.9 2.5 0.3 1.5 0 2-0.6 2-0.7 1-0.9 0.7-1.5 0.4-1.5 0-1-0.3-1-0.6-0.7-0.7-0.6-1.5-0.2-2 0.1-1.5 0.5-1.5 1.1-2 0.1-0.5-1.4-3 0-1.5 0.6-1.5 1.4-1 1.6-0.4zM365.7 358.7l0.8-1 1-0.5 1.5-0.2 1.5 0.2 1 0.4 0.6 0.6 0.5 1 0.1 1.5-0.7 1-1 0.6-1.5 0.3-2-0.2-1-0.5-0.6-0.7-0.3-1zM366.2 372.2l0.6-1 1.2-0.6 1.5-0.3 1.5 0.1 1 0.4 1 0.9 0.3 1 0 1-0.4 1-1.2 1-1.2 0.3-2 0-1-0.4-1.1-0.9-0.3-1zM387.5 377.7l1 0.5 1.2 1 1.7 3.5 1.6 1.4 0.8 1.1 0.4 1 0.2 1-0.3 2-0.9 1.5-1.2 0.8-1.5 0.3-3 0-0.5 0.3-1.5 1.8-2.4 1.3-0.6 0.5-0.2 0.5-0.1 1 0.3 2.5-0.1 2-0.9 3.7 0.2 3.8-0.2 1-0.5 0.6-1.5 0.7-2 0.1-1.5-0.2-1-0.5-0.5-0.5-0.4-0.7-0.3-1 0.1-2 0.8-3 0-2.5 0.2-1.5 0.9-1.5 2-2 0.7-1 0.3-1 0.1-3.5 0.6-1.6 1-1.1 1-0.5 2.1-0.8 0-0.5-3.2-2.5-0.6-1 0-1 0.5-1 0.7-1 2-1.6 2-0.6zM355 381.2l0.5-0.7 1-0.6 1.5-0.1 1 0.2 1 0.6 0.4 0.6 0.2 1-0.1 1-0.5 0.8-1 0.6-1 0.1-1.5-0.1-1-0.5-0.6-0.9-0.1-1zM337 381.6l1.5-0.1 1.5 0.4 1 0.8 0.7 1.5 0.1 2-0.3 1.5-1 1.5-1 0.5-1.5 0.2-1.5-0.3-1.1-0.9-0.7-1.5-0.2-2 0.3-1.5 0.7-1.1 0.5-0.5zM405.2 382.7l0.8-0.7 1-0.1 1 0 0.6 0.3 0.4 0.5 0.1 1-0.5 0.5-0.6 0.3-1.5 0-0.9-0.3-0.4-0.5zM458.2 385.2l0.6 1 0.2 1.5-0.6 1.5-1 1-1.9 1.2-2 0.6-1 0-1-0.2-0.8-0.6-0.3-1 0.3-1.5 0.9-1.5 1-1 1.9-1.2 1.5-0.4 1 0zM493 389.5l1.5-0.1 1 0.3 0.7 0.5 0.5 1 0.2 1.5-0.3 1.5-0.6 0.8-1 0.6-1.5 0.1-1-0.4-0.6-0.6-0.5-1-0.1-1.5 0.1-1 0.6-1zM439 394.7l1.5-0.5 2.5 0 1.5 0.6 0.9 0.9 0.5 1.5-0.2 2.5-0.7 1.4-1 1-1.5 0.6-2 0.1-1.5-0.5-1.2-1.1-0.7-1.5 0-2.5 0.7-1.5zM474.6 400.2l0.7-1 1.2-0.6 1.5-0.2 2 0.2 1 0.4 0.9 0.7 0.4 1 0 1-0.2 0.5-0.6 0.5-1 0.3-1.5 0.2-2-0.2-1.1-0.3-0.9-0.7-0.4-0.8zM424.5 400.6l1.1 0.1 0.4 0.3 0.3 0.7 0.1 1-0.4 1-0.5 0.4-0.5 0.1-1-0.2-0.5-0.7-0.2-0.6 0.3-1.5 0.4-0.4zM463.5 409.3l0.5 0.4 0.6 1 0.1 1.5-0.3 1-0.4 0.5-1.5 0.9-2 0.6-3 0.1-2-0.2-5-0.8-1 0.2-2.5 1.5-2.6 0.7-1 0.5-0.1 0.5 0.2 1.9 0.5 1.9 2.3 2.2 0.7 1.5 0.1 2.5-0.8 3 0 0.5 2.4 3 0.9 2 0.2 2-0.5 1.5-1.3 1.7-1.5 0.9-2 0.2-2-0.5-0.5 0-0.5 0.3-2.3 2.4 0 0.5 1.4 1.5 0.7 1 0.3 1.5-0.3 2.5-0.5 1-0.8 1-1.5 0.9-6.9 1.6-1.1 0.5-2 1.2-3.5 1.9-1 1.1-1.6 3.3-0.9 0.9-1.5 0.3-1-0.3-0.8-0.9-0.4-1-0.2-1.5 0.2-1 0.4-1 0.8-1 2.5-1.4 0.5-0.5 0.7-3.6 0.7-1.5 1.1-0.7 4-0.7 3.5-1.6 0.7-0.5 2.3-2.5 0.2-0.5-2.7-1.9-1-1.6-0.2-1 0-1.5 0.6-2 1.1-1.2 1.5-0.8 2.5-0.4 3 0.1 0.5-0.2 0.7-1.5 0.2-1.5-1.1-2.5-0.6-2.5-0.4-0.5-0.9-0.5-2.4-0.8-1-0.7-0.8-1-0.5-1-0.1-1 0-1.5 0.4-2-0.1-0.5-1.9-1.9-1-0.5-3 0.7-3 0-0.9 0.2-0.1 0.5 0.3 2 0 2-0.5 1.5-1.3 2 0 0.5 0.9 2.5 0.1 1.5-0.4 1.5-0.8 1-1.3 0.7-1.5 0-1.5-0.5-1.1-1.2-0.4-2 0.4-2 1.2-2 0-0.5-1-2.5-0.2-2 0.2-2 1-2-0.1-0.3-0.5-0.2-1.5 0.1-4 1.2-2 0.3-2.5-0.1-2-0.5-1.5-1-0.9-1.5-0.1-1 0.1-1.5 0.7-1.5 0.7-0.7 1-0.6 1.5-0.5 1.5-0.1 3 0.3 3 0.9 4 0.9 2 0.8 0.5-0.1 2.5-2.1 1-0.5 1-0.3 3 0.2 1.5 0.6 2 1.2 0.5 0 2.5-0.8 2-0.3 1.5 0 3.5 0.4 2-0.4 2.5-0.1 0.5-0.2 1.6-2.1 0.9-0.8 1-0.5 1.5-0.2 1.5 0.2 1.5 0.7 0.6 0.6 1.4 2.1 0.5 0.4 4 0.7zM490 404.7l0.6 1-0.1 1.5-0.8 1.5-1.7 1.5-2.5 1.6-2 0.8-1 0.1-1-0.2-1.1-0.8-0.4-0.7-0.1-0.8 0.5-1.5 1.6-2.1 2-1.8 1.5-0.7 2-0.4 1.5 0.3zM391.5 405.6l0.6 0.6 0.3 1 0 1-0.2 1-0.8 1-1.8 1-0.6 0.5-0.4 1-0.6 3-0.5 0.9-0.6 0.6-0.9 0.4-1.5 0-1-0.4-0.8-1-0.4-1.5-0.1-2.5 0.4-1 0.7-0.5 2.2-0.7 1-0.6 0.5-0.8 0.7-1.9 0.8-1.1 0.5-0.3 1-0.2 1 0.2zM366.7 412.2l0.5 1.5-0.1 2-0.8 1.5-1.3 0.9-1.5 0.3-2-0.3-1-0.5-1.5-1.5-0.5 1-0.3 1.1-0.7 1.1-1 0.7-2 0.4-1-0.1-1-0.4-0.8-0.7-0.5-1-0.2-1.5 0.2-1.5 0.8-1.2 1-0.7 1.5-0.2 1.5 0.1 1.5 0.8 1 1 0.5-0.6 0.7-2.2 0.8-1 1-0.5 1.5-0.3 1.5 0.1 1.4 0.7zM470 410.6l1-0.3 1.5 0.1 1 0.5 0.6 0.8 0.3 1 0 2-0.5 1-0.9 0.9-1 0.3-1.5-0.2-1-0.6-0.6-0.9-0.3-1.5 0.1-1.5 0.6-1zM406.8 420.2l0.4 1 0.1 1.5-0.5 1-0.8 0.7-2 0.7-6.5 0.3-0.4 0.3-0.4 2.5-0.7 0.8-1.5 0.5-2.5-0.3-0.1 3-0.9 1.2-1 0.3-1 0.1-1-0.3-0.8-0.8-0.4-1.5 0.3-1.5 0.9-0.8 1.5-0.4 1.6 0.2 0.3-0.5-0.1-1.5 0.2-1 1-1.1 1.5-0.5 0.7-0.4 0.2-2.5 0.6-1 0.5-0.4 1-0.5 2-0.3 4.5-0.3 2 0.5zM343 422.2l1 0.1 1 0.3 0.6 0.6 0.3 0.5 0.1 1-0.2 2 0.6 2.5 0.1 2-0.3 1.5-0.9 1.5-1.3 0.8-1.5 0.1-1.5-0.3-1.3-1.1-0.7-1.5-0.1-2 0.2-1.5 1-2.5 0.7-3 0.7-0.6zM409.7 430.7l1 1.5 0.4 1.5-0.2 2.5-0.5 1.5-1.4 0.6-4 0.4-1 0.4-1.2 4.6-0.8 1-1 0.7-1.5 0.5-3 0.6-1.5 0.1-0.7-0.4-0.3-0.5-0.3-1-0.1-2.5 0.4-2 1-1.5 1-0.7 1-0.5 3.9-0.8 0.6-0.3 0.5-0.7 0.9-3.5 0.6-1 1.1-1 1.4-0.5 1.5 0 1 0.3zM360 431.4l2 0 1.5 0.5 1.3 1.3 0.5 1.5 0.1 2.5-0.9 4-0.7 1.5-1.3 0.8-1.5 0-1.1-0.8-0.7-1-2.1-5-0.1-2 0.4-1.5 1.1-1.2zM372.5 436l1.5-0.3 1.5 0 1 0.4 1.2 1.1 0.6 1.5 0.4 2.5-0.7 1-1 0.7-1 0.5-1.5 0-2-0.7-1.2-1-0.6-1.5 0.1-2 0.7-1.4zM452.8 437.7l0.3-0.5 0.9-0.6 1-0.1 1 0.1 1 0.7 0.2 1.4-0.3 0.5-0.6 0.5-1.8 0.2-0.8-0.2-0.6-0.5-0.3-0.5zM386.7 439.7l0.4 1-0.3 1-0.8 0.9-1 0.7-2 0.7-1.5 0.2-1-0.3-0.7-0.7-0.2-1 0.2-1 1.7-1.5 2-0.8 1.5-0.1 1 0.2zM411.5 439l1 0.3 0.6 0.9-0.1 1.4-0.5 0.5-0.5 0-0.5-0.2-0.3-0.7-0.2-1.5zM378.5 444.5l0.6 0.7 0.3 1 0 2-0.4 1.5-1 1.3-2.5 1.4-1.5 2-2.3 1.8-0.4 0.5-1.5 4-0.6 1-1.2 1.3-0.3 0.7-0.4 3-0.4 1-0.9 1.2-2.3 1.3-0.3 0.5 0.8 1.5 0.2 1 0 1-0.4 1-1 0.9-1 0.3-2 0-1.5-0.5-0.7-0.7-0.5-1.5 0-1 0.7-2-0.2-0.5-1.8-1.6-0.7-1.9 0-2 0.6-1.5 0.6-0.6 1-0.5 3.5-0.3 1.5-0.8 0.5-0.7 0.7-2.1 0.8-1 1-0.7 1.7-0.8 0.8-0.6 0.1-0.9-0.3-2.5 0.1-1 0.4-1 0.7-0.8 2.3-1.2 1-2 0.7-0.7 1-0.6 1.5-0.5 1.5 0.1zM445.1 447.7l0.5-1 1.4-0.9 1.5-0.1 2.5 0.3 4.5 1.4 2 0.8 0.9 1 0.1 1-0.2 0.5-0.8 0.8-2 0.6-4 0.4-3.5-0.2-1.5-0.6-1-1-0.5-1.5zM414.5 447.4l1.5-0.4 1.5 0.1 1 0.3 0.9 0.8 0.6 1.5-0.1 2-0.4 1-1 0.9-1.5 0.4-1.5-0.1-1-0.3-0.9-0.9-0.5-1-0.1-2 0.6-1.5zM392.7 448.2l0.6 1 0.1 1.5-0.5 2.5-0.9 2-0.8 1-1.2 0.9-4.3 2.1-1.4 3-0.8 0.7-0.5 0.1-0.5-0.1-0.5-0.9-0.3-1.3 0.3-1.9 0.5-0.7 0.5-0.2 1.5 0 0.4-0.2 0.1-0.5-0.8-4.5 0.1-1.5 0.6-1.5 1.1-0.9 1.5-0.5 3.5-0.3zM328.6 450.7l0.6-1 0.8-0.6 1.5-0.3 1.5 0 1 0.3 1 0.6 0.5 1 0 1-0.5 1-1 0.7-1.5 0.2-1.5 0-1-0.3-0.8-0.6-0.6-1zM408 455.1l1.5 0.4 1.3 1.2 0.5 1.5 0 2-0.6 1.5-1.9 2-0.8 1.5-0.5 0.5-1 0-0.8-0.5-0.8-2-1.3-2-0.4-1.5 0.1-1.5 0.5-1.5 1.2-1.1 1.5-0.5zM354 457.7l0.5 0.3 0.2 0.7-0.2 1-0.5 0.3-0.5 0-0.2-0.3-0.3-1 0.5-1zM394 458.5l1.5-0.2 1.5 0.4 1 0.8 0.6 1.2 0.2 2-0.2 1.5-0.6 1-0.5 0.5-1 0.5-1.5 0.1-1-0.2-1-0.7-0.7-1.2-0.2-1.5 0.1-2 0.8-1.5zM432 461.5l1.5 0 1 0.4 2 2.3 1 0.6 0.4 0.4 0.3 1-0.1 1-1.3 2-0.3 2.5-1 1-1 0.4-1.5 0.3-3 0-3-0.7-0.8-0.5-0.1-0.5 0.3-0.5 2.1-1.5 0.4-0.5 0.3-4 0.6-2 1.2-1.4zM346 462.2l1.5-0.4 1.5 0.2 1 0.5 0.7 0.7 0.5 1.5-0.1 2-0.6 1.2-1 0.9-1.5 0.3-1.5-0.1-1-0.6-0.6-0.7-0.6-1.5 0-1.5 0.6-1.5zM376.5 462.2l1.5 0.2 3.5 1.6 0.5 0.6 0.1 1.1-0.5 2.5-1.1 1.9-1 0.9-1.5 1-1.5 0.3-1-0.3-1.5-1.8-1.3-2.5-0.4-1.5 0.3-1.5 0.9-1.2 1.5-1zM465.2 466.7l0.7-1 1.1-0.6 1.5-0.3 1.5 0.1 1 0.2 1.1 0.6 0.6 1 0.1 1-0.3 1-1 0.9-1.5 0.4-2 0-1.5-0.4-1-0.9-0.3-1zM394 472.5l2-0.1 1.5 0.4 1.2 0.9 0.8 1.5 0.2 2-0.5 2-1.2 1.5-1.5 0.7-1.5 0.3-1.5-0.4-1.4-1.1-0.7-1.5-0.2-2 0.3-2 1-1.4zM352.5 475.9l0.7 0.8 0.3 1.5-0.4 1-0.9 1-1.2 0.7-2 0.5-1.5-0.3-1-0.9-0.3-1-0.1-1 0.5-1 0.9-0.8 1.5-0.7 1.5-0.3 1 0zM374 475.9l0.7 0.8 0.2 1-0.2 1.5-0.3 1-0.9 0.9-1 0.5-1.5 0.2-1-0.3-0.7-0.8-0.2-1 0.2-1.5 0.5-1 0.7-0.6 1.5-0.7 1-0.2zM379 479.5l1.5-0.7 1.5 0 1.5 0.5 1 0.9 0.6 1.5 0.1 1.5-0.4 1.5-0.8 1.1-1.5 0.7-1.5 0.1-1.5-0.4-1-0.9-0.7-1.6-0.1-1.5 0.4-1.5zM393.5 485.5l1 0 0.5 0.4 0.6 1.3 0.3 3-0.5 3 0.1 0.5 1 0.4 3.5 0.7 1.3 0.9 0.6 1 0.3 1.5-0.2 2-1 1.5-1 0.6-1.5 0.3-2-0.2-1.5-1-0.8-1.2-0.4-2.5 0.4-3-0.1-0.5-1.1-1-0.7-1.5-0.2-1.5 0.2-3 0.4-1zM428 494.5l1.5-0.2 1.5 0.3 1 0.7 0.8 1.4 0.2 2-0.3 2-0.7 1.1-1.5 1-1.5 0.1-1.5-0.4-1-1-0.6-1.3-0.2-2 0.5-2 0.8-1.1zM368.5 503.3l1-0.5 2 0 1 0.4 0.9 1 0.5 1.5-0.1 1.5-0.4 1-0.9 1-1 0.4-2 0-1-0.5-0.8-0.9-0.5-1.5 0.1-1.5 0.4-1zM426.5 507.4l0.5-0.5 1-0.4 1 0 1 0.3 0.5 0.4 0.5 1-0.1 1.5-0.4 0.5-1 0.6-1.5 0-1-0.3-0.5-0.5-0.3-0.8 0-1zM402.4 509.2l0.6-0.5 0.5 0 0.6 0.5-0.1 0.5-0.5 0.4-0.5 0-0.5-0.4z"/>
<circle cx="418.8" cy="255.1" r="0.78" fill="#fff"/>
<circle cx="400.3" cy="290" r="0.41" fill="#fff"/>
<circle cx="366" cy="292.8" r="0.70" fill="#fff"/>
<circle cx="494.5" cy="268.1" r="1.02" fill="#fff"/>
<circle cx="398.1" cy="328.1" r="0.63" fill="#fff"/>
<circle cx="409" cy="330.4" r="0.78" fill="#fff"/>
<circle cx="431.3" cy="327.4" r="1.01" fill="#fff"/>
<circle cx="388.5" cy="353.8" r="0.70" fill="#fff"/>
<circle cx="397.5" cy="353.9" r="0.64" fill="#fff"/>
<circle cx="369" cy="359.8" r="0.67" fill="#fff"/>
<circle cx="369.5" cy="373.2" r="0.69" fill="#fff"/>
<circle cx="419.5" cy="349.9" r="0.86" fill="#fff"/>
<circle cx="431.5" cy="349.2" r="0.76" fill="#fff"/>
<circle cx="442.8" cy="347.8" r="1.20" fill="#fff"/>
<circle cx="418.3" cy="360.3" r="0.88" fill="#fff"/>
<circle cx="338.2" cy="385.7" r="0.82" fill="#fff"/>
<circle cx="357.7" cy="382.3" r="0.42" fill="#fff"/>
<circle cx="385.8" cy="381.3" r="0.69" fill="#fff"/>
<circle cx="382.9" cy="391.2" r="0.71" fill="#fff"/>
<circle cx="385.2" cy="414.2" r="1.02" fill="#fff"/>
<circle cx="390" cy="407.8" r="1.20" fill="#fff"/>
<circle cx="343.3" cy="424.1" r="0.70" fill="#fff"/>
<circle cx="361" cy="434.9" r="1.17" fill="#fff"/>
<circle cx="361.8" cy="440.1" r="0.48" fill="#fff"/>
<circle cx="407.1" cy="383.2" r="0.97" fill="#fff"/>
<circle cx="424.8" cy="402.3" r="0.47" fill="#fff"/>
<circle cx="441.3" cy="398.3" r="1.33" fill="#fff"/>
<circle cx="408.7" cy="411.3" r="1.31" fill="#fff"/>
<circle cx="417.2" cy="411.1" r="0.71" fill="#fff"/>
<circle cx="420" cy="427.6" r="0.97" fill="#fff"/>
<circle cx="397.8" cy="422.2" r="0.39" fill="#fff"/>
<circle cx="407.1" cy="434.3" r="1.17" fill="#fff"/>
<circle cx="445.6" cy="411.7" r="0.56" fill="#fff"/>
<circle cx="458.8" cy="411.7" r="0.83" fill="#fff"/>
<circle cx="444" cy="426.6" r="1.08" fill="#fff"/>
<circle cx="445.6" cy="437.3" r="0.53" fill="#fff"/>
<circle cx="478.3" cy="400.7" r="0.94" fill="#fff"/>
<circle cx="485.3" cy="408.3" r="0.63" fill="#fff"/>
<circle cx="494.1" cy="392.5" r="0.86" fill="#fff"/>
<circle cx="398.6" cy="441.7" r="0.94" fill="#fff"/>
<circle cx="383.7" cy="441.3" r="0.86" fill="#fff"/>
<circle cx="388.1" cy="452.2" r="1.33" fill="#fff"/>
<circle cx="353.8" cy="458.8" r="0.44" fill="#fff"/>
<circle cx="361" cy="473.7" r="0.53" fill="#fff"/>
<circle cx="349.7" cy="478.4" r="0.69" fill="#fff"/>
<circle cx="372" cy="479" r="0.70" fill="#fff"/>
<circle cx="332.1" cy="451.2" r="0.56" fill="#fff"/>
<circle cx="395.4" cy="462.4" r="0.93" fill="#fff"/>
<circle cx="394" cy="489.5" r="0.70" fill="#fff"/>
<circle cx="412.2" cy="440.9" r="0.44" fill="#fff"/>
<circle cx="406.8" cy="464.6" r="0.66" fill="#fff"/>
<circle cx="420.4" cy="462.4" r="0.54" fill="#fff"/>
<circle cx="437" cy="450.3" r="0.42" fill="#fff"/>
<circle cx="455.3" cy="438.2" r="1.18" fill="#fff"/>
<circle cx="449.8" cy="449.3" r="1.17" fill="#fff"/>
<circle cx="456.5" cy="449.9" r="0.71" fill="#fff"/>
<circle cx="469" cy="467.4" r="0.63" fill="#fff"/>
<circle cx="428.6" cy="508.7" r="0.86" fill="#fff"/>
<ellipse cx="456.3" cy="54.6" rx="3.4" ry="3.4" fill="none" stroke="#2b42e6" stroke-width="2.4"/>
<ellipse cx="380.8" cy="76" rx="5" ry="5" fill="#2b42e6"/>
<ellipse cx="460.9" cy="135.8" rx="6" ry="4.6" fill="#2b42e6"/>
<circle cx="460.9" cy="135.8" r="0.8" fill="#fff"/>
<ellipse cx="367.2" cy="162" rx="4.8" ry="4.6" fill="#2b42e6"/>
<ellipse cx="376.8" cy="164.5" rx="4.8" ry="4.8" fill="#2b42e6"/>
<ellipse cx="384.4" cy="204.3" rx="5" ry="5" fill="#2b42e6"/>
<circle cx="384.4" cy="204.3" r="0.8" fill="#fff"/>
<ellipse cx="399.3" cy="221" rx="6.5" ry="4.6" fill="#2b42e6" transform="rotate(10 399.3 221)"/>
<ellipse cx="375" cy="230.2" rx="5.3" ry="6" fill="#2b42e6" transform="rotate(20 375 230.2)"/>
<ellipse cx="392.6" cy="238.9" rx="2" ry="2" fill="#2b42e6"/>
<ellipse cx="291.1" cy="307.6" rx="5.5" ry="5.5" fill="#2b42e6"/>
<ellipse cx="306.9" cy="319.6" rx="3.3" ry="5.3" fill="none" stroke="#2b42e6" stroke-width="2.4"/>
<ellipse cx="327.2" cy="356.5" rx="5" ry="5" fill="#2b42e6"/>
<ellipse cx="273.8" cy="373.5" rx="5.5" ry="4.5" fill="#2b42e6"/>
<ellipse cx="324.7" cy="381.9" rx="5" ry="5" fill="#2b42e6"/>
<ellipse cx="330.3" cy="441.8" rx="3" ry="3" fill="#2b42e6"/>
<ellipse cx="234.9" cy="468.3" rx="5" ry="4" fill="#2b42e6"/>
<circle cx="234.9" cy="468.3" r="0.8" fill="#fff"/>
<ellipse cx="303.6" cy="498.3" rx="5" ry="5.5" fill="#2b42e6"/>
<circle cx="303.6" cy="498.3" r="0.8" fill="#fff"/>
<ellipse cx="375.6" cy="546.7" rx="4" ry="5" fill="#2b42e6"/>
<ellipse cx="397.8" cy="517" rx="5.5" ry="4.5" fill="#2b42e6"/>
<ellipse cx="403.7" cy="510.2" rx="2.5" ry="2.5" fill="#2b42e6"/>
<ellipse cx="493.9" cy="238.8" rx="6" ry="5" fill="#2b42e6"/>
<ellipse cx="545.4" cy="213.5" rx="3.6" ry="8" fill="#2b42e6"/>
<ellipse cx="523.5" cy="237" rx="2.6" ry="9" fill="#2b42e6"/>
<ellipse cx="529.5" cy="242" rx="2.6" ry="8" fill="#2b42e6"/>
<ellipse cx="518" cy="238" rx="2.2" ry="5" fill="#2b42e6"/>
<ellipse cx="545.2" cy="204" rx="1.5" ry="3.5" fill="#2b42e6"/>
<ellipse cx="523.5" cy="230.3" rx="3" ry="3.5" fill="#2b42e6"/>
<ellipse cx="521.5" cy="240.4" rx="7" ry="4.5" fill="#2b42e6"/>
<ellipse cx="530.6" cy="238.4" rx="2.5" ry="2.5" fill="#2b42e6"/>
<ellipse cx="517" cy="250.6" rx="4.5" ry="5" fill="#2b42e6"/>
<ellipse cx="532.7" cy="250.6" rx="5" ry="4" fill="#2b42e6"/>
<ellipse cx="530.6" cy="260.2" rx="7" ry="5" fill="#2b42e6"/>
<ellipse cx="525.5" cy="245.5" rx="3.5" ry="3.5" fill="#2b42e6"/>
<ellipse cx="568.3" cy="299.3" rx="4.6" ry="3.0" fill="none" stroke="#2b42e6" stroke-width="2.4"/>
<ellipse cx="602.5" cy="283" rx="5" ry="5" fill="#2b42e6"/>
<ellipse cx="621" cy="241.5" rx="7" ry="5" fill="#2b42e6"/>
<circle cx="621" cy="241.5" r="0.8" fill="#fff"/>
<ellipse cx="623" cy="272.9" rx="5" ry="5" fill="#2b42e6"/>
<circle cx="623" cy="272.9" r="0.8" fill="#fff"/>
<ellipse cx="677" cy="241" rx="5.5" ry="4.5" fill="#2b42e6"/>
<ellipse cx="662.3" cy="260.5" rx="6.5" ry="5" fill="#2b42e6"/>
<circle cx="662.3" cy="260.5" r="0.8" fill="#fff"/>
<ellipse cx="659.8" cy="203.5" rx="1.8" ry="3.5" fill="#2b42e6"/>
<ellipse cx="664.5" cy="210" rx="3.5" ry="3.5" fill="#2b42e6"/>
<ellipse cx="660.5" cy="216" rx="4.5" ry="5" fill="#2b42e6"/>
<ellipse cx="655" cy="229" rx="2.5" ry="4" fill="none" stroke="#2b42e6" stroke-width="2.4" transform="rotate(-25 655 229)"/>
<ellipse cx="663.6" cy="233.4" rx="3" ry="10" fill="#2b42e6"/>
<ellipse cx="645.8" cy="237" rx="3" ry="8" fill="#2b42e6"/>
<ellipse cx="656" cy="241" rx="10" ry="6" fill="#2b42e6"/>
<ellipse cx="652" cy="238" rx="2.5" ry="9" fill="#2b42e6"/>
<ellipse cx="659" cy="240" rx="2.5" ry="10" fill="#2b42e6"/>
<ellipse cx="668" cy="239" rx="2.8" ry="8" fill="#2b42e6"/>
<ellipse cx="646.4" cy="248.7" rx="3.5" ry="8" fill="#2b42e6"/>
<ellipse cx="647" cy="260.8" rx="1.5" ry="1.5" fill="none" stroke="#2b42e6" stroke-width="2.4"/>
<ellipse cx="663.6" cy="250" rx="2" ry="2.5" fill="#2b42e6"/>
<ellipse cx="523.3" cy="322.7" rx="5" ry="5" fill="#2b42e6"/>
<circle cx="523.3" cy="322.7" r="0.8" fill="#fff"/>
<ellipse cx="611.6" cy="321.6" rx="4.6" ry="2.6" fill="none" stroke="#2b42e6" stroke-width="2.4" transform="rotate(-12 611.6 321.6)"/>
<ellipse cx="527.6" cy="355.8" rx="6.3" ry="7" fill="#2b42e6" transform="rotate(25 527.6 355.8)"/>
<circle cx="527.6" cy="355.8" r="0.8" fill="#fff"/>
<ellipse cx="501.1" cy="354" rx="2.6" ry="1.6" fill="none" stroke="#2b42e6" stroke-width="2.4" transform="rotate(10 501.1 354)"/>
<ellipse cx="522" cy="371.1" rx="5" ry="5" fill="#2b42e6"/>
<circle cx="522" cy="371.1" r="0.8" fill="#fff"/>
<ellipse cx="579.2" cy="363.9" rx="4" ry="3.8" fill="#2b42e6"/>
<circle cx="579.2" cy="363.9" r="0.8" fill="#fff"/>
<ellipse cx="501.1" cy="402.1" rx="6" ry="4.5" fill="#2b42e6"/>
<circle cx="501.1" cy="402.1" r="0.8" fill="#fff"/>
<ellipse cx="535.2" cy="407.2" rx="4.2" ry="2.6" fill="none" stroke="#2b42e6" stroke-width="2.4" transform="rotate(-35 535.2 407.2)"/>
<ellipse cx="557.1" cy="411" rx="4.6" ry="2.6" fill="none" stroke="#2b42e6" stroke-width="2.4" transform="rotate(20 557.1 411)"/>
<ellipse cx="537.8" cy="459.9" rx="5" ry="5" fill="#2b42e6"/>
<ellipse cx="558.3" cy="371.2" rx="5.8" ry="5.6" fill="#f01010"/>
<ellipse cx="568.9" cy="374.3" rx="6" ry="6" fill="#f01010"/>
<ellipse cx="563.5" cy="372.5" rx="5" ry="5" fill="#f01010"/>
<ellipse cx="566.7" cy="364" rx="5" ry="6" fill="#f01010"/>
<ellipse cx="569.4" cy="356" rx="5.6" ry="5" fill="#f01010"/>
<ellipse cx="574" cy="356" rx="5" ry="4.6" fill="#f01010"/>
<ellipse cx="578.3" cy="356.5" rx="5" ry="4.6" fill="#f01010"/>
<ellipse cx="583" cy="358.5" rx="5" ry="4.8" fill="#f01010"/>
<ellipse cx="587.2" cy="360.9" rx="6" ry="5.5" fill="#f01010"/>
<ellipse cx="588.1" cy="365" rx="3.5" ry="3.5" fill="#f01010"/>
<ellipse cx="596.5" cy="363.9" rx="3.8" ry="2" fill="#fff" stroke="#f01010" stroke-width="1.3"/>
<ellipse cx="579.2" cy="363.9" rx="4" ry="3.8" fill="#2b42e6"/><circle cx="579.4" cy="363.9" r="0.8" fill="#fff"/>
</g>
<g fill="none" stroke="#000" stroke-width="1.7" stroke-dasharray="1.7 3.1">
<rect x="348.6" y="242.9" width="106.09999999999997" height="136.49999999999997"/>
<rect x="332.8" y="380.8" width="160.7" height="129.8"/>
</g>
<text x="356.3" y="272.2" font-size="30" textLength="16.5" lengthAdjust="spacingAndGlyphs">b</text>
<text x="337.8" y="504.2" font-size="30" textLength="13.5" lengthAdjust="spacingAndGlyphs">c</text>
<path class="k" d="M326.5 190.5L372.5 201.9M426.3 202L406.7 214.7M533.6 175.3L499.4 260.8M595.5 219L567.3 287.7M336.1 230L366.7 230.5M296.2 283.5L304.8 308.1M303.8 343.3L322.1 352.7M315.8 385.2L303.8 392.1M286.5 438.5L320.1 449.5M661.8 286.9L614.1 285.1M645.5 307.6L534.7 321.5M622 322L669.6 331.7M599.1 343.1L537.3 353.8M580.5 369L637.8 389.4M597.6 406.5L533.4 364.5M595.8 428.3L532.2 378.7M572.9 455.6L558.1 418.7M560.2 482.7L536 418.2M542.8 508.9L538.4 468.2M527.1 534.9L503.4 412.3M419.4 540.7L407.5 526.5M304.8 690.9L354.1 740.2M309.8 767.3L357.6 805M493.7 776.9L456.4 758M689.7 774.6L715.5 755.4M737.7 833.5L770.8 743.8M558.3 873.8L472.9 868.9M287.6 886L337.2 881.3M325.3 915.6L372.3 912.9M467.3 917.9L435.2 932.8M516.9 929.5L468.9 956.6M629.2 955.3L554.2 963.2M256.2 985L392.9 997.9M328 1031.4L350 1049.2M228.7 1038L310.4 1066.7M178.5 1040.3L276.7 1091.6M417.7 1023.7L402.1 1026.1M502.7 1022.8L404 1069.5M630.2 1060.1L593.2 1055.2M182.4 1102.1L222.1 1102.1M632.5 1104.1L534.9 1073.4M538.9 1099.2L485.7 1079.5M536.5 1139.2L489.5 1118.7M194.7 1157.4L227.7 1162.4M528.2 1164L410.8 1125.9M356.9 1168.3L339.7 1164M450.5 1168.3L398.6 1155M467.3 1260.8L353.8 1261.4M655.7 1267.2L641.1 1274.1M447.4 1290.4L442.5 1285.7M574.1 1295.6L580.4 1302.9M671.5 1306.9L656 1368.4M754.2 1299.6L766.5 1308.9M206.2 1291.3L200.6 1299.6M547.3 1313.8L547.3 1322.1M271.7 1308.9L293.2 1303.6M396.2 1310.5L374 1301.9M711.9 1321.1L714.6 1334.4M521.2 1336L537.7 1372.4M346.5 1335.3L323 1350.2M630.2 1347.6L625.2 1357.5M463.3 1355.9L477.9 1378.3M138.8 1313.8L138.4 1335.3M245.3 1355.9L267.4 1373.4M396.2 1365.8L387.9 1419.4M164.2 1387.3L197.3 1479.2M621.9 1429.6L600.4 1422.7M297.5 1439.2L307.5 1430.3M607 1444.5L591.2 1439.2M737.7 1422L726.8 1438.6M247.6 1476.6L265.1 1537.9M337.2 1461L347.8 1459.1M626.9 1466L600.4 1463.4M768.1 1411.1L764.2 1456.7M512.9 1465L500.4 1445.2M641.8 1485.9L602.1 1490.5M368 1504L376.3 1504.7M456.4 1495.8L445.8 1492.1M689.9 1506.3L646.7 1510.4M189.7 1529.6L202.3 1522.3M491.1 1545.2L493.7 1553.4M669.9 1536.2L630.2 1542.9M223.1 1560.4L243.6 1565.3M183.4 1566.7L225.4 1607.4M376.3 1576.6L362.1 1579.2M679.8 1579.9L646.1 1571.6M135.5 1604L143.4 1615.6M666.6 1602.4L568 1578.6M587.2 1604L535.9 1584.9M582.9 1631.5L552.5 1630.5M139.4 1666.9L198 1647.7M301.5 1568.7L310.8 1556.1M570.7 1672.2L563.3 1651.2M410.4 1675.2L389.5 1640.4M560.7 1697.3L536.8 1672.9M208.2 1700L213.9 1684.4M476.5 1702.3L448.4 1583.5M403.4 1710.6L388.9 1695M143.4 1711.6L151 1699M255.2 1728.8L260.8 1707.8M473.9 1734.5L441.5 1623.2M329 1753.6L342.9 1746.7"/>
<g class="l">
<text x="467" y="59.4" textLength="66.8" lengthAdjust="spacingAndGlyphs">G1841</text>
<text x="304.8" y="84.4" textLength="66.6" lengthAdjust="spacingAndGlyphs">G1849</text>
<text x="466.5" y="125.6" textLength="66.9" lengthAdjust="spacingAndGlyphs">G1893</text>
<text x="290" y="160.7" textLength="66.1" lengthAdjust="spacingAndGlyphs">G1895</text>
<text x="385.6" y="170.1" textLength="66.8" lengthAdjust="spacingAndGlyphs">G1927</text>
<text x="251.9" y="197.6" textLength="66.8" lengthAdjust="spacingAndGlyphs">G1902</text>
<text x="430.1" y="204.5" textLength="66.8" lengthAdjust="spacingAndGlyphs">G1931</text>
<text x="537.5" y="170.1" textLength="67" lengthAdjust="spacingAndGlyphs">N1845</text>
<text x="563.7" y="210.3" textLength="66.5" lengthAdjust="spacingAndGlyphs">N1871</text>
<text x="262.8" y="235.6" textLength="66.6" lengthAdjust="spacingAndGlyphs">G1923</text>
<text x="261" y="278.4" textLength="65.9" lengthAdjust="spacingAndGlyphs">D1864</text>
<text x="218.8" y="314" textLength="62.5" lengthAdjust="spacingAndGlyphs">E1844</text>
<text x="233.6" y="351.4" textLength="67.8" lengthAdjust="spacingAndGlyphs">Q1877</text>
<text x="202.2" y="381.9" textLength="62.6" lengthAdjust="spacingAndGlyphs">S1873</text>
<text x="244.5" y="412.6" textLength="61.5" lengthAdjust="spacingAndGlyphs">K1857</text>
<text x="223.4" y="445.4" textLength="60.5" lengthAdjust="spacingAndGlyphs">L1884</text>
<text x="156.7" y="483.6" textLength="67.4" lengthAdjust="spacingAndGlyphs">Q1874</text>
<text x="231" y="512.3" textLength="63.5" lengthAdjust="spacingAndGlyphs">K1843</text>
<text x="293.9" y="554.3" textLength="65.5" lengthAdjust="spacingAndGlyphs">A1817</text>
<text x="664.4" y="292.4" textLength="62" lengthAdjust="spacingAndGlyphs">F1868</text>
<text x="648.7" y="315.2" textLength="61.9" lengthAdjust="spacingAndGlyphs">S1872</text>
<text x="673" y="338" textLength="63" lengthAdjust="spacingAndGlyphs">T1846</text>
<text x="602.6" y="352.5" textLength="61.5" lengthAdjust="spacingAndGlyphs">S1842</text>
<text x="643.2" y="392.5" textLength="62.8" lengthAdjust="spacingAndGlyphs">K1859</text>
<text x="605.7" y="414.1" textLength="61" lengthAdjust="spacingAndGlyphs">L1858</text>
<text x="602.6" y="440.3" textLength="63.6" lengthAdjust="spacingAndGlyphs">R1835</text>
<text x="577.9" y="467" textLength="55.9" lengthAdjust="spacingAndGlyphs">I1887</text>
<text x="562.5" y="498.7" textLength="63.5" lengthAdjust="spacingAndGlyphs">R1885</text>
<text x="538.8" y="529.3" textLength="56.2" lengthAdjust="spacingAndGlyphs">I1836</text>
<text x="528.5" y="554.7" textLength="55.7" lengthAdjust="spacingAndGlyphs">I1941</text>
<text x="430.9" y="530.3" textLength="61.5" lengthAdjust="spacingAndGlyphs">Y1879</text>
<text x="419.4" y="555.7" textLength="64.8" lengthAdjust="spacingAndGlyphs">A1863</text>
<text x="262.7" y="685.9" textLength="63.4" lengthAdjust="spacingAndGlyphs">T1925</text>
<text x="250.1" y="760.4" textLength="62.7" lengthAdjust="spacingAndGlyphs">S1878</text>
<text x="147.6" y="822.6" textLength="62.7" lengthAdjust="spacingAndGlyphs">S1933</text>
<text x="491.3" y="678.7" textLength="64.1" lengthAdjust="spacingAndGlyphs">T1916</text>
<text x="493.6" y="781.9" textLength="65.1" lengthAdjust="spacingAndGlyphs">T1951</text>
<text x="634.4" y="799.4" textLength="80.6" lengthAdjust="spacingAndGlyphs">N1845δ</text>
<text x="696.6" y="858.9" textLength="67" lengthAdjust="spacingAndGlyphs">N1845</text>
<text x="565.6" y="880.2" textLength="63.3" lengthAdjust="spacingAndGlyphs">T1901</text>
<text x="217" y="895.4" textLength="63.4" lengthAdjust="spacingAndGlyphs">S1818</text>
<text x="258.4" y="924.5" textLength="61.7" lengthAdjust="spacingAndGlyphs">T1899</text>
<text x="461.5" y="914.6" textLength="62.4" lengthAdjust="spacingAndGlyphs">T1918</text>
<text x="521.1" y="932.5" textLength="62.4" lengthAdjust="spacingAndGlyphs">S1824</text>
<text x="631.7" y="958.6" textLength="62.7" lengthAdjust="spacingAndGlyphs">S1861</text>
<text x="184.3" y="990.7" textLength="63" lengthAdjust="spacingAndGlyphs">T1914</text>
<text x="272.6" y="1021.1" textLength="64" lengthAdjust="spacingAndGlyphs">Y1860</text>
<text x="184.9" y="1029.7" textLength="65.1" lengthAdjust="spacingAndGlyphs">R1891</text>
<text x="115.5" y="1033.7" textLength="63.4" lengthAdjust="spacingAndGlyphs">S1900</text>
<text x="427.8" y="1023.7" textLength="64" lengthAdjust="spacingAndGlyphs">C1946</text>
<text x="510.5" y="1023.7" textLength="63" lengthAdjust="spacingAndGlyphs">E1892</text>
<text x="636" y="1067.7" textLength="72.3" lengthAdjust="spacingAndGlyphs">M1889</text>
<text x="117.1" y="1105" textLength="62.4" lengthAdjust="spacingAndGlyphs">F1837</text>
<text x="638.3" y="1111.4" textLength="62.4" lengthAdjust="spacingAndGlyphs">E1855</text>
<text x="539.4" y="1120" textLength="63.1" lengthAdjust="spacingAndGlyphs">T1910</text>
<text x="541.5" y="1149.5" textLength="62.3" lengthAdjust="spacingAndGlyphs">E1892</text>
<text x="130.4" y="1160.7" textLength="63.3" lengthAdjust="spacingAndGlyphs">K1870</text>
<text x="534.7" y="1178" textLength="62.2" lengthAdjust="spacingAndGlyphs">S1917</text>
<text x="362.7" y="1186.1" textLength="62.7" lengthAdjust="spacingAndGlyphs">S1825</text>
<text x="456.3" y="1185.3" textLength="64.1" lengthAdjust="spacingAndGlyphs">R1882</text>
<text x="479.1" y="1270.5" textLength="58.7" lengthAdjust="spacingAndGlyphs">E1852</text>
<text x="660.8" y="1276.5" textLength="59.1" lengthAdjust="spacingAndGlyphs">E1881</text>
<text x="449.9" y="1294" textLength="60.8" lengthAdjust="spacingAndGlyphs">R1934</text>
<text x="531" y="1290.4" textLength="64.9" lengthAdjust="spacingAndGlyphs">Q1944</text>
<text x="653.2" y="1299" textLength="56.8" lengthAdjust="spacingAndGlyphs">L1939</text>
<text x="722.7" y="1294" textLength="56.8" lengthAdjust="spacingAndGlyphs">L1869</text>
<text x="149.5" y="1315.2" textLength="53.8" lengthAdjust="spacingAndGlyphs">I1840</text>
<text x="502.9" y="1308.9" textLength="60.7" lengthAdjust="spacingAndGlyphs">R1938</text>
<text x="210.4" y="1324.4" textLength="59.1" lengthAdjust="spacingAndGlyphs">S1920</text>
<text x="400.3" y="1317.8" textLength="63.4" lengthAdjust="spacingAndGlyphs">N1924</text>
<text x="685" y="1317.8" textLength="60.4" lengthAdjust="spacingAndGlyphs">K1940</text>
<text x="473.8" y="1329.4" textLength="59" lengthAdjust="spacingAndGlyphs">K1894</text>
<text x="350.7" y="1340" textLength="64.1" lengthAdjust="spacingAndGlyphs">Q1906</text>
<text x="602.3" y="1344.3" textLength="53.1" lengthAdjust="spacingAndGlyphs">I1903</text>
<text x="426.8" y="1345.9" textLength="59.7" lengthAdjust="spacingAndGlyphs">K1828</text>
<text x="113.2" y="1354.9" textLength="62.4" lengthAdjust="spacingAndGlyphs">D1862</text>
<text x="206.4" y="1350.2" textLength="63.1" lengthAdjust="spacingAndGlyphs">N1950</text>
<text x="364.6" y="1360.8" textLength="59.1" lengthAdjust="spacingAndGlyphs">E1928</text>
<text x="111.2" y="1380.7" textLength="62.7" lengthAdjust="spacingAndGlyphs">N1830</text>
<text x="197.2" y="1385.6" textLength="58.4" lengthAdjust="spacingAndGlyphs">S1898</text>
<text x="110.5" y="1432.6" textLength="59.8" lengthAdjust="spacingAndGlyphs">Y1854</text>
<text x="625.4" y="1436.9" textLength="59.8" lengthAdjust="spacingAndGlyphs">E1937</text>
<text x="229.6" y="1448.5" textLength="61.7" lengthAdjust="spacingAndGlyphs">D1949</text>
<text x="612.9" y="1453.4" textLength="60.7" lengthAdjust="spacingAndGlyphs">R1896</text>
<text x="692.9" y="1459.1" textLength="61.7" lengthAdjust="spacingAndGlyphs">V1886</text>
<text x="195.9" y="1470" textLength="62" lengthAdjust="spacingAndGlyphs">D1954</text>
<text x="270.3" y="1469.3" textLength="61.4" lengthAdjust="spacingAndGlyphs">D1955</text>
<text x="631.1" y="1471" textLength="57.4" lengthAdjust="spacingAndGlyphs">L1948</text>
<text x="717.1" y="1478.9" textLength="59.7" lengthAdjust="spacingAndGlyphs">K1839</text>
<text x="488" y="1487.5" textLength="60.7" lengthAdjust="spacingAndGlyphs">V1930</text>
<text x="256.7" y="1492" textLength="59.1" lengthAdjust="spacingAndGlyphs">K1823</text>
<text x="643.6" y="1492.4" textLength="61.4" lengthAdjust="spacingAndGlyphs">E1848</text>
<text x="300.1" y="1509.4" textLength="65" lengthAdjust="spacingAndGlyphs">M1907</text>
<text x="458.9" y="1508" textLength="60.7" lengthAdjust="spacingAndGlyphs">V1909</text>
<text x="694.7" y="1513" textLength="59.3" lengthAdjust="spacingAndGlyphs">E1866</text>
<text x="110.5" y="1518" textLength="62.4" lengthAdjust="spacingAndGlyphs">N1926</text>
<text x="126.1" y="1539.5" textLength="60" lengthAdjust="spacingAndGlyphs">C1911</text>
<text x="456.6" y="1536.9" textLength="61.7" lengthAdjust="spacingAndGlyphs">V1919</text>
<text x="674.7" y="1538.9" textLength="60.1" lengthAdjust="spacingAndGlyphs">Y1935</text>
<text x="188.2" y="1553.4" textLength="59.8" lengthAdjust="spacingAndGlyphs">S1904</text>
<text x="123.1" y="1562.7" textLength="64.7" lengthAdjust="spacingAndGlyphs">Q1953</text>
<text x="377.2" y="1575.9" textLength="60.7" lengthAdjust="spacingAndGlyphs">D1831</text>
<text x="681.3" y="1586.5" textLength="61.8" lengthAdjust="spacingAndGlyphs">A1851</text>
<text x="111.2" y="1594.1" textLength="59.4" lengthAdjust="spacingAndGlyphs">E1929</text>
<text x="669.8" y="1610" textLength="57.7" lengthAdjust="spacingAndGlyphs">F1832</text>
<text x="592.4" y="1618.3" textLength="53.1" lengthAdjust="spacingAndGlyphs">I1922</text>
<text x="590.4" y="1637.1" textLength="61" lengthAdjust="spacingAndGlyphs">R1956</text>
<text x="707.8" y="1636.1" textLength="61.1" lengthAdjust="spacingAndGlyphs">V1934</text>
<text x="295.8" y="1659.6" textLength="59" lengthAdjust="spacingAndGlyphs">E1908</text>
<text x="571.7" y="1686.7" textLength="56.6" lengthAdjust="spacingAndGlyphs">L1942</text>
<text x="395.4" y="1692.7" textLength="60" lengthAdjust="spacingAndGlyphs">K1847</text>
<text x="540" y="1718.8" textLength="59.2" lengthAdjust="spacingAndGlyphs">K1838</text>
<text x="183.3" y="1723.8" textLength="59.7" lengthAdjust="spacingAndGlyphs">Y1856</text>
<text x="475.7" y="1724.6" textLength="52.2" lengthAdjust="spacingAndGlyphs">I1820</text>
<text x="388.7" y="1728.8" textLength="59.8" lengthAdjust="spacingAndGlyphs">K1826</text>
<text x="112.2" y="1736.5" textLength="57.4" lengthAdjust="spacingAndGlyphs">L1853</text>
<text x="270.9" y="1737.5" textLength="60.8" lengthAdjust="spacingAndGlyphs">R1819</text>
<text x="208.1" y="1751" textLength="57.4" lengthAdjust="spacingAndGlyphs">L1850</text>
<text x="445" y="1757.6" textLength="52.4" lengthAdjust="spacingAndGlyphs">I1897</text>
<text x="535.9" y="1768.2" textLength="62.5" lengthAdjust="spacingAndGlyphs">A1827</text>
<text x="280.9" y="1772.5" textLength="58.1" lengthAdjust="spacingAndGlyphs">F1876</text>
<text x="183.3" y="1801.3" textLength="60.7" lengthAdjust="spacingAndGlyphs">D1821</text>
<text x="310" y="1802.5" textLength="60.1" lengthAdjust="spacingAndGlyphs">K1952</text>
<text transform="translate(132.7 1686.6) rotate(-90)" textLength="57.5" lengthAdjust="spacingAndGlyphs">E1822</text>
<text transform="translate(263 1621.5) rotate(-40)" textLength="62" lengthAdjust="spacingAndGlyphs">A1834</text>
</g>
<rect x="109.0" y="3.7" width="674.8" height="558.0" fill="none" stroke="#000" stroke-width="1.7"/>
<path class="k" stroke-width="1.6" d="M89.3 31.9H109M89.3 148.4H109M89.3 264.9H109M89.3 381.4H109M89.3 497.9H109M99.2 8.6H109M99.2 55.2H109M99.2 78.5H109M99.2 101.8H109M99.2 125.1H109M99.2 171.7H109M99.2 195H109M99.2 218.3H109M99.2 241.6H109M99.2 288.2H109M99.2 311.5H109M99.2 334.8H109M99.2 358.1H109M99.2 404.7H109M99.2 428H109M99.2 451.3H109M99.2 474.6H109M99.2 521.2H109M99.2 544.5H109M724.3 561.7V581.1M631 561.7V581.1M537.8 561.7V581.1M444.6 561.7V581.1M351.3 561.7V581.1M258.1 561.7V581.1M164.8 561.7V581.1M780.2 561.7V571.4M761.6 561.7V571.4M743 561.7V571.4M705.7 561.7V571.4M687 561.7V571.4M668.4 561.7V571.4M649.7 561.7V571.4M612.4 561.7V571.4M593.8 561.7V571.4M575.1 561.7V571.4M556.4 561.7V571.4M519.2 561.7V571.4M500.5 561.7V571.4M481.9 561.7V571.4M463.2 561.7V571.4M425.9 561.7V571.4M407.3 561.7V571.4M388.6 561.7V571.4M369.9 561.7V571.4M332.7 561.7V571.4M314 561.7V571.4M295.3 561.7V571.4M276.7 561.7V571.4M239.4 561.7V571.4M220.8 561.7V571.4M202.1 561.7V571.4M183.4 561.7V571.4M146.2 561.7V571.4M127.5 561.7V571.4"/>
<g class="t">
<text x="48.9" y="38.3" textLength="31.6" lengthAdjust="spacingAndGlyphs">105</text>
<text x="48.9" y="154.8" textLength="31.6" lengthAdjust="spacingAndGlyphs">110</text>
<text x="48.9" y="271.3" textLength="31.6" lengthAdjust="spacingAndGlyphs">115</text>
<text x="48.9" y="387.8" textLength="31.6" lengthAdjust="spacingAndGlyphs">120</text>
<text x="48.9" y="504.3" textLength="31.6" lengthAdjust="spacingAndGlyphs">125</text>
<text x="710.4" y="599" textLength="27.6" lengthAdjust="spacingAndGlyphs">6.5</text>
<text x="617.1" y="599" textLength="27.6" lengthAdjust="spacingAndGlyphs">7.0</text>
<text x="523.9" y="599" textLength="27.6" lengthAdjust="spacingAndGlyphs">7.5</text>
<text x="430.7" y="599" textLength="27.6" lengthAdjust="spacingAndGlyphs">8.0</text>
<text x="337.4" y="599" textLength="27.6" lengthAdjust="spacingAndGlyphs">8.5</text>
<text x="244.2" y="599" textLength="27.6" lengthAdjust="spacingAndGlyphs">9.0</text>
<text x="150.9" y="599" textLength="27.6" lengthAdjust="spacingAndGlyphs">9.5</text>
</g>
<g class="ax" transform="translate(25.9 0) rotate(-90)">
<text x="-350.5" y="0">δ</text>
<text x="-322.6" y="-11.6" font-size="19" textLength="18" lengthAdjust="spacingAndGlyphs">15</text>
<text x="-302.6" y="0">N</text>
<text x="-269" y="0" textLength="67.5" lengthAdjust="spacingAndGlyphs">(ppm)</text>
</g>
<rect x="109.0" y="634.5" width="674.8" height="557.7" fill="none" stroke="#000" stroke-width="1.7"/>
<path class="k" stroke-width="1.6" d="M89.3 701H109M89.3 799.9H109M89.3 898.8H109M89.3 997.7H109M89.3 1096.6H109M99.2 641.7H109M99.2 661.4H109M99.2 681.2H109M99.2 720.8H109M99.2 740.6H109M99.2 760.3H109M99.2 780.1H109M99.2 819.7H109M99.2 839.5H109M99.2 859.2H109M99.2 879H109M99.2 918.6H109M99.2 938.4H109M99.2 958.1H109M99.2 977.9H109M99.2 1017.5H109M99.2 1037.3H109M99.2 1057H109M99.2 1076.8H109M99.2 1116.4H109M99.2 1136.2H109M99.2 1155.9H109M99.2 1175.7H109M728.7 1192.2V1211.6M649.7 1192.2V1211.6M570.6 1192.2V1211.6M491.5 1192.2V1211.6M412.5 1192.2V1211.6M333.4 1192.2V1211.6M254.4 1192.2V1211.6M175.3 1192.2V1211.6M776.2 1192.2V1201.9M760.3 1192.2V1201.9M744.5 1192.2V1201.9M712.9 1192.2V1201.9M697.1 1192.2V1201.9M681.3 1192.2V1201.9M665.5 1192.2V1201.9M633.8 1192.2V1201.9M618 1192.2V1201.9M602.2 1192.2V1201.9M586.4 1192.2V1201.9M554.8 1192.2V1201.9M539 1192.2V1201.9M523.2 1192.2V1201.9M507.4 1192.2V1201.9M475.7 1192.2V1201.9M459.9 1192.2V1201.9M444.1 1192.2V1201.9M428.3 1192.2V1201.9M396.7 1192.2V1201.9M380.9 1192.2V1201.9M365 1192.2V1201.9M349.2 1192.2V1201.9M317.6 1192.2V1201.9M301.8 1192.2V1201.9M286 1192.2V1201.9M270.2 1192.2V1201.9M238.5 1192.2V1201.9M222.7 1192.2V1201.9M206.9 1192.2V1201.9M191.1 1192.2V1201.9M159.5 1192.2V1201.9M143.7 1192.2V1201.9M127.9 1192.2V1201.9M112.1 1192.2V1201.9"/>
<g class="t">
<text x="50.599999999999994" y="707.4" textLength="33.2" lengthAdjust="spacingAndGlyphs">115</text>
<text x="50.599999999999994" y="806.3" textLength="33.2" lengthAdjust="spacingAndGlyphs">116</text>
<text x="50.599999999999994" y="905.2" textLength="33.2" lengthAdjust="spacingAndGlyphs">117</text>
<text x="50.599999999999994" y="1004.1" textLength="33.2" lengthAdjust="spacingAndGlyphs">118</text>
<text x="50.599999999999994" y="1103" textLength="33.2" lengthAdjust="spacingAndGlyphs">119</text>
<text x="714.8" y="1229.5" textLength="27.6" lengthAdjust="spacingAndGlyphs">7.8</text>
<text x="635.8" y="1229.5" textLength="27.6" lengthAdjust="spacingAndGlyphs">7.9</text>
<text x="556.7" y="1229.5" textLength="27.6" lengthAdjust="spacingAndGlyphs">8.0</text>
<text x="477.6" y="1229.5" textLength="27.6" lengthAdjust="spacingAndGlyphs">8.1</text>
<text x="398.6" y="1229.5" textLength="27.6" lengthAdjust="spacingAndGlyphs">8.2</text>
<text x="319.5" y="1229.5" textLength="27.6" lengthAdjust="spacingAndGlyphs">8.3</text>
<text x="240.5" y="1229.5" textLength="27.6" lengthAdjust="spacingAndGlyphs">8.4</text>
<text x="161.4" y="1229.5" textLength="27.6" lengthAdjust="spacingAndGlyphs">8.5</text>
</g>
<g class="ax" transform="translate(25.9 633.3) rotate(-90)">
<text x="-350.5" y="0">δ</text>
<text x="-322.6" y="-11.6" font-size="19" textLength="18" lengthAdjust="spacingAndGlyphs">15</text>
<text x="-302.6" y="0">N</text>
<text x="-269" y="0" textLength="67.5" lengthAdjust="spacingAndGlyphs">(ppm)</text>
</g>
<rect x="109.0" y="1254.6" width="674.8" height="557.6000000000001" fill="none" stroke="#000" stroke-width="1.7"/>
<path class="k" stroke-width="1.6" d="M89.3 1268.8H109M89.3 1367.7H109M89.3 1466.5H109M89.3 1565.4H109M89.3 1664.2H109M89.3 1763.1H109M99.2 1288.6H109M99.2 1308.3H109M99.2 1328.1H109M99.2 1347.9H109M99.2 1387.4H109M99.2 1407.2H109M99.2 1427H109M99.2 1446.7H109M99.2 1486.3H109M99.2 1506.1H109M99.2 1525.8H109M99.2 1545.6H109M99.2 1585.2H109M99.2 1604.9H109M99.2 1624.7H109M99.2 1644.5H109M99.2 1684H109M99.2 1703.8H109M99.2 1723.6H109M99.2 1743.3H109M99.2 1782.9H109M99.2 1802.6H109M736.1 1812.2V1831.6M657 1812.2V1831.6M578 1812.2V1831.6M498.9 1812.2V1831.6M419.8 1812.2V1831.6M340.7 1812.2V1831.6M261.6 1812.2V1831.6M182.5 1812.2V1831.6M767.8 1812.2V1821.9M751.9 1812.2V1821.9M720.3 1812.2V1821.9M704.5 1812.2V1821.9M688.7 1812.2V1821.9M672.9 1812.2V1821.9M641.2 1812.2V1821.9M625.4 1812.2V1821.9M609.6 1812.2V1821.9M593.8 1812.2V1821.9M562.1 1812.2V1821.9M546.3 1812.2V1821.9M530.5 1812.2V1821.9M514.7 1812.2V1821.9M483 1812.2V1821.9M467.2 1812.2V1821.9M451.4 1812.2V1821.9M435.6 1812.2V1821.9M404 1812.2V1821.9M388.1 1812.2V1821.9M372.3 1812.2V1821.9M356.5 1812.2V1821.9M324.9 1812.2V1821.9M309 1812.2V1821.9M293.2 1812.2V1821.9M277.4 1812.2V1821.9M245.8 1812.2V1821.9M230 1812.2V1821.9M214.1 1812.2V1821.9M198.3 1812.2V1821.9M166.7 1812.2V1821.9M150.9 1812.2V1821.9M135 1812.2V1821.9M119.2 1812.2V1821.9"/>
<g class="t">
<text x="50.599999999999994" y="1275.2" textLength="33.2" lengthAdjust="spacingAndGlyphs">120</text>
<text x="50.599999999999994" y="1374.1" textLength="33.2" lengthAdjust="spacingAndGlyphs">121</text>
<text x="50.599999999999994" y="1472.9" textLength="33.2" lengthAdjust="spacingAndGlyphs">122</text>
<text x="50.599999999999994" y="1571.8" textLength="33.2" lengthAdjust="spacingAndGlyphs">123</text>
<text x="50.599999999999994" y="1670.6" textLength="33.2" lengthAdjust="spacingAndGlyphs">124</text>
<text x="50.599999999999994" y="1769.5" textLength="33.2" lengthAdjust="spacingAndGlyphs">125</text>
<text x="722.2" y="1849.5" textLength="27.6" lengthAdjust="spacingAndGlyphs">7.8</text>
<text x="643.1" y="1849.5" textLength="27.6" lengthAdjust="spacingAndGlyphs">7.9</text>
<text x="564.1" y="1849.5" textLength="27.6" lengthAdjust="spacingAndGlyphs">8.0</text>
<text x="485" y="1849.5" textLength="27.6" lengthAdjust="spacingAndGlyphs">8.1</text>
<text x="405.9" y="1849.5" textLength="27.6" lengthAdjust="spacingAndGlyphs">8.2</text>
<text x="326.8" y="1849.5" textLength="27.6" lengthAdjust="spacingAndGlyphs">8.3</text>
<text x="247.7" y="1849.5" textLength="27.6" lengthAdjust="spacingAndGlyphs">8.4</text>
<text x="168.6" y="1849.5" textLength="27.6" lengthAdjust="spacingAndGlyphs">8.5</text>
</g>
<g class="ax" transform="translate(25.9 1236.9) rotate(-90)">
<text x="-350.5" y="0">δ</text>
<text x="-322.6" y="-11.6" font-size="19" textLength="18" lengthAdjust="spacingAndGlyphs">15</text>
<text x="-302.6" y="0">N</text>
<text x="-269" y="0" textLength="67.5" lengthAdjust="spacingAndGlyphs">(ppm)</text>
</g>
<g font-weight="bold" font-size="34">
<text x="125" y="41.4">a</text><text x="124" y="668.9" font-size="36">b</text><text x="124" y="1797.3">c</text></g>
<g class="ax" style="font-size:24.5px"><text x="374.5" y="1900.6">δ</text><text x="398" y="1888.6" font-size="17.5">1</text><text x="408.4" y="1900.6">H</text><text x="434.7" y="1900.6" textLength="68.5" lengthAdjust="spacingAndGlyphs">(ppm)</text></g>
</svg></body></html>
